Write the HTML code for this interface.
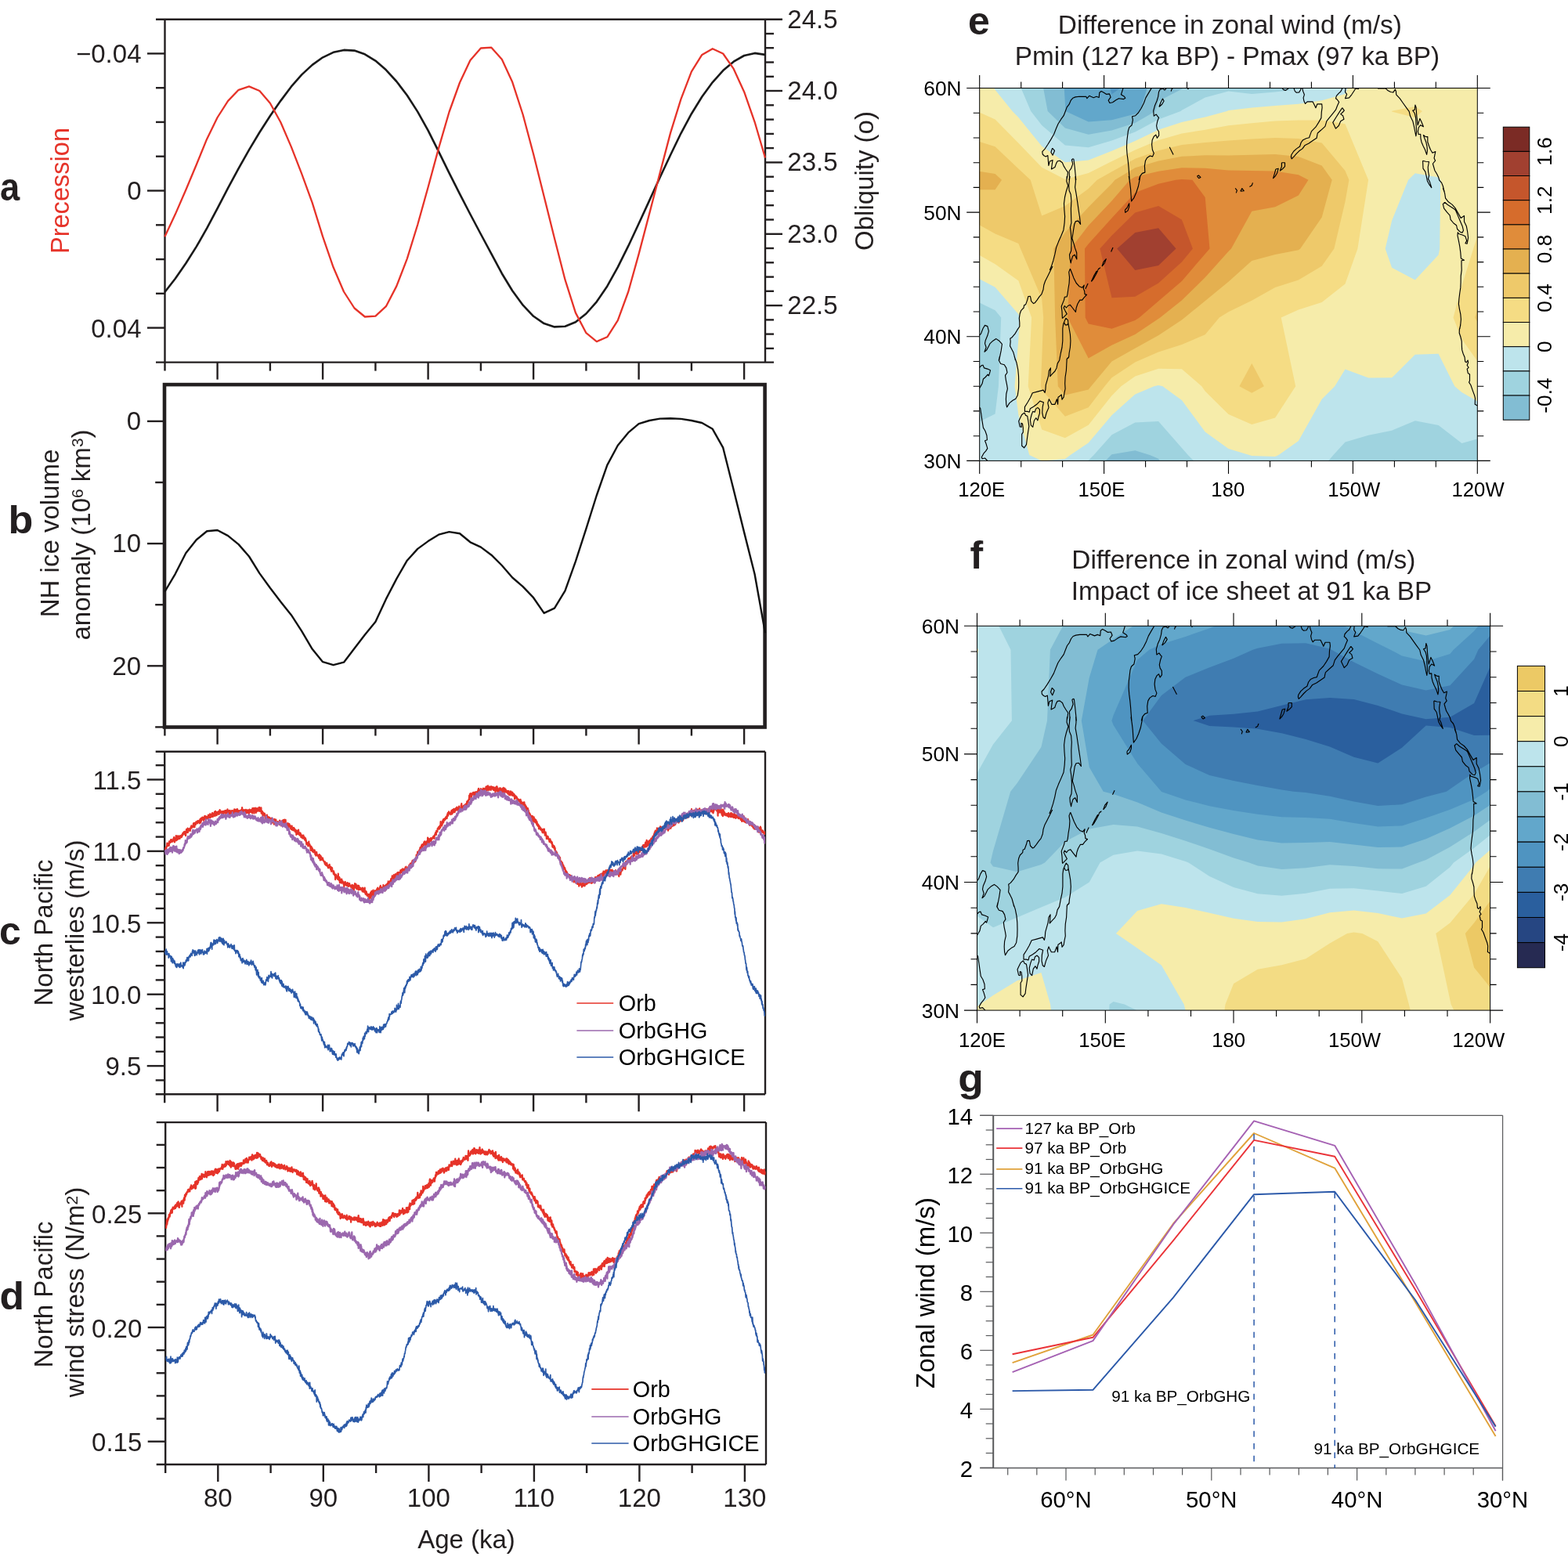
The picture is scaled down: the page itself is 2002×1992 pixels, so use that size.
<!DOCTYPE html>
<html lang="en"><head><meta charset="utf-8"><title>Figure</title><style>html,body{margin:0;padding:0;background:#fff}svg{display:block}</style></head><body>
<svg width="2002" height="1992" viewBox="0 0 2002 1992" font-family="'Liberation Sans', Arial, Helvetica, sans-serif">
<defs>
<clipPath id="clipc"><rect x="210.2" y="959.8" width="766.8" height="437.5"/></clipPath>
<clipPath id="clipd"><rect x="211.2" y="1433.1" width="766.8" height="436.9"/></clipPath>
<clipPath id="clipe"><rect x="1250.7" y="112.5" width="635.5999999999999" height="475.9"/></clipPath><clipPath id="clipf"><rect x="1247.5" y="799.3" width="655.0999999999999" height="490.79999999999995"/></clipPath>
</defs>
<rect width="2002" height="1992" fill="#fff"/>
<line x1="210.5" y1="24.7" x2="210.5" y2="473.6" stroke="#231f20" stroke-width="2.4"/>
<line x1="977" y1="24.7" x2="977" y2="462.6" stroke="#231f20" stroke-width="2.4"/>
<line x1="199" y1="24.7" x2="999" y2="24.7" stroke="#231f20" stroke-width="2.4"/>
<line x1="199" y1="462.6" x2="988" y2="462.6" stroke="#231f20" stroke-width="2.4"/>
<line x1="188" y1="68.4" x2="210.5" y2="68.4" stroke="#231f20" stroke-width="2.4"/>
<line x1="199" y1="112.2" x2="210.5" y2="112.2" stroke="#231f20" stroke-width="2.4"/>
<line x1="199" y1="155.9" x2="210.5" y2="155.9" stroke="#231f20" stroke-width="2.4"/>
<line x1="199" y1="199.7" x2="210.5" y2="199.7" stroke="#231f20" stroke-width="2.4"/>
<line x1="188" y1="243.5" x2="210.5" y2="243.5" stroke="#231f20" stroke-width="2.4"/>
<line x1="199" y1="287.3" x2="210.5" y2="287.3" stroke="#231f20" stroke-width="2.4"/>
<line x1="199" y1="331.1" x2="210.5" y2="331.1" stroke="#231f20" stroke-width="2.4"/>
<line x1="199" y1="374.8" x2="210.5" y2="374.8" stroke="#231f20" stroke-width="2.4"/>
<line x1="188" y1="418.6" x2="210.5" y2="418.6" stroke="#231f20" stroke-width="2.4"/>
<text x="180.5" y="80.3" font-size="33" text-anchor="end" fill="#231f20">−0.04</text>
<text x="180.5" y="255.4" font-size="33" text-anchor="end" fill="#231f20">0</text>
<text x="180.5" y="430.5" font-size="33" text-anchor="end" fill="#231f20">0.04</text>
<line x1="977" y1="43" x2="988" y2="43" stroke="#231f20" stroke-width="2.4"/>
<line x1="977" y1="61.2" x2="988" y2="61.2" stroke="#231f20" stroke-width="2.4"/>
<line x1="977" y1="79.5" x2="988" y2="79.5" stroke="#231f20" stroke-width="2.4"/>
<line x1="977" y1="97.8" x2="988" y2="97.8" stroke="#231f20" stroke-width="2.4"/>
<line x1="977" y1="116" x2="999" y2="116" stroke="#231f20" stroke-width="2.4"/>
<line x1="977" y1="134.3" x2="988" y2="134.3" stroke="#231f20" stroke-width="2.4"/>
<line x1="977" y1="152.6" x2="988" y2="152.6" stroke="#231f20" stroke-width="2.4"/>
<line x1="977" y1="170.9" x2="988" y2="170.9" stroke="#231f20" stroke-width="2.4"/>
<line x1="977" y1="189.1" x2="988" y2="189.1" stroke="#231f20" stroke-width="2.4"/>
<line x1="977" y1="207.4" x2="999" y2="207.4" stroke="#231f20" stroke-width="2.4"/>
<line x1="977" y1="225.7" x2="988" y2="225.7" stroke="#231f20" stroke-width="2.4"/>
<line x1="977" y1="243.9" x2="988" y2="243.9" stroke="#231f20" stroke-width="2.4"/>
<line x1="977" y1="262.2" x2="988" y2="262.2" stroke="#231f20" stroke-width="2.4"/>
<line x1="977" y1="280.5" x2="988" y2="280.5" stroke="#231f20" stroke-width="2.4"/>
<line x1="977" y1="298.8" x2="999" y2="298.8" stroke="#231f20" stroke-width="2.4"/>
<line x1="977" y1="317" x2="988" y2="317" stroke="#231f20" stroke-width="2.4"/>
<line x1="977" y1="335.3" x2="988" y2="335.3" stroke="#231f20" stroke-width="2.4"/>
<line x1="977" y1="353.6" x2="988" y2="353.6" stroke="#231f20" stroke-width="2.4"/>
<line x1="977" y1="371.8" x2="988" y2="371.8" stroke="#231f20" stroke-width="2.4"/>
<line x1="977" y1="390.1" x2="999" y2="390.1" stroke="#231f20" stroke-width="2.4"/>
<line x1="977" y1="408.4" x2="988" y2="408.4" stroke="#231f20" stroke-width="2.4"/>
<line x1="977" y1="426.6" x2="988" y2="426.6" stroke="#231f20" stroke-width="2.4"/>
<line x1="977" y1="444.9" x2="988" y2="444.9" stroke="#231f20" stroke-width="2.4"/>
<text x="1005.3" y="35.6" font-size="33" fill="#231f20">24.5</text>
<text x="1005.3" y="127" font-size="33" fill="#231f20">24.0</text>
<text x="1005.3" y="218.3" font-size="33" fill="#231f20">23.5</text>
<text x="1005.3" y="309.6" font-size="33" fill="#231f20">23.0</text>
<text x="1005.3" y="401" font-size="33" fill="#231f20">22.5</text>
<line x1="277.6" y1="462.6" x2="277.6" y2="484.6" stroke="#231f20" stroke-width="2.4"/>
<line x1="344.9" y1="462.6" x2="344.9" y2="473.6" stroke="#231f20" stroke-width="2.4"/>
<line x1="412.1" y1="462.6" x2="412.1" y2="484.6" stroke="#231f20" stroke-width="2.4"/>
<line x1="479.4" y1="462.6" x2="479.4" y2="473.6" stroke="#231f20" stroke-width="2.4"/>
<line x1="546.6" y1="462.6" x2="546.6" y2="484.6" stroke="#231f20" stroke-width="2.4"/>
<line x1="613.9" y1="462.6" x2="613.9" y2="473.6" stroke="#231f20" stroke-width="2.4"/>
<line x1="681.1" y1="462.6" x2="681.1" y2="484.6" stroke="#231f20" stroke-width="2.4"/>
<line x1="748.4" y1="462.6" x2="748.4" y2="473.6" stroke="#231f20" stroke-width="2.4"/>
<line x1="815.6" y1="462.6" x2="815.6" y2="484.6" stroke="#231f20" stroke-width="2.4"/>
<line x1="882.9" y1="462.6" x2="882.9" y2="473.6" stroke="#231f20" stroke-width="2.4"/>
<line x1="950.1" y1="462.6" x2="950.1" y2="484.6" stroke="#231f20" stroke-width="2.4"/>
<path d="M210.4,373 223.8,355.8 237.3,336.3 250.8,314.9 264.2,291.4 277.6,266.1 291.1,240.2 304.6,215.1 318,191.4 331.4,169 344.9,148 358.4,128.6 371.8,110.7 385.2,95.4 398.7,82.9 412.1,73.3 425.6,66.8 439,63.9 452.5,64.6 465.9,69.3 479.4,77.6 492.9,89.3 506.3,104 519.8,121.8 533.2,142.6 546.6,166.7 560.1,193.7 573.5,220.9 587,247.6 600.4,273.5 613.9,299 627.4,324.2 640.8,349.2 654.2,371.2 667.7,389.7 681.1,403.8 694.6,413.1 708,417.4 721.5,416.7 734.9,411.2 748.4,400.5 761.8,385.3 775.3,365.4 788.8,341.2 802.2,314.2 815.6,285.5 829.1,256.1 842.5,226.8 856,198 869.4,170.3 882.9,145.2 896.3,123.5 909.8,105.1 923.2,90.1 936.7,78.7 950.1,71 963.6,67.9 977,69.9" fill="none" stroke="#1a1a1a" stroke-width="2.6" stroke-linejoin="round"/>
<path d="M210.4,302.2 223.8,273.6 237.3,242.5 250.8,210.2 264.2,177.4 277.6,150 291.1,128.9 304.6,114.8 318,110.4 331.4,116 344.9,131.7 358.4,156.3 371.8,187.4 385.2,221.9 398.7,258.9 412.1,302.2 425.6,341.3 439,372.5 452.5,393.5 465.9,404.5 479.4,403.6 492.9,391.2 506.3,365.4 519.8,330.3 533.2,287 546.6,239 560.1,189.1 573.5,143 587,105.5 600.4,76.9 613.9,61.5 627.4,60.7 640.8,75.7 654.2,104.8 667.7,146.5 681.1,196.8 694.6,250.7 708,304.5 721.5,357.2 734.9,399.4 748.4,425.2 761.8,436.2 775.3,430.3 788.8,409.2 802.2,372.5 815.6,324.4 829.1,272.9 842.5,221.4 856,169.9 869.4,126.6 882.9,91.4 896.3,69.9 909.8,62.2 923.2,68.5 936.7,87.9 950.1,117.2 963.6,155.8 977,201.5" fill="none" stroke="#e63329" stroke-width="2.3" stroke-linejoin="round"/>
<text x="87.6" y="243.5" font-size="32.6" text-anchor="middle" transform="rotate(-90 87.6 243.5)" fill="#e63329">Precession</text>
<text x="1115" y="231" font-size="33" text-anchor="middle" transform="rotate(-90 1115 231)" fill="#231f20">Obliquity (o)</text>
<text x="0" y="256" font-size="50" font-weight="bold" textLength="25.2" lengthAdjust="spacingAndGlyphs" fill="#231f20">a</text>
<rect x="210.0" y="491.1" width="766.6" height="437.4" fill="none" stroke="#231f20" stroke-width="4.6"/>
<line x1="188" y1="537.9" x2="210" y2="537.9" stroke="#231f20" stroke-width="2.4"/>
<line x1="198.2" y1="616" x2="210" y2="616" stroke="#231f20" stroke-width="2.4"/>
<line x1="188" y1="694.1" x2="210" y2="694.1" stroke="#231f20" stroke-width="2.4"/>
<line x1="198.2" y1="772.2" x2="210" y2="772.2" stroke="#231f20" stroke-width="2.4"/>
<line x1="188" y1="850.3" x2="210" y2="850.3" stroke="#231f20" stroke-width="2.4"/>
<line x1="198.2" y1="928.4" x2="210" y2="928.4" stroke="#231f20" stroke-width="2.4"/>
<text x="180" y="549.1" font-size="33" text-anchor="end" fill="#231f20">0</text>
<text x="180" y="705.3" font-size="33" text-anchor="end" fill="#231f20">10</text>
<text x="180" y="861.5" font-size="33" text-anchor="end" fill="#231f20">20</text>
<line x1="210.4" y1="928.5" x2="210.4" y2="939.5" stroke="#231f20" stroke-width="2.4"/>
<line x1="277.6" y1="928.5" x2="277.6" y2="950.5" stroke="#231f20" stroke-width="2.4"/>
<line x1="344.9" y1="928.5" x2="344.9" y2="939.5" stroke="#231f20" stroke-width="2.4"/>
<line x1="412.1" y1="928.5" x2="412.1" y2="950.5" stroke="#231f20" stroke-width="2.4"/>
<line x1="479.4" y1="928.5" x2="479.4" y2="939.5" stroke="#231f20" stroke-width="2.4"/>
<line x1="546.6" y1="928.5" x2="546.6" y2="950.5" stroke="#231f20" stroke-width="2.4"/>
<line x1="613.9" y1="928.5" x2="613.9" y2="939.5" stroke="#231f20" stroke-width="2.4"/>
<line x1="681.1" y1="928.5" x2="681.1" y2="950.5" stroke="#231f20" stroke-width="2.4"/>
<line x1="748.4" y1="928.5" x2="748.4" y2="939.5" stroke="#231f20" stroke-width="2.4"/>
<line x1="815.6" y1="928.5" x2="815.6" y2="950.5" stroke="#231f20" stroke-width="2.4"/>
<line x1="882.9" y1="928.5" x2="882.9" y2="939.5" stroke="#231f20" stroke-width="2.4"/>
<line x1="950.1" y1="928.5" x2="950.1" y2="950.5" stroke="#231f20" stroke-width="2.4"/>
<path d="M210.4,755.5 223.8,732.8 237.3,706.3 250.8,689.2 264.2,678.2 277.6,677 291.1,684.1 304.6,695.1 318,710.5 331.4,732.1 344.9,750.8 358.4,768.4 371.8,785.2 385.2,805.8 398.7,828.8 412.1,845.2 425.6,849.2 439,845.7 452.5,828.1 465.9,810.5 479.4,794.1 492.9,764.9 506.3,739.1 519.8,715.7 533.2,700.9 546.6,691.1 560.1,682.7 573.5,679.1 587,681.3 600.4,692.3 613.9,698.6 627.4,708.7 640.8,722 654.2,737.5 667.7,749.2 681.1,763.2 694.6,782.9 708,776.6 721.5,754.3 734.9,716.9 748.4,675.2 761.8,632.5 775.3,593.9 788.8,568.8 802.2,552.4 815.6,541.2 829.1,537 842.5,534.6 856,534.2 869.4,534.9 882.9,537 896.3,540 909.8,547.8 923.2,571.7 936.7,625.5 950.1,679.6 963.6,733.2 977,808.2" fill="none" stroke="#111" stroke-width="2.4" stroke-linejoin="round"/>
<text x="75" y="681" font-size="33" text-anchor="middle" transform="rotate(-90 75 681)" fill="#231f20">NH ice volume</text>
<text x="114.7" y="683" font-size="33" text-anchor="middle" transform="rotate(-90 114.7 683)" fill="#231f20">anomaly (10<tspan font-size="21" dy="-8.5">6</tspan><tspan dy="8.5"> km</tspan><tspan font-size="21" dy="-8.5">3</tspan><tspan dy="8.5">)</tspan></text>
<text x="10.4" y="681.2" font-size="50" font-weight="bold" textLength="31.8" lengthAdjust="spacingAndGlyphs" fill="#231f20">b</text>
<line x1="210.2" y1="959.8" x2="210.2" y2="1408.3" stroke="#231f20" stroke-width="2.4"/>
<line x1="977" y1="959.8" x2="977" y2="1397.3" stroke="#231f20" stroke-width="2.4"/>
<line x1="198.7" y1="959.8" x2="977" y2="959.8" stroke="#231f20" stroke-width="2.4"/>
<line x1="198.7" y1="1397.3" x2="977" y2="1397.3" stroke="#231f20" stroke-width="2.4"/>
<line x1="198.7" y1="977.2" x2="210.2" y2="977.2" stroke="#231f20" stroke-width="2.4"/>
<line x1="187.7" y1="995.5" x2="210.2" y2="995.5" stroke="#231f20" stroke-width="2.4"/>
<line x1="198.7" y1="1013.8" x2="210.2" y2="1013.8" stroke="#231f20" stroke-width="2.4"/>
<line x1="198.7" y1="1032.1" x2="210.2" y2="1032.1" stroke="#231f20" stroke-width="2.4"/>
<line x1="198.7" y1="1050.3" x2="210.2" y2="1050.3" stroke="#231f20" stroke-width="2.4"/>
<line x1="198.7" y1="1068.6" x2="210.2" y2="1068.6" stroke="#231f20" stroke-width="2.4"/>
<line x1="187.7" y1="1086.9" x2="210.2" y2="1086.9" stroke="#231f20" stroke-width="2.4"/>
<line x1="198.7" y1="1105.2" x2="210.2" y2="1105.2" stroke="#231f20" stroke-width="2.4"/>
<line x1="198.7" y1="1123.5" x2="210.2" y2="1123.5" stroke="#231f20" stroke-width="2.4"/>
<line x1="198.7" y1="1141.7" x2="210.2" y2="1141.7" stroke="#231f20" stroke-width="2.4"/>
<line x1="198.7" y1="1160" x2="210.2" y2="1160" stroke="#231f20" stroke-width="2.4"/>
<line x1="187.7" y1="1178.3" x2="210.2" y2="1178.3" stroke="#231f20" stroke-width="2.4"/>
<line x1="198.7" y1="1196.6" x2="210.2" y2="1196.6" stroke="#231f20" stroke-width="2.4"/>
<line x1="198.7" y1="1214.9" x2="210.2" y2="1214.9" stroke="#231f20" stroke-width="2.4"/>
<line x1="198.7" y1="1233.1" x2="210.2" y2="1233.1" stroke="#231f20" stroke-width="2.4"/>
<line x1="198.7" y1="1251.4" x2="210.2" y2="1251.4" stroke="#231f20" stroke-width="2.4"/>
<line x1="187.7" y1="1269.7" x2="210.2" y2="1269.7" stroke="#231f20" stroke-width="2.4"/>
<line x1="198.7" y1="1288" x2="210.2" y2="1288" stroke="#231f20" stroke-width="2.4"/>
<line x1="198.7" y1="1306.3" x2="210.2" y2="1306.3" stroke="#231f20" stroke-width="2.4"/>
<line x1="198.7" y1="1324.5" x2="210.2" y2="1324.5" stroke="#231f20" stroke-width="2.4"/>
<line x1="198.7" y1="1342.8" x2="210.2" y2="1342.8" stroke="#231f20" stroke-width="2.4"/>
<line x1="187.7" y1="1361.1" x2="210.2" y2="1361.1" stroke="#231f20" stroke-width="2.4"/>
<line x1="198.7" y1="1379.4" x2="210.2" y2="1379.4" stroke="#231f20" stroke-width="2.4"/>
<text x="180.3" y="1007.7" font-size="33" text-anchor="end" fill="#231f20">11.5</text>
<text x="180.3" y="1099.1" font-size="33" text-anchor="end" fill="#231f20">11.0</text>
<text x="180.3" y="1190.5" font-size="33" text-anchor="end" fill="#231f20">10.5</text>
<text x="180.3" y="1281.9" font-size="33" text-anchor="end" fill="#231f20">10.0</text>
<text x="180.3" y="1373.3" font-size="33" text-anchor="end" fill="#231f20">9.5</text>
<line x1="277.6" y1="1397.3" x2="277.6" y2="1419.3" stroke="#231f20" stroke-width="2.4"/>
<line x1="344.9" y1="1397.3" x2="344.9" y2="1408.3" stroke="#231f20" stroke-width="2.4"/>
<line x1="412.1" y1="1397.3" x2="412.1" y2="1419.3" stroke="#231f20" stroke-width="2.4"/>
<line x1="479.4" y1="1397.3" x2="479.4" y2="1408.3" stroke="#231f20" stroke-width="2.4"/>
<line x1="546.6" y1="1397.3" x2="546.6" y2="1419.3" stroke="#231f20" stroke-width="2.4"/>
<line x1="613.9" y1="1397.3" x2="613.9" y2="1408.3" stroke="#231f20" stroke-width="2.4"/>
<line x1="681.1" y1="1397.3" x2="681.1" y2="1419.3" stroke="#231f20" stroke-width="2.4"/>
<line x1="748.4" y1="1397.3" x2="748.4" y2="1408.3" stroke="#231f20" stroke-width="2.4"/>
<line x1="815.6" y1="1397.3" x2="815.6" y2="1419.3" stroke="#231f20" stroke-width="2.4"/>
<line x1="882.9" y1="1397.3" x2="882.9" y2="1408.3" stroke="#231f20" stroke-width="2.4"/>
<line x1="950.1" y1="1397.3" x2="950.1" y2="1419.3" stroke="#231f20" stroke-width="2.4"/>
<g clip-path="url(#clipc)">
<path d="M210.1,1082.4l0.3,0.9 0.3,1.6 0.3,-1.2 0.3,0 0.3,-1.3 0.3,0.5 0.3,0.9 0.3,-2.6 0.3,0.1 0.3,-0.1 0.3,-4.6 0.3,2.7 0.3,0.5 0.3,0.1 0.3,-2 0.3,1.9 0.3,-3.1 0.3,0.3 0.3,2.8 0.3,-5.4 0.3,1.8 0.3,-0.1 0.3,0.1 0.3,-1.7 0.3,1.4 0.3,-3.1 0.3,-0.7 0.3,2.9 0.3,-3 0.3,3 0.3,-1 0.3,-1.5 0.3,0.9 0.3,0.4 0.3,0.8 0.3,-2.1 0.3,0.2 0.3,-2.2 0.3,1.9 0.3,-3.2 0.3,2.9 0.3,-0.8 0.3,4 0.3,-1.5 0.3,-2.5 0.3,1.7 0.3,-1.3 0.3,-2.4 0.3,-2.1 0.3,6 0.3,-1.6 0.3,-3.9 0.3,4.2 0.3,0.5 0.3,-3.1 0.3,2.6 0.3,-4.5 0.3,2.1 0.3,0.2 0.3,1.2 0.3,-0.8 0.3,-0.7 0.3,0.2 0.3,-2.2 0.3,3.4 0.3,-3.2 0.3,1.9 0.3,-1.9 0.3,-0.5 0.3,1.5 0.3,-0.5 0.3,1.1 0.3,-0.5 0.3,-2.9 0.3,1.8 0.3,-1 0.3,-2.1 0.3,-0.7 0.3,2 0.3,-1.4 0.3,-1.7 0.3,1.7 0.3,0 0.3,-0.2 0.3,-2.3 0.3,0.7 0.3,3.1 0.3,-3.7 0.3,0.6 0.3,4.5 0.3,-3.6 0.3,-1.7 0.3,-2.7 0.3,3.8 0.3,-3.7 0.3,2.1 0.3,-1.7 0.3,-1.9 0.3,5.5 0.3,-3.4 0.3,1.7 0.3,-0.6 0.3,-2.6 0.3,1.4 0.3,-1 0.3,1.8 0.3,-1.5 0.3,-1.2 0.3,3.1 0.3,-2.4 0.3,-0.3 0.3,-2.4 0.3,1.9 0.3,-3.4 0.3,3 0.3,-2.8 0.3,1.7 0.3,-1.2 0.3,0.7 0.3,0.3 0.3,-1.3 0.3,-0.7 0.3,-2.5 0.3,-0.4 0.3,5 0.3,-1.7 0.3,-3.6 0.3,5.4 0.3,-4.8 0.3,1.8 0.3,-0.2 0.3,-0.8 0.3,0.7 0.3,-3.6 0.3,1.9 0.3,-0.7 0.3,0.2 0.3,-0.8 0.3,-1 0.3,-0.6 0.3,3 0.3,-3.2 0.3,1.9 0.3,-0.1 0.3,-1 0.3,0.6 0.3,0.2 0.3,-2 0.3,1.1 0.3,2.7 0.3,-5.4 0.3,0.9 0.3,-1.1 0.3,4.4 0.3,-5.5 0.3,2 0.3,1.4 0.3,-3.6 0.3,1.1 0.3,-0.9 0.3,-1.3 0.3,1.9 0.3,0.9 0.3,-1.4 0.3,0.9 0.3,1.2 0.3,0.8 0.3,-4.5 0.3,3 0.3,-2.3 0.3,-2.2 0.3,1.7 0.3,2.3 0.3,-1.1 0.3,-2.3 0.3,4.4 0.3,-2.5 0.3,-0.7 0.3,-0.7 0.3,1.6 0.3,-1.4 0.3,2.2 0.3,-0.9 0.3,0.5 0.3,-1.9 0.3,-2.4 0.3,3.3 0.3,-3.1 0.3,1.5 0.3,-0.1 0.3,-1.1 0.3,2.9 0.3,-4.7 0.3,4.9 0.3,-4 0.3,2.8 0.3,0.5 0.3,-3.6 0.3,-0.1 0.3,3.1 0.3,-0.9 0.3,-0.6 0.3,-3.2 0.3,0 0.3,3.6 0.3,1.1 0.3,-3.3 0.3,-0.6 0.3,1.7 0.3,0.5 0.3,-0.1 0.3,-1.8 0.3,-2.8 0.3,5.7 0.3,-3.6 0.3,2.8 0.3,-5.6 0.3,3.9 0.3,-1.5 0.3,-1.1 0.3,3.7 0.3,0.4 0.3,-3.2 0.3,1.9 0.3,-3.1 0.3,0.5 0.3,0.8 0.3,-0.4 0.3,1.5 0.3,-3 0.3,3.7 0.3,-0.1 0.3,-2.4 0.3,-1.5 0.3,-1.9 0.3,3.6 0.3,-0.9 0.3,1.2 0.3,-2.2 0.3,1.9 0.3,-0.1 0.3,0.2 0.3,0.1 0.3,0.5 0.3,1 0.3,-3.3 0.3,2.7 0.3,-1 0.3,-0.9 0.3,-1 0.3,4.1 0.3,-1.9 0.3,-1.5 0.3,1.2 0.3,-0.2 0.3,-1.1 0.3,-1.4 0.3,2.7 0.3,-0.6 0.3,-0.3 0.3,2.3 0.3,-4.3 0.3,0.4 0.3,1.9 0.3,0.9 0.3,-0.3 0.3,0.2 0.3,-4.6 0.3,4.3 0.3,-0.2 0.3,0.6 0.3,-2.9 0.3,2.8 0.3,0.7 0.3,0.9 0.3,-2.1 0.3,-2.6 0.3,1.9 0.3,1.2 0.3,0 0.3,2.2 0.3,-3.6 0.3,-1.2 0.3,0.4 0.3,2.3 0.3,-2.4 0.3,-0.6 0.3,0.1 0.3,3.4 0.3,-1.8 0.3,-0.7 0.3,2.1 0.3,-0.1 0.3,-2.8 0.3,3.1 0.3,-1.1 0.3,-3.8 0.3,1.9 0.3,2.3 0.3,0.3 0.3,-1.4 0.3,-1.3 0.3,1.9 0.3,-3.4 0.3,3.9 0.3,-0.9 0.3,0.2 0.3,-1 0.3,2.7 0.3,-5.4 0.3,2.7 0.3,2.3 0.3,-2.4 0.3,3.5 0.3,-1.8 0.3,-2.3 0.3,3.1 0.3,-2.3 0.3,1.4 0.3,-2 0.3,-0.1 0.3,2 0.3,-1.1 0.3,-1.5 0.3,-0.4 0.3,2.4 0.3,1.9 0.3,-4.5 0.3,2.8 0.3,-5.7 0.3,2.5 0.3,3.6 0.3,1.2 0.3,-2.4 0.3,0.8 0.3,-0.4 0.3,1.6 0.3,-4.1 0.3,3 0.3,-2.1 0.3,0.3 0.3,0.2 0.3,-0.4 0.3,-0.9 0.3,1 0.3,-1.2 0.3,3.9 0.3,-1.4 0.3,-1.7 0.3,3.4 0.3,-0.9 0.3,-1.2 0.3,-1.6 0.3,1.5 0.3,0.4 0.3,1.5 0.3,-2.9 0.3,-0.6 0.3,4.7 0.3,-1.4 0.3,-1.6 0.3,-2.3 0.3,2.3 0.3,1 0.3,-0.4 0.3,0.2 0.3,-1.6 0.3,1.8 0.3,-2.8 0.3,0.7 0.3,-0.6 0.3,-0.4 0.3,4.6 0.3,-6.5 0.3,2.9 0.3,-2 0.3,-0.3 0.3,2 0.3,-2.7 0.3,2.4 0.3,4.3 0.3,-4.2 0.3,1.1 0.3,-2.5 0.3,2.1 0.3,-3.4 0.3,3 0.3,-0.5 0.3,3.6 0.3,-3.8 0.3,-0.3 0.3,-0.5 0.3,-1.2 0.3,3.2 0.3,0.8 0.3,-3.1 0.3,1.9 0.3,-1.9 0.3,1.5 0.3,-0.1 0.3,-3.2 0.3,1.2 0.3,3.5 0.3,-4.9 0.3,3.5 0.3,-0.1 0.3,-0.7 0.3,2.1 0.3,0.4 0.3,0.2 0.3,-5 0.3,7.3 0.3,-3.4 0.3,2.6 0.3,-1.5 0.3,-0.3 0.3,1 0.3,5.9 0.3,-2.4 0.3,-2.9 0.3,1.3 0.3,1.8 0.3,-0.4 0.3,-0.5 0.3,-0.2 0.3,-0.9 0.3,3.3 0.3,0.9 0.3,2.4 0.3,-4.1 0.3,2.1 0.3,-0.5 0.3,2.5 0.3,-2.2 0.3,-0.9 0.3,-1.5 0.3,4.3 0.3,-1 0.3,1.5 0.3,-2.7 0.3,5.4 0.3,-5.2 0.3,2.6 0.3,0.2 0.3,1.4 0.3,-2.1 0.3,-1.2 0.3,0.3 0.3,3.6 0.3,-0.9 0.3,0.5 0.3,-1.9 0.3,1.6 0.3,0.1 0.3,0.7 0.3,-3.4 0.3,1.7 0.3,4.4 0.3,-3.2 0.3,0.9 0.3,-0.4 0.3,-1.5 0.3,0.9 0.3,2.4 0.3,-1.7 0.3,4.6 0.3,-6 0.3,-0.8 0.3,2.7 0.3,-1.3 0.3,4.3 0.3,-3.1 0.3,1.4 0.3,-3.2 0.3,3.7 0.3,0.1 0.3,1.1 0.3,-1.6 0.3,0.4 0.3,-0.6 0.3,1.4 0.3,-2 0.3,1.7 0.3,-1.3 0.3,2.1 0.3,-1.4 0.3,-0.4 0.3,-0.2 0.3,3.5 0.3,-5.5 0.3,0.2 0.3,3.8 0.3,-2.7 0.3,0.9 0.3,-0.1 0.3,4.8 0.3,-5.5 0.3,0 0.3,0.6 0.3,0.8 0.3,1 0.3,-3.6 0.3,3.1 0.3,2.3 0.3,-6 0.3,3.9 0.3,0.6 0.3,-0.9 0.3,-0.4 0.3,-3.9 0.3,6 0.3,-2.1 0.3,0 0.3,2.4 0.3,-5.9 0.3,4.2 0.3,1.3 0.3,0.6 0.3,-0.3 0.3,2.9 0.3,-2.7 0.3,1.1 0.3,0.2 0.3,-3.1 0.3,1.2 0.3,5.1 0.3,-3.5 0.3,0.3 0.3,-2.4 0.3,1.7 0.3,-1.5 0.3,1.4 0.3,2.4 0.3,-2 0.3,0.4 0.3,3.8 0.3,-0.8 0.3,0.6 0.3,1.2 0.3,-2.4 0.3,0.7 0.3,-2.8 0.3,5.1 0.3,-1.5 0.3,0.8 0.3,-1.6 0.3,2.8 0.3,0.2 0.3,-0.3 0.3,-3.2 0.3,1.3 0.3,1.4 0.3,-1.5 0.3,2.4 0.3,1.5 0.3,-2.6 0.3,1.1 0.3,-0.7 0.3,3.1 0.3,-0.2 0.3,3.3 0.3,-4.1 0.3,-1.3 0.3,2.3 0.3,-1 0.3,0.9 0.3,2.3 0.3,-2.4 0.3,1.4 0.3,-4.5 0.3,6 0.3,-1.3 0.3,-0.3 0.3,-0.2 0.3,3 0.3,-3.4 0.3,3 0.3,-2.7 0.3,1.3 0.3,1 0.3,3.2 0.3,-2.5 0.3,0.3 0.3,-0.2 0.3,0.2 0.3,-0.3 0.3,3.9 0.3,-0.3 0.3,-3.1 0.3,1.2 0.3,-1.8 0.3,4.1 0.3,-0.1 0.3,-0.8 0.3,-1 0.3,3.1 0.3,0.6 0.3,-0.7 0.3,1.7 0.3,-3.1 0.3,1.9 0.3,0.4 0.3,2.4 0.3,3.1 0.3,-1.9 0.3,2.2 0.3,-1.6 0.3,-0.6 0.3,2.7 0.3,0.1 0.3,1.5 0.3,-0.4 0.3,-3 0.3,-2.5 0.3,5.1 0.3,-1.9 0.3,0.1 0.3,0.4 0.3,1.9 0.3,1.4 0.3,0.8 0.3,3.7 0.3,-5.4 0.3,2.2 0.3,-1.7 0.3,0.7 0.3,2.7 0.3,1.3 0.3,-2.7 0.3,4.3 0.3,-2.9 0.3,3.1 0.3,-1.6 0.3,2.2 0.3,-0.5 0.3,-1.3 0.3,1.6 0.3,-2.7 0.3,0.5 0.3,2 0.3,3.3 0.3,-3.3 0.3,0.8 0.3,4 0.3,-2.7 0.3,-0.2 0.3,-1.8 0.3,2.2 0.3,1.5 0.3,-0.7 0.3,1.6 0.3,-0.6 0.3,1.5 0.3,0 0.3,-1.4 0.3,1.8 0.3,1.9 0.3,-1.9 0.3,-2.7 0.3,2.8 0.3,-0.7 0.3,5.2 0.3,-2.9 0.3,-3.1 0.3,2 0.3,3.7 0.3,-4.1 0.3,1.8 0.3,1.2 0.3,-0.3 0.3,-0.2 0.3,1.5 0.3,-2.5 0.3,2 0.3,0.4 0.3,0.8 0.3,0.5 0.3,0.7 0.3,0 0.3,0 0.3,1.8 0.3,1.1 0.3,0.8 0.3,-3.2 0.3,3.1 0.3,1 0.3,-1.5 0.3,1.7 0.3,-1.4 0.3,1.2 0.3,-2.6 0.3,3.8 0.3,-1 0.3,-0.2 0.3,1.2 0.3,2.4 0.3,-0.1 0.3,-1.1 0.3,1.3 0.3,-1.9 0.3,-1.2 0.3,-1.4 0.3,3.1 0.3,0.2 0.3,0.8 0.3,0.4 0.3,2.2 0.3,-3.7 0.3,1.2 0.3,4.8 0.3,-1.1 0.3,-1.1 0.3,-2.5 0.3,2.3 0.3,1.3 0.3,0.6 0.3,0.9 0.3,-0.3 0.3,2.9 0.3,-3.4 0.3,2.3 0.3,-0.4 0.3,3 0.3,-0.8 0.3,1.1 0.3,-0.9 0.3,6.4 0.3,-4.6 0.3,-2 0.3,1.9 0.3,-0.3 0.3,2.3 0.3,0.6 0.3,-0.9 0.3,-0.6 0.3,-0.4 0.3,3.9 0.3,-0.3 0.3,-7 0.3,5.4 0.3,-1.3 0.3,1 0.3,3.6 0.3,-4.2 0.3,0.6 0.3,6.5 0.3,-4.6 0.3,0.4 0.3,2.6 0.3,-2.8 0.3,1.4 0.3,1 0.3,2.3 0.3,-5 0.3,1.6 0.3,1.5 0.3,1.8 0.3,-2.3 0.3,2.2 0.3,-1.4 0.3,0.4 0.3,3.1 0.3,-2.5 0.3,5.6 0.3,-4 0.3,1.6 0.3,-0.1 0.3,-3.9 0.3,-0.2 0.3,3.8 0.3,-2.3 0.3,0.9 0.3,0.2 0.3,-0.9 0.3,3.3 0.3,-0.6 0.3,-1.3 0.3,0.8 0.3,-2.8 0.3,3.2 0.3,-2.5 0.3,4.2 0.3,-3.4 0.3,0.1 0.3,2.9 0.3,-1.1 0.3,-2.3 0.3,2.8 0.3,-0.6 0.3,-0.1 0.3,1.1 0.3,0.1 0.3,1.1 0.3,-0.4 0.3,-0.4 0.3,-0.9 0.3,2.4 0.3,-3.4 0.3,4.6 0.3,0.4 0.3,0.1 0.3,-4.4 0.3,3.6 0.3,-1.3 0.3,0.1 0.3,4 0.3,-5.4 0.3,0.9 0.3,-2.6 0.3,-1.8 0.3,4.5 0.3,0.2 0.3,0.7 0.3,-0.5 0.3,-3.8 0.3,3.9 0.3,1.5 0.3,0.7 0.3,-4.1 0.3,0.2 0.3,0.6 0.3,0.2 0.3,-1.6 0.3,2 0.3,3.9 0.3,-4.4 0.3,-1 0.3,2.9 0.3,-0.3 0.3,2.2 0.3,-2.5 0.3,1.2 0.3,-0.7 0.3,0 0.3,2.1 0.3,-0.2 0.3,-0.4 0.3,1.1 0.3,-2.1 0.3,1.4 0.3,0.8 0.3,1.8 0.3,-4.9 0.3,2.9 0.3,1.8 0.3,-1.4 0.3,0.9 0.3,1.2 0.3,-0.7 0.3,-3.6 0.3,1.2 0.3,-2.3 0.3,6.4 0.3,-0.6 0.3,2.3 0.3,-2 0.3,-1.5 0.3,4.4 0.3,-4 0.3,3.3 0.3,-0.2 0.3,1.8 0.3,0.5 0.3,-2 0.3,-0.3 0.3,1.1 0.3,-0.5 0.3,2.7 0.3,-0.6 0.3,2 0.3,1.7 0.3,-6.2 0.3,0.1 0.3,1.9 0.3,-0.3 0.3,-1.3 0.3,-2.6 0.3,7.2 0.3,-4.1 0.3,-2.6 0.3,-2.3 0.3,6.4 0.3,-2.1 0.3,-0.8 0.3,-1.6 0.3,1.6 0.3,-0.5 0.3,-4.1 0.3,9.1 0.3,-4.1 0.3,-1.7 0.3,-1.5 0.3,0.3 0.3,5.3 0.3,-3.7 0.3,-3.2 0.3,3.1 0.3,-0.8 0.3,-0.4 0.3,-1.6 0.3,-0.1 0.3,0.3 0.3,-0.7 0.3,-2 0.3,0.1 0.3,1.6 0.3,-3.2 0.3,2.3 0.3,-0.2 0.3,1.4 0.3,-0.7 0.3,-0.9 0.3,-0.4 0.3,1.1 0.3,0.9 0.3,-3.8 0.3,-0.9 0.3,1 0.3,-2.5 0.3,2.5 0.3,2.6 0.3,0.4 0.3,0.6 0.3,-2.7 0.3,0.4 0.3,-1.4 0.3,0.3 0.3,1.3 0.3,0.7 0.3,-1 0.3,-4.3 0.3,4.1 0.3,-1.2 0.3,-1.3 0.3,0.8 0.3,1.2 0.3,-1.4 0.3,-1.4 0.3,6.4 0.3,-6.8 0.3,1.8 0.3,0.8 0.3,-3.7 0.3,2.4 0.3,-2.5 0.3,0.9 0.3,-0.9 0.3,4.3 0.3,-5.8 0.3,2.5 0.3,-1.3 0.3,-3.7 0.3,6 0.3,-4.2 0.3,0.4 0.3,0.5 0.3,-1.9 0.3,-0.4 0.3,1.1 0.3,-2 0.3,1.1 0.3,1.7 0.3,-4.4 0.3,-1.2 0.3,1.8 0.3,0.6 0.3,-0.1 0.3,-3.5 0.3,-2.6 0.3,5 0.3,-0.5 0.3,0.8 0.3,-4.8 0.3,2.6 0.3,0.6 0.3,-5 0.3,4.8 0.3,0.8 0.3,-2 0.3,-0.5 0.3,-0.1 0.3,-1.8 0.3,-2.2 0.3,0.9 0.3,1.3 0.3,-1.4 0.3,2.8 0.3,-2.9 0.3,0.8 0.3,-2.8 0.3,3.6 0.3,-2.2 0.3,3.5 0.3,-5.8 0.3,3.2 0.3,-1.9 0.3,-0.1 0.3,3.3 0.3,-1.4 0.3,-3.1 0.3,3.8 0.3,-3.6 0.3,2.5 0.3,-5.1 0.3,2 0.3,0.4 0.3,-0.5 0.3,-2.4 0.3,-0.5 0.3,2.9 0.3,1.1 0.3,-1.5 0.3,-1.2 0.3,-2.4 0.3,1.7 0.3,-0.6 0.3,-0.4 0.3,1.5 0.3,-0.4 0.3,0.8 0.3,-1.3 0.3,-1.2 0.3,1.1 0.3,-0.5 0.3,-2.6 0.3,2.1 0.3,-2.3 0.3,-0.5 0.3,1.9 0.3,-0.1 0.3,1.9 0.3,-1.5 0.3,1.2 0.3,1.4 0.3,-2.4 0.3,0.5 0.3,-2.4 0.3,2.2 0.3,-1.7 0.3,-0.3 0.3,-2.8 0.3,0 0.3,-0.4 0.3,1.2 0.3,1.6 0.3,-4.5 0.3,1.4 0.3,0.1 0.3,3.9 0.3,-4.7 0.3,-1.1 0.3,1.8 0.3,-3.4 0.3,2.8 0.3,-4.5 0.3,5.9 0.3,-3.6 0.3,-0.9 0.3,-1.7 0.3,1.3 0.3,0.3 0.3,-2.1 0.3,2.9 0.3,-2.7 0.3,0.6 0.3,-0.1 0.3,1.5 0.3,-3.7 0.3,0 0.3,0.1 0.3,-0.1 0.3,-4.9 0.3,4.1 0.3,-2.8 0.3,-1.5 0.3,0.3 0.3,-4 0.3,1.6 0.3,1 0.3,1.2 0.3,-3.4 0.3,0.1 0.3,-1.9 0.3,1.6 0.3,-2.9 0.3,1.2 0.3,-2.2 0.3,-1.7 0.3,-0.5 0.3,0 0.3,2.3 0.3,2.9 0.3,-6.1 0.3,-1.8 0.3,1.7 0.3,-0.5 0.3,-2.1 0.3,4 0.3,-2.2 0.3,-0.2 0.3,-1.7 0.3,0 0.3,1.1 0.3,-3.9 0.3,0.6 0.3,1.6 0.3,-3.1 0.3,5 0.3,-3.9 0.3,0.6 0.3,1.2 0.3,1.7 0.3,-2.6 0.3,-1.5 0.3,-0.6 0.3,1.8 0.3,-1.5 0.3,5 0.3,-2.2 0.3,-7.7 0.3,3.8 0.3,2 0.3,3.1 0.3,-7.7 0.3,2.6 0.3,2.6 0.3,-3.3 0.3,1 0.3,-1.2 0.3,1.5 0.3,-3.2 0.3,1.8 0.3,-2.7 0.3,4 0.3,-0.8 0.3,-1.1 0.3,-0.3 0.3,-0.7 0.3,-0.9 0.3,0.5 0.3,-0.2 0.3,-1 0.3,-1.2 0.3,0 0.3,-0.6 0.3,1.2 0.3,-0.9 0.3,3 0.3,-4.3 0.3,0 0.3,-1.6 0.3,0.3 0.3,-1.7 0.3,-0.7 0.3,0.8 0.3,2.1 0.3,-4.9 0.3,-0.2 0.3,0.1 0.3,-0.2 0.3,1.5 0.3,-4 0.3,0.5 0.3,-1.5 0.3,-0.1 0.3,0.1 0.3,-1.3 0.3,2.3 0.3,0.5 0.3,-3.6 0.3,-0.4 0.3,2.7 0.3,-3.2 0.3,2.6 0.3,-7.6 0.3,4 0.3,-1.9 0.3,0.4 0.3,2.1 0.3,0.6 0.3,-3.1 0.3,1.7 0.3,-4.6 0.3,1.9 0.3,-1.4 0.3,-2.6 0.3,4 0.3,-3.3 0.3,1.3 0.3,-2.6 0.3,1.2 0.3,0.3 0.3,-1.3 0.3,-0.9 0.3,1.5 0.3,-1.3 0.3,-1.9 0.3,0.2 0.3,-0.3 0.3,-0.9 0.3,1.5 0.3,1.1 0.3,-4.5 0.3,0.1 0.3,-1.6 0.3,-1 0.3,3.8 0.3,-3.3 0.3,1.3 0.3,-3.3 0.3,0.9 0.3,1.8 0.3,-0.2 0.3,-0.9 0.3,0.1 0.3,-0.3 0.3,1.5 0.3,0.8 0.3,-2 0.3,-1.4 0.3,-1.5 0.3,0.8 0.3,0.5 0.3,2.9 0.3,-5.4 0.3,1 0.3,-0.5 0.3,3.2 0.3,-2.3 0.3,-1.7 0.3,-0.9 0.3,3.9 0.3,-3.7 0.3,4.1 0.3,0 0.3,-3.8 0.3,1 0.3,0.8 0.3,-2.9 0.3,0 0.3,1.1 0.3,0.9 0.3,0.3 0.3,-3.8 0.3,3.5 0.3,-0.7 0.3,-0.5 0.3,-0.9 0.3,2.1 0.3,1 0.3,-3.8 0.3,0.5 0.3,-2.3 0.3,1.8 0.3,1.7 0.3,-1 0.3,0.7 0.3,-0.6 0.3,0.5 0.3,0.8 0.3,-0.1 0.3,-5 0.3,2.5 0.3,-4.7 0.3,4.8 0.3,-1.2 0.3,-0.1 0.3,3.3 0.3,-2 0.3,1.1 0.3,-1.1 0.3,1.5 0.3,-3.6 0.3,0.3 0.3,-0.4 0.3,4.1 0.3,-4.9 0.3,0.6 0.3,1.9 0.3,-0.7 0.3,-3 0.3,3.1 0.3,-2.4 0.3,1 0.3,-2.3 0.3,0.1 0.3,-2.8 0.3,3.4 0.3,-4.1 0.3,0.9 0.3,1.1 0.3,-2.6 0.3,0.5 0.3,-0.7 0.3,-1.4 0.3,-0.6 0.3,-4.4 0.3,1.2 0.3,4.2 0.3,-7.3 0.3,1.8 0.3,2.2 0.3,-4.7 0.3,1.4 0.3,-0.3 0.3,4.2 0.3,-4.7 0.3,2.3 0.3,-2.5 0.3,1.1 0.3,-1.8 0.3,-0.5 0.3,1.7 0.3,-2.1 0.3,2.3 0.3,0.4 0.3,0.3 0.3,1.7 0.3,-0.5 0.3,-4.4 0.3,0.5 0.3,3.8 0.3,-3.7 0.3,-0.7 0.3,2.4 0.3,-2.9 0.3,2.4 0.3,-2.1 0.3,2.8 0.3,-2.7 0.3,1.8 0.3,-0.2 0.3,0.5 0.3,-4.4 0.3,0.1 0.3,-2.1 0.3,-0.3 0.3,2.3 0.3,1.1 0.3,2.1 0.3,-2.9 0.3,3.8 0.3,-3 0.3,1 0.3,-1.9 0.3,-2.1 0.3,5 0.3,-3.4 0.3,2.5 0.3,-3 0.3,1.4 0.3,-1.3 0.3,-0.2 0.3,0 0.3,1.7 0.3,-3.2 0.3,0.1 0.3,3.5 0.3,-3 0.3,1.7 0.3,-2.2 0.3,1.9 0.3,1.9 0.3,-2 0.3,0.2 0.3,-1.1 0.3,0.5 0.3,-3.5 0.3,0.3 0.3,3.9 0.3,-4.5 0.3,5.3 0.3,-0.9 0.3,-3.4 0.3,-1.6 0.3,-0.5 0.3,4.3 0.3,-1.1 0.3,2 0.3,-1.2 0.3,1.8 0.3,-1.3 0.3,-3.2 0.3,1 0.3,-1 0.3,1.3 0.3,-0.1 0.3,0.2 0.3,3 0.3,-3.4 0.3,-1.4 0.3,0.7 0.3,0.2 0.3,-0.1 0.3,0.7 0.3,-0.7 0.3,2.8 0.3,0.2 0.3,-2.9 0.3,3.2 0.3,0.9 0.3,-1.6 0.3,-1.8 0.3,2.5 0.3,-1 0.3,0.7 0.3,-2.3 0.3,6.2 0.3,-4 0.3,0.9 0.3,-1.5 0.3,1.2 0.3,-4.1 0.3,1.8 0.3,-1.8 0.3,5.9 0.3,-3.9 0.3,-0.1 0.3,4.8 0.3,-2.7 0.3,0.4 0.3,2 0.3,-0.8 0.3,-0.2 0.3,0.7 0.3,-4.2 0.3,5.9 0.3,0.1 0.3,1.1 0.3,-7 0.3,1.9 0.3,0.5 0.3,3.6 0.3,-1.7 0.3,1.8 0.3,-2.1 0.3,-2.4 0.3,-1.2 0.3,1.2 0.3,3.4 0.3,-4.1 0.3,-1.4 0.3,3.9 0.3,2.1 0.3,1.7 0.3,-2 0.3,-0.7 0.3,-4.4 0.3,2.8 0.3,0 0.3,0.6 0.3,-1.7 0.3,3.2 0.3,0.3 0.3,-1.8 0.3,0 0.3,1.1 0.3,0.5 0.3,0.9 0.3,-2.6 0.3,3.8 0.3,-2.5 0.3,-0.1 0.3,1.4 0.3,-2.2 0.3,2.5 0.3,2.5 0.3,-2.5 0.3,-0.2 0.3,-0.9 0.3,3.9 0.3,-0.7 0.3,-4.4 0.3,4.2 0.3,-2.6 0.3,-0.8 0.3,2.2 0.3,-0.9 0.3,3.1 0.3,-4.1 0.3,0.6 0.3,0.9 0.3,1.6 0.3,1.6 0.3,-2.5 0.3,1.1 0.3,-1 0.3,2.4 0.3,-1.3 0.3,5.5 0.3,-0.4 0.3,-4.2 0.3,1.9 0.3,0.3 0.3,-1.5 0.3,0.4 0.3,2.1 0.3,-1.4 0.3,0.3 0.3,0.8 0.3,2.7 0.3,-1.8 0.3,2 0.3,0.2 0.3,0.7 0.3,-1.5 0.3,-0.3 0.3,0.3 0.3,1.9 0.3,0.2 0.3,-0.5 0.3,1 0.3,4 0.3,-2.6 0.3,-4.2 0.3,5.8 0.3,-1.9 0.3,-1.6 0.3,4.6 0.3,-2.3 0.3,2 0.3,-2.6 0.3,2.9 0.3,-2 0.3,2.2 0.3,0 0.3,-3.2 0.3,2.5 0.3,0.4 0.3,-0.5 0.3,-2.8 0.3,3.8 0.3,-0.2 0.3,3.2 0.3,-3.5 0.3,4 0.3,-1.1 0.3,4.9 0.3,-5.7 0.3,3.8 0.3,-1.8 0.3,-0.4 0.3,4.2 0.3,-0.5 0.3,1.2 0.3,-4.1 0.3,1.2 0.3,3.5 0.3,-1.9 0.3,3.9 0.3,1.3 0.3,-2.4 0.3,1 0.3,0.8 0.3,-0.4 0.3,1.1 0.3,0.4 0.3,1.4 0.3,-0.6 0.3,0.4 0.3,0.6 0.3,-0.5 0.3,1.3 0.3,2 0.3,3 0.3,-6.2 0.3,0.8 0.3,2.4 0.3,0.5 0.3,0.3 0.3,3.1 0.3,-5.8 0.3,3.6 0.3,-1.5 0.3,1.9 0.3,2.1 0.3,-3.2 0.3,4.3 0.3,-3 0.3,0.1 0.3,-0.5 0.3,2 0.3,0.5 0.3,3.3 0.3,-3.5 0.3,3.2 0.3,1.4 0.3,-1.1 0.3,1.9 0.3,-2.2 0.3,2.2 0.3,-0.9 0.3,4.4 0.3,-4 0.3,1 0.3,1.8 0.3,-1.4 0.3,0.9 0.3,1.5 0.3,1.2 0.3,-2 0.3,1.3 0.3,-0.1 0.3,1.8 0.3,0.4 0.3,-0.9 0.3,0.2 0.3,3 0.3,-4 0.3,4.4 0.3,-1.4 0.3,-3.1 0.3,2.8 0.3,-2.7 0.3,2.7 0.3,-3.1 0.3,5.4 0.3,-1.7 0.3,4.3 0.3,-3.8 0.3,1.7 0.3,-1.8 0.3,2.2 0.3,1 0.3,1.4 0.3,3.8 0.3,-1.1 0.3,-0.9 0.3,-1.3 0.3,0.2 0.3,0.8 0.3,-0.6 0.3,3.1 0.3,-1 0.3,1.5 0.3,-0.6 0.3,1.3 0.3,2.4 0.3,-2 0.3,1.2 0.3,-2.7 0.3,1.7 0.3,0.1 0.3,2.4 0.3,-0.1 0.3,-1 0.3,2.2 0.3,0.5 0.3,-1.8 0.3,3.2 0.3,2.9 0.3,-3.1 0.3,3.5 0.3,-0.4 0.3,-0.7 0.3,0.9 0.3,-1.6 0.3,3.4 0.3,-2.8 0.3,1.2 0.3,3.3 0.3,-2.4 0.3,5.9 0.3,-2.2 0.3,1.6 0.3,0.8 0.3,-1.7 0.3,0.8 0.3,1.2 0.3,-0.4 0.3,3.7 0.3,-0.4 0.3,-0.6 0.3,2.7 0.3,-1.3 0.3,1.7 0.3,-0.4 0.3,-0.3 0.3,-0.4 0.3,1.3 0.3,2.1 0.3,1.5 0.3,-3.6 0.3,4 0.3,2.2 0.3,-0.6 0.3,-0.8 0.3,1.1 0.3,4.6 0.3,-5 0.3,2.8 0.3,2.4 0.3,-4 0.3,5.2 0.3,-3.2 0.3,4.6 0.3,3.2 0.3,-6.3 0.3,2.8 0.3,1 0.3,-1.4 0.3,2.2 0.3,-1.7 0.3,1.2 0.3,0.6 0.3,1.7 0.3,1.6 0.3,1.6 0.3,-1.1 0.3,-1.2 0.3,1.1 0.3,0.3 0.3,0.2 0.3,2.2 0.3,-0.6 0.3,0.4 0.3,0.3 0.3,0.3 0.3,0 0.3,2.7 0.3,-0.8 0.3,0.1 0.3,-1.4 0.3,1.3 0.3,0.4 0.3,2.3 0.3,-3.3 0.3,4.5 0.3,-1.1 0.3,-1.2 0.3,0.2 0.3,2.6 0.3,0 0.3,-3.2 0.3,2.2 0.3,-0.3 0.3,1.7 0.3,-1 0.3,2.2 0.3,-1.4 0.3,0.8 0.3,2.7 0.3,-2.5 0.3,0.3 0.3,0.9 0.3,-2.1 0.3,-0.4 0.3,2.8 0.3,-0.9 0.3,-1.2 0.3,4.1 0.3,-0.3 0.3,-0.4 0.3,-0.9 0.3,0.8 0.3,-0.6 0.3,2.7 0.3,-3.7 0.3,3 0.3,-0.7 0.3,-1.7 0.3,3.1 0.3,-1.2 0.3,4 0.3,-1.4 0.3,-2.4 0.3,-0.3 0.3,-0.7 0.3,0.1 0.3,1.7 0.3,-2.5 0.3,4.1 0.3,-0.2 0.3,-1.2 0.3,1.3 0.3,2.5 0.3,-3.1 0.3,2.3 0.3,-3.7 0.3,-0.3 0.3,3.2 0.3,-5.1 0.3,5 0.3,-1.8 0.3,-0.6 0.3,0.7 0.3,0.2 0.3,1.9 0.3,-0.8 0.3,-1.2 0.3,-1 0.3,-1.6 0.3,1.6 0.3,-4.8 0.3,5.7 0.3,-1.6 0.3,-2.8 0.3,3.8 0.3,-2.7 0.3,0.6 0.3,-2.3 0.3,1.9 0.3,1.2 0.3,-0.6 0.3,0.5 0.3,-2 0.3,1.9 0.3,-3.7 0.3,1.6 0.3,-3.8 0.3,4 0.3,-0.1 0.3,0.6 0.3,0.7 0.3,1.2 0.3,-4.3 0.3,1.5 0.3,-3.5 0.3,6.4 0.3,-1.3 0.3,-1.3 0.3,1.3 0.3,-0.3 0.3,-2.9 0.3,1.8 0.3,0.8 0.3,-0.7 0.3,-1.8 0.3,-0.4 0.3,4.6 0.3,-4.1 0.3,0.2 0.3,-3.6 0.3,3.4 0.3,-0.9 0.3,-2.2 0.3,3.5 0.3,-2.3 0.3,1 0.3,-0.6 0.3,-2.2 0.3,1.5 0.3,1.3 0.3,-4.3 0.3,-0.2 0.3,0.1 0.3,2.4 0.3,-2 0.3,1.2 0.3,1.1 0.3,-3.9 0.3,4.1 0.3,-2.2 0.3,-0.3 0.3,2.5 0.3,-1.9 0.3,-3.2 0.3,2.3 0.3,-1.3 0.3,1.7 0.3,-1.7 0.3,0.2 0.3,2.5 0.3,-4.7 0.3,3.1 0.3,-1.1 0.3,0.5 0.3,-4.8 0.3,1.9 0.3,0.6 0.3,3.2 0.3,-5.4 0.3,0.1 0.3,1 0.3,0.7 0.3,-2.1 0.3,1.4 0.3,-2.7 0.3,5.6 0.3,-3.3 0.3,0.7 0.3,4.2 0.3,-5.8 0.3,-1.6 0.3,0.3 0.3,4.2 0.3,-3.4 0.3,-0.9 0.3,1.2 0.3,-0.5 0.3,1.8 0.3,-0.7 0.3,-0.6 0.3,0 0.3,-1.8 0.3,-0.3 0.3,2.6 0.3,0.4 0.3,-0.4 0.3,0.1 0.3,0.7 0.3,-2.6 0.3,1.6 0.3,-0.4 0.3,-1.9 0.3,4 0.3,-1.1 0.3,1.2 0.3,0.5 0.3,-2.6 0.3,4.2 0.3,-2.1 0.3,1.4 0.3,0.7 0.3,-3.2 0.3,-0.2 0.3,1.2 0.3,1.8 0.3,-0.1 0.3,-5 0.3,5.8 0.3,-2.9 0.3,1.8 0.3,-2.7 0.3,0.7 0.3,2.1 0.3,-3.6 0.3,4.1 0.3,-2.1 0.3,1.5 0.3,-0.6 0.3,-0.9 0.3,3.4 0.3,1.3 0.3,-3 0.3,-3.9 0.3,3 0.3,-1.1 0.3,1.3 0.3,-1.7 0.3,3 0.3,-2.8 0.3,-0.6 0.3,-1.8 0.3,-1.5 0.3,0.9 0.3,0.7 0.3,-0.1 0.3,-0.8 0.3,-1.3 0.3,0 0.3,-1.6 0.3,-1.3 0.3,-0.4 0.3,2 0.3,0.3 0.3,-2.2 0.3,-0.3 0.3,0.4 0.3,-1.7 0.3,5.4 0.3,-5.7 0.3,-1.8 0.3,-2.6 0.3,2.9 0.3,0.9 0.3,-2.4 0.3,2.2 0.3,-3.7 0.3,0.4 0.3,-0.6 0.3,-1.1 0.3,-1.6 0.3,0.8 0.3,-1.9 0.3,4.1 0.3,-2.3 0.3,0.1 0.3,-1 0.3,2.3 0.3,-3.4 0.3,3.8 0.3,-1.6 0.3,-3.1 0.3,0.6 0.3,1 0.3,0.6 0.3,-3.8 0.3,0.2 0.3,5.2 0.3,-2.8 0.3,-0.5 0.3,1.2 0.3,-2.9 0.3,-2 0.3,-2.5 0.3,4.3 0.3,-3.6 0.3,2.9 0.3,-4.8 0.3,2.4 0.3,0.2 0.3,-2.3 0.3,1.1 0.3,-0.8 0.3,1.1 0.3,-2.9 0.3,1.1 0.3,3 0.3,-0.6 0.3,0.6 0.3,-2.3 0.3,-1.4 0.3,1.3 0.3,0.2 0.3,-0.8 0.3,2.3 0.3,-3.9 0.3,0.5 0.3,-2.6 0.3,1.6 0.3,2.5 0.3,-2 0.3,0.7 0.3,-1.2 0.3,0.6 0.3,-3.3 0.3,2.4 0.3,0.1 0.3,0.3 0.3,0.2 0.3,-3.2 0.3,-1.9 0.3,0.9 0.3,3.2 0.3,-4.3 0.3,-1.4 0.3,0.1 0.3,-0.5 0.3,3.1 0.3,-2.9 0.3,-0.1 0.3,2.7 0.3,-0.9 0.3,-0.2 0.3,-3.1 0.3,-1.8 0.3,3.5 0.3,2.4 0.3,-3.6 0.3,0.2 0.3,-5.3 0.3,7.8 0.3,-3.5 0.3,-2.9 0.3,2.5 0.3,-1.3 0.3,1.6 0.3,2.5 0.3,-5.1 0.3,1 0.3,-1.1 0.3,-0.8 0.3,1.5 0.3,1.7 0.3,-2.2 0.3,-1.9 0.3,1.3 0.3,-1.2 0.3,0.6 0.3,-2.7 0.3,0.6 0.3,2.3 0.3,-3.1 0.3,1.2 0.3,-2.1 0.3,-0.1 0.3,-1.5 0.3,5.5 0.3,-3.1 0.3,-0.3 0.3,-0.5 0.3,-4.3 0.3,-0.2 0.3,0.5 0.3,-3.2 0.3,1.3 0.3,2.4 0.3,-5.4 0.3,1.7 0.3,1 0.3,-0.5 0.3,-0.6 0.3,-1.3 0.3,2.4 0.3,-5.9 0.3,4.4 0.3,-3.4 0.3,1.1 0.3,1 0.3,2.7 0.3,-4.6 0.3,-1.1 0.3,3.6 0.3,-2.5 0.3,0 0.3,0.5 0.3,1.2 0.3,-1.2 0.3,-3.7 0.3,3 0.3,0.7 0.3,-2.5 0.3,-0.1 0.3,2.6 0.3,-1 0.3,-1.9 0.3,2.5 0.3,-0.3 0.3,-2.3 0.3,1.9 0.3,-1.7 0.3,0.6 0.3,1.8 0.3,-3 0.3,-0.3 0.3,2.7 0.3,-2.2 0.3,0.8 0.3,-0.2 0.3,0.2 0.3,0.7 0.3,-1.3 0.3,-0.6 0.3,0.3 0.3,2.6 0.3,-0.4 0.3,-1.8 0.3,2.1 0.3,-1 0.3,-2.9 0.3,4.4 0.3,1.9 0.3,-4.2 0.3,-3.2 0.3,5.6 0.3,-1.4 0.3,-1.2 0.3,-3.5 0.3,3 0.3,-0.2 0.3,-0.2 0.3,-0.1 0.3,2.5 0.3,-2.8 0.3,1.3 0.3,-4.2 0.3,1.7 0.3,1.6 0.3,-2 0.3,1.4 0.3,-0.7 0.3,0 0.3,-1.2 0.3,1.4 0.3,-3.7 0.3,1.1 0.3,2.5 0.3,-3.7 0.3,2.9 0.3,-2.5 0.3,-0.8 0.3,0.5 0.3,2.3 0.3,-3.9 0.3,-1.9 0.3,2.6 0.3,0.4 0.3,0 0.3,-4.2 0.3,3.1 0.3,-0.5 0.3,-1.1 0.3,-0.5 0.3,1.5 0.3,-0.9 0.3,0 0.3,3.1 0.3,-3.6 0.3,-2.6 0.3,0.4 0.3,0.2 0.3,-1.5 0.3,4.3 0.3,0.9 0.3,-4 0.3,2.6 0.3,-2.6 0.3,0 0.3,-2.2 0.3,2.9 0.3,2.3 0.3,-0.2 0.3,-1.8 0.3,-1.4 0.3,2.4 0.3,0.8 0.3,-5 0.3,1.8 0.3,-1.3 0.3,-1.2 0.3,-0.8 0.3,0.1 0.3,1.1 0.3,0.1 0.3,0.2 0.3,2.2 0.3,-3.6 0.3,-0.9 0.3,0.1 0.3,2.6 0.3,-1.7 0.3,-2.2 0.3,4.3 0.3,0.9 0.3,-1.7 0.3,0.7 0.3,-4.3 0.3,-0.6 0.3,2.5 0.3,-0.1 0.3,-1.3 0.3,-0.5 0.3,-0.8 0.3,3.3 0.3,-4.2 0.3,1.2 0.3,2.1 0.3,-3.6 0.3,1.5 0.3,-0.8 0.3,0.9 0.3,-5.4 0.3,3.3 0.3,-1 0.3,2.8 0.3,-1.9 0.3,-0.8 0.3,2.6 0.3,-0.6 0.3,0.6 0.3,-0.2 0.3,-0.9 0.3,-2.4 0.3,1.6 0.3,-0.1 0.3,-0.2 0.3,0.1 0.3,-0.3 0.3,-0.9 0.3,0.5 0.3,-1.5 0.3,0.1 0.3,2.7 0.3,-1.8 0.3,0.9 0.3,-0.6 0.3,-1.6 0.3,2.2 0.3,3.3 0.3,-3 0.3,-1.1 0.3,2.6 0.3,-2.6 0.3,-0.2 0.3,-2 0.3,-0.3 0.3,4 0.3,-0.7 0.3,-0.6 0.3,1.4 0.3,-1.6 0.3,0.9 0.3,-1.2 0.3,-0.2 0.3,0.5 0.3,3.2 0.3,-0.3 0.3,-2.9 0.3,1.4 0.3,0.9 0.3,-1.8 0.3,2.7 0.3,-2.4 0.3,0.7 0.3,0.2 0.3,-2.4 0.3,0.2 0.3,1.3 0.3,3.5 0.3,-1.4 0.3,-0.4 0.3,-2.3 0.3,-0.2 0.3,0.9 0.3,0.3 0.3,-3.1 0.3,1.4 0.3,-0.1 0.3,3.2 0.3,-3.2 0.3,-0.6 0.3,2.6 0.3,-2.2 0.3,2.1 0.3,-3.4 0.3,4.7 0.3,-3.4 0.3,0.8 0.3,-1 0.3,0.4 0.3,-0.3 0.3,-0.3 0.3,2.5 0.3,-6 0.3,2 0.3,1.5 0.3,0 0.3,2.7 0.3,-1.6 0.3,-0.9 0.3,-1.4 0.3,4.8 0.3,-1.8 0.3,2.8 0.3,-6.7 0.3,5.1 0.3,-3.2 0.3,-1.5 0.3,1.7 0.3,0 0.3,-0.7 0.3,-1.9 0.3,1.8 0.3,-1.8 0.3,2.5 0.3,-2.2 0.3,2.7 0.3,-1.1 0.3,2.4 0.3,-2.4 0.3,-0.8 0.3,0.2 0.3,2.9 0.3,6.3 0.3,-9.1 0.3,1.8 0.3,3.4 0.3,-1.3 0.3,1.2 0.3,-1.5 0.3,0.1 0.3,-0.8 0.3,-1.6 0.3,2.3 0.3,-1.6 0.3,3.1 0.3,-5.4 0.3,1.4 0.3,3.2 0.3,0.5 0.3,3.3 0.3,-4.7 0.3,3.1 0.3,-4.1 0.3,7.3 0.3,-8.6 0.3,7.3 0.3,-3.1 0.3,-2.4 0.3,2.1 0.3,2.9 0.3,-1.9 0.3,-0.9 0.3,2 0.3,0 0.3,1.5 0.3,0 0.3,-1.6 0.3,-0.3 0.3,1.6 0.3,-0.3 0.3,1 0.3,-2.3 0.3,2.2 0.3,-1.4 0.3,2.1 0.3,-1 0.3,-0.8 0.3,-2.1 0.3,4.9 0.3,-3.2 0.3,0.6 0.3,0.4 0.3,1 0.3,-1.7 0.3,-0.1 0.3,-1.5 0.3,4.6 0.3,-2.5 0.3,-0.1 0.3,-2.6 0.3,2.4 0.3,2.2 0.3,0.6 0.3,-3.6 0.3,2.2 0.3,1.1 0.3,-3.6 0.3,1.9 0.3,2.2 0.3,0.7 0.3,-4.5 0.3,0.5 0.3,3.8 0.3,-2.8 0.3,1.1 0.3,-2.4 0.3,4.3 0.3,-1.3 0.3,2 0.3,-3.7 0.3,1.1 0.3,-1.1 0.3,-0.1 0.3,0 0.3,2.6 0.3,-1.7 0.3,1.8 0.3,-1.2 0.3,1.9 0.3,0.7 0.3,0 0.3,0 0.3,-1.7 0.3,1.5 0.3,-1.6 0.3,-0.7 0.3,-0.5 0.3,1.9 0.3,0.9 0.3,2 0.3,-3.4 0.3,3.7 0.3,-5.2 0.3,2.7 0.3,4.1 0.3,-4.2 0.3,-1.4 0.3,-0.2 0.3,5.3 0.3,-1.4 0.3,-2.5 0.3,0.7 0.3,-3.1 0.3,4.1 0.3,3 0.3,-5.5 0.3,5.5 0.3,-0.8 0.3,1.5 0.3,-3.5 0.3,1.8 0.3,2.3 0.3,-1 0.3,0.4 0.3,-1.7 0.3,0.7 0.3,-0.5 0.3,1.5 0.3,-0.3 0.3,-0.4 0.3,-3.1 0.3,1.4 0.3,2.3 0.3,2 0.3,-3 0.3,0.9 0.3,0.7 0.3,2.1 0.3,1.4 0.3,-2 0.3,-0.3 0.3,-1.3 0.3,2 0.3,-0.9 0.3,1.2 0.3,-1.5 0.3,3.7 0.3,-2.1 0.3,-1.7 0.3,2.9 0.3,-1.4 0.3,3 0.3,1.4 0.3,-1.3 0.3,-1.3 0.3,-1.3 0.3,1.1 0.3,4.6 0.3,-1.8 0.3,-3 0.3,0.5 0.3,2.4 0.3,-0.2 0.3,0.1 0.3,1.1 0.3,-2.4 0.3,0.8 0.3,3.1 0.3,-0.9 0.3,-0.6 0.3,0.3 0.3,1.2 0.3,0 0.3,-1.7 0.3,-1.1 0.3,3.5 0.3,-2.8 0.3,5.7 0.3,-5.1 0.3,0.5 0.3,2.9 0.3,0.9 0.3,-2.3 0.3,-4.2 0.3,4.5 0.3,-3.2 0.3,3.1 0.3,2.3 0.3,-0.1 0.3,-1.1 0.3,0.4 0.3,0.3 0.3,-1.3 0.3,0.2 0.3,2.7 0.3,-1 0.3,1.3 0.3,-1 0.3,0 0.3,1 0.3,-0.3 0.3,1.7 0.3,-1.7 0.3,-1.9" fill="none" stroke="#e63329" stroke-width="2.2" stroke-linejoin="round"/>
<path d="M210.1,1087.1l0.3,0.7 0.3,-1.5 0.3,-0.1 0.3,4.4 0.3,-4.4 0.3,2.1 0.3,-1.7 0.3,3 0.3,-4.4 0.3,2.4 0.3,1.3 0.3,2.1 0.3,-6.3 0.3,0.5 0.3,1.2 0.3,2.7 0.3,-4.6 0.3,3 0.3,-2.8 0.3,-0.6 0.3,-1.1 0.3,3 0.3,1.4 0.3,-2.3 0.3,-3.3 0.3,3 0.3,2.1 0.3,-0.7 0.3,-1.5 0.3,2.2 0.3,-4.7 0.3,0.2 0.3,6.3 0.3,-3 0.3,-1.6 0.3,-0.6 0.3,-3.5 0.3,5.5 0.3,-5.2 0.3,0.2 0.3,3.7 0.3,2.4 0.3,-3.6 0.3,1.2 0.3,-1.2 0.3,1.4 0.3,-3.2 0.3,6.1 0.3,-4.9 0.3,3 0.3,-4.7 0.3,6.8 0.3,-1.9 0.3,2.9 0.3,-4.2 0.3,3.6 0.3,-1.9 0.3,0.3 0.3,2.2 0.3,-3.5 0.3,3 0.3,2.1 0.3,-0.2 0.3,-0.9 0.3,-1.4 0.3,-2.5 0.3,3.7 0.3,-3.2 0.3,3.4 0.3,-2.3 0.3,0.7 0.3,-0.2 0.3,1 0.3,-2 0.3,0.5 0.3,-1.9 0.3,1.8 0.3,-0.9 0.3,-0.3 0.3,-3 0.3,1.1 0.3,-1 0.3,0.1 0.3,-1.9 0.3,-2.6 0.3,1.9 0.3,-3.1 0.3,1.2 0.3,-5 0.3,4.2 0.3,-0.4 0.3,-3.2 0.3,1.9 0.3,-2.2 0.3,2.5 0.3,-1.8 0.3,-4 0.3,1.2 0.3,-3.3 0.3,1.6 0.3,1.1 0.3,0.1 0.3,-1.8 0.3,-0.5 0.3,0.9 0.3,-1.7 0.3,1 0.3,1.4 0.3,-2.3 0.3,0.9 0.3,-3.5 0.3,0.2 0.3,0.5 0.3,2.8 0.3,-2.1 0.3,0.6 0.3,-2.7 0.3,1.9 0.3,-5.4 0.3,3.4 0.3,-4.8 0.3,5.4 0.3,-1.3 0.3,1.2 0.3,-1.7 0.3,-1.9 0.3,-0.7 0.3,1.1 0.3,2 0.3,-1.6 0.3,-2 0.3,0.2 0.3,-0.5 0.3,0.8 0.3,0 0.3,-0.3 0.3,0.7 0.3,-2.7 0.3,5 0.3,-2.6 0.3,2.1 0.3,-2.4 0.3,-0.9 0.3,-0.1 0.3,0.3 0.3,-2 0.3,0.7 0.3,3.6 0.3,-1.7 0.3,-3.2 0.3,1.5 0.3,-3 0.3,3.4 0.3,-4.6 0.3,2.8 0.3,-1.9 0.3,-0.2 0.3,-1.8 0.3,0.5 0.3,-1.6 0.3,-0.8 0.3,1.9 0.3,2.6 0.3,-5 0.3,2 0.3,-2 0.3,-1.2 0.3,3.6 0.3,-1.3 0.3,0.6 0.3,-1.7 0.3,0 0.3,-1.9 0.3,1.2 0.3,3.4 0.3,-7.3 0.3,4.6 0.3,1.5 0.3,-0.9 0.3,0.3 0.3,-2.3 0.3,2.2 0.3,0.1 0.3,-2.1 0.3,3.3 0.3,-3.6 0.3,-3.5 0.3,4.3 0.3,-0.7 0.3,-1.2 0.3,0.9 0.3,-0.2 0.3,-2.4 0.3,5.4 0.3,-1.7 0.3,4.6 0.3,-4.9 0.3,1 0.3,-3.7 0.3,4.4 0.3,-3.7 0.3,3 0.3,0.5 0.3,0.1 0.3,-2.6 0.3,-0.3 0.3,2.3 0.3,0.8 0.3,1 0.3,-2.4 0.3,0 0.3,3.3 0.3,-3.8 0.3,2.5 0.3,-1.8 0.3,-2.1 0.3,0.8 0.3,2.9 0.3,-0.9 0.3,0.7 0.3,-1.6 0.3,-0.8 0.3,0.4 0.3,-1.1 0.3,-2.8 0.3,1.4 0.3,2.6 0.3,-4.4 0.3,1.6 0.3,-1.7 0.3,1.5 0.3,-2.7 0.3,-1 0.3,2.4 0.3,-2.3 0.3,0.2 0.3,-0.7 0.3,1.8 0.3,-1.6 0.3,-0.6 0.3,-1.8 0.3,-0.9 0.3,1.3 0.3,3.1 0.3,-0.5 0.3,-0.5 0.3,-2 0.3,-1.1 0.3,3.9 0.3,-1.6 0.3,0.8 0.3,-2.8 0.3,0.4 0.3,2.1 0.3,-0.1 0.3,-2.4 0.3,2.5 0.3,-2.7 0.3,3.9 0.3,-0.9 0.3,2.5 0.3,-1.2 0.3,-3.9 0.3,1.4 0.3,-1.3 0.3,1 0.3,0.9 0.3,-1.6 0.3,0 0.3,-2.5 0.3,3.4 0.3,-0.9 0.3,1.6 0.3,1 0.3,-1.7 0.3,1.3 0.3,-2.3 0.3,3 0.3,-1.5 0.3,-1.2 0.3,0.8 0.3,-1.8 0.3,0.6 0.3,0.2 0.3,0.7 0.3,-0.7 0.3,-1.2 0.3,0.6 0.3,-3.1 0.3,3.8 0.3,1.5 0.3,0.2 0.3,0.7 0.3,-2.2 0.3,0.2 0.3,-1.1 0.3,-0.5 0.3,0.8 0.3,2.2 0.3,-4.8 0.3,2 0.3,1.3 0.3,-2.4 0.3,2.6 0.3,-2.8 0.3,1.5 0.3,-2.4 0.3,2.9 0.3,-1.5 0.3,2.3 0.3,-1.7 0.3,-1.2 0.3,0.9 0.3,0.7 0.3,-0.6 0.3,-0.8 0.3,-0.7 0.3,0.7 0.3,2 0.3,-2.9 0.3,1.7 0.3,-2.9 0.3,3.6 0.3,-0.9 0.3,-1.5 0.3,0.4 0.3,-2.4 0.3,3 0.3,-0.3 0.3,-2 0.3,1.2 0.3,1.7 0.3,-0.4 0.3,0.2 0.3,-1.2 0.3,2.2 0.3,-1.3 0.3,1.8 0.3,2.4 0.3,-6.5 0.3,2.5 0.3,0.8 0.3,-1.6 0.3,3.4 0.3,-2.2 0.3,3.8 0.3,-1.3 0.3,0 0.3,-0.4 0.3,1.4 0.3,-0.4 0.3,2 0.3,-2 0.3,1.5 0.3,-0.7 0.3,0.2 0.3,-3.2 0.3,2.8 0.3,0.4 0.3,-2.5 0.3,-0.5 0.3,2 0.3,0.9 0.3,-3.1 0.3,3.7 0.3,0.9 0.3,-1.8 0.3,0.5 0.3,-0.1 0.3,-1.8 0.3,2.3 0.3,0 0.3,-3.2 0.3,3.1 0.3,0.8 0.3,-2.9 0.3,3.4 0.3,-1.7 0.3,-2 0.3,0.6 0.3,0.3 0.3,2.6 0.3,-1.8 0.3,0 0.3,-1.2 0.3,2.7 0.3,-1.9 0.3,1.1 0.3,2.1 0.3,0.5 0.3,-1.9 0.3,1.3 0.3,1.1 0.3,-1.1 0.3,1.9 0.3,0 0.3,-2.6 0.3,-1.5 0.3,2 0.3,2.3 0.3,0.1 0.3,0.2 0.3,-0.3 0.3,-2.6 0.3,1.4 0.3,1.2 0.3,-1.7 0.3,1.1 0.3,-3 0.3,-0.9 0.3,5.7 0.3,-1.8 0.3,-0.3 0.3,1.6 0.3,1.3 0.3,1.1 0.3,-8.9 0.3,5.1 0.3,0.9 0.3,-4.8 0.3,0.3 0.3,2.7 0.3,3.5 0.3,-1.8 0.3,2 0.3,-3.1 0.3,1.6 0.3,0.7 0.3,-1 0.3,-0.8 0.3,0.3 0.3,-6.4 0.3,6.8 0.3,-3.3 0.3,1.7 0.3,3 0.3,-0.2 0.3,-4.3 0.3,4.6 0.3,0.2 0.3,-0.2 0.3,0.7 0.3,-0.4 0.3,-4.3 0.3,2.3 0.3,-0.2 0.3,-1.7 0.3,1.8 0.3,-1.4 0.3,1.3 0.3,-0.8 0.3,2.9 0.3,2 0.3,-4.8 0.3,0.8 0.3,-0.1 0.3,0.6 0.3,-0.7 0.3,-3.4 0.3,4.5 0.3,-0.5 0.3,-1.4 0.3,1.5 0.3,-0.2 0.3,1.1 0.3,-0.6 0.3,0.3 0.3,0.7 0.3,0 0.3,0.1 0.3,2.1 0.3,-0.7 0.3,-1.8 0.3,4.5 0.3,-2.8 0.3,2.6 0.3,-4.3 0.3,2.7 0.3,2 0.3,-0.7 0.3,-1.9 0.3,-1 0.3,0.3 0.3,0.9 0.3,-1.3 0.3,0.4 0.3,-0.7 0.3,-0.2 0.3,2.1 0.3,-3.2 0.3,3.3 0.3,0.6 0.3,-2.5 0.3,0 0.3,1.5 0.3,-0.1 0.3,1.9 0.3,-5.5 0.3,3.2 0.3,2.7 0.3,-2.1 0.3,2.8 0.3,0.7 0.3,-4.1 0.3,3.6 0.3,-1.4 0.3,-0.5 0.3,-0.4 0.3,0.4 0.3,-1.2 0.3,1.3 0.3,1.8 0.3,1 0.3,-2.7 0.3,1.7 0.3,0 0.3,-4 0.3,5.8 0.3,-2.9 0.3,0.4 0.3,3.5 0.3,2.1 0.3,-4.2 0.3,0.7 0.3,0.8 0.3,1.5 0.3,0.6 0.3,-0.2 0.3,-0.9 0.3,6.5 0.3,-3.2 0.3,-0.2 0.3,3.9 0.3,-1.5 0.3,3.4 0.3,0.4 0.3,0.8 0.3,-1.8 0.3,2.5 0.3,-3.1 0.3,0.6 0.3,2.7 0.3,-0.3 0.3,3 0.3,-2.6 0.3,-2.8 0.3,3.5 0.3,-0.6 0.3,1 0.3,-2 0.3,1.1 0.3,2.1 0.3,1.5 0.3,-0.7 0.3,0.9 0.3,-3.7 0.3,2.5 0.3,0.8 0.3,1.3 0.3,-1.1 0.3,-0.7 0.3,0 0.3,0.1 0.3,-1.9 0.3,3 0.3,1.5 0.3,0 0.3,-4 0.3,3.6 0.3,-1.9 0.3,4.7 0.3,-0.7 0.3,0.8 0.3,-1.7 0.3,-2.1 0.3,1.7 0.3,1 0.3,-1.8 0.3,0.8 0.3,4.9 0.3,-5.1 0.3,3.4 0.3,-3.8 0.3,3.9 0.3,1.3 0.3,-0.5 0.3,1.2 0.3,1.6 0.3,-4.8 0.3,2.9 0.3,0.8 0.3,-0.3 0.3,1.9 0.3,-2 0.3,2.2 0.3,0 0.3,-1.7 0.3,1.4 0.3,-2.3 0.3,2.3 0.3,0.2 0.3,-0.3 0.3,-0.1 0.3,3.4 0.3,-1.8 0.3,4.3 0.3,-1.3 0.3,-0.7 0.3,-2.2 0.3,3.4 0.3,-0.8 0.3,0 0.3,-1.6 0.3,3.5 0.3,0.1 0.3,-1 0.3,0.3 0.3,1.3 0.3,-1 0.3,2 0.3,3.5 0.3,-2.3 0.3,5.7 0.3,-5.1 0.3,5.4 0.3,0.6 0.3,0.4 0.3,-0.2 0.3,-3.2 0.3,5.1 0.3,0.2 0.3,-0.7 0.3,-3.7 0.3,6.1 0.3,-3 0.3,1.4 0.3,3.2 0.3,0.5 0.3,-1.3 0.3,-0.9 0.3,4.2 0.3,-0.2 0.3,-1.5 0.3,-0.9 0.3,2.4 0.3,-2.2 0.3,6 0.3,-1.7 0.3,-1 0.3,1.7 0.3,-3 0.3,3.4 0.3,-0.8 0.3,-1.2 0.3,2 0.3,2 0.3,-2.6 0.3,2.7 0.3,-1.7 0.3,3.1 0.3,-3.1 0.3,5.1 0.3,0.5 0.3,0.4 0.3,1.9 0.3,-1.9 0.3,0.6 0.3,1.3 0.3,-1.2 0.3,-2.5 0.3,1.5 0.3,0.6 0.3,2.4 0.3,-1.2 0.3,1 0.3,2.3 0.3,-0.4 0.3,3.6 0.3,-2.7 0.3,-1.2 0.3,3.8 0.3,-2.4 0.3,0.9 0.3,2.5 0.3,-0.9 0.3,1.1 0.3,-1.3 0.3,0.8 0.3,2.1 0.3,-1.5 0.3,0.7 0.3,1 0.3,3.3 0.3,0 0.3,-2.1 0.3,0 0.3,-1.1 0.3,3.7 0.3,-1.2 0.3,1.1 0.3,-3.4 0.3,4.3 0.3,-1.4 0.3,1.3 0.3,0.5 0.3,-2.2 0.3,-0.3 0.3,1.9 0.3,-3.1 0.3,4.5 0.3,-1.3 0.3,-2 0.3,4.3 0.3,-0.2 0.3,1 0.3,-0.7 0.3,-0.9 0.3,-0.8 0.3,-1.8 0.3,3.4 0.3,0 0.3,-1.5 0.3,2.1 0.3,-1.8 0.3,2.8 0.3,-1.4 0.3,0.1 0.3,-1.7 0.3,2.6 0.3,-1.2 0.3,-1.2 0.3,1.6 0.3,-1 0.3,2.1 0.3,-4.8 0.3,1 0.3,5.5 0.3,-4.4 0.3,1.9 0.3,-1.5 0.3,0.6 0.3,4.5 0.3,-8.1 0.3,4.5 0.3,-0.7 0.3,0.5 0.3,-1 0.3,-0.1 0.3,3.9 0.3,-1.5 0.3,-2.5 0.3,2.6 0.3,-2.1 0.3,7 0.3,-3.9 0.3,-3.8 0.3,4.6 0.3,-0.5 0.3,-0.3 0.3,-0.1 0.3,-1 0.3,1 0.3,-3 0.3,5.1 0.3,0.8 0.3,-2.4 0.3,0.2 0.3,-2.8 0.3,1.7 0.3,-1.7 0.3,0.4 0.3,3.5 0.3,1.4 0.3,-2.4 0.3,4.1 0.3,-3 0.3,-4.9 0.3,2.9 0.3,3.2 0.3,-1.7 0.3,1.7 0.3,-4.3 0.3,5.2 0.3,-4.7 0.3,2.4 0.3,3 0.3,-3.1 0.3,-0.7 0.3,1.6 0.3,-2.6 0.3,0.2 0.3,3.1 0.3,-4.4 0.3,0.8 0.3,4.8 0.3,-4.9 0.3,3 0.3,1 0.3,-1.8 0.3,-1.7 0.3,3.5 0.3,-2.7 0.3,5.8 0.3,0.4 0.3,-5.3 0.3,2.8 0.3,-2 0.3,2.3 0.3,-1.3 0.3,-0.9 0.3,2.7 0.3,-3.5 0.3,3.7 0.3,-0.4 0.3,-0.7 0.3,3 0.3,-1.2 0.3,-0.4 0.3,0.5 0.3,0.2 0.3,2.5 0.3,-1.8 0.3,-4.2 0.3,-0.4 0.3,3.7 0.3,-0.5 0.3,2.1 0.3,-1.8 0.3,1.6 0.3,4.6 0.3,-4.4 0.3,4.2 0.3,-1.3 0.3,2.5 0.3,-0.7 0.3,-1.1 0.3,2.3 0.3,-1.3 0.3,-2.5 0.3,2.7 0.3,0.1 0.3,-0.5 0.3,0.8 0.3,-0.9 0.3,1.7 0.3,-1 0.3,-2.2 0.3,2.2 0.3,2.8 0.3,-1.1 0.3,1.3 0.3,-2.2 0.3,-1 0.3,-1.2 0.3,2.4 0.3,1.6 0.3,0 0.3,-0.3 0.3,-2 0.3,0.9 0.3,-1.4 0.3,2.7 0.3,-0.3 0.3,-1.8 0.3,1.5 0.3,-4.5 0.3,5.3 0.3,-2.5 0.3,0.5 0.3,1.5 0.3,0.1 0.3,-2.1 0.3,3.7 0.3,0.2 0.3,-1 0.3,-0.3 0.3,-1.7 0.3,1.7 0.3,-3.5 0.3,-0.4 0.3,1.9 0.3,0.1 0.3,-2.4 0.3,4.3 0.3,-6.2 0.3,-1.6 0.3,2.1 0.3,2.6 0.3,-2.1 0.3,-1.3 0.3,-0.7 0.3,0.6 0.3,-0.9 0.3,-0.9 0.3,-0.8 0.3,-3.3 0.3,4 0.3,-2.8 0.3,1 0.3,-0.4 0.3,0.2 0.3,-3.4 0.3,2.6 0.3,0.2 0.3,-1.5 0.3,0.3 0.3,0.2 0.3,-2 0.3,0.7 0.3,-1.2 0.3,4 0.3,-2.9 0.3,-0.7 0.3,1.5 0.3,0.8 0.3,-2 0.3,-1.2 0.3,2.1 0.3,0.3 0.3,-4.1 0.3,4.3 0.3,-4.9 0.3,4 0.3,-2.2 0.3,0.3 0.3,1.4 0.3,0.9 0.3,0.8 0.3,-1.4 0.3,-1.3 0.3,-3.8 0.3,1.5 0.3,0.9 0.3,-0.8 0.3,2 0.3,-2.3 0.3,3.2 0.3,-3.6 0.3,-2 0.3,1.5 0.3,-0.3 0.3,1.6 0.3,1.1 0.3,-0.8 0.3,-0.1 0.3,-2.8 0.3,-1.2 0.3,0.5 0.3,0.8 0.3,-0.9 0.3,0.9 0.3,1.5 0.3,-2 0.3,2 0.3,-4.3 0.3,2 0.3,-1.1 0.3,1.3 0.3,-2.3 0.3,-0.8 0.3,0.4 0.3,-1.4 0.3,-1 0.3,3.3 0.3,-2.8 0.3,2.9 0.3,1.7 0.3,-5.6 0.3,1.7 0.3,-1.8 0.3,-3 0.3,2.8 0.3,2.6 0.3,-4.8 0.3,2.3 0.3,-0.6 0.3,-2.2 0.3,2.6 0.3,-1.1 0.3,0.8 0.3,-0.9 0.3,-3.1 0.3,2 0.3,0.6 0.3,-2.1 0.3,1.4 0.3,0 0.3,-5.1 0.3,4.7 0.3,-4.9 0.3,1.1 0.3,1.7 0.3,-1.2 0.3,0.1 0.3,2.8 0.3,-4.2 0.3,4 0.3,0.5 0.3,-1.1 0.3,-4.5 0.3,-1.5 0.3,2.5 0.3,3.6 0.3,-4.1 0.3,-1 0.3,0.8 0.3,1.5 0.3,1 0.3,-2.4 0.3,-0.5 0.3,0.9 0.3,-1.1 0.3,-0.9 0.3,-2.6 0.3,2.8 0.3,-1.8 0.3,0.3 0.3,-0.7 0.3,-1.4 0.3,2.1 0.3,0.9 0.3,-1 0.3,-2.4 0.3,1.2 0.3,0.9 0.3,-1.7 0.3,0.7 0.3,-4.4 0.3,2 0.3,2.8 0.3,-1 0.3,-2.4 0.3,0.5 0.3,3.4 0.3,-2.2 0.3,-3.4 0.3,0.9 0.3,-1.5 0.3,-1 0.3,-1.2 0.3,3.1 0.3,2.3 0.3,-2.3 0.3,-4.2 0.3,2.9 0.3,-3.6 0.3,2.5 0.3,0.9 0.3,0.6 0.3,-2.6 0.3,-0.2 0.3,-1 0.3,-0.7 0.3,3.1 0.3,-4.7 0.3,-1.6 0.3,5 0.3,0.1 0.3,-7.4 0.3,4 0.3,-0.6 0.3,-2.7 0.3,-1.7 0.3,1.4 0.3,-1.3 0.3,1.3 0.3,-2.8 0.3,2.7 0.3,-3.5 0.3,3.7 0.3,-1.9 0.3,0.3 0.3,-3.2 0.3,-0.1 0.3,0 0.3,1.6 0.3,-3.5 0.3,-1 0.3,0.2 0.3,0.5 0.3,-1.3 0.3,-0.2 0.3,-2.6 0.3,1 0.3,-1.1 0.3,3.2 0.3,-2.2 0.3,0.7 0.3,-3.9 0.3,2.3 0.3,-0.1 0.3,-2.8 0.3,0.6 0.3,0 0.3,1.1 0.3,0 0.3,-3.5 0.3,2.6 0.3,-0.8 0.3,0.1 0.3,-1.9 0.3,1 0.3,2.2 0.3,-0.6 0.3,-3.6 0.3,3.5 0.3,-4 0.3,-1.2 0.3,3.4 0.3,-1.4 0.3,3.5 0.3,-4.5 0.3,0.5 0.3,0.9 0.3,-0.8 0.3,-2 0.3,0.4 0.3,0 0.3,-0.4 0.3,-0.1 0.3,-2.5 0.3,3.6 0.3,-2.7 0.3,0.5 0.3,-1 0.3,0.5 0.3,2 0.3,0.3 0.3,-1.5 0.3,-0.3 0.3,-1.4 0.3,0.3 0.3,0.6 0.3,-1 0.3,-1.9 0.3,1.6 0.3,-1.8 0.3,5.2 0.3,-3.1 0.3,-1.8 0.3,1.5 0.3,-2 0.3,0.3 0.3,3.4 0.3,-0.6 0.3,-3.9 0.3,0.2 0.3,0.6 0.3,4.6 0.3,-3.9 0.3,0.1 0.3,-1.4 0.3,2.7 0.3,-1.1 0.3,-5 0.3,0.8 0.3,-2.1 0.3,0.9 0.3,0.3 0.3,-1.2 0.3,0.6 0.3,2.1 0.3,-0.2 0.3,-2.2 0.3,0.5 0.3,-3.7 0.3,4.5 0.3,1.1 0.3,-4.6 0.3,1 0.3,-1.1 0.3,-4.8 0.3,4.4 0.3,-1 0.3,-3.6 0.3,1.3 0.3,2 0.3,-2 0.3,-4.1 0.3,1 0.3,-0.7 0.3,0.7 0.3,-2 0.3,0.8 0.3,-0.6 0.3,-2.4 0.3,2.8 0.3,-0.6 0.3,-1.9 0.3,1.5 0.3,2.4 0.3,-6.8 0.3,3 0.3,0.3 0.3,-1.4 0.3,-1.5 0.3,4.6 0.3,-4.6 0.3,0.1 0.3,-1.5 0.3,3.3 0.3,-6.2 0.3,1.7 0.3,0.7 0.3,1 0.3,0.1 0.3,1 0.3,-2.1 0.3,-1.1 0.3,1.5 0.3,-1.7 0.3,0.7 0.3,0.1 0.3,1 0.3,0.7 0.3,-3.8 0.3,0.4 0.3,0.8 0.3,-0.2 0.3,-0.4 0.3,0.8 0.3,-1.8 0.3,-3 0.3,4.9 0.3,-4.4 0.3,4.3 0.3,-2.4 0.3,-0.3 0.3,-3.5 0.3,2.9 0.3,-1.2 0.3,-1.2 0.3,2 0.3,-0.1 0.3,0.2 0.3,-4.9 0.3,0.2 0.3,3.3 0.3,-1.8 0.3,-0.3 0.3,-2.5 0.3,1.2 0.3,0.1 0.3,-4.2 0.3,0.6 0.3,0.8 0.3,1.3 0.3,-3.5 0.3,1.5 0.3,-3 0.3,-0.9 0.3,2.5 0.3,-3.3 0.3,2 0.3,-1.7 0.3,1.3 0.3,-3.3 0.3,-0.7 0.3,0 0.3,1.8 0.3,2.4 0.3,-1.7 0.3,-1 0.3,-0.4 0.3,1.8 0.3,-2 0.3,1.7 0.3,0.6 0.3,-0.9 0.3,-0.6 0.3,-0.5 0.3,-1 0.3,0.2 0.3,-2.3 0.3,-0.3 0.3,3.8 0.3,-2.7 0.3,-2.5 0.3,4.7 0.3,0.2 0.3,-2.1 0.3,-3.1 0.3,5.2 0.3,-1.3 0.3,0.2 0.3,-2.5 0.3,1.2 0.3,-1.2 0.3,0.1 0.3,-2 0.3,-0.1 0.3,0.1 0.3,0.8 0.3,1.2 0.3,-1 0.3,-4.5 0.3,4.2 0.3,-4.6 0.3,2.7 0.3,-1.3 0.3,-0.3 0.3,-1.3 0.3,-1.7 0.3,4.2 0.3,-7.5 0.3,2.6 0.3,3 0.3,-2.5 0.3,-0.3 0.3,-2 0.3,-0.4 0.3,2.5 0.3,-1.2 0.3,0.3 0.3,0.2 0.3,-4.9 0.3,1.1 0.3,0.6 0.3,1.3 0.3,0.5 0.3,-3.4 0.3,1.7 0.3,0.2 0.3,-0.8 0.3,2.5 0.3,-4.7 0.3,1.7 0.3,-3.9 0.3,3.9 0.3,0.1 0.3,0.5 0.3,-2.6 0.3,-0.2 0.3,-1.5 0.3,0.8 0.3,4.5 0.3,-7.2 0.3,0 0.3,3.2 0.3,-2 0.3,3.5 0.3,-5.2 0.3,4.8 0.3,-4 0.3,-2 0.3,-1.1 0.3,2.3 0.3,0.3 0.3,1.4 0.3,-3.3 0.3,7.1 0.3,-4.2 0.3,-1.3 0.3,-0.7 0.3,5.3 0.3,-5.4 0.3,2.4 0.3,1.3 0.3,-4.2 0.3,2.6 0.3,-1.9 0.3,3.4 0.3,0.5 0.3,-1.8 0.3,-1.1 0.3,-1.9 0.3,6.4 0.3,-1.2 0.3,-1.2 0.3,1.9 0.3,-1.9 0.3,-2 0.3,3.8 0.3,-3.2 0.3,0.6 0.3,2.3 0.3,-3.6 0.3,2.7 0.3,-0.7 0.3,-0.9 0.3,0.2 0.3,2 0.3,-0.2 0.3,0.8 0.3,-2.6 0.3,2.9 0.3,-2.1 0.3,1.3 0.3,3.1 0.3,-3.1 0.3,0.1 0.3,-0.5 0.3,1.7 0.3,1.2 0.3,-2.1 0.3,1.7 0.3,-3.5 0.3,2.7 0.3,-1 0.3,0.6 0.3,-1.6 0.3,0.4 0.3,1.6 0.3,-2.9 0.3,3.5 0.3,-1.9 0.3,1.5 0.3,-3.2 0.3,-0.3 0.3,3 0.3,-0.2 0.3,-1.5 0.3,1.4 0.3,-1.5 0.3,1.2 0.3,-0.9 0.3,-2 0.3,3.7 0.3,-3.2 0.3,5.6 0.3,-4.2 0.3,-2 0.3,1.6 0.3,0.4 0.3,-0.3 0.3,0.8 0.3,-1.6 0.3,-2.5 0.3,1.7 0.3,2.8 0.3,1.3 0.3,-5.2 0.3,3.9 0.3,1.2 0.3,-4.2 0.3,5.3 0.3,-3.5 0.3,1 0.3,-0.6 0.3,3.6 0.3,-1.5 0.3,-1.1 0.3,-0.6 0.3,-2.1 0.3,3.1 0.3,-0.2 0.3,1.1 0.3,-2.5 0.3,5.8 0.3,-0.6 0.3,1 0.3,-3.4 0.3,0.9 0.3,-1.4 0.3,3.6 0.3,-2.2 0.3,3.5 0.3,-1.1 0.3,0.3 0.3,-0.1 0.3,-3.2 0.3,4.4 0.3,-3.7 0.3,3.4 0.3,0.6 0.3,-3.2 0.3,1.4 0.3,1.2 0.3,0.7 0.3,0.3 0.3,-0.2 0.3,-1.5 0.3,2 0.3,4.1 0.3,-5.4 0.3,3.7 0.3,-4.6 0.3,1.1 0.3,3.5 0.3,-0.7 0.3,1.6 0.3,-1.8 0.3,-1.9 0.3,1.2 0.3,-0.4 0.3,2.3 0.3,-0.6 0.3,1.4 0.3,-3.3 0.3,0.9 0.3,-0.3 0.3,0.3 0.3,0.2 0.3,2.7 0.3,-1.8 0.3,1.6 0.3,-1.4 0.3,-3.3 0.3,0.9 0.3,2.5 0.3,2.6 0.3,-2.1 0.3,-2.3 0.3,2.6 0.3,-0.6 0.3,2.1 0.3,0.6 0.3,-0.3 0.3,-1.4 0.3,-0.5 0.3,1.1 0.3,1 0.3,0.9 0.3,-1 0.3,0 0.3,2.3 0.3,0.8 0.3,-0.7 0.3,-2 0.3,1.3 0.3,4 0.3,-5.1 0.3,2 0.3,2.7 0.3,-2.4 0.3,1.5 0.3,2.7 0.3,-0.6 0.3,-4.2 0.3,4.4 0.3,-1.3 0.3,-1.4 0.3,4.3 0.3,-2.3 0.3,1 0.3,-1 0.3,3.4 0.3,0.5 0.3,0.5 0.3,3.3 0.3,-2.9 0.3,-0.6 0.3,1.4 0.3,0 0.3,1.2 0.3,-5.5 0.3,6.2 0.3,2.6 0.3,-1.5 0.3,-2 0.3,5.3 0.3,-1.9 0.3,3.1 0.3,-1.3 0.3,-1.6 0.3,-1.5 0.3,3.8 0.3,1.7 0.3,-1.3 0.3,-1.4 0.3,4.4 0.3,-1.9 0.3,4.1 0.3,-2.4 0.3,2.5 0.3,-0.3 0.3,2.4 0.3,0.7 0.3,-3.8 0.3,3.7 0.3,1 0.3,0.3 0.3,1.6 0.3,3 0.3,-2.5 0.3,3.3 0.3,-0.8 0.3,-0.3 0.3,-0.9 0.3,1.9 0.3,-0.3 0.3,3.1 0.3,1.8 0.3,-0.9 0.3,0.8 0.3,-2.1 0.3,2.7 0.3,-2.5 0.3,0.8 0.3,2.3 0.3,-1.2 0.3,2.7 0.3,-0.2 0.3,-0.8 0.3,-0.3 0.3,1.7 0.3,0.6 0.3,0.3 0.3,2.1 0.3,-2.5 0.3,-0.9 0.3,0.4 0.3,0.8 0.3,0.4 0.3,1.8 0.3,3.4 0.3,-4.2 0.3,0.7 0.3,1 0.3,-0.2 0.3,0.9 0.3,2.6 0.3,1.6 0.3,-3.3 0.3,1.7 0.3,2 0.3,-0.4 0.3,-0.2 0.3,0.9 0.3,-0.2 0.3,-0.4 0.3,2.3 0.3,-1.4 0.3,0.5 0.3,1.8 0.3,-2.3 0.3,3.7 0.3,-1.8 0.3,0.1 0.3,2.8 0.3,1 0.3,1.3 0.3,0.9 0.3,-3.7 0.3,1.4 0.3,-0.9 0.3,1.1 0.3,2.8 0.3,-1.2 0.3,0.4 0.3,0.5 0.3,-1.1 0.3,3.2 0.3,-3.8 0.3,3 0.3,-1.9 0.3,-0.3 0.3,5.4 0.3,-3.8 0.3,1.7 0.3,-1.9 0.3,0.4 0.3,3.3 0.3,-1.6 0.3,-0.6 0.3,0.9 0.3,0.5 0.3,0.5 0.3,-0.3 0.3,0.4 0.3,-0.6 0.3,0.1 0.3,1.8 0.3,-5.3 0.3,5.5 0.3,-0.8 0.3,0.3 0.3,-0.5 0.3,-0.8 0.3,2.1 0.3,-2.6 0.3,0.6 0.3,-0.1 0.3,5 0.3,-2.4 0.3,0.5 0.3,-1.6 0.3,3.3 0.3,1.9 0.3,-2.9 0.3,2.9 0.3,0.9 0.3,1.2 0.3,1 0.3,3 0.3,-2.3 0.3,1.1 0.3,0 0.3,3.5 0.3,-1 0.3,1.9 0.3,1.6 0.3,-0.4 0.3,1.1 0.3,1.9 0.3,0.5 0.3,0.4 0.3,0.6 0.3,0.8 0.3,2.7 0.3,-2.2 0.3,1.7 0.3,0.1 0.3,2.1 0.3,-2.5 0.3,0.8 0.3,-0.4 0.3,2 0.3,-0.1 0.3,-0.1 0.3,0.1 0.3,4.2 0.3,-2.9 0.3,-3.3 0.3,0.9 0.3,0.1 0.3,1.8 0.3,-1.6 0.3,2.8 0.3,-2 0.3,2.9 0.3,-0.8 0.3,1.6 0.3,-0.4 0.3,-1.7 0.3,4.8 0.3,-4.4 0.3,1 0.3,-1.3 0.3,4.2 0.3,-0.2 0.3,-1.5 0.3,-3.6 0.3,5.6 0.3,2 0.3,-4.2 0.3,2.3 0.3,0.4 0.3,-2 0.3,-2.1 0.3,2.1 0.3,-0.7 0.3,1.5 0.3,-3.8 0.3,4 0.3,-1.1 0.3,-2.4 0.3,0.8 0.3,2.9 0.3,1.3 0.3,0.2 0.3,3.1 0.3,-4.4 0.3,-2.6 0.3,2.4 0.3,-1.1 0.3,-2.6 0.3,5.9 0.3,-3.7 0.3,0 0.3,4.3 0.3,-4.3 0.3,-0.2 0.3,3.2 0.3,1.9 0.3,-6 0.3,1.2 0.3,0.9 0.3,2.2 0.3,-0.9 0.3,1.7 0.3,-4.3 0.3,2.1 0.3,2.6 0.3,-5.4 0.3,4.8 0.3,-3.5 0.3,1.8 0.3,-2.5 0.3,3.2 0.3,0.3 0.3,-1.9 0.3,3.2 0.3,-4.3 0.3,3.5 0.3,-3.7 0.3,3.6 0.3,-0.1 0.3,-2.4 0.3,4 0.3,-2.2 0.3,-2.3 0.3,2.1 0.3,2 0.3,-2 0.3,1.2 0.3,0.4 0.3,-1.4 0.3,-0.1 0.3,-0.7 0.3,0.6 0.3,1.5 0.3,-3.4 0.3,0.4 0.3,2 0.3,-3.1 0.3,3.3 0.3,-1.6 0.3,1.3 0.3,-1.7 0.3,0.8 0.3,2.1 0.3,-4 0.3,3.6 0.3,-0.3 0.3,-1.3 0.3,-3.4 0.3,1.4 0.3,2.5 0.3,1.1 0.3,-4.3 0.3,3.3 0.3,-0.1 0.3,-2.6 0.3,2.7 0.3,-1.8 0.3,-1 0.3,5.2 0.3,-4.5 0.3,-1 0.3,0.3 0.3,5.3 0.3,-1.7 0.3,-0.8 0.3,-2.4 0.3,1.8 0.3,-0.3 0.3,0.9 0.3,-3.7 0.3,3.1 0.3,0.4 0.3,-3.6 0.3,0.1 0.3,1.5 0.3,-2.1 0.3,1.8 0.3,0 0.3,2.8 0.3,-3.9 0.3,1.1 0.3,2.6 0.3,-5.3 0.3,5.1 0.3,-2.6 0.3,1.7 0.3,-0.9 0.3,0.9 0.3,-7 0.3,4.5 0.3,-2.4 0.3,3.2 0.3,-1.2 0.3,1.1 0.3,2.5 0.3,-2 0.3,-0.7 0.3,0 0.3,-1.7 0.3,2.5 0.3,-1.8 0.3,-1.3 0.3,2.1 0.3,-2.9 0.3,-0.2 0.3,-1 0.3,-1 0.3,0.1 0.3,3.7 0.3,-3 0.3,0.2 0.3,1.1 0.3,-1.8 0.3,-1.2 0.3,0 0.3,0.2 0.3,2.3 0.3,-2.6 0.3,-0.2 0.3,2 0.3,-1.1 0.3,-0.2 0.3,0.7 0.3,2.4 0.3,-3.3 0.3,-0.1 0.3,3.9 0.3,-4.6 0.3,-1.5 0.3,4.6 0.3,-2.5 0.3,0.8 0.3,0.3 0.3,-2.2 0.3,2.4 0.3,-2.8 0.3,3.7 0.3,0.5 0.3,-3.6 0.3,3.2 0.3,-1.1 0.3,2.4 0.3,-3.8 0.3,-3.1 0.3,0 0.3,4.8 0.3,-2.2 0.3,1.5 0.3,-2.5 0.3,0.9 0.3,-2.8 0.3,4.3 0.3,0.6 0.3,-2.6 0.3,2.2 0.3,-2.4 0.3,1.9 0.3,-1.8 0.3,-1.1 0.3,2 0.3,-4.7 0.3,5.8 0.3,-5.9 0.3,-0.9 0.3,3.2 0.3,-2.8 0.3,2.1 0.3,-3.8 0.3,4.4 0.3,-1.1 0.3,-4.2 0.3,4.8 0.3,-4.6 0.3,0.2 0.3,-1.5 0.3,0.8 0.3,0 0.3,-1.2 0.3,0.4 0.3,-0.8 0.3,0.6 0.3,-3 0.3,0.8 0.3,-1.3 0.3,1.7 0.3,-0.8 0.3,-0.2 0.3,-0.8 0.3,4.4 0.3,-4.9 0.3,2.3 0.3,-1.9 0.3,3.3 0.3,-0.3 0.3,-1.6 0.3,0.2 0.3,-2.5 0.3,-0.9 0.3,3 0.3,-1.4 0.3,-3.3 0.3,2.5 0.3,-2.2 0.3,-0.1 0.3,2.6 0.3,-0.2 0.3,-1.1 0.3,-0.4 0.3,-1.4 0.3,1.5 0.3,0.1 0.3,-0.4 0.3,4.2 0.3,-4.5 0.3,0.6 0.3,-2 0.3,1.1 0.3,-0.1 0.3,0.8 0.3,-6.5 0.3,6.9 0.3,-0.6 0.3,-0.7 0.3,-2.4 0.3,-1.1 0.3,0.7 0.3,2.9 0.3,-0.1 0.3,-1.3 0.3,1.4 0.3,-2.8 0.3,-0.1 0.3,3.6 0.3,-0.3 0.3,-1.1 0.3,0.5 0.3,-1.8 0.3,-3.6 0.3,2.8 0.3,1.9 0.3,-2.4 0.3,1.1 0.3,-0.3 0.3,-2.7 0.3,2 0.3,-1.1 0.3,-3.1 0.3,4.2 0.3,-3.6 0.3,2.5 0.3,0.5 0.3,-2.7 0.3,-0.6 0.3,2.2 0.3,-0.8 0.3,1.6 0.3,-1.7 0.3,0.4 0.3,-0.8 0.3,1.4 0.3,-3.4 0.3,-1.5 0.3,4 0.3,-1.6 0.3,-1.1 0.3,3.6 0.3,-5.3 0.3,1.7 0.3,2 0.3,-2 0.3,-0.3 0.3,1.1 0.3,-1.6 0.3,-2.2 0.3,0.5 0.3,2.9 0.3,-0.3 0.3,-2.7 0.3,1.3 0.3,0.6 0.3,-0.2 0.3,1 0.3,-1.3 0.3,-2.2 0.3,-0.1 0.3,1 0.3,-3.6 0.3,-1 0.3,3.7 0.3,0 0.3,-1.4 0.3,-1.3 0.3,-3.4 0.3,-0.5 0.3,0.3 0.3,3.6 0.3,-3.6 0.3,0.4 0.3,-2.2 0.3,3.4 0.3,-6.2 0.3,5 0.3,-3.2 0.3,-4.6 0.3,4.3 0.3,0.9 0.3,-0.3 0.3,-0.7 0.3,-1.7 0.3,-0.2 0.3,0.3 0.3,-1.7 0.3,3.1 0.3,-5.3 0.3,1.5 0.3,-1 0.3,-2.2 0.3,4.6 0.3,-1.8 0.3,-2.1 0.3,-0.3 0.3,0.4 0.3,2.7 0.3,-2.4 0.3,-1.8 0.3,1.1 0.3,-1.9 0.3,1.8 0.3,-0.6 0.3,0 0.3,-1.5 0.3,-0.9 0.3,-2.7 0.3,2 0.3,1.6 0.3,-4.3 0.3,3.2 0.3,-2.9 0.3,0 0.3,0 0.3,2.2 0.3,-1.8 0.3,-0.1 0.3,-2 0.3,4 0.3,-4.6 0.3,3.6 0.3,-0.2 0.3,-1.1 0.3,-3.6 0.3,2.1 0.3,-1.8 0.3,3.3 0.3,-2.2 0.3,-0.4 0.3,-0.5 0.3,-0.4 0.3,1.3 0.3,1.2 0.3,-2.3 0.3,0.6 0.3,-1.3 0.3,-0.9 0.3,-2.9 0.3,0.8 0.3,-0.9 0.3,2 0.3,-6 0.3,1.3 0.3,2.3 0.3,0.8 0.3,-1.9 0.3,0.4 0.3,1.4 0.3,0.5 0.3,0.5 0.3,-2.2 0.3,0.4 0.3,-2.6 0.3,-0.9 0.3,2.2 0.3,1.4 0.3,-2.1 0.3,-4.6 0.3,4.7 0.3,0.9 0.3,-2 0.3,-2 0.3,-0.8 0.3,-1 0.3,4.5 0.3,-3.3 0.3,-0.3 0.3,0 0.3,0.2 0.3,0.6 0.3,-1.5 0.3,1.5 0.3,-1.5 0.3,-0.9 0.3,-2 0.3,3.4 0.3,1.8 0.3,-1.1 0.3,1 0.3,-2.9 0.3,-0.8 0.3,-0.4 0.3,-0.8 0.3,3.1 0.3,0.2 0.3,-3.5 0.3,1.7 0.3,-3 0.3,2.5 0.3,0.3 0.3,-2.9 0.3,3 0.3,-2.9 0.3,1.1 0.3,1.9 0.3,-5.6 0.3,3 0.3,-2.1 0.3,2.4 0.3,-3.1 0.3,-0.3 0.3,0.7 0.3,2 0.3,-4 0.3,-0.4 0.3,0.1 0.3,2.7 0.3,-4.6 0.3,1.4 0.3,0.6 0.3,-0.5 0.3,1 0.3,-1.2 0.3,-2.7 0.3,7.1 0.3,-2.2 0.3,-2.2 0.3,-0.3 0.3,-0.4 0.3,-2 0.3,1 0.3,2.4 0.3,0 0.3,2.2 0.3,-2.6 0.3,-1 0.3,2.7 0.3,-0.7 0.3,-3.1 0.3,0.8 0.3,2.3 0.3,-3 0.3,1.3 0.3,-1.5 0.3,3.2 0.3,1.7 0.3,-7.3 0.3,1.7 0.3,2.5 0.3,-1 0.3,-0.7 0.3,-2.3 0.3,-1 0.3,2.5 0.3,2.3 0.3,-0.3 0.3,2 0.3,-7.1 0.3,3.5 0.3,0.1 0.3,2.7 0.3,-4.3 0.3,3.6 0.3,-4.8 0.3,4.3 0.3,-3.7 0.3,-0.7 0.3,2.1 0.3,-1.5 0.3,1.4 0.3,-0.7 0.3,-1.3 0.3,2.9 0.3,-2.2 0.3,-1.1 0.3,-0.3 0.3,-2.3 0.3,0.9 0.3,2.6 0.3,-0.3 0.3,-0.2 0.3,2.1 0.3,-2.5 0.3,0 0.3,1.1 0.3,-0.2 0.3,1.4 0.3,-3 0.3,1 0.3,0.1 0.3,-0.9 0.3,-0.1 0.3,1.8 0.3,0.8 0.3,-2.5 0.3,0.4 0.3,0.4 0.3,2 0.3,-1.3 0.3,1.8 0.3,0.5 0.3,-1.1 0.3,-3.1 0.3,0.3 0.3,0 0.3,-0.2 0.3,2.1 0.3,-3.2 0.3,2.1 0.3,-1.5 0.3,-0.8 0.3,3.6 0.3,-4.2 0.3,4.3 0.3,-4.6 0.3,3.5 0.3,-0.3 0.3,0 0.3,-0.6 0.3,-1.6 0.3,0.4 0.3,2.9 0.3,-0.6 0.3,2.1 0.3,-2.2 0.3,-1.1 0.3,-0.7 0.3,-0.3 0.3,2.5 0.3,-3.3 0.3,0 0.3,-0.8 0.3,2.4 0.3,4.4 0.3,-6.3 0.3,-2.6 0.3,1 0.3,2.2 0.3,-2.4 0.3,-0.6 0.3,2 0.3,-1.5 0.3,-1.2 0.3,2.4 0.3,-2.5 0.3,1.3 0.3,2.8 0.3,-7 0.3,6.6 0.3,-6.1 0.3,3.5 0.3,-4.2 0.3,3.4 0.3,-0.7 0.3,0.5 0.3,-0.7 0.3,4.6 0.3,-1.1 0.3,-4.6 0.3,-0.3 0.3,2.6 0.3,-1.7 0.3,5.6 0.3,-1.1 0.3,-1.1 0.3,-3.8 0.3,1.5 0.3,2.8 0.3,-3.4 0.3,2.8 0.3,-0.7 0.3,1.8 0.3,-1.5 0.3,0.2 0.3,-2.1 0.3,2.1 0.3,-1.4 0.3,2.5 0.3,-3.3 0.3,3.3 0.3,0.3 0.3,-0.9 0.3,-4.1 0.3,0.3 0.3,2.5 0.3,-0.1 0.3,-1.1 0.3,0.5 0.3,-1.4 0.3,0.2 0.3,-0.7 0.3,0.7 0.3,0.6 0.3,-0.3 0.3,-1.2 0.3,3.2 0.3,-1.7 0.3,-2.4 0.3,6.1 0.3,-8.7 0.3,5.2 0.3,-1.1 0.3,-1.4 0.3,-0.9 0.3,1.8 0.3,2.1 0.3,-0.3 0.3,-0.8 0.3,-0.5 0.3,-0.3 0.3,1.4 0.3,-1.3 0.3,0.6 0.3,1.8 0.3,-3.3 0.3,1.4 0.3,-0.3 0.3,-1 0.3,4.3 0.3,-3.7 0.3,1.2 0.3,-0.5 0.3,2 0.3,0.6 0.3,2.1 0.3,0.7 0.3,0.6 0.3,-1.9 0.3,0.9 0.3,-1.6 0.3,-1.5 0.3,3.8 0.3,-3 0.3,2.9 0.3,1.8 0.3,-2 0.3,2.6 0.3,-1.9 0.3,-0.1 0.3,1.3 0.3,2.3 0.3,-5.1 0.3,2.9 0.3,-2.1 0.3,2 0.3,0.6 0.3,-3.2 0.3,0.9 0.3,3.5 0.3,-0.2 0.3,-1.3 0.3,1.7 0.3,1.9 0.3,0.3 0.3,-4.8 0.3,2.5 0.3,3.9 0.3,-3 0.3,0.4 0.3,1 0.3,0.6 0.3,0.3 0.3,0.4 0.3,-1.3 0.3,2 0.3,1.1 0.3,-0.9 0.3,-0.1 0.3,-0.7 0.3,1.8 0.3,-2.7 0.3,1.6 0.3,0.9 0.3,-3.3 0.3,4.7 0.3,-3.1 0.3,1.3 0.3,0.3 0.3,0.9 0.3,0.8 0.3,1.6 0.3,-2.8 0.3,1.6 0.3,1.7 0.3,-1.6 0.3,0.1 0.3,1.8 0.3,1 0.3,-0.4 0.3,-2.5 0.3,2.7 0.3,-0.2 0.3,3.2 0.3,-2.7 0.3,-0.3 0.3,2.8 0.3,-3.4 0.3,3.4 0.3,0.1 0.3,-2.4 0.3,0.8 0.3,1.1 0.3,2.9 0.3,-3.1 0.3,-0.9 0.3,1.9 0.3,-1.1 0.3,-0.8 0.3,1.4 0.3,0.5 0.3,1.7 0.3,-0.8 0.3,0.1 0.3,-2 0.3,2.6 0.3,-2.2 0.3,0.2 0.3,0.5 0.3,0.2 0.3,1.6 0.3,1 0.3,-0.6 0.3,-0.4 0.3,1.7 0.3,-1.4 0.3,2.8 0.3,0.7 0.3,-2.4 0.3,0 0.3,2.4 0.3,2.3 0.3,-3.6 0.3,3.4 0.3,-1.1 0.3,-2.1 0.3,1.7 0.3,1.1 0.3,-1.2 0.3,5.1 0.3,-6.9 0.3,3.8 0.3,0.3 0.3,-0.4 0.3,0 0.3,1.5 0.3,1 0.3,-0.3 0.3,1 0.3,-0.3 0.3,-0.5 0.3,0.4 0.3,3.8 0.3,-2.4 0.3,0.6 0.3,1.7 0.3,1 0.3,-0.5 0.3,1.5 0.3,1.8 0.3,0.6 0.3,-1.5 0.3,-2.4 0.3,0.3 0.3,0.5 0.3,3.1 0.3,2.1 0.3,-0.8 0.3,0.9 0.3,4.3 0.3,-7.1 0.3,4.9" fill="none" stroke="#9b68ae" stroke-width="2.2" stroke-linejoin="round"/>
<path d="M210.1,1214.9l0.3,0.8 0.3,-0.4 0.3,3 0.3,-1.2 0.3,-3.8 0.3,1 0.3,-2.3 0.3,7.1 0.3,-2.2 0.3,0.3 0.3,-2.3 0.3,2.3 0.3,1.8 0.3,-1.4 0.3,0.3 0.3,0.1 0.3,5.1 0.3,-4.1 0.3,-1.3 0.3,2.1 0.3,0.9 0.3,1 0.3,-0.1 0.3,-1.3 0.3,2.1 0.3,1.8 0.3,-3 0.3,6.4 0.3,0.1 0.3,-6.3 0.3,2.9 0.3,3.1 0.3,1.1 0.3,1.2 0.3,-6.1 0.3,1.2 0.3,1.7 0.3,2.2 0.3,-2.9 0.3,3.3 0.3,0.6 0.3,0.8 0.3,-3.5 0.3,3.1 0.3,0.2 0.3,-0.2 0.3,3.6 0.3,-2.6 0.3,3.6 0.3,-3.6 0.3,4.2 0.3,0.1 0.3,-4.3 0.3,2.2 0.3,-0.2 0.3,-2.2 0.3,2.8 0.3,-0.1 0.3,-2.5 0.3,1.5 0.3,1.6 0.3,-2.1 0.3,-0.7 0.3,4 0.3,-4.9 0.3,2.7 0.3,1.8 0.3,-1 0.3,-4.9 0.3,3 0.3,0.3 0.3,0.3 0.3,1.3 0.3,0 0.3,-0.9 0.3,0.6 0.3,1.3 0.3,0.3 0.3,-6.3 0.3,7.7 0.3,-5.1 0.3,2.3 0.3,-4.5 0.3,1.6 0.3,-1.9 0.3,3.6 0.3,-1 0.3,-1.8 0.3,-1.2 0.3,0.4 0.3,-3 0.3,0.1 0.3,-0.6 0.3,2.1 0.3,-2.3 0.3,-2.8 0.3,2.8 0.3,0.1 0.3,1.2 0.3,-4 0.3,1.5 0.3,2.6 0.3,-4.7 0.3,-0.7 0.3,1.2 0.3,-2.3 0.3,0.5 0.3,-1.3 0.3,-0.4 0.3,2.9 0.3,-2.5 0.3,-2.1 0.3,0.8 0.3,-0.3 0.3,0.6 0.3,0.3 0.3,1.5 0.3,-5.5 0.3,1.2 0.3,-3.2 0.3,3.4 0.3,0.6 0.3,-2 0.3,-0.1 0.3,-0.2 0.3,-0.8 0.3,3.9 0.3,2.7 0.3,-5.5 0.3,5.3 0.3,-3.5 0.3,-2.4 0.3,3.3 0.3,0.7 0.3,-0.6 0.3,-1.3 0.3,3.3 0.3,-3.5 0.3,1.5 0.3,-0.2 0.3,-2.7 0.3,-1.3 0.3,0.1 0.3,2.3 0.3,1.1 0.3,-4.2 0.3,2 0.3,4.3 0.3,-6.1 0.3,4.2 0.3,-0.2 0.3,0.8 0.3,-4.5 0.3,3.1 0.3,-3.1 0.3,4.8 0.3,-4.1 0.3,2 0.3,-2.2 0.3,1.9 0.3,-3.1 0.3,3.2 0.3,0.8 0.3,-1 0.3,3.3 0.3,-2.8 0.3,0.9 0.3,-0.7 0.3,2.5 0.3,-4.5 0.3,0.9 0.3,0.2 0.3,1.5 0.3,-0.4 0.3,0.8 0.3,-1.1 0.3,-1.4 0.3,0.5 0.3,1.2 0.3,-5 0.3,6.8 0.3,-4 0.3,-0.2 0.3,0.7 0.3,-1.3 0.3,-2.9 0.3,1.7 0.3,2.4 0.3,-0.9 0.3,-0.4 0.3,-3.6 0.3,-0.2 0.3,1.6 0.3,0 0.3,-3.4 0.3,-2.2 0.3,-2 0.3,5.8 0.3,-5.6 0.3,3.6 0.3,0.6 0.3,4.2 0.3,-6 0.3,-1.1 0.3,1 0.3,-0.6 0.3,1.5 0.3,-1.4 0.3,-2.6 0.3,-2.7 0.3,4 0.3,-1.9 0.3,3.6 0.3,-5.3 0.3,2.6 0.3,-1.9 0.3,-0.4 0.3,4.3 0.3,-2.9 0.3,-1.2 0.3,1.5 0.3,-3.1 0.3,0.9 0.3,-0.3 0.3,4.4 0.3,-3.1 0.3,0.5 0.3,0.6 0.3,-2.3 0.3,-0.1 0.3,-3.1 0.3,3.9 0.3,-0.4 0.3,-1.2 0.3,2.8 0.3,-5.4 0.3,4.4 0.3,-3.6 0.3,0.4 0.3,1.9 0.3,2.8 0.3,-4.1 0.3,0.5 0.3,-0.5 0.3,6 0.3,-2.6 0.3,0.5 0.3,3.2 0.3,-3.2 0.3,-4.1 0.3,3.1 0.3,-0.6 0.3,6 0.3,-6.1 0.3,3.4 0.3,-1.3 0.3,0 0.3,1.4 0.3,-0.2 0.3,-0.8 0.3,-1.1 0.3,1 0.3,-0.4 0.3,0.6 0.3,2.2 0.3,-0.1 0.3,1.4 0.3,-1.2 0.3,4.3 0.3,-4.7 0.3,-0.4 0.3,4 0.3,-2.8 0.3,1.7 0.3,1.6 0.3,-1.8 0.3,0.1 0.3,2.5 0.3,-1.1 0.3,-1.6 0.3,-0.8 0.3,1.2 0.3,-2.1 0.3,1.8 0.3,-0.4 0.3,3.1 0.3,1.1 0.3,-2.6 0.3,0.6 0.3,-1.4 0.3,-0.5 0.3,2.4 0.3,1.9 0.3,0.4 0.3,0.4 0.3,-1.2 0.3,-4.4 0.3,6.6 0.3,0.8 0.3,-0.4 0.3,0 0.3,0.3 0.3,3.4 0.3,-4.2 0.3,2.3 0.3,-1.1 0.3,0.5 0.3,-1.2 0.3,0.3 0.3,-0.6 0.3,3.7 0.3,-1.4 0.3,-1.4 0.3,1.4 0.3,0 0.3,5.8 0.3,-2.7 0.3,1.1 0.3,-1.8 0.3,0.8 0.3,4.4 0.3,-2.2 0.3,1.1 0.3,3.5 0.3,0.8 0.3,-2.3 0.3,0.3 0.3,0 0.3,0.2 0.3,4.9 0.3,-5.8 0.3,2.6 0.3,-3.1 0.3,1.4 0.3,3.5 0.3,0.1 0.3,-0.7 0.3,-0.9 0.3,-0.7 0.3,0.7 0.3,0.3 0.3,2.6 0.3,1.1 0.3,-2.1 0.3,-1.7 0.3,-0.3 0.3,2.4 0.3,-1 0.3,-2.9 0.3,6.2 0.3,-2.7 0.3,-0.4 0.3,-0.9 0.3,0.5 0.3,3.2 0.3,-3.6 0.3,2.1 0.3,0.9 0.3,2.3 0.3,-2.3 0.3,-0.9 0.3,-0.9 0.3,2.4 0.3,-0.3 0.3,-2.8 0.3,2.3 0.3,-1.4 0.3,-2.9 0.3,1 0.3,3.6 0.3,1.4 0.3,-1.6 0.3,-1.4 0.3,-0.8 0.3,2.6 0.3,-0.4 0.3,-3.1 0.3,4.6 0.3,-2.2 0.3,2.8 0.3,0.2 0.3,1.1 0.3,1.2 0.3,0.3 0.3,-2.5 0.3,1.1 0.3,4.8 0.3,-0.3 0.3,-3.5 0.3,0.1 0.3,6.4 0.3,3.3 0.3,-1.7 0.3,-1.3 0.3,1.6 0.3,-5.1 0.3,4.1 0.3,4.4 0.3,0.1 0.3,-5.4 0.3,6.6 0.3,-0.4 0.3,1.3 0.3,-1.8 0.3,1.2 0.3,-1.3 0.3,3.3 0.3,1.6 0.3,-2.8 0.3,2.9 0.3,-1.1 0.3,3.1 0.3,0.5 0.3,-5.9 0.3,5.9 0.3,0.8 0.3,-2.6 0.3,1.1 0.3,0.1 0.3,-1.7 0.3,2.2 0.3,3.2 0.3,-2.2 0.3,1.9 0.3,-0.9 0.3,0.5 0.3,-2.3 0.3,1 0.3,2.1 0.3,-1.1 0.3,-2.7 0.3,-2.6 0.3,-0.7 0.3,1.6 0.3,-0.1 0.3,-4.6 0.3,3.6 0.3,-0.3 0.3,-0.3 0.3,-2.3 0.3,5.2 0.3,-3.4 0.3,-4.7 0.3,1.1 0.3,2.5 0.3,-0.9 0.3,-0.9 0.3,-0.4 0.3,-0.6 0.3,-0.6 0.3,-1.1 0.3,2.6 0.3,-6.5 0.3,3.5 0.3,3.7 0.3,-3.7 0.3,-0.7 0.3,5.6 0.3,-1.8 0.3,-2.2 0.3,-0.9 0.3,0.7 0.3,0 0.3,0 0.3,-0.9 0.3,2.5 0.3,-1.6 0.3,-1.6 0.3,1 0.3,2.6 0.3,-2.3 0.3,-2.5 0.3,7.7 0.3,-1.9 0.3,-1.4 0.3,-0.2 0.3,2.2 0.3,1.9 0.3,-3.7 0.3,2.4 0.3,-1.4 0.3,1.7 0.3,-2.8 0.3,-0.8 0.3,3.9 0.3,-0.3 0.3,1.8 0.3,-2.3 0.3,4.2 0.3,-1.8 0.3,3.1 0.3,-2.7 0.3,4.1 0.3,-2.5 0.3,1 0.3,2.1 0.3,-4.6 0.3,1.3 0.3,6 0.3,-5.9 0.3,2.5 0.3,2.3 0.3,2.1 0.3,-3.3 0.3,1.8 0.3,-2.1 0.3,1.6 0.3,3 0.3,-1.2 0.3,-0.4 0.3,1.1 0.3,-0.3 0.3,0.7 0.3,-0.9 0.3,-1 0.3,3.3 0.3,-3.1 0.3,3.9 0.3,2.1 0.3,-1 0.3,1.8 0.3,-6.1 0.3,2.4 0.3,-2 0.3,0.5 0.3,-1.4 0.3,1.2 0.3,4 0.3,-0.1 0.3,0.9 0.3,-0.1 0.3,-0.5 0.3,-2.7 0.3,1.4 0.3,1.5 0.3,1.4 0.3,-2.5 0.3,-0.1 0.3,0.3 0.3,4 0.3,-1.6 0.3,-1.8 0.3,-0.2 0.3,2.3 0.3,-3.5 0.3,2.9 0.3,-0.5 0.3,0.2 0.3,1.9 0.3,0.4 0.3,5.1 0.3,-5.3 0.3,1.1 0.3,-2.1 0.3,-1 0.3,5.6 0.3,2.3 0.3,-5.2 0.3,2.2 0.3,3.2 0.3,-1.1 0.3,-4.5 0.3,6.2 0.3,-1.6 0.3,2.6 0.3,-2.5 0.3,4.1 0.3,1.2 0.3,-2.8 0.3,3.1 0.3,-1.2 0.3,1.1 0.3,0 0.3,1.5 0.3,0.3 0.3,4 0.3,-1.7 0.3,-0.5 0.3,5 0.3,-1.4 0.3,1.2 0.3,-1.3 0.3,2.1 0.3,-0.9 0.3,-1.3 0.3,2.2 0.3,0.7 0.3,0.1 0.3,2 0.3,-4.5 0.3,4.3 0.3,-1.5 0.3,1.4 0.3,1.8 0.3,-0.6 0.3,-1 0.3,3 0.3,-1.2 0.3,2.4 0.3,0.8 0.3,-2.9 0.3,-1.2 0.3,2.4 0.3,1.8 0.3,-0.8 0.3,-2.2 0.3,-0.6 0.3,1.6 0.3,-0.1 0.3,3.3 0.3,-0.7 0.3,1.4 0.3,-1.3 0.3,3.8 0.3,-2.7 0.3,1.3 0.3,-1.1 0.3,2 0.3,1.1 0.3,-0.4 0.3,1 0.3,-3.3 0.3,1.6 0.3,2.7 0.3,-2.6 0.3,-0.5 0.3,0 0.3,-0.1 0.3,1.4 0.3,2.4 0.3,-1.3 0.3,-0.3 0.3,-1.2 0.3,0 0.3,6.8 0.3,-5.1 0.3,1.7 0.3,-0.9 0.3,1.9 0.3,-0.8 0.3,1.6 0.3,2.8 0.3,-3.6 0.3,3.3 0.3,-0.4 0.3,2.2 0.3,-1.9 0.3,2.9 0.3,-2 0.3,-0.9 0.3,1.8 0.3,1.3 0.3,0.5 0.3,2.3 0.3,3.5 0.3,-3.3 0.3,4.1 0.3,0.5 0.3,-0.6 0.3,0.3 0.3,3.1 0.3,0.4 0.3,-0.9 0.3,0.6 0.3,0.9 0.3,-1.5 0.3,3.7 0.3,1.3 0.3,3.1 0.3,-4.7 0.3,1.2 0.3,2.6 0.3,-0.6 0.3,1.2 0.3,1.9 0.3,0.2 0.3,1.5 0.3,1.4 0.3,-3.4 0.3,4.7 0.3,-4.3 0.3,7.3 0.3,-1 0.3,-2.8 0.3,3.2 0.3,-1.7 0.3,1.3 0.3,0.6 0.3,-0.8 0.3,-0.3 0.3,1.5 0.3,-1.2 0.3,-0.1 0.3,-1.1 0.3,-1 0.3,6.3 0.3,-1.3 0.3,-3.7 0.3,3 0.3,-0.2 0.3,-4.1 0.3,2.8 0.3,1.8 0.3,3.7 0.3,-1.3 0.3,0.5 0.3,-1.3 0.3,1.6 0.3,-3.9 0.3,3.3 0.3,0.7 0.3,-3.1 0.3,3.1 0.3,2.3 0.3,1.6 0.3,-1.2 0.3,-3.5 0.3,2 0.3,-0.4 0.3,3.7 0.3,-3.6 0.3,0.3 0.3,-0.9 0.3,3.7 0.3,0.9 0.3,-1.7 0.3,0.4 0.3,1.2 0.3,3.1 0.3,-4.3 0.3,2.8 0.3,1.1 0.3,1 0.3,2 0.3,-0.5 0.3,-0.7 0.3,2.5 0.3,0 0.3,-1.3 0.3,0.3 0.3,-2.4 0.3,2.3 0.3,-1.4 0.3,-0.9 0.3,1.5 0.3,-2.4 0.3,1.1 0.3,0.4 0.3,0.9 0.3,-1.5 0.3,0.6 0.3,1.7 0.3,-1.8 0.3,-3.9 0.3,-1.2 0.3,1.2 0.3,-0.3 0.3,-2.5 0.3,0 0.3,-0.7 0.3,1.2 0.3,3.2 0.3,0.5 0.3,-5.3 0.3,0.4 0.3,-1.9 0.3,-1.2 0.3,2 0.3,-0.8 0.3,-2.1 0.3,1.5 0.3,-2 0.3,1.8 0.3,-3.8 0.3,1.6 0.3,-2.6 0.3,-0.4 0.3,0.3 0.3,-3.9 0.3,0.7 0.3,0.9 0.3,-1.1 0.3,0.3 0.3,-1.8 0.3,-0.8 0.3,1.8 0.3,0.8 0.3,-1.9 0.3,3.8 0.3,-0.8 0.3,0.2 0.3,0 0.3,-2.8 0.3,5.4 0.3,-5.4 0.3,1.5 0.3,0.7 0.3,-0.9 0.3,0 0.3,-1.4 0.3,1 0.3,1 0.3,2.5 0.3,-3.1 0.3,2.5 0.3,-0.1 0.3,-0.2 0.3,-0.9 0.3,1.2 0.3,-2.8 0.3,3.8 0.3,0.5 0.3,-1.3 0.3,2.1 0.3,0.3 0.3,-1.5 0.3,3.4 0.3,-2.2 0.3,6.1 0.3,-5.3 0.3,0.8 0.3,1 0.3,2 0.3,2.3 0.3,-1.9 0.3,-1.4 0.3,4.3 0.3,-1.9 0.3,-3 0.3,-0.3 0.3,-3.4 0.3,2.2 0.3,2.2 0.3,-5.5 0.3,-1.1 0.3,1.7 0.3,-5.7 0.3,5.9 0.3,-6.5 0.3,0.6 0.3,0.2 0.3,1.5 0.3,-2.4 0.3,-4.8 0.3,0 0.3,2.9 0.3,-4.8 0.3,2.7 0.3,-1.7 0.3,2.3 0.3,-0.2 0.3,-7.2 0.3,4.2 0.3,-0.5 0.3,-3.3 0.3,-0.3 0.3,-2.1 0.3,0.7 0.3,0.7 0.3,1.1 0.3,-0.6 0.3,-3.7 0.3,-1.5 0.3,3.1 0.3,-7 0.3,1.8 0.3,3 0.3,2.8 0.3,-5.2 0.3,1.5 0.3,-2.1 0.3,1.7 0.3,-0.3 0.3,-1.2 0.3,2.1 0.3,-0.9 0.3,0.8 0.3,-1.2 0.3,-2 0.3,2.6 0.3,1.1 0.3,-3.1 0.3,3.7 0.3,-1.3 0.3,-1.5 0.3,0.6 0.3,-1 0.3,-1.1 0.3,3.7 0.3,-0.3 0.3,-2.4 0.3,0.8 0.3,0.5 0.3,1.8 0.3,1.8 0.3,-3.4 0.3,2.2 0.3,-0.4 0.3,1.6 0.3,1.8 0.3,-3.8 0.3,-2.3 0.3,3.6 0.3,-2.9 0.3,5.5 0.3,-4.2 0.3,0.5 0.3,1.1 0.3,-0.4 0.3,-0.8 0.3,0.6 0.3,1.4 0.3,-2.3 0.3,3.9 0.3,-3 0.3,-4.8 0.3,6.1 0.3,-4.8 0.3,3.6 0.3,3.1 0.3,-2.2 0.3,-4.5 0.3,-0.3 0.3,1.2 0.3,2.2 0.3,-3.7 0.3,3.2 0.3,-1.9 0.3,-1.2 0.3,-0.1 0.3,2.9 0.3,-6 0.3,0.4 0.3,3.5 0.3,0 0.3,-4.4 0.3,0.6 0.3,-0.4 0.3,2.2 0.3,-2.2 0.3,3.2 0.3,-1.6 0.3,-1.7 0.3,-0.8 0.3,-0.1 0.3,-0.2 0.3,-2 0.3,-0.2 0.3,-0.1 0.3,-2.3 0.3,1.3 0.3,-2.6 0.3,-1.9 0.3,1 0.3,2 0.3,-1.1 0.3,-6.4 0.3,3.3 0.3,-2 0.3,-0.1 0.3,-0.6 0.3,0.1 0.3,-0.6 0.3,0 0.3,0.6 0.3,-3.2 0.3,0 0.3,0 0.3,-0.6 0.3,3 0.3,-3.4 0.3,1.5 0.3,0 0.3,0.6 0.3,-1.7 0.3,1.6 0.3,-2.3 0.3,0 0.3,1 0.3,-4.4 0.3,2.9 0.3,1.6 0.3,-2.7 0.3,-0.7 0.3,3.7 0.3,-3.3 0.3,1.4 0.3,-6.8 0.3,4.2 0.3,-1.3 0.3,1.5 0.3,0.8 0.3,-1.9 0.3,-0.6 0.3,-4.8 0.3,6.4 0.3,0.8 0.3,-2.4 0.3,-2.1 0.3,0.9 0.3,1 0.3,-1.4 0.3,1.8 0.3,-6 0.3,-2 0.3,2.5 0.3,0.2 0.3,-4.2 0.3,-0.3 0.3,-2.6 0.3,-2.4 0.3,-0.2 0.3,-3.5 0.3,3.3 0.3,-0.8 0.3,-0.5 0.3,-4.1 0.3,-0.8 0.3,-3.1 0.3,-0.2 0.3,3.4 0.3,2.7 0.3,-7.5 0.3,0.2 0.3,1.8 0.3,-3.6 0.3,1.6 0.3,-2.3 0.3,-0.8 0.3,1 0.3,-2.8 0.3,-2.7 0.3,3.4 0.3,-2 0.3,-1.8 0.3,-1 0.3,2.3 0.3,-2.7 0.3,1.1 0.3,1.1 0.3,-2.6 0.3,1.7 0.3,-4.8 0.3,3.1 0.3,-0.5 0.3,1.8 0.3,-4 0.3,0.9 0.3,-2.3 0.3,-1.5 0.3,0.3 0.3,-0.1 0.3,2.1 0.3,-2.8 0.3,1.4 0.3,1.1 0.3,0.7 0.3,-0.7 0.3,1.1 0.3,-4.8 0.3,1.2 0.3,1.3 0.3,1.1 0.3,-1.3 0.3,-2.6 0.3,1.1 0.3,-3 0.3,3.9 0.3,-4.6 0.3,3.7 0.3,1.7 0.3,-0.3 0.3,-5.1 0.3,3 0.3,-1.3 0.3,-0.1 0.3,2.8 0.3,-2.6 0.3,-3.3 0.3,0.2 0.3,3.1 0.3,-0.9 0.3,-2.7 0.3,-1 0.3,1.8 0.3,-0.1 0.3,1.9 0.3,-3.2 0.3,2.1 0.3,0.3 0.3,-5.8 0.3,1.4 0.3,3.1 0.3,-4.2 0.3,0.4 0.3,1.1 0.3,-3.8 0.3,0.1 0.3,-2.8 0.3,2.9 0.3,-2.9 0.3,-0.2 0.3,-4.6 0.3,5.2 0.3,-1.5 0.3,-3.4 0.3,2.8 0.3,-7.2 0.3,3.7 0.3,-3.4 0.3,7 0.3,-10.1 0.3,2.4 0.3,0.1 0.3,2.5 0.3,-0.2 0.3,-1.2 0.3,-1.7 0.3,3.6 0.3,-5.8 0.3,1.7 0.3,2.5 0.3,-5.5 0.3,0.7 0.3,3.3 0.3,-1.6 0.3,-3.7 0.3,2.2 0.3,3.2 0.3,-4.2 0.3,1.4 0.3,-1.6 0.3,-2 0.3,4 0.3,-1.5 0.3,0.2 0.3,-2.5 0.3,0.3 0.3,0.4 0.3,0 0.3,-2.1 0.3,-0.2 0.3,3.5 0.3,-4.2 0.3,1 0.3,0.1 0.3,-0.4 0.3,-1.8 0.3,0.5 0.3,2.8 0.3,-2.4 0.3,-0.5 0.3,3.8 0.3,-5.7 0.3,4.3 0.3,-1.6 0.3,-3.6 0.3,1.2 0.3,-0.4 0.3,3.2 0.3,-0.9 0.3,-2.3 0.3,-2.1 0.3,-1.1 0.3,2.4 0.3,-2.8 0.3,1.7 0.3,-0.4 0.3,0.8 0.3,0.6 0.3,-1.9 0.3,0.5 0.3,-1.9 0.3,1.4 0.3,-0.7 0.3,0.9 0.3,-1 0.3,-4.3 0.3,-1.9 0.3,3.3 0.3,0.3 0.3,-3.7 0.3,3.1 0.3,-3.3 0.3,-0.8 0.3,0.2 0.3,-3.5 0.3,-1 0.3,1.7 0.3,-1.9 0.3,1.6 0.3,-0.8 0.3,-5.2 0.3,2.6 0.3,2 0.3,-5.4 0.3,3.5 0.3,-2 0.3,-0.9 0.3,5.6 0.3,-0.4 0.3,-2.6 0.3,-0.1 0.3,3 0.3,-0.5 0.3,-2.2 0.3,1.3 0.3,-1.4 0.3,-0.9 0.3,1.5 0.3,-2.2 0.3,1.7 0.3,-1.9 0.3,-0.5 0.3,-0.8 0.3,1.7 0.3,1 0.3,-1 0.3,-2.6 0.3,2.6 0.3,-3.1 0.3,-0.7 0.3,1.5 0.3,1.6 0.3,-0.1 0.3,-0.5 0.3,1.6 0.3,-1.3 0.3,-2.4 0.3,2 0.3,-1.6 0.3,1 0.3,-0.1 0.3,-1 0.3,-2.6 0.3,2.3 0.3,-0.5 0.3,0.2 0.3,-0.4 0.3,-1.1 0.3,-1.1 0.3,4.6 0.3,0.2 0.3,-0.8 0.3,-0.5 0.3,3.6 0.3,-1.8 0.3,-0.9 0.3,1.3 0.3,-1.7 0.3,1.2 0.3,-0.8 0.3,0.6 0.3,-1 0.3,-0.6 0.3,1.6 0.3,1.1 0.3,-3.5 0.3,0.1 0.3,-1.3 0.3,3.6 0.3,-2 0.3,1.8 0.3,-3 0.3,2.6 0.3,-2.6 0.3,-0.2 0.3,1.2 0.3,-1.4 0.3,-0.7 0.3,2.4 0.3,-1.5 0.3,2.4 0.3,2.1 0.3,-5.8 0.3,0.2 0.3,-2.4 0.3,0.6 0.3,3.1 0.3,-0.6 0.3,0.1 0.3,0.3 0.3,-2 0.3,-1.3 0.3,4.4 0.3,-1.3 0.3,1.2 0.3,-2.4 0.3,1.5 0.3,-2.4 0.3,0.9 0.3,0.2 0.3,0.9 0.3,1.7 0.3,-1.3 0.3,-6.1 0.3,5 0.3,-0.2 0.3,1.1 0.3,-1.3 0.3,-1.2 0.3,-0.1 0.3,0.8 0.3,-0.6 0.3,3.5 0.3,-1.6 0.3,-1.1 0.3,1.2 0.3,1.9 0.3,-4.3 0.3,-0.1 0.3,-0.4 0.3,-1.7 0.3,1.2 0.3,-0.8 0.3,2.4 0.3,0.2 0.3,0.9 0.3,-3.1 0.3,3.2 0.3,-3.1 0.3,1.4 0.3,2.8 0.3,0.5 0.3,-0.1 0.3,1.9 0.3,-2 0.3,-2.3 0.3,0.6 0.3,-0.9 0.3,1.8 0.3,-1.7 0.3,0.4 0.3,-0.2 0.3,-1.1 0.3,7.8 0.3,-2.7 0.3,-4.9 0.3,4.9 0.3,-1.4 0.3,-2.7 0.3,3.6 0.3,1.1 0.3,0.6 0.3,1.2 0.3,-3.1 0.3,1.9 0.3,1.5 0.3,0 0.3,0.1 0.3,-0.4 0.3,2.3 0.3,-4 0.3,-0.1 0.3,5.9 0.3,-2.1 0.3,1.1 0.3,-1.1 0.3,-0.8 0.3,0.1 0.3,1.1 0.3,-0.8 0.3,1 0.3,0.4 0.3,1.5 0.3,0.2 0.3,1.5 0.3,-4.2 0.3,1.3 0.3,1.7 0.3,-1.1 0.3,-5.1 0.3,5 0.3,-0.7 0.3,-0.8 0.3,-0.1 0.3,-0.7 0.3,3.4 0.3,-0.5 0.3,-0.9 0.3,1.8 0.3,-0.3 0.3,-3.5 0.3,-0.3 0.3,-0.2 0.3,3.2 0.3,-1.2 0.3,2.1 0.3,-1.3 0.3,-0.8 0.3,-1.9 0.3,1.7 0.3,4.5 0.3,-5.2 0.3,-0.4 0.3,1.1 0.3,2.2 0.3,-2.2 0.3,-2.1 0.3,0.6 0.3,1 0.3,0.4 0.3,1.4 0.3,2.7 0.3,-2.2 0.3,-1.4 0.3,-1.4 0.3,-1.4 0.3,2.6 0.3,1.4 0.3,-0.7 0.3,-1.3 0.3,1.4 0.3,-1.6 0.3,0.2 0.3,0.3 0.3,0.6 0.3,-0.1 0.3,2 0.3,-1.7 0.3,0 0.3,2.1 0.3,-0.6 0.3,0.7 0.3,-3.3 0.3,3.9 0.3,-1.9 0.3,-1.4 0.3,1.9 0.3,-1.8 0.3,0.9 0.3,1.5 0.3,2.4 0.3,-3.5 0.3,3.3 0.3,-0.3 0.3,3.3 0.3,-2.3 0.3,1.2 0.3,1.4 0.3,-4.3 0.3,1.5 0.3,-2 0.3,1.1 0.3,2.2 0.3,-0.3 0.3,1.3 0.3,-1.2 0.3,-0.5 0.3,1.4 0.3,-1.3 0.3,-0.3 0.3,-1.4 0.3,2.4 0.3,0.4 0.3,-3.2 0.3,1 0.3,-4 0.3,1.5 0.3,1.9 0.3,-2.8 0.3,2.5 0.3,-2.3 0.3,0.6 0.3,-2.5 0.3,-2.2 0.3,2.1 0.3,0.7 0.3,-2.8 0.3,0.7 0.3,-2.4 0.3,-0.1 0.3,1.9 0.3,-3.2 0.3,-2.2 0.3,1.8 0.3,-1.1 0.3,-1.7 0.3,1.2 0.3,-7.1 0.3,5.6 0.3,1.4 0.3,-3.4 0.3,-4.5 0.3,5.2 0.3,1.4 0.3,-4.2 0.3,-3.4 0.3,0 0.3,0.6 0.3,0 0.3,1.6 0.3,-1.5 0.3,-5.1 0.3,2.9 0.3,0.2 0.3,3.4 0.3,-4.2 0.3,-1.1 0.3,1.8 0.3,1 0.3,-3.2 0.3,5.2 0.3,-2 0.3,2.2 0.3,0.2 0.3,-0.5 0.3,1.7 0.3,1 0.3,-3.1 0.3,0.8 0.3,2.5 0.3,-1.4 0.3,-1.2 0.3,1.5 0.3,-1.5 0.3,0.9 0.3,-4.8 0.3,6.3 0.3,3.4 0.3,-2.1 0.3,0 0.3,-0.4 0.3,-1.6 0.3,2.4 0.3,-0.8 0.3,-0.4 0.3,0.7 0.3,-1.3 0.3,1.2 0.3,0.9 0.3,0.8 0.3,-1.1 0.3,1.2 0.3,-0.9 0.3,-4.1 0.3,0.4 0.3,2.8 0.3,-1.2 0.3,3.3 0.3,-3.2 0.3,1.8 0.3,-0.4 0.3,-0.6 0.3,0.5 0.3,0.8 0.3,0.6 0.3,-1.1 0.3,1.4 0.3,1.2 0.3,-0.7 0.3,-0.8 0.3,0.4 0.3,0.3 0.3,-0.1 0.3,1.4 0.3,5.1 0.3,-2.7 0.3,-1.5 0.3,1.2 0.3,0.1 0.3,1.5 0.3,1.1 0.3,-3.7 0.3,6.2 0.3,-4.6 0.3,2.1 0.3,-0.7 0.3,-0.5 0.3,0.8 0.3,7.6 0.3,-0.3 0.3,-3.8 0.3,0.4 0.3,5.1 0.3,-3.7 0.3,3.4 0.3,3.9 0.3,-1.7 0.3,2.3 0.3,-1.7 0.3,-2.4 0.3,2.3 0.3,-1 0.3,4.9 0.3,-1.8 0.3,3.5 0.3,-0.1 0.3,0.4 0.3,3.1 0.3,-1 0.3,0.1 0.3,3.6 0.3,-1.2 0.3,-2.1 0.3,5.3 0.3,-4 0.3,3.2 0.3,0.6 0.3,-1.6 0.3,-0.8 0.3,1.4 0.3,0.5 0.3,-1.7 0.3,3.5 0.3,-2.5 0.3,-0.3 0.3,4 0.3,-3.6 0.3,-1.4 0.3,2.8 0.3,-0.1 0.3,0.1 0.3,3.6 0.3,-4.3 0.3,3.3 0.3,-0.7 0.3,1.4 0.3,-2.5 0.3,0.1 0.3,0.3 0.3,1.2 0.3,1.6 0.3,2 0.3,-5.6 0.3,5.6 0.3,-1 0.3,-0.2 0.3,-1.2 0.3,3 0.3,-3.1 0.3,6 0.3,-3 0.3,2.4 0.3,0.2 0.3,2.2 0.3,-2.8 0.3,4.4 0.3,-0.2 0.3,2.6 0.3,-1.9 0.3,-0.4 0.3,-2.7 0.3,3.3 0.3,4.3 0.3,-3 0.3,0.5 0.3,1 0.3,1.9 0.3,-4.1 0.3,6.9 0.3,-1.6 0.3,1.1 0.3,-0.8 0.3,3.9 0.3,-4.2 0.3,2.9 0.3,-0.7 0.3,-2.1 0.3,2.7 0.3,1.8 0.3,-1.3 0.3,0.8 0.3,1.4 0.3,-0.8 0.3,0.2 0.3,2.8 0.3,-1.3 0.3,3.7 0.3,0.6 0.3,1.7 0.3,-0.2 0.3,-1.9 0.3,1.1 0.3,-2.7 0.3,3.6 0.3,-0.9 0.3,3.6 0.3,-3.2 0.3,2.1 0.3,-1.5 0.3,3.2 0.3,0.2 0.3,-2.6 0.3,5.1 0.3,-1.8 0.3,-2.9 0.3,1.7 0.3,-1.4 0.3,0.2 0.3,3.7 0.3,-2.9 0.3,5.2 0.3,-2.7 0.3,2.9 0.3,3.9 0.3,-3.1 0.3,1.1 0.3,2.7 0.3,-2.4 0.3,1.8 0.3,-2.4 0.3,1 0.3,1.5 0.3,-0.3 0.3,-1.3 0.3,2.1 0.3,0.4 0.3,0.1 0.3,-1.5 0.3,-1.8 0.3,2.6 0.3,0 0.3,-3.4 0.3,-2.5 0.3,3.6 0.3,1.4 0.3,0 0.3,-4 0.3,4 0.3,-4.3 0.3,3 0.3,-2.9 0.3,2.1 0.3,-1.3 0.3,-1.5 0.3,1.1 0.3,-2.7 0.3,0.2 0.3,-0.3 0.3,-1.1 0.3,2.7 0.3,-0.6 0.3,-2.1 0.3,-2.1 0.3,2.1 0.3,-0.6 0.3,0.7 0.3,-1.5 0.3,-0.7 0.3,2.4 0.3,-3.7 0.3,0.3 0.3,-3.3 0.3,1.9 0.3,-0.4 0.3,0.1 0.3,1 0.3,-2.6 0.3,1.7 0.3,-1.4 0.3,-0.7 0.3,-2.9 0.3,3.9 0.3,0 0.3,-3.3 0.3,0.3 0.3,-2.8 0.3,2.3 0.3,-1.6 0.3,1.9 0.3,-1.2 0.3,1.1 0.3,-3 0.3,-1.8 0.3,2.2 0.3,-1.3 0.3,3.2 0.3,-3.5 0.3,0.8 0.3,-3.2 0.3,-3.1 0.3,-3.8 0.3,0.6 0.3,-0.3 0.3,-2.6 0.3,-1 0.3,-1.3 0.3,-4.5 0.3,1.8 0.3,-3.4 0.3,0 0.3,1.3 0.3,-6.8 0.3,1.8 0.3,-0.1 0.3,0.7 0.3,-2.2 0.3,-2.1 0.3,1.6 0.3,-1.1 0.3,-4.8 0.3,2.5 0.3,-4.3 0.3,-2.4 0.3,1.7 0.3,-0.8 0.3,-2.4 0.3,6.5 0.3,-6.8 0.3,1.9 0.3,0 0.3,1.7 0.3,-5.2 0.3,2.5 0.3,-5.8 0.3,1.2 0.3,-1.7 0.3,-2.3 0.3,1.3 0.3,1.8 0.3,-0.4 0.3,-3.4 0.3,-4.1 0.3,-0.1 0.3,1.4 0.3,-0.6 0.3,-0.5 0.3,-2.4 0.3,-2.1 0.3,1.7 0.3,-1.8 0.3,1.5 0.3,-4.9 0.3,1.4 0.3,-0.6 0.3,0.1 0.3,-1.1 0.3,-7 0.3,-1.7 0.3,1 0.3,-3.4 0.3,-4.3 0.3,5.3 0.3,-3.7 0.3,-0.5 0.3,-3.1 0.3,0.7 0.3,-2.9 0.3,-1.8 0.3,1.7 0.3,-6.6 0.3,1.9 0.3,-5.3 0.3,4.1 0.3,-4.9 0.3,-3.4 0.3,-2.6 0.3,1.2 0.3,2.8 0.3,-4.6 0.3,-5.2 0.3,-2.2 0.3,7.5 0.3,-7.1 0.3,-3.3 0.3,1.6 0.3,-0.3 0.3,0.8 0.3,-4.1 0.3,-1.9 0.3,1.9 0.3,-3.6 0.3,1.3 0.3,-0.7 0.3,1.2 0.3,-3.5 0.3,-0.8 0.3,1 0.3,-0.5 0.3,-4.3 0.3,0.6 0.3,1.6 0.3,-1.5 0.3,4.1 0.3,-3.5 0.3,0.3 0.3,-2.7 0.3,-0.6 0.3,-0.4 0.3,0.9 0.3,-3.3 0.3,2.6 0.3,-4.5 0.3,2.6 0.3,-1.4 0.3,-2.1 0.3,2.6 0.3,-1.7 0.3,-2.8 0.3,-1.9 0.3,1.7 0.3,-3.4 0.3,1.9 0.3,-3.3 0.3,1 0.3,-2.3 0.3,0.4 0.3,2.8 0.3,-0.5 0.3,-4.2 0.3,-0.2 0.3,-3 0.3,3.6 0.3,1.3 0.3,-3.7 0.3,-0.2 0.3,2.5 0.3,-1.8 0.3,1.5 0.3,2.8 0.3,-1.9 0.3,0.2 0.3,1.9 0.3,-3 0.3,0.6 0.3,-1.5 0.3,-1.6 0.3,4 0.3,-5.2 0.3,2.4 0.3,-1.8 0.3,0.4 0.3,-0.7 0.3,2 0.3,1.4 0.3,1.7 0.3,-6 0.3,3.3 0.3,-1.1 0.3,-0.7 0.3,0.8 0.3,0.7 0.3,-0.7 0.3,0 0.3,3.6 0.3,-4 0.3,0.2 0.3,-3.2 0.3,3.9 0.3,-3.4 0.3,0.6 0.3,-1.5 0.3,1.2 0.3,-1.6 0.3,-1 0.3,-0.5 0.3,1.6 0.3,0.8 0.3,1.2 0.3,1.4 0.3,0.1 0.3,-4.4 0.3,-0.8 0.3,2.5 0.3,-3.4 0.3,3.6 0.3,-0.5 0.3,-3.9 0.3,2.5 0.3,1 0.3,-1.9 0.3,-1.2 0.3,-0.4 0.3,0.8 0.3,-1.6 0.3,1.8 0.3,-1.4 0.3,-1.1 0.3,-1.4 0.3,2.8 0.3,-2.9 0.3,1.4 0.3,-3.7 0.3,2.5 0.3,0 0.3,0.3 0.3,0.9 0.3,-1.1 0.3,-0.2 0.3,-2 0.3,-1.9 0.3,-0.2 0.3,0.8 0.3,1.7 0.3,1.3 0.3,-1.5 0.3,-0.5 0.3,0.6 0.3,-1.7 0.3,0.5 0.3,-0.6 0.3,0.3 0.3,-1.3 0.3,-1.6 0.3,1.3 0.3,-1.2 0.3,4.4 0.3,-0.9 0.3,-3.8 0.3,-0.8 0.3,1.5 0.3,-2.8 0.3,4.4 0.3,-2.2 0.3,-0.8 0.3,2.3 0.3,0.4 0.3,-2 0.3,1.9 0.3,-5.1 0.3,1.7 0.3,-0.2 0.3,-1.3 0.3,4.3 0.3,2.7 0.3,-6.5 0.3,1.1 0.3,2.5 0.3,-2.4 0.3,0.5 0.3,-1.3 0.3,2.3 0.3,-2.3 0.3,3.5 0.3,-0.4 0.3,-0.1 0.3,-1.7 0.3,1.2 0.3,1.3 0.3,-2.4 0.3,-0.2 0.3,-2.3 0.3,3.2 0.3,1 0.3,2 0.3,-3.6 0.3,0.1 0.3,5.2 0.3,-0.2 0.3,-3.7 0.3,1.3 0.3,-2.2 0.3,3.2 0.3,2.5 0.3,-0.8 0.3,-3.3 0.3,2.2 0.3,-1.9 0.3,1.7 0.3,-1.5 0.3,1.8 0.3,1 0.3,-1.8 0.3,-0.6 0.3,-0.5 0.3,0.5 0.3,-2.8 0.3,-0.4 0.3,-0.3 0.3,2 0.3,-2.9 0.3,0.6 0.3,-2.6 0.3,-2.4 0.3,1.1 0.3,0.8 0.3,-1.9 0.3,-1.3 0.3,-0.3 0.3,1 0.3,-1 0.3,-1.1 0.3,-2.2 0.3,-0.2 0.3,7 0.3,-7.3 0.3,1 0.3,-1.1 0.3,-3.2 0.3,3.7 0.3,-3.1 0.3,-2.2 0.3,2.1 0.3,-2.7 0.3,1 0.3,-3.2 0.3,1.7 0.3,1.3 0.3,-2.3 0.3,-1.8 0.3,0.7 0.3,2.4 0.3,-4.4 0.3,-0.2 0.3,3.1 0.3,-1.9 0.3,-0.6 0.3,-1.6 0.3,1.2 0.3,0.3 0.3,-0.8 0.3,-4.1 0.3,3.7 0.3,-4.3 0.3,5.2 0.3,-4 0.3,1.7 0.3,-1.1 0.3,-1.8 0.3,3.1 0.3,-1.9 0.3,2.8 0.3,-2.7 0.3,-0.6 0.3,3.7 0.3,-2.5 0.3,-2.4 0.3,-1.4 0.3,4.7 0.3,-1.2 0.3,-0.4 0.3,-3 0.3,-0.6 0.3,-0.7 0.3,3.9 0.3,-2.5 0.3,1.1 0.3,-5.2 0.3,5.2 0.3,-3.3 0.3,-3.7 0.3,2.2 0.3,2.7 0.3,1.5 0.3,-7.9 0.3,2 0.3,2.8 0.3,-3.2 0.3,1.7 0.3,-1.7 0.3,2.1 0.3,-2.8 0.3,1.8 0.3,-1.2 0.3,1.4 0.3,-0.8 0.3,2.1 0.3,-1.7 0.3,2.1 0.3,-6.4 0.3,1.5 0.3,1.8 0.3,-1.2 0.3,-4.8 0.3,5.6 0.3,-1.9 0.3,5.2 0.3,-4.6 0.3,1.4 0.3,-3.3 0.3,3 0.3,-6.3 0.3,3.3 0.3,1 0.3,-2.4 0.3,4.5 0.3,-2 0.3,2.7 0.3,-5.6 0.3,1.1 0.3,2.7 0.3,-1.9 0.3,2.6 0.3,-0.3 0.3,-2.9 0.3,1.6 0.3,1 0.3,-0.9 0.3,-1.2 0.3,-0.7 0.3,0.2 0.3,2.1 0.3,1.8 0.3,-6.3 0.3,0.5 0.3,1.5 0.3,2.9 0.3,-4.4 0.3,6 0.3,-0.1 0.3,-8.3 0.3,5.5 0.3,0 0.3,-1.7 0.3,-2.7 0.3,3.4 0.3,-1 0.3,3 0.3,-1.1 0.3,-2.7 0.3,5.2 0.3,-0.2 0.3,-0.9 0.3,-2.7 0.3,1.6 0.3,-1.7 0.3,-1.5 0.3,-2.1 0.3,3.9 0.3,-4.4 0.3,4.6 0.3,-4.5 0.3,2.4 0.3,-1.1 0.3,-1.4 0.3,-0.4 0.3,0.5 0.3,4.1 0.3,-2.1 0.3,-1.3 0.3,2.1 0.3,-3.9 0.3,-0.9 0.3,1.1 0.3,3.5 0.3,-2.9 0.3,0.9 0.3,-0.6 0.3,-1.4 0.3,3.6 0.3,-1.3 0.3,-2.9 0.3,-0.7 0.3,1.6 0.3,-1.9 0.3,1.4 0.3,1.5 0.3,-1 0.3,0.4 0.3,-1 0.3,-0.8 0.3,-0.1 0.3,4.3 0.3,-3.5 0.3,1.3 0.3,0 0.3,0.8 0.3,-1.3 0.3,-2.4 0.3,6.6 0.3,-5.9 0.3,3.1 0.3,-2.9 0.3,3 0.3,-3.3 0.3,5.1 0.3,-2.5 0.3,-3.6 0.3,6 0.3,-6.6 0.3,2.3 0.3,2.3 0.3,-2.9 0.3,3 0.3,-2.5 0.3,-1 0.3,3.5 0.3,-2.3 0.3,-1.3 0.3,3 0.3,-2.2 0.3,-1.9 0.3,1 0.3,6 0.3,-0.2 0.3,-7 0.3,4.5 0.3,0.8 0.3,-2.4 0.3,1.3 0.3,-3.3 0.3,1.5 0.3,2.4 0.3,-2.2 0.3,-0.6 0.3,0.1 0.3,-2.5 0.3,0.7 0.3,0.9 0.3,0.9 0.3,-1 0.3,4.8 0.3,-6.9 0.3,1.1 0.3,0.4 0.3,2.4 0.3,-3.8 0.3,3.2 0.3,-2.3 0.3,0.2 0.3,2.1 0.3,0.8 0.3,0.1 0.3,-3.8 0.3,4 0.3,-0.4 0.3,-1 0.3,0.3 0.3,-0.8 0.3,0.5 0.3,2 0.3,1.5 0.3,-3.5 0.3,1.5 0.3,1.3 0.3,-3.7 0.3,6.1 0.3,-2.2 0.3,2.3 0.3,-2.8 0.3,-0.8 0.3,1.5 0.3,1.4 0.3,-1.9 0.3,3.4 0.3,-1 0.3,-2.2 0.3,3.2 0.3,-1 0.3,1 0.3,-0.6 0.3,-0.4 0.3,-0.4 0.3,2.4 0.3,0.1 0.3,1.5 0.3,-2 0.3,2.6 0.3,1.5 0.3,-3 0.3,3.1 0.3,4.4 0.3,-4.6 0.3,1 0.3,1.1 0.3,0.3 0.3,3.3 0.3,-1.2 0.3,0.6 0.3,-0.6 0.3,2.9 0.3,-0.6 0.3,0.6 0.3,0.8 0.3,4.4 0.3,-1.7 0.3,1.9 0.3,2.9 0.3,-1.2 0.3,3 0.3,-2 0.3,4.3 0.3,-4 0.3,5.6 0.3,0.3 0.3,0.5 0.3,4.9 0.3,0.5 0.3,1.6 0.3,2.2 0.3,-1.1 0.3,0.9 0.3,-0.1 0.3,4.7 0.3,-0.5 0.3,-2.2 0.3,0.6 0.3,0.8 0.3,0.8 0.3,4.6 0.3,-1.5 0.3,2.5 0.3,-2.3 0.3,1.3 0.3,4.3 0.3,-5.1 0.3,2.5 0.3,-1 0.3,3.6 0.3,6.9 0.3,-4.7 0.3,4.9 0.3,2.9 0.3,-2.7 0.3,1.3 0.3,3.8 0.3,2.6 0.3,-2.1 0.3,3.6 0.3,6.4 0.3,-2.3 0.3,4.1 0.3,3.3 0.3,-0.2 0.3,2.3 0.3,1.5 0.3,1.6 0.3,2.1 0.3,0.2 0.3,3.9 0.3,2.3 0.3,4.2 0.3,-0.1 0.3,1.2 0.3,6.4 0.3,-1.3 0.3,0.9 0.3,1.4 0.3,3 0.3,0.3 0.3,2.7 0.3,1.1 0.3,1.3 0.3,3.4 0.3,0.2 0.3,7.6 0.3,-3.4 0.3,7.4 0.3,-0.9 0.3,2.7 0.3,2.7 0.3,-4.1 0.3,7.3 0.3,-0.9 0.3,-0.5 0.3,1.1 0.3,3.3 0.3,-2.3 0.3,8.1 0.3,-2.1 0.3,2.9 0.3,-0.2 0.3,0.4 0.3,0.9 0.3,0.5 0.3,5 0.3,-1.1 0.3,1.8 0.3,1.1 0.3,0.9 0.3,0.5 0.3,2.8 0.3,-2.3 0.3,-0.1 0.3,2.8 0.3,0.9 0.3,1.8 0.3,3 0.3,0.8 0.3,0.5 0.3,-0.9 0.3,3.9 0.3,1.2 0.3,2.8 0.3,0 0.3,1 0.3,3.2 0.3,-0.1 0.3,1.6 0.3,3.7 0.3,1.2 0.3,3.7 0.3,0.4 0.3,-0.4 0.3,6.4 0.3,2.3 0.3,-3.7 0.3,2.7 0.3,4.4 0.3,-0.2 0.3,-1.7 0.3,5.7 0.3,-0.6 0.3,1.2 0.3,2.1 0.3,-2.4 0.3,0.7 0.3,3.3 0.3,1.7 0.3,-0.7 0.3,2.6 0.3,0 0.3,1.5 0.3,-2.6 0.3,2 0.3,3.2 0.3,-2.3 0.3,0.5 0.3,2.3 0.3,-0.2 0.3,-0.8 0.3,-0.9 0.3,5.6 0.3,-1.8 0.3,3.1 0.3,-3.8 0.3,2.3 0.3,0 0.3,0.6 0.3,-3.1 0.3,5.7 0.3,-2.1 0.3,1.2 0.3,-1.9 0.3,4.6 0.3,-5 0.3,6.4 0.3,-3.6 0.3,0.5 0.3,-0.6 0.3,3.8 0.3,-3.5 0.3,0 0.3,0.3 0.3,3.3 0.3,0.3 0.3,-1.6 0.3,2.7 0.3,2.5 0.3,-1 0.3,0 0.3,-1.7 0.3,5.7 0.3,-0.7 0.3,-2.8 0.3,1.7 0.3,-2.7 0.3,6.6 0.3,-2.2 0.3,2.7 0.3,4.2 0.3,-3.9 0.3,5.2 0.3,-1 0.3,0 0.3,5.1 0.3,-0.4 0.3,-0.4 0.3,3.3 0.3,-0.6 0.3,0.9 0.3,2.6 0.3,3.9 0.3,-3.8 0.3,1.9" fill="none" stroke="#2c5aa8" stroke-width="1.7" stroke-linejoin="round"/>
</g>
<line x1="736.4" y1="1281" x2="783.2" y2="1281" stroke="#e63329" stroke-width="1.6"/>
<text x="789.8" y="1290.8" font-size="28.8" fill="#000">Orb</text>
<line x1="736.4" y1="1316" x2="783.2" y2="1316" stroke="#9b68ae" stroke-width="1.6"/>
<text x="789.8" y="1325.8" font-size="28.8" fill="#000">OrbGHG</text>
<line x1="736.4" y1="1350" x2="783.2" y2="1350" stroke="#2c5aa8" stroke-width="1.6"/>
<text x="789.8" y="1359.8" font-size="28.8" fill="#000">OrbGHGICE</text>
<text x="67" y="1191" font-size="33" text-anchor="middle" transform="rotate(-90 67 1191)" fill="#231f20">North Pacific</text>
<text x="107.4" y="1188" font-size="33" text-anchor="middle" transform="rotate(-90 107.4 1188)" fill="#231f20">westerlies (m/s)</text>
<text x="-0.9" y="1205.5" font-size="50" font-weight="bold" fill="#231f20">c</text>
<line x1="211.2" y1="1433.1" x2="211.2" y2="1881" stroke="#231f20" stroke-width="2.4"/>
<line x1="978" y1="1433.1" x2="978" y2="1870" stroke="#231f20" stroke-width="2.4"/>
<line x1="199.7" y1="1433.1" x2="978" y2="1433.1" stroke="#231f20" stroke-width="2.4"/>
<line x1="199.7" y1="1870" x2="978" y2="1870" stroke="#231f20" stroke-width="2.4"/>
<line x1="199.7" y1="1461.9" x2="211.2" y2="1461.9" stroke="#231f20" stroke-width="2.4"/>
<line x1="199.7" y1="1491" x2="211.2" y2="1491" stroke="#231f20" stroke-width="2.4"/>
<line x1="199.7" y1="1520.2" x2="211.2" y2="1520.2" stroke="#231f20" stroke-width="2.4"/>
<line x1="188.7" y1="1549.3" x2="211.2" y2="1549.3" stroke="#231f20" stroke-width="2.4"/>
<line x1="199.7" y1="1578.4" x2="211.2" y2="1578.4" stroke="#231f20" stroke-width="2.4"/>
<line x1="199.7" y1="1607.6" x2="211.2" y2="1607.6" stroke="#231f20" stroke-width="2.4"/>
<line x1="199.7" y1="1636.7" x2="211.2" y2="1636.7" stroke="#231f20" stroke-width="2.4"/>
<line x1="199.7" y1="1665.9" x2="211.2" y2="1665.9" stroke="#231f20" stroke-width="2.4"/>
<line x1="188.7" y1="1695" x2="211.2" y2="1695" stroke="#231f20" stroke-width="2.4"/>
<line x1="199.7" y1="1724.1" x2="211.2" y2="1724.1" stroke="#231f20" stroke-width="2.4"/>
<line x1="199.7" y1="1753.3" x2="211.2" y2="1753.3" stroke="#231f20" stroke-width="2.4"/>
<line x1="199.7" y1="1782.4" x2="211.2" y2="1782.4" stroke="#231f20" stroke-width="2.4"/>
<line x1="199.7" y1="1811.6" x2="211.2" y2="1811.6" stroke="#231f20" stroke-width="2.4"/>
<line x1="188.7" y1="1840.7" x2="211.2" y2="1840.7" stroke="#231f20" stroke-width="2.4"/>
<text x="181.3" y="1561.8" font-size="33" text-anchor="end" fill="#231f20">0.25</text>
<text x="181.3" y="1707.5" font-size="33" text-anchor="end" fill="#231f20">0.20</text>
<text x="181.3" y="1853.2" font-size="33" text-anchor="end" fill="#231f20">0.15</text>
<line x1="278.3" y1="1870" x2="278.3" y2="1892" stroke="#231f20" stroke-width="2.4"/>
<text x="278.3" y="1924.3" font-size="33" text-anchor="middle" fill="#231f20">80</text>
<line x1="345.6" y1="1870" x2="345.6" y2="1881" stroke="#231f20" stroke-width="2.4"/>
<line x1="412.8" y1="1870" x2="412.8" y2="1892" stroke="#231f20" stroke-width="2.4"/>
<text x="412.8" y="1924.3" font-size="33" text-anchor="middle" fill="#231f20">90</text>
<line x1="480.1" y1="1870" x2="480.1" y2="1881" stroke="#231f20" stroke-width="2.4"/>
<line x1="547.4" y1="1870" x2="547.4" y2="1892" stroke="#231f20" stroke-width="2.4"/>
<text x="547.4" y="1924.3" font-size="33" text-anchor="middle" fill="#231f20">100</text>
<line x1="614.6" y1="1870" x2="614.6" y2="1881" stroke="#231f20" stroke-width="2.4"/>
<line x1="681.9" y1="1870" x2="681.9" y2="1892" stroke="#231f20" stroke-width="2.4"/>
<text x="681.9" y="1924.3" font-size="33" text-anchor="middle" fill="#231f20">110</text>
<line x1="749.1" y1="1870" x2="749.1" y2="1881" stroke="#231f20" stroke-width="2.4"/>
<line x1="816.4" y1="1870" x2="816.4" y2="1892" stroke="#231f20" stroke-width="2.4"/>
<text x="816.4" y="1924.3" font-size="33" text-anchor="middle" fill="#231f20">120</text>
<line x1="883.6" y1="1870" x2="883.6" y2="1881" stroke="#231f20" stroke-width="2.4"/>
<line x1="950.9" y1="1870" x2="950.9" y2="1892" stroke="#231f20" stroke-width="2.4"/>
<text x="950.9" y="1924.3" font-size="33" text-anchor="middle" fill="#231f20">130</text>
<g clip-path="url(#clipd)">
<path d="M211.7,1563.5l0.3,4.3 0.3,-2.5 0.3,-2.6 0.3,-5 0.3,5.9 0.3,-2.1 0.3,-2.1 0.3,-0.2 0.3,-3.3 0.3,1.6 0.3,-2.6 0.3,1 0.3,-1.8 0.3,-3.2 0.3,0.2 0.3,2.6 0.3,-0.6 0.3,-2.8 0.3,-1.8 0.3,-0.3 0.3,0.7 0.3,-3.5 0.3,3.6 0.3,-3.3 0.3,-1.4 0.3,1.5 0.3,2.8 0.3,-4.8 0.3,-0.3 0.3,-1.9 0.3,2.2 0.3,-0.6 0.3,-0.6 0.3,-0.9 0.3,1.3 0.3,0.6 0.3,-2.7 0.3,-0.2 0.3,-1 0.3,0.1 0.3,3 0.3,-4.4 0.3,1.7 0.3,1.1 0.3,-3.1 0.3,1.7 0.3,0 0.3,-3.6 0.3,3.9 0.3,-3.8 0.3,2 0.3,-3.4 0.3,-0.4 0.3,2.3 0.3,3.4 0.3,1.2 0.3,0.5 0.3,-2.7 0.3,-0.4 0.3,-0.7 0.3,-0.2 0.3,-1.7 0.3,-0.4 0.3,1.4 0.3,-0.1 0.3,-2.4 0.3,-1 0.3,0.4 0.3,6.7 0.3,-7.1 0.3,3.5 0.3,-1.1 0.3,-0.2 0.3,-3.6 0.3,4.4 0.3,-3.8 0.3,-2.2 0.3,-1.2 0.3,0 0.3,3.2 0.3,-6.7 0.3,0.7 0.3,1.1 0.3,0 0.3,-3.2 0.3,-0.7 0.3,0.1 0.3,1.3 0.3,-2.4 0.3,-0.8 0.3,0 0.3,-0.6 0.3,1 0.3,-3 0.3,1 0.3,-1.5 0.3,2.4 0.3,0 0.3,-2.3 0.3,2.2 0.3,-2.8 0.3,2.8 0.3,-3.3 0.3,-0.3 0.3,-2 0.3,0.4 0.3,0.9 0.3,-3.7 0.3,3.7 0.3,1.3 0.3,-0.8 0.3,-0.8 0.3,0.6 0.3,-2.6 0.3,0.2 0.3,2 0.3,-2.2 0.3,1.8 0.3,-3.4 0.3,2.2 0.3,0.7 0.3,-2.7 0.3,3.4 0.3,-0.1 0.3,-7.5 0.3,8.8 0.3,-7.8 0.3,7.2 0.3,-6.5 0.3,-2.7 0.3,1.2 0.3,2.8 0.3,-2.9 0.3,0.4 0.3,2.4 0.3,-4.7 0.3,1.7 0.3,0.9 0.3,-5.7 0.3,0.5 0.3,2.4 0.3,-0.6 0.3,0.1 0.3,-4.5 0.3,1.7 0.3,1.6 0.3,0 0.3,0.8 0.3,-3.1 0.3,-0.8 0.3,-0.9 0.3,0 0.3,-2.5 0.3,6.5 0.3,-4 0.3,-0.7 0.3,-0.1 0.3,2 0.3,-1.1 0.3,-1.9 0.3,3 0.3,-1.2 0.3,-1 0.3,0.6 0.3,2.1 0.3,-1.7 0.3,-1.7 0.3,2.4 0.3,-5.9 0.3,5 0.3,-3.2 0.3,0.6 0.3,0.9 0.3,3.8 0.3,-3.7 0.3,0.2 0.3,1.4 0.3,-5.1 0.3,3.2 0.3,1.6 0.3,-3.2 0.3,2.8 0.3,-2.5 0.3,-2.2 0.3,4.6 0.3,-1.4 0.3,1.1 0.3,-1.3 0.3,-2.3 0.3,3.3 0.3,-1.1 0.3,-0.2 0.3,-1.6 0.3,-1.6 0.3,4.3 0.3,-0.9 0.3,-0.9 0.3,-1.4 0.3,3.4 0.3,-4.3 0.3,0.2 0.3,5.5 0.3,-3.3 0.3,0.7 0.3,-1 0.3,2.4 0.3,-3.1 0.3,-0.2 0.3,-2.9 0.3,1.6 0.3,-2.7 0.3,1.8 0.3,0.9 0.3,1 0.3,1.5 0.3,-3.8 0.3,-0.8 0.3,2.4 0.3,-2.2 0.3,4.9 0.3,-0.6 0.3,-4.1 0.3,1.8 0.3,1.4 0.3,-4.4 0.3,0.5 0.3,0.4 0.3,2.4 0.3,-1.9 0.3,-1.5 0.3,0.5 0.3,-1 0.3,0.2 0.3,0.5 0.3,-0.9 0.3,0.8 0.3,-1.6 0.3,-0.9 0.3,-0.7 0.3,-2.3 0.3,1.7 0.3,4.1 0.3,-3.4 0.3,0.7 0.3,0.4 0.3,-2.3 0.3,-0.1 0.3,1.3 0.3,-2.8 0.3,3.2 0.3,-0.4 0.3,-0.6 0.3,-0.2 0.3,0.8 0.3,-1.5 0.3,-4.8 0.3,5.1 0.3,-2.4 0.3,0.6 0.3,-0.2 0.3,-0.2 0.3,-2.4 0.3,-0.7 0.3,2.9 0.3,-0.2 0.3,1.2 0.3,-3.2 0.3,1.7 0.3,1.6 0.3,-2.5 0.3,-0.5 0.3,4.6 0.3,-6.5 0.3,1.3 0.3,-0.4 0.3,1.4 0.3,6.4 0.3,-7.3 0.3,1.3 0.3,-0.3 0.3,-0.2 0.3,3.3 0.3,-2.3 0.3,2.9 0.3,1 0.3,-3.5 0.3,3.5 0.3,-4.6 0.3,2.7 0.3,1.7 0.3,-3.4 0.3,2.5 0.3,1.4 0.3,0.6 0.3,-0.4 0.3,3 0.3,-3.7 0.3,2 0.3,2.1 0.3,-5 0.3,0.1 0.3,-1.1 0.3,3.3 0.3,1.6 0.3,-5.8 0.3,1.5 0.3,0.4 0.3,4.8 0.3,-4.7 0.3,1.2 0.3,-3.3 0.3,3.8 0.3,-3.9 0.3,1.6 0.3,-2.1 0.3,1.4 0.3,-0.5 0.3,0.7 0.3,-0.5 0.3,2.7 0.3,-4.4 0.3,3.3 0.3,-2 0.3,-0.9 0.3,0.5 0.3,-0.2 0.3,0.7 0.3,-0.1 0.3,-0.6 0.3,-1 0.3,-3.2 0.3,4.2 0.3,0.2 0.3,-1.7 0.3,-0.4 0.3,-2.2 0.3,1.9 0.3,1.1 0.3,-4.4 0.3,1.3 0.3,0 0.3,3.1 0.3,-3.1 0.3,-2.3 0.3,3.4 0.3,2 0.3,-2.9 0.3,-0.3 0.3,1.1 0.3,2.3 0.3,-3.6 0.3,-0.5 0.3,1.2 0.3,-2.2 0.3,-1.8 0.3,2.9 0.3,-1.5 0.3,1.3 0.3,-0.5 0.3,0.4 0.3,-2.8 0.3,2.2 0.3,-2.5 0.3,2 0.3,-1.8 0.3,4.3 0.3,-4.7 0.3,-2.6 0.3,4.3 0.3,-1.8 0.3,-0.9 0.3,2 0.3,2.3 0.3,-3.2 0.3,-1.4 0.3,3.7 0.3,-0.3 0.3,-2.5 0.3,-1.3 0.3,2.2 0.3,-2.5 0.3,0 0.3,-0.2 0.3,2.4 0.3,1.5 0.3,-2.6 0.3,2.8 0.3,-7.1 0.3,3 0.3,-2.6 0.3,4.7 0.3,1.2 0.3,-5.7 0.3,1.9 0.3,1.7 0.3,-2.7 0.3,1.4 0.3,0 0.3,1.9 0.3,-1.8 0.3,-0.7 0.3,1.3 0.3,1.6 0.3,0.9 0.3,-0.4 0.3,2.6 0.3,-2.7 0.3,1.1 0.3,1.2 0.3,-1.4 0.3,3.7 0.3,-1 0.3,0.4 0.3,-3.1 0.3,1.8 0.3,1.4 0.3,1.1 0.3,-2.7 0.3,0.8 0.3,-1.1 0.3,-0.2 0.3,4.6 0.3,-1.6 0.3,1.1 0.3,1.2 0.3,-1.7 0.3,0.8 0.3,-1.9 0.3,1.2 0.3,2.5 0.3,1.6 0.3,-0.1 0.3,-2.3 0.3,-0.1 0.3,2.9 0.3,-0.6 0.3,0.4 0.3,-0.5 0.3,2 0.3,-1.8 0.3,1.9 0.3,-1.5 0.3,-0.9 0.3,-2 0.3,2.6 0.3,0.9 0.3,-1.1 0.3,-1.7 0.3,-2 0.3,3 0.3,3.6 0.3,-5.2 0.3,1 0.3,1.1 0.3,1.5 0.3,-3.2 0.3,1.7 0.3,0.9 0.3,-2.6 0.3,3 0.3,-2.1 0.3,1.9 0.3,1.2 0.3,-0.3 0.3,-2.4 0.3,3.6 0.3,0 0.3,-0.9 0.3,1.2 0.3,-2.3 0.3,-0.4 0.3,1.3 0.3,1.2 0.3,1.1 0.3,-2.5 0.3,1.7 0.3,-0.3 0.3,-0.7 0.3,-2.4 0.3,0 0.3,4.4 0.3,-4.4 0.3,-0.3 0.3,0.9 0.3,1.8 0.3,2.9 0.3,-1.5 0.3,-1.8 0.3,0.4 0.3,1.3 0.3,-0.7 0.3,-3.1 0.3,4.9 0.3,-0.8 0.3,-3.4 0.3,1.5 0.3,1.2 0.3,0 0.3,-1.1 0.3,0.4 0.3,3 0.3,-3.6 0.3,2.2 0.3,-0.9 0.3,-2.3 0.3,3.4 0.3,-0.3 0.3,1.4 0.3,1 0.3,-1 0.3,-1.2 0.3,0.2 0.3,0.7 0.3,-2.9 0.3,-0.1 0.3,3.6 0.3,-2.7 0.3,1.8 0.3,3.6 0.3,-1.2 0.3,0.7 0.3,-2.3 0.3,2.1 0.3,-3.4 0.3,0 0.3,1.6 0.3,-0.9 0.3,3.5 0.3,-2.3 0.3,-1.7 0.3,3.4 0.3,-0.3 0.3,1.1 0.3,-3.8 0.3,0.8 0.3,-2.4 0.3,4.6 0.3,-0.4 0.3,-1.1 0.3,3.5 0.3,-3.8 0.3,0.6 0.3,-0.5 0.3,0.2 0.3,1.2 0.3,0.3 0.3,-0.4 0.3,-1.1 0.3,0 0.3,1.2 0.3,1.1 0.3,-1.2 0.3,0.9 0.3,0.1 0.3,-0.9 0.3,-0.8 0.3,2.1 0.3,3.5 0.3,-1.7 0.3,-1.5 0.3,-1.1 0.3,0.7 0.3,3.5 0.3,-3.7 0.3,4.8 0.3,-2.9 0.3,0.9 0.3,-1 0.3,2.4 0.3,-0.1 0.3,-2.6 0.3,4.6 0.3,-2.6 0.3,-2.7 0.3,4 0.3,-0.1 0.3,-0.1 0.3,0.9 0.3,0.9 0.3,-3.6 0.3,1.9 0.3,-0.2 0.3,0.5 0.3,-2.9 0.3,4.4 0.3,0.1 0.3,3.8 0.3,-4.4 0.3,1.3 0.3,1.7 0.3,-0.7 0.3,1.6 0.3,1 0.3,-3.4 0.3,2.2 0.3,1.1 0.3,-2.1 0.3,5.5 0.3,-2.5 0.3,0 0.3,-2 0.3,2.2 0.3,-2.3 0.3,5.2 0.3,-2.1 0.3,1.4 0.3,1 0.3,-0.1 0.3,-0.8 0.3,2.1 0.3,-3.1 0.3,-1 0.3,0.9 0.3,4 0.3,1.3 0.3,-3.7 0.3,0.5 0.3,1.3 0.3,-2.4 0.3,1.7 0.3,-1.4 0.3,3 0.3,-5.3 0.3,3.2 0.3,-0.5 0.3,3.2 0.3,1.3 0.3,-0.5 0.3,3.9 0.3,-3.7 0.3,-1.5 0.3,0.5 0.3,2.2 0.3,-0.2 0.3,3.6 0.3,-3.2 0.3,-1.9 0.3,-0.2 0.3,3.5 0.3,-6.2 0.3,6.1 0.3,0.9 0.3,-2 0.3,1.3 0.3,2.2 0.3,0.8 0.3,0 0.3,-0.4 0.3,-1.5 0.3,-1.2 0.3,-1 0.3,7.3 0.3,-1.1 0.3,-4 0.3,4.9 0.3,-1.9 0.3,0.3 0.3,-0.4 0.3,6.1 0.3,-5.8 0.3,1.2 0.3,3.5 0.3,0.7 0.3,-0.1 0.3,-2.3 0.3,2.2 0.3,-1.1 0.3,0.9 0.3,4 0.3,-2.6 0.3,1.1 0.3,-2.8 0.3,0.9 0.3,2.2 0.3,1.5 0.3,-2.6 0.3,3.4 0.3,2 0.3,-7.5 0.3,3.4 0.3,1.9 0.3,-1.1 0.3,3.9 0.3,-2.4 0.3,0.6 0.3,-3.4 0.3,5 0.3,-2.2 0.3,1.5 0.3,-1.1 0.3,-0.5 0.3,1.3 0.3,-2 0.3,2.6 0.3,2.4 0.3,-0.2 0.3,-3 0.3,3.2 0.3,-2 0.3,-0.3 0.3,1.8 0.3,0.4 0.3,-2.3 0.3,3 0.3,-1.2 0.3,4.3 0.3,-5.9 0.3,2.9 0.3,0.4 0.3,-0.8 0.3,-0.4 0.3,4.7 0.3,-1.4 0.3,-2.3 0.3,2 0.3,0.4 0.3,1.5 0.3,-1.7 0.3,4.9 0.3,-1.9 0.3,2.5 0.3,-1.4 0.3,-1 0.3,0.4 0.3,1.5 0.3,0.1 0.3,0.8 0.3,1.4 0.3,1.5 0.3,-3.4 0.3,-0.6 0.3,1.5 0.3,4.6 0.3,-2.1 0.3,-0.2 0.3,2.2 0.3,0.7 0.3,-2.8 0.3,0.5 0.3,1.8 0.3,0.5 0.3,-0.8 0.3,5.8 0.3,-1.4 0.3,-1.9 0.3,1.3 0.3,-3.3 0.3,4.1 0.3,-2 0.3,-1.5 0.3,-1 0.3,4.2 0.3,-1 0.3,-1 0.3,2.8 0.3,-2 0.3,1 0.3,-1.3 0.3,1.7 0.3,-2.6 0.3,1.2 0.3,1.2 0.3,-1.3 0.3,0.7 0.3,1.8 0.3,-2.1 0.3,2.8 0.3,-1.2 0.3,-0.5 0.3,-3 0.3,5.8 0.3,0.1 0.3,-2.1 0.3,0.1 0.3,0 0.3,-0.7 0.3,0 0.3,1.4 0.3,-3.1 0.3,2.9 0.3,0.5 0.3,-3.5 0.3,2.3 0.3,-1.4 0.3,0.1 0.3,3.1 0.3,-3.3 0.3,6.7 0.3,-5 0.3,-1 0.3,0.8 0.3,0.2 0.3,0.5 0.3,-0.3 0.3,0.4 0.3,1.2 0.3,0.3 0.3,-1.7 0.3,0.3 0.3,-1.7 0.3,0.2 0.3,0.3 0.3,2.9 0.3,-3.6 0.3,1.9 0.3,-0.5 0.3,1.4 0.3,-2.5 0.3,0.3 0.3,2.7 0.3,-1.4 0.3,-1.4 0.3,3.3 0.3,-2 0.3,-0.6 0.3,2.8 0.3,1.4 0.3,-4.3 0.3,-1 0.3,-2.4 0.3,7.7 0.3,-4 0.3,1 0.3,-1.2 0.3,1.7 0.3,-1.5 0.3,4.6 0.3,-1 0.3,-2.1 0.3,-1.2 0.3,3.3 0.3,-2.3 0.3,4.1 0.3,-1.7 0.3,-0.7 0.3,-1.8 0.3,2.6 0.3,-2.7 0.3,4.6 0.3,-5.3 0.3,2.5 0.3,5.5 0.3,-4.8 0.3,2.9 0.3,1.3 0.3,-1.4 0.3,-0.9 0.3,2.3 0.3,0.4 0.3,-3 0.3,3.9 0.3,-0.1 0.3,-4.3 0.3,2.9 0.3,0.5 0.3,-0.7 0.3,-1.1 0.3,-1 0.3,2.8 0.3,-3.7 0.3,1.9 0.3,-2.4 0.3,2.4 0.3,1.8 0.3,-2.7 0.3,4.1 0.3,0.3 0.3,-0.9 0.3,0.4 0.3,1.4 0.3,-0.9 0.3,-4.7 0.3,2.8 0.3,-1.6 0.3,1.5 0.3,-2.9 0.3,3.1 0.3,-0.2 0.3,1.2 0.3,-2.8 0.3,1.1 0.3,-3.2 0.3,3.4 0.3,0.1 0.3,-2.3 0.3,2.7 0.3,-2.5 0.3,3.3 0.3,-2.4 0.3,0.5 0.3,3.4 0.3,-2.2 0.3,1.8 0.3,-1.3 0.3,-1.8 0.3,2.9 0.3,-2.5 0.3,-0.6 0.3,-0.5 0.3,-1.3 0.3,3.2 0.3,-1 0.3,1.8 0.3,-1.4 0.3,1.5 0.3,-2.3 0.3,1.1 0.3,1.3 0.3,0.7 0.3,-2.4 0.3,-1.8 0.3,4.6 0.3,-0.4 0.3,-3.4 0.3,3.8 0.3,-1.3 0.3,-2.9 0.3,1.6 0.3,-2.7 0.3,1.5 0.3,0.1 0.3,0.6 0.3,2 0.3,-4.9 0.3,-2.8 0.3,6.5 0.3,-2.1 0.3,1.7 0.3,-0.2 0.3,1.4 0.3,-6.4 0.3,5.8 0.3,-2.5 0.3,-1.4 0.3,3.5 0.3,-0.4 0.3,-4.5 0.3,0.9 0.3,3.6 0.3,-5 0.3,3.1 0.3,-0.3 0.3,-1.1 0.3,-1.3 0.3,2.1 0.3,-2.4 0.3,-1.8 0.3,2.5 0.3,-3.9 0.3,1.2 0.3,1.3 0.3,-3.3 0.3,4.9 0.3,-2.2 0.3,-1 0.3,-2.2 0.3,1.7 0.3,-1.2 0.3,1.1 0.3,-1.5 0.3,1.5 0.3,-3.6 0.3,-0.5 0.3,0.8 0.3,-3 0.3,3.2 0.3,0.5 0.3,-3.8 0.3,2.5 0.3,-0.5 0.3,-0.1 0.3,3.4 0.3,-3 0.3,0.2 0.3,-1.4 0.3,-0.1 0.3,0.6 0.3,0.1 0.3,-0.4 0.3,2.6 0.3,-2.3 0.3,0.4 0.3,3 0.3,-3.1 0.3,1.5 0.3,-0.2 0.3,-1.8 0.3,2.7 0.3,-2.4 0.3,0 0.3,-0.7 0.3,0.4 0.3,0.5 0.3,-5.3 0.3,6.3 0.3,-6 0.3,0.8 0.3,3.4 0.3,-2 0.3,1.6 0.3,-3.5 0.3,1.8 0.3,0.7 0.3,-2.9 0.3,0.1 0.3,1.7 0.3,0.8 0.3,-5.4 0.3,3.9 0.3,1.1 0.3,2.5 0.3,-4.7 0.3,1.9 0.3,-2.4 0.3,-0.1 0.3,0.4 0.3,3.9 0.3,-2 0.3,0.8 0.3,-2.1 0.3,2.1 0.3,-2.3 0.3,1 0.3,-4.7 0.3,0.7 0.3,2.6 0.3,3.1 0.3,-1 0.3,-5.4 0.3,1.3 0.3,-0.7 0.3,4.9 0.3,-6.1 0.3,1.1 0.3,1 0.3,-1.1 0.3,-4.1 0.3,5.8 0.3,-7.7 0.3,4 0.3,-1.5 0.3,-1.8 0.3,1.7 0.3,-0.1 0.3,-1.8 0.3,0.5 0.3,-0.1 0.3,0.1 0.3,-4.5 0.3,2.4 0.3,1.3 0.3,1.3 0.3,-0.2 0.3,-5.6 0.3,1.4 0.3,1.4 0.3,0.6 0.3,1.6 0.3,-4.3 0.3,-2.1 0.3,1.9 0.3,0.3 0.3,-2.4 0.3,-0.7 0.3,2.7 0.3,-4 0.3,0.8 0.3,1.4 0.3,-0.6 0.3,-0.3 0.3,-2.1 0.3,-4.9 0.3,4.3 0.3,1.8 0.3,0.2 0.3,0.6 0.3,-2.1 0.3,1 0.3,-2.6 0.3,0.4 0.3,2.8 0.3,-5.2 0.3,-0.2 0.3,2.8 0.3,-1 0.3,-5.2 0.3,5.3 0.3,-4.3 0.3,-0.7 0.3,2.7 0.3,-1.3 0.3,-0.2 0.3,1.3 0.3,-1.3 0.3,-7.2 0.3,5.1 0.3,0.9 0.3,-1.7 0.3,-1.2 0.3,0.9 0.3,-0.3 0.3,-1.7 0.3,-0.4 0.3,-2.3 0.3,1.8 0.3,-1.2 0.3,2.9 0.3,-2.7 0.3,0.1 0.3,-1.5 0.3,1.4 0.3,1.5 0.3,-3.5 0.3,4.1 0.3,-2.1 0.3,-1 0.3,1.8 0.3,-0.9 0.3,-3.9 0.3,4.9 0.3,-1 0.3,-1.7 0.3,-5.6 0.3,-1.8 0.3,3.3 0.3,4.7 0.3,0 0.3,-1.8 0.3,-0.7 0.3,-4.3 0.3,3.7 0.3,-2.2 0.3,0.5 0.3,-1.7 0.3,2.5 0.3,-1.9 0.3,0.7 0.3,-0.4 0.3,-1.5 0.3,-1.9 0.3,0.1 0.3,-0.3 0.3,1.3 0.3,2.9 0.3,-3.4 0.3,-1.9 0.3,0.8 0.3,-3.9 0.3,2.1 0.3,-0.5 0.3,-5 0.3,4 0.3,-2.1 0.3,0.7 0.3,-0.7 0.3,0.6 0.3,-2.2 0.3,2.2 0.3,-0.2 0.3,-3.8 0.3,1.7 0.3,-1.1 0.3,2.5 0.3,-3.7 0.3,1.7 0.3,-0.5 0.3,-2.6 0.3,4.4 0.3,-1.3 0.3,-2.8 0.3,3.5 0.3,0 0.3,-4.6 0.3,2.3 0.3,0 0.3,-0.1 0.3,0.6 0.3,-0.8 0.3,-2.9 0.3,3.1 0.3,-2.5 0.3,1.5 0.3,1.7 0.3,2.2 0.3,-1.1 0.3,-4 0.3,0.2 0.3,3 0.3,-1.3 0.3,0.2 0.3,-3.4 0.3,2.3 0.3,-0.1 0.3,1.4 0.3,0.4 0.3,-4.4 0.3,3.2 0.3,-3.5 0.3,0.1 0.3,2 0.3,-2.3 0.3,0.7 0.3,1.8 0.3,1 0.3,-3.6 0.3,-3 0.3,1.7 0.3,-1.3 0.3,0.6 0.3,1.1 0.3,-1.3 0.3,0.3 0.3,-0.8 0.3,-0.6 0.3,-3.6 0.3,2.8 0.3,0.1 0.3,2.9 0.3,-1.2 0.3,-1.3 0.3,-2.1 0.3,1.8 0.3,-3.7 0.3,3.3 0.3,-2.3 0.3,-0.2 0.3,3 0.3,-2 0.3,-0.6 0.3,-1.8 0.3,4.6 0.3,-7 0.3,5.5 0.3,-0.5 0.3,0.1 0.3,-1.9 0.3,-0.5 0.3,5.3 0.3,-2.4 0.3,1 0.3,-4.4 0.3,4.4 0.3,0.8 0.3,-0.9 0.3,-4.9 0.3,0.8 0.3,-2.6 0.3,5.1 0.3,1.5 0.3,-1.5 0.3,-1.4 0.3,-0.3 0.3,3.3 0.3,-3.9 0.3,4.9 0.3,-2.8 0.3,1.5 0.3,-2.8 0.3,-0.7 0.3,1.6 0.3,-2.2 0.3,0.6 0.3,-0.1 0.3,-1.8 0.3,2.1 0.3,-2.8 0.3,-1.9 0.3,2.3 0.3,0.2 0.3,-0.6 0.3,0.6 0.3,0.3 0.3,-0.2 0.3,-1.3 0.3,-0.3 0.3,-2.9 0.3,3.8 0.3,0.3 0.3,-3.2 0.3,-0.7 0.3,3.2 0.3,-2.9 0.3,1.2 0.3,0.5 0.3,0.6 0.3,3 0.3,-6.4 0.3,-5.9 0.3,6.1 0.3,-1.7 0.3,1.8 0.3,-0.7 0.3,0.8 0.3,-2.3 0.3,1.4 0.3,-2.8 0.3,2.1 0.3,-3.8 0.3,-0.1 0.3,1 0.3,1.2 0.3,-3.2 0.3,1.4 0.3,1.2 0.3,-0.1 0.3,-3.9 0.3,5.7 0.3,-4.1 0.3,1.5 0.3,1.6 0.3,-4 0.3,-2.4 0.3,5.3 0.3,-5 0.3,3.4 0.3,-2 0.3,5.3 0.3,-2.5 0.3,2.6 0.3,-2.4 0.3,-1.9 0.3,2.8 0.3,-3.6 0.3,0.9 0.3,2.9 0.3,-0.3 0.3,-2.9 0.3,1.6 0.3,-0.1 0.3,-2 0.3,4.5 0.3,-4.4 0.3,2.1 0.3,0 0.3,0.3 0.3,-5.7 0.3,6.3 0.3,-1.6 0.3,3.8 0.3,-5 0.3,4.3 0.3,-0.6 0.3,-2.5 0.3,1.8 0.3,0.9 0.3,-3.7 0.3,-1.3 0.3,2.7 0.3,1.6 0.3,-0.5 0.3,-0.3 0.3,-1.3 0.3,0.1 0.3,2.6 0.3,-0.5 0.3,2 0.3,-2 0.3,-0.8 0.3,-0.5 0.3,0.6 0.3,3.1 0.3,-3.9 0.3,0.3 0.3,1.1 0.3,0.1 0.3,1.6 0.3,-2.7 0.3,3.7 0.3,-3.8 0.3,0.4 0.3,0.2 0.3,2.1 0.3,-1 0.3,-1.5 0.3,-2.2 0.3,-0.7 0.3,2.9 0.3,0.3 0.3,-0.9 0.3,0.6 0.3,-1.2 0.3,1.8 0.3,1.8 0.3,-1.4 0.3,-0.5 0.3,0.3 0.3,1.2 0.3,-2.7 0.3,0.6 0.3,0 0.3,-1.5 0.3,5.7 0.3,-0.9 0.3,-2.4 0.3,4.9 0.3,-4.5 0.3,2.6 0.3,-1.9 0.3,4.1 0.3,-1.6 0.3,0.6 0.3,-0.3 0.3,3.5 0.3,-8.3 0.3,3.8 0.3,1.5 0.3,0.8 0.3,-0.7 0.3,0.3 0.3,2.1 0.3,0.2 0.3,-2.7 0.3,3.7 0.3,-1.9 0.3,0.5 0.3,3.3 0.3,-0.6 0.3,-6.3 0.3,5 0.3,0.3 0.3,-0.9 0.3,-1.6 0.3,4 0.3,-3.6 0.3,0.9 0.3,-0.9 0.3,1.4 0.3,-2.3 0.3,4.7 0.3,-3.1 0.3,0.9 0.3,-0.6 0.3,3.7 0.3,1.3 0.3,-2.5 0.3,-0.1 0.3,0.3 0.3,-2.2 0.3,0.2 0.3,1.1 0.3,1 0.3,-1.5 0.3,0.8 0.3,0.3 0.3,1 0.3,-0.4 0.3,-1.5 0.3,1.3 0.3,-2.3 0.3,4.9 0.3,-0.5 0.3,-0.2 0.3,-4.1 0.3,2.7 0.3,0.9 0.3,-0.6 0.3,2.4 0.3,-3.8 0.3,3.9 0.3,1.3 0.3,-2.7 0.3,0 0.3,-0.9 0.3,3.2 0.3,-1.3 0.3,0.8 0.3,-1.2 0.3,2.8 0.3,-0.4 0.3,-0.4 0.3,-0.5 0.3,1.7 0.3,-1.3 0.3,0 0.3,0.9 0.3,0.4 0.3,-0.9 0.3,5.7 0.3,0.3 0.3,-5.6 0.3,2.4 0.3,0.3 0.3,4.8 0.3,-3.3 0.3,2.3 0.3,-2.2 0.3,1.4 0.3,2.6 0.3,2.3 0.3,-3.2 0.3,2.6 0.3,0.5 0.3,0.1 0.3,0.2 0.3,-2.8 0.3,3.6 0.3,-1.5 0.3,-3.6 0.3,4.7 0.3,-0.5 0.3,-1.2 0.3,2.7 0.3,-2.5 0.3,1.1 0.3,0.1 0.3,3.5 0.3,-3 0.3,4.9 0.3,-2.3 0.3,2.1 0.3,-2.2 0.3,0.2 0.3,0.4 0.3,1.4 0.3,-0.3 0.3,0.9 0.3,-3 0.3,4.7 0.3,1.3 0.3,-0.7 0.3,0.5 0.3,-0.3 0.3,-0.9 0.3,-0.3 0.3,2.2 0.3,0.9 0.3,-0.2 0.3,1.5 0.3,-1.4 0.3,1.6 0.3,-1.2 0.3,0.2 0.3,4.9 0.3,-1.7 0.3,-0.3 0.3,-0.8 0.3,3.1 0.3,3.2 0.3,-4 0.3,1.1 0.3,2 0.3,-1.6 0.3,-1.3 0.3,5.3 0.3,-0.9 0.3,3 0.3,0.5 0.3,-1.2 0.3,-2 0.3,5.4 0.3,-0.8 0.3,0 0.3,0.5 0.3,0.5 0.3,1.6 0.3,-2.5 0.3,2.9 0.3,-1.6 0.3,0.8 0.3,2.1 0.3,-0.3 0.3,1.6 0.3,0.1 0.3,-0.4 0.3,2.9 0.3,-0.2 0.3,-1 0.3,-0.4 0.3,4.2 0.3,-5 0.3,4.2 0.3,-1.7 0.3,3.4 0.3,-1.5 0.3,3.9 0.3,-2.4 0.3,-0.5 0.3,-0.5 0.3,2.8 0.3,-0.3 0.3,-2.2 0.3,1 0.3,0 0.3,6.7 0.3,-0.3 0.3,-2.2 0.3,2.8 0.3,-1.8 0.3,-0.1 0.3,1 0.3,1.5 0.3,-1.8 0.3,2.5 0.3,-0.3 0.3,-2.9 0.3,1.1 0.3,4.5 0.3,-1 0.3,-0.2 0.3,1.2 0.3,-0.1 0.3,0.8 0.3,1.6 0.3,-1.9 0.3,2.1 0.3,1.6 0.3,-0.8 0.3,-3.7 0.3,6.8 0.3,-3.9 0.3,1.4 0.3,2.2 0.3,2.8 0.3,-1.7 0.3,-0.9 0.3,-0.5 0.3,-0.3 0.3,-0.7 0.3,3.8 0.3,-1.2 0.3,0.9 0.3,-2.3 0.3,3.2 0.3,-2.6 0.3,4 0.3,2.8 0.3,-4.3 0.3,0.2 0.3,4.9 0.3,-3.1 0.3,3.3 0.3,-4.3 0.3,3.3 0.3,1.5 0.3,-0.6 0.3,-1.9 0.3,-2.9 0.3,4.8 0.3,-0.9 0.3,2.1 0.3,3.6 0.3,-5.7 0.3,2.9 0.3,2.2 0.3,3.1 0.3,-2.5 0.3,2.6 0.3,-3.3 0.3,2.2 0.3,0.6 0.3,1.8 0.3,-0.5 0.3,0.3 0.3,2.9 0.3,-1.2 0.3,0.7 0.3,1.5 0.3,0.3 0.3,2.4 0.3,0.1 0.3,-2 0.3,2.4 0.3,-2.5 0.3,2.2 0.3,2.8 0.3,3.2 0.3,-1.1 0.3,2 0.3,-1.8 0.3,4.5 0.3,-0.8 0.3,-1.2 0.3,0.8 0.3,1.2 0.3,-2 0.3,0.4 0.3,2 0.3,2.1 0.3,0 0.3,3.9 0.3,-0.3 0.3,-1.5 0.3,3.3 0.3,-2.1 0.3,1.1 0.3,2.3 0.3,4 0.3,-4.2 0.3,4.5 0.3,-3.1 0.3,3.1 0.3,0.9 0.3,-0.1 0.3,0.5 0.3,-1.3 0.3,-2.2 0.3,3.6 0.3,0.8 0.3,3.6 0.3,-2.1 0.3,0.8 0.3,1 0.3,-1.7 0.3,2.4 0.3,1.9 0.3,-1.2 0.3,-1.3 0.3,2.3 0.3,2.2 0.3,-1.6 0.3,0.3 0.3,2.7 0.3,-3.7 0.3,3.8 0.3,0.4 0.3,-1.1 0.3,1.7 0.3,2.1 0.3,0.5 0.3,-0.5 0.3,2.1 0.3,-0.7 0.3,-2.7 0.3,4.5 0.3,-1.4 0.3,0.9 0.3,0.7 0.3,2.7 0.3,-2.7 0.3,1.9 0.3,-0.8 0.3,-0.4 0.3,-1.7 0.3,4.9 0.3,-2.1 0.3,0.9 0.3,1.1 0.3,-0.4 0.3,-1.2 0.3,6.1 0.3,-1.3 0.3,1 0.3,-0.4 0.3,-0.3 0.3,0.8 0.3,0.5 0.3,0.8 0.3,2.9 0.3,-4.2 0.3,-0.2 0.3,2 0.3,2.6 0.3,-0.1 0.3,-3.2 0.3,5.1 0.3,1.5 0.3,-2.6 0.3,1.5 0.3,-0.6 0.3,-1.3 0.3,3.5 0.3,-2 0.3,-2.5 0.3,3.9 0.3,-5.2 0.3,7 0.3,-7.5 0.3,2.5 0.3,-2.1 0.3,4.4 0.3,1.2 0.3,-4.9 0.3,3.4 0.3,-3 0.3,-0.9 0.3,3.3 0.3,1.8 0.3,-2.3 0.3,-0.1 0.3,1.8 0.3,-0.9 0.3,1 0.3,0 0.3,-1 0.3,0.1 0.3,0 0.3,-1.5 0.3,-0.1 0.3,-0.9 0.3,2.5 0.3,-2.3 0.3,2.9 0.3,0.6 0.3,-2.7 0.3,-0.1 0.3,2.8 0.3,-2.4 0.3,2.9 0.3,-5.8 0.3,-0.8 0.3,3.1 0.3,0.1 0.3,-1.1 0.3,-1.9 0.3,2.5 0.3,-1.4 0.3,1.7 0.3,-1.2 0.3,-2 0.3,0.5 0.3,1.7 0.3,-2.1 0.3,-1.3 0.3,0.5 0.3,3.6 0.3,0.7 0.3,-3.2 0.3,0.4 0.3,-0.7 0.3,-0.5 0.3,-4.3 0.3,7.3 0.3,-4.3 0.3,1.1 0.3,-0.4 0.3,-3 0.3,-0.8 0.3,3.4 0.3,-0.1 0.3,0.5 0.3,1.7 0.3,-5.1 0.3,0.3 0.3,1.8 0.3,1.3 0.3,0.1 0.3,-3.9 0.3,0.5 0.3,-0.7 0.3,-1 0.3,2.1 0.3,-3.3 0.3,2.9 0.3,-2.8 0.3,4.2 0.3,-4.8 0.3,2.3 0.3,0.3 0.3,-3 0.3,1.3 0.3,-0.2 0.3,-2.1 0.3,1 0.3,4 0.3,-3.4 0.3,0.1 0.3,-4.2 0.3,-0.2 0.3,4 0.3,-1.6 0.3,-2.5 0.3,0.9 0.3,-0.1 0.3,-2.5 0.3,4.4 0.3,-5.5 0.3,6.9 0.3,-7.4 0.3,1.2 0.3,2.7 0.3,-1.3 0.3,0.9 0.3,-3.1 0.3,-2.4 0.3,5.3 0.3,-3.5 0.3,1.5 0.3,1.7 0.3,-0.1 0.3,-6.8 0.3,4.1 0.3,-3.7 0.3,1.4 0.3,-0.4 0.3,4.5 0.3,-2.3 0.3,-1.7 0.3,2.8 0.3,-3.4 0.3,4.3 0.3,-3.4 0.3,1.9 0.3,1.2 0.3,-3.6 0.3,3.2 0.3,-0.3 0.3,-0.5 0.3,-2.5 0.3,2.6 0.3,-1.7 0.3,1.8 0.3,-4 0.3,3.2 0.3,-1.1 0.3,-1.1 0.3,4.8 0.3,-4.6 0.3,0.7 0.3,1.8 0.3,-2.7 0.3,3.7 0.3,-3.5 0.3,0.2 0.3,1 0.3,0.1 0.3,3.3 0.3,-2 0.3,-2.7 0.3,1.6 0.3,-3.5 0.3,1.8 0.3,-1.7 0.3,-1.4 0.3,3.2 0.3,-2.1 0.3,-0.9 0.3,-4.1 0.3,1.8 0.3,0.4 0.3,-5 0.3,5.1 0.3,-2.1 0.3,0.2 0.3,-2.5 0.3,-2.2 0.3,2.7 0.3,-0.5 0.3,0 0.3,3.6 0.3,-4.5 0.3,3.9 0.3,-4.9 0.3,2.3 0.3,-3.3 0.3,0 0.3,3 0.3,-2.6 0.3,-3.9 0.3,3.6 0.3,-0.3 0.3,-1.6 0.3,-3.1 0.3,0.4 0.3,1.3 0.3,-1.5 0.3,-0.7 0.3,-2.8 0.3,4.7 0.3,-2.5 0.3,-3.7 0.3,-2 0.3,3.7 0.3,-2.4 0.3,-4.1 0.3,4.1 0.3,-0.7 0.3,-2.7 0.3,-0.8 0.3,2.5 0.3,-4 0.3,-1.1 0.3,-1.8 0.3,3.3 0.3,2.1 0.3,-2.9 0.3,-3.4 0.3,2.2 0.3,-0.1 0.3,-3.5 0.3,1.3 0.3,-1.8 0.3,3.1 0.3,-6.2 0.3,-2.5 0.3,2.3 0.3,1.3 0.3,-3.3 0.3,0.6 0.3,-2.7 0.3,0.7 0.3,-3.7 0.3,-2.5 0.3,-1.1 0.3,-0.1 0.3,0.6 0.3,-0.2 0.3,-4 0.3,2.7 0.3,-4.4 0.3,1.8 0.3,-4.2 0.3,0.5 0.3,0.6 0.3,-2.2 0.3,5.1 0.3,-5.5 0.3,-0.1 0.3,-3.7 0.3,0.5 0.3,2.7 0.3,-1.2 0.3,-1.6 0.3,-0.5 0.3,-2.7 0.3,1.2 0.3,-2.2 0.3,-1.8 0.3,1.3 0.3,2.6 0.3,-3.9 0.3,0.5 0.3,-2.6 0.3,1 0.3,2.4 0.3,-2.2 0.3,-1.6 0.3,2.9 0.3,-2.2 0.3,0.9 0.3,1.4 0.3,-0.3 0.3,-6 0.3,2.2 0.3,-3 0.3,1.2 0.3,0.8 0.3,-1.9 0.3,2.5 0.3,-3.3 0.3,-3.4 0.3,3 0.3,-3.2 0.3,0.8 0.3,-1.6 0.3,0.9 0.3,-3.4 0.3,1.9 0.3,0.6 0.3,-2 0.3,-2.3 0.3,3 0.3,-1.3 0.3,-2.6 0.3,-0.9 0.3,1.2 0.3,1.3 0.3,-3.6 0.3,0.8 0.3,2.9 0.3,-3.2 0.3,-0.5 0.3,-0.7 0.3,2.6 0.3,-4.5 0.3,1.6 0.3,-0.4 0.3,0.5 0.3,-1.8 0.3,-4.1 0.3,1.9 0.3,1 0.3,2 0.3,-5.1 0.3,4 0.3,-3.6 0.3,1 0.3,-1.2 0.3,-2.7 0.3,1.8 0.3,-1.7 0.3,2.9 0.3,-0.6 0.3,-1.9 0.3,-0.7 0.3,-1 0.3,1.5 0.3,-2.4 0.3,-3 0.3,2.3 0.3,4.6 0.3,-7.5 0.3,2.7 0.3,-1.3 0.3,2 0.3,-0.4 0.3,-3.3 0.3,1.8 0.3,-3.8 0.3,2.2 0.3,-3.6 0.3,4.7 0.3,-2.8 0.3,1.9 0.3,-1.9 0.3,2.2 0.3,-1.6 0.3,-1.9 0.3,2 0.3,-1.1 0.3,-1.3 0.3,0.5 0.3,1.3 0.3,-2.8 0.3,1.9 0.3,-0.2 0.3,-1.5 0.3,1.2 0.3,-2.9 0.3,1.6 0.3,-1.4 0.3,2.2 0.3,-0.2 0.3,2.3 0.3,-5 0.3,1.6 0.3,-2.1 0.3,1.4 0.3,2.2 0.3,-1.6 0.3,-2.7 0.3,-0.2 0.3,-2.4 0.3,-1.1 0.3,2.6 0.3,-1.4 0.3,2.2 0.3,-2.2 0.3,2.4 0.3,-3.1 0.3,-0.1 0.3,4.3 0.3,-4.4 0.3,1.2 0.3,0.4 0.3,0.1 0.3,-4.7 0.3,4.4 0.3,-2.8 0.3,-1.2 0.3,4.2 0.3,-4 0.3,2.9 0.3,0.4 0.3,-2.7 0.3,0 0.3,-2.9 0.3,1.3 0.3,4.6 0.3,-2.3 0.3,0.2 0.3,-0.1 0.3,-0.4 0.3,0.2 0.3,0.3 0.3,-4 0.3,-0.5 0.3,2 0.3,1.4 0.3,-3.6 0.3,3.3 0.3,-3.1 0.3,4.6 0.3,-2 0.3,2.8 0.3,-2.5 0.3,-4.9 0.3,2.3 0.3,0.7 0.3,0 0.3,-2.1 0.3,-2.2 0.3,0.8 0.3,0.6 0.3,0.5 0.3,-1.4 0.3,-0.3 0.3,0 0.3,1.3 0.3,-2.6 0.3,1.4 0.3,1.6 0.3,-2.9 0.3,0.4 0.3,-2 0.3,1.8 0.3,-0.1 0.3,1.3 0.3,-1.6 0.3,-2.5 0.3,2.6 0.3,-2.3 0.3,0.5 0.3,-0.7 0.3,4.5 0.3,-1.2 0.3,-5.3 0.3,3 0.3,1.3 0.3,-0.5 0.3,-2.2 0.3,0.1 0.3,-0.1 0.3,-0.1 0.3,-0.8 0.3,-1.4 0.3,3.5 0.3,-3 0.3,4.6 0.3,-3.3 0.3,-0.3 0.3,1 0.3,-1.8 0.3,-0.6 0.3,-2.1 0.3,-0.2 0.3,-0.5 0.3,3.8 0.3,-3.1 0.3,1 0.3,0 0.3,-1.8 0.3,1.3 0.3,-1 0.3,-1.2 0.3,0.6 0.3,-1.5 0.3,1.1 0.3,-0.4 0.3,-0.1 0.3,2.9 0.3,-3.3 0.3,1.9 0.3,-0.4 0.3,-3.3 0.3,-0.8 0.3,0.1 0.3,1.9 0.3,-1.3 0.3,0.2 0.3,0.1 0.3,-0.5 0.3,1.1 0.3,-6.3 0.3,2.9 0.3,-2.1 0.3,4.5 0.3,-2.5 0.3,0.3 0.3,-2.5 0.3,2.1 0.3,0.8 0.3,-1.9 0.3,0.7 0.3,-0.1 0.3,-2.4 0.3,2.3 0.3,-0.5 0.3,-0.9 0.3,3.8 0.3,-0.8 0.3,-1.2 0.3,-0.6 0.3,2.2 0.3,-3.6 0.3,2.3 0.3,1.5 0.3,-5.5 0.3,2.8 0.3,-2.8 0.3,8.2 0.3,-5.4 0.3,1.3 0.3,1.6 0.3,-3.8 0.3,2.3 0.3,-2.2 0.3,4.7 0.3,-3.4 0.3,0.9 0.3,-0.6 0.3,3.8 0.3,-3.1 0.3,-1 0.3,-0.7 0.3,2.2 0.3,-2.9 0.3,2 0.3,-0.6 0.3,0.5 0.3,-1.8 0.3,0.6 0.3,-0.7 0.3,1.6 0.3,2.6 0.3,-1.6 0.3,-0.1 0.3,1.4 0.3,-6.9 0.3,5.5 0.3,-4.3 0.3,4.2 0.3,-2.3 0.3,1.2 0.3,-6.4 0.3,3.1 0.3,1.4 0.3,1.2 0.3,-3.1 0.3,-3.4 0.3,2.2 0.3,0.1 0.3,2.4 0.3,-4 0.3,3.4 0.3,-2.2 0.3,0 0.3,0.8 0.3,0.9 0.3,-1.3 0.3,-1.3 0.3,-0.2 0.3,0.4 0.3,0.3 0.3,-1.4 0.3,1.7 0.3,-0.5 0.3,0.6 0.3,0 0.3,-2.4 0.3,2 0.3,1.1 0.3,-0.5 0.3,1 0.3,1.2 0.3,3.1 0.3,-0.8 0.3,-2.8 0.3,2 0.3,0.6 0.3,-0.3 0.3,0.2 0.3,1.4 0.3,1.9 0.3,1.6 0.3,2.4 0.3,-1 0.3,-2.8 0.3,1.5 0.3,2 0.3,0.4 0.3,0.9 0.3,-4.9 0.3,4 0.3,-1.6 0.3,2.4 0.3,-3.2 0.3,2.3 0.3,-2.3 0.3,3.6 0.3,-2.3 0.3,3.8 0.3,-6.3 0.3,0.3 0.3,4.5 0.3,-1.5 0.3,-0.5 0.3,-0.9 0.3,1.6 0.3,0.4 0.3,-1.1 0.3,1.2 0.3,2.2 0.3,-3.2 0.3,1.9 0.3,-2.9 0.3,-0.3 0.3,-0.1 0.3,-0.9 0.3,0.7 0.3,0.1 0.3,2.2 0.3,-3.6 0.3,5.3 0.3,-5.1 0.3,4.8 0.3,-0.2 0.3,0.1 0.3,-1.1 0.3,2.1 0.3,-5 0.3,6.7 0.3,-1.9 0.3,0.1 0.3,-1 0.3,-1.8 0.3,1.2 0.3,-2 0.3,2.5 0.3,1.7 0.3,-3.9 0.3,4.6 0.3,-1.9 0.3,-0.4 0.3,2.1 0.3,-1.4 0.3,0.1 0.3,0.8 0.3,-1.9 0.3,1.1 0.3,-2.3 0.3,3 0.3,3.1 0.3,-2.5 0.3,0.1 0.3,-0.3 0.3,-2.6 0.3,1.5 0.3,1.1 0.3,-0.3 0.3,-1.5 0.3,1.1 0.3,0.6 0.3,1 0.3,-2.9 0.3,4.2 0.3,-0.1 0.3,-1.5 0.3,-2.7 0.3,3.7 0.3,-2.3 0.3,4.1 0.3,-3.2 0.3,3.7 0.3,1.8 0.3,-1.8 0.3,-1.1 0.3,-1.7 0.3,1.1 0.3,0 0.3,-1.8 0.3,-2.7 0.3,3.9 0.3,1.9 0.3,-0.7 0.3,-0.5 0.3,-1 0.3,1.6 0.3,2 0.3,-7.1 0.3,7.7 0.3,-3.3 0.3,0.2 0.3,0.3 0.3,-2.2 0.3,4.4 0.3,-4.9 0.3,4.7 0.3,-4.5 0.3,5.8 0.3,-3.1 0.3,2.8 0.3,0.5 0.3,1.2 0.3,-2.2 0.3,1.2 0.3,0.9 0.3,-2.4 0.3,0.6 0.3,4.3 0.3,-7.8 0.3,6.6 0.3,-2.3 0.3,-0.7 0.3,-1.8 0.3,3.1 0.3,1.5 0.3,-1.5 0.3,3.3 0.3,-4.2 0.3,1.1 0.3,1 0.3,-0.9 0.3,1.4 0.3,-1.3 0.3,-0.6 0.3,1.4 0.3,2.2 0.3,0.8 0.3,-2.9 0.3,4 0.3,-1.7 0.3,0.2 0.3,-1.6 0.3,2 0.3,-1.3 0.3,-0.7 0.3,2.7 0.3,-0.3 0.3,-1 0.3,1.8 0.3,-0.2 0.3,-0.9 0.3,-0.3 0.3,-2.2 0.3,1.5 0.3,1.9 0.3,-1.3 0.3,0.6 0.3,0.8 0.3,1.3 0.3,-3.1 0.3,3 0.3,1.6 0.3,-4.9 0.3,0.9 0.3,1.9 0.3,2.7 0.3,0.2 0.3,-1.3 0.3,0.2 0.3,-0.6 0.3,0.5 0.3,2 0.3,-3.8 0.3,1.6 0.3,1.3 0.3,1.8 0.3,-4.2 0.3,1.5 0.3,1.1 0.3,0.5 0.3,1.8 0.3,-1.8 0.3,-2.3 0.3,-0.5 0.3,-0.1 0.3,-0.5 0.3,2.2 0.3,3.7 0.3,-3.2" fill="none" stroke="#e63329" stroke-width="2.3" stroke-linejoin="round"/>
<path d="M211.7,1597.6l0.3,-3 0.3,-0.2 0.3,-2 0.3,0.2 0.3,-0.6 0.3,-0.4 0.3,4.3 0.3,-4.2 0.3,-2.4 0.3,1.9 0.3,2.8 0.3,-3.9 0.3,2 0.3,-1.8 0.3,-2.2 0.3,2 0.3,-1.4 0.3,1.8 0.3,0.7 0.3,-1.8 0.3,4.9 0.3,-6.9 0.3,4.1 0.3,-1.8 0.3,1.8 0.3,-2.1 0.3,-5.2 0.3,3.1 0.3,2.3 0.3,-2.2 0.3,-2.6 0.3,1.3 0.3,1.4 0.3,1.3 0.3,-3.5 0.3,1 0.3,-2.3 0.3,-0.5 0.3,1 0.3,3.6 0.3,-1.1 0.3,-2.2 0.3,0.4 0.3,0.8 0.3,-1.2 0.3,-0.6 0.3,-0.2 0.3,1.7 0.3,-1.9 0.3,2.4 0.3,-5.1 0.3,2.2 0.3,0.4 0.3,1.8 0.3,-2.8 0.3,1 0.3,1.7 0.3,-0.3 0.3,-0.9 0.3,0.8 0.3,-1 0.3,3 0.3,-0.8 0.3,1 0.3,2.4 0.3,-1.9 0.3,-1.4 0.3,-1 0.3,4.1 0.3,-3.8 0.3,-0.9 0.3,2.5 0.3,-2.1 0.3,-1.5 0.3,0.5 0.3,1.9 0.3,-4.2 0.3,-0.1 0.3,-3.1 0.3,-0.2 0.3,1.4 0.3,-2.6 0.3,-0.7 0.3,0.7 0.3,-3.3 0.3,2.2 0.3,-4.8 0.3,-1.1 0.3,-0.9 0.3,-2 0.3,3.2 0.3,-1.9 0.3,1.3 0.3,-5.1 0.3,1.8 0.3,0.1 0.3,-3.7 0.3,-1 0.3,-5.2 0.3,6.9 0.3,-4.8 0.3,0.6 0.3,-3.2 0.3,0.7 0.3,-3.2 0.3,2.6 0.3,-2.3 0.3,-1.4 0.3,0.8 0.3,-5 0.3,3 0.3,-1.8 0.3,2.7 0.3,-2 0.3,-2.4 0.3,-0.7 0.3,5.6 0.3,-7.7 0.3,4.8 0.3,-1.8 0.3,-1 0.3,-5.2 0.3,4.4 0.3,-3 0.3,-1.4 0.3,2.4 0.3,-2.7 0.3,1.9 0.3,-3.1 0.3,2.6 0.3,-0.6 0.3,-2.5 0.3,-0.5 0.3,0.2 0.3,0.2 0.3,-0.4 0.3,4 0.3,-2.9 0.3,-2 0.3,-0.5 0.3,-1.1 0.3,1.6 0.3,-0.8 0.3,-1.6 0.3,-0.9 0.3,0.5 0.3,-1.5 0.3,1.4 0.3,-2.1 0.3,2.1 0.3,-2.5 0.3,1 0.3,-2.6 0.3,-2.5 0.3,0.4 0.3,1.3 0.3,0.7 0.3,-0.5 0.3,-0.4 0.3,-0.1 0.3,-0.7 0.3,-0.2 0.3,-1.8 0.3,0.8 0.3,-1.6 0.3,-0.4 0.3,0 0.3,3.2 0.3,-6.7 0.3,1.7 0.3,-0.1 0.3,1.2 0.3,-0.7 0.3,2.1 0.3,-6.1 0.3,5.8 0.3,-5.6 0.3,0.7 0.3,2.1 0.3,-1.1 0.3,0 0.3,0.4 0.3,0.2 0.3,0.6 0.3,-0.6 0.3,-3.5 0.3,0.6 0.3,3.6 0.3,0.9 0.3,-1.7 0.3,0.1 0.3,-1.7 0.3,3.1 0.3,-4.9 0.3,0.6 0.3,-1 0.3,3.8 0.3,-4.1 0.3,2 0.3,-3.6 0.3,-0.7 0.3,4.2 0.3,-0.6 0.3,0.5 0.3,-1.5 0.3,-0.8 0.3,-0.1 0.3,-1.5 0.3,1.2 0.3,3.4 0.3,-2.5 0.3,-2 0.3,1.8 0.3,-1.2 0.3,-0.5 0.3,1.6 0.3,-1.5 0.3,-1.1 0.3,4.8 0.3,0.6 0.3,-3.2 0.3,2.2 0.3,-3.7 0.3,0.2 0.3,2.1 0.3,-2.9 0.3,0.4 0.3,-6.9 0.3,4.3 0.3,-2.2 0.3,0.2 0.3,-3.3 0.3,0.5 0.3,1.8 0.3,-0.8 0.3,-0.1 0.3,-0.3 0.3,-0.1 0.3,-2 0.3,-1.5 0.3,-0.8 0.3,0 0.3,-1.2 0.3,-0.4 0.3,1 0.3,-4.5 0.3,1.7 0.3,0.5 0.3,1.8 0.3,0.3 0.3,-1.6 0.3,-1 0.3,-1.1 0.3,2.5 0.3,-0.9 0.3,-2.6 0.3,1.1 0.3,0.8 0.3,0.9 0.3,-2.2 0.3,3 0.3,-0.7 0.3,-2.9 0.3,0.2 0.3,-1.2 0.3,0.3 0.3,2 0.3,1.6 0.3,0.4 0.3,-2.2 0.3,-0.8 0.3,-0.6 0.3,2.4 0.3,-1.4 0.3,2.2 0.3,-1.4 0.3,0.9 0.3,-1.4 0.3,4.6 0.3,-1.7 0.3,-1.4 0.3,-1.7 0.3,2.7 0.3,0.5 0.3,-3.8 0.3,2.4 0.3,3.5 0.3,-3.4 0.3,-0.9 0.3,1.5 0.3,2.4 0.3,-4.3 0.3,-0.3 0.3,0.1 0.3,0.5 0.3,2 0.3,-1.9 0.3,-5 0.3,4.8 0.3,-0.5 0.3,0.4 0.3,-0.9 0.3,-1.1 0.3,0.8 0.3,-2.3 0.3,-1.8 0.3,2.1 0.3,-1.4 0.3,5.2 0.3,-3.5 0.3,2.5 0.3,-5.6 0.3,-0.2 0.3,2.6 0.3,-4.1 0.3,1.5 0.3,-2.4 0.3,3.5 0.3,-4.2 0.3,3.1 0.3,-2.8 0.3,4 0.3,1 0.3,-1.5 0.3,-2.1 0.3,2.4 0.3,0.5 0.3,-0.5 0.3,0.6 0.3,0.9 0.3,-3.2 0.3,-1 0.3,-0.8 0.3,1.3 0.3,-0.7 0.3,-0.5 0.3,2 0.3,3 0.3,-4.7 0.3,0.8 0.3,0.6 0.3,-1 0.3,3.5 0.3,-2.2 0.3,1.3 0.3,-4.1 0.3,3.9 0.3,-1.4 0.3,-2.5 0.3,4.3 0.3,0.4 0.3,-1.3 0.3,0.4 0.3,-2.4 0.3,3.6 0.3,-2.1 0.3,1.4 0.3,0.3 0.3,0.1 0.3,-1.9 0.3,2 0.3,-0.3 0.3,1.9 0.3,-3.2 0.3,3.1 0.3,-0.7 0.3,-1.2 0.3,2.9 0.3,-1.7 0.3,-2.2 0.3,2 0.3,-1.6 0.3,-0.5 0.3,1.3 0.3,-0.2 0.3,4.3 0.3,-1.6 0.3,-5.5 0.3,4.2 0.3,-0.7 0.3,1.3 0.3,0.6 0.3,-0.2 0.3,0.7 0.3,-2 0.3,4.5 0.3,-2.6 0.3,2.9 0.3,-2 0.3,1.5 0.3,-2.2 0.3,3.7 0.3,-1.1 0.3,-0.7 0.3,1.5 0.3,0.4 0.3,-3.5 0.3,1.8 0.3,-0.4 0.3,3.9 0.3,-1 0.3,-1.6 0.3,0.5 0.3,1.7 0.3,-3.8 0.3,4.1 0.3,3.3 0.3,-5.2 0.3,0.7 0.3,0.5 0.3,3.2 0.3,-2 0.3,4.8 0.3,-3.6 0.3,-0.1 0.3,-0.6 0.3,3.3 0.3,0.8 0.3,-1.2 0.3,2.3 0.3,0.2 0.3,-1.7 0.3,-0.5 0.3,-1 0.3,1.6 0.3,-1.2 0.3,3.7 0.3,-1.1 0.3,-1.4 0.3,-0.5 0.3,1.5 0.3,1.6 0.3,-1.6 0.3,1.5 0.3,-2.4 0.3,1.1 0.3,1 0.3,-0.8 0.3,0.6 0.3,1.3 0.3,-1.8 0.3,2.3 0.3,-2.6 0.3,2.1 0.3,-1.9 0.3,-0.1 0.3,2 0.3,1.4 0.3,-2.5 0.3,0.5 0.3,2 0.3,-3.8 0.3,2.8 0.3,-3.6 0.3,-1.4 0.3,3.9 0.3,-1.1 0.3,0 0.3,-3.6 0.3,4.8 0.3,-1.2 0.3,-1.4 0.3,2.3 0.3,-2 0.3,0.8 0.3,0 0.3,3.5 0.3,-1.9 0.3,2.6 0.3,-3.9 0.3,-1.1 0.3,5.1 0.3,-5.4 0.3,4.7 0.3,-4.2 0.3,3.3 0.3,-2.9 0.3,3.9 0.3,0.5 0.3,-1.7 0.3,-1.5 0.3,-1.5 0.3,2.1 0.3,2.1 0.3,-4.6 0.3,-1.2 0.3,5.2 0.3,-3.5 0.3,1.2 0.3,-1.4 0.3,0.2 0.3,-0.9 0.3,0.6 0.3,-2.8 0.3,2.1 0.3,-0.9 0.3,3.8 0.3,-2.6 0.3,0.4 0.3,-3.4 0.3,3.1 0.3,2.8 0.3,-2.9 0.3,1.5 0.3,-1.8 0.3,-0.3 0.3,3.2 0.3,-2.1 0.3,-0.9 0.3,2.2 0.3,-0.1 0.3,2.8 0.3,0 0.3,-3.1 0.3,3.6 0.3,-3.2 0.3,2.9 0.3,1.7 0.3,-1.6 0.3,0.5 0.3,2.6 0.3,-1.7 0.3,-1.5 0.3,5.4 0.3,-0.8 0.3,-0.8 0.3,0.1 0.3,1.5 0.3,-1.2 0.3,1.8 0.3,-0.1 0.3,-1.1 0.3,3.8 0.3,-1 0.3,-1.6 0.3,0.9 0.3,-2.9 0.3,1.8 0.3,0.7 0.3,3.8 0.3,-0.1 0.3,1.4 0.3,-0.9 0.3,2.6 0.3,-3.7 0.3,-0.6 0.3,0 0.3,2.6 0.3,-0.9 0.3,-0.3 0.3,0.9 0.3,1.2 0.3,-2.1 0.3,2.9 0.3,0 0.3,3.3 0.3,-2.5 0.3,-2.5 0.3,2.4 0.3,0 0.3,-2.2 0.3,-3.3 0.3,6.8 0.3,-2.1 0.3,-0.4 0.3,1.3 0.3,2.9 0.3,1 0.3,-3.9 0.3,3.7 0.3,-2.6 0.3,0.2 0.3,0 0.3,0.3 0.3,0.4 0.3,-1.1 0.3,1.5 0.3,-1.8 0.3,2.8 0.3,-2.5 0.3,2.3 0.3,-1.1 0.3,-3 0.3,5.7 0.3,-1.7 0.3,-0.5 0.3,-0.3 0.3,4.1 0.3,-3.3 0.3,2.1 0.3,-1 0.3,-2.7 0.3,3.8 0.3,-3.9 0.3,3.8 0.3,-0.2 0.3,-0.2 0.3,-1.4 0.3,3.9 0.3,1.2 0.3,-4.9 0.3,1.2 0.3,3.6 0.3,-3.7 0.3,2.4 0.3,-3.4 0.3,0.8 0.3,1.7 0.3,0.7 0.3,-2.8 0.3,0.8 0.3,3.4 0.3,2 0.3,-0.8 0.3,0.9 0.3,1.1 0.3,-2.2 0.3,3.7 0.3,1.3 0.3,0.4 0.3,-2.4 0.3,1.3 0.3,4.6 0.3,-3.4 0.3,1.8 0.3,5.7 0.3,-3.4 0.3,0.9 0.3,3.2 0.3,1.1 0.3,-1.5 0.3,-1.4 0.3,1.9 0.3,1.4 0.3,-1.2 0.3,0.7 0.3,4.3 0.3,-1.1 0.3,1.5 0.3,0.6 0.3,-3.5 0.3,2.9 0.3,2.1 0.3,-0.5 0.3,-2.8 0.3,-0.2 0.3,1.7 0.3,2.6 0.3,-1.4 0.3,1.1 0.3,-2.8 0.3,4 0.3,-2.3 0.3,3.5 0.3,-2 0.3,-5.2 0.3,5.1 0.3,-1 0.3,-0.2 0.3,1.3 0.3,2.6 0.3,-0.3 0.3,0.8 0.3,-2.7 0.3,-3.8 0.3,2.2 0.3,-0.2 0.3,0.3 0.3,5.9 0.3,-3.4 0.3,-3.2 0.3,3.9 0.3,-2.7 0.3,-2 0.3,4.8 0.3,-2.6 0.3,1 0.3,3.9 0.3,-5.7 0.3,3.5 0.3,-2.4 0.3,-1.2 0.3,1.9 0.3,1 0.3,0.2 0.3,-2.6 0.3,4.5 0.3,-2.9 0.3,2.2 0.3,0.6 0.3,-1.2 0.3,2.8 0.3,-1.6 0.3,0.3 0.3,-0.3 0.3,-0.4 0.3,2.6 0.3,-2.3 0.3,3.5 0.3,0.4 0.3,4.2 0.3,-4.3 0.3,4.5 0.3,-1.2 0.3,0.2 0.3,-1.1 0.3,-0.4 0.3,1 0.3,0.6 0.3,1.4 0.3,-1.6 0.3,4.1 0.3,0.3 0.3,-7.3 0.3,5.2 0.3,0.1 0.3,-1.3 0.3,-3.2 0.3,2.1 0.3,3.1 0.3,1.8 0.3,0.1 0.3,0.4 0.3,-1.4 0.3,2.2 0.3,-0.5 0.3,1.3 0.3,-2 0.3,-0.9 0.3,-1.8 0.3,5.7 0.3,-3.5 0.3,-0.7 0.3,-2.3 0.3,4.8 0.3,-3.6 0.3,2.6 0.3,0.6 0.3,2.4 0.3,-3.9 0.3,-2.3 0.3,5 0.3,-1.2 0.3,-1.8 0.3,1 0.3,3.4 0.3,-3.6 0.3,-1.2 0.3,0.9 0.3,0.9 0.3,-0.3 0.3,-0.2 0.3,0.3 0.3,-2.7 0.3,3.2 0.3,0.5 0.3,-0.8 0.3,-1.2 0.3,-0.2 0.3,0.6 0.3,-0.7 0.3,-3 0.3,2.9 0.3,2.5 0.3,-2.8 0.3,-0.2 0.3,1.9 0.3,-1.1 0.3,-1.3 0.3,1.9 0.3,2.9 0.3,0.2 0.3,-2.8 0.3,-0.4 0.3,2.3 0.3,-1.8 0.3,0.1 0.3,-1.2 0.3,-2.1 0.3,-0.3 0.3,2.5 0.3,-1.4 0.3,3.7 0.3,0.5 0.3,1.5 0.3,-2.3 0.3,3.5 0.3,-0.7 0.3,-1.6 0.3,0.6 0.3,-1.8 0.3,-4.4 0.3,8 0.3,-0.6 0.3,2.5 0.3,-2 0.3,-1 0.3,-0.6 0.3,0.1 0.3,1.8 0.3,-3.4 0.3,1.7 0.3,4.5 0.3,-5.2 0.3,1.4 0.3,2.3 0.3,0.9 0.3,1 0.3,2 0.3,-0.5 0.3,0.8 0.3,-1.8 0.3,1.5 0.3,-0.7 0.3,1.6 0.3,2.1 0.3,0.1 0.3,-3.8 0.3,1.6 0.3,6.2 0.3,-6.9 0.3,4 0.3,-2.1 0.3,1.9 0.3,-0.2 0.3,1.9 0.3,-1.6 0.3,3.9 0.3,2.4 0.3,-8 0.3,3.3 0.3,-0.8 0.3,3.6 0.3,2.8 0.3,0.2 0.3,0 0.3,-1.6 0.3,-1.3 0.3,3.5 0.3,-2.6 0.3,-0.1 0.3,2 0.3,-2 0.3,2.7 0.3,-0.9 0.3,1.8 0.3,2 0.3,-2.3 0.3,2 0.3,1.1 0.3,-2.8 0.3,1.6 0.3,-0.3 0.3,3.9 0.3,-4.1 0.3,1 0.3,-2.9 0.3,0.9 0.3,2.7 0.3,-1.5 0.3,2.6 0.3,-1.1 0.3,4.6 0.3,-5.6 0.3,2.1 0.3,-3.2 0.3,0.1 0.3,-1.8 0.3,7.4 0.3,-8.5 0.3,4.5 0.3,-1.1 0.3,2 0.3,-2.6 0.3,4 0.3,-1.8 0.3,-1.4 0.3,-0.2 0.3,0.6 0.3,-1.8 0.3,1.5 0.3,-1.8 0.3,-2 0.3,0.7 0.3,-0.6 0.3,1.7 0.3,-2.9 0.3,0.5 0.3,-2.6 0.3,3.4 0.3,-1.4 0.3,-1.6 0.3,3.8 0.3,-3.5 0.3,-2.1 0.3,3.9 0.3,-2.2 0.3,-5.4 0.3,5.8 0.3,-0.8 0.3,-0.1 0.3,-0.3 0.3,-0.9 0.3,1.6 0.3,-3.6 0.3,2.6 0.3,1.9 0.3,-0.2 0.3,-3 0.3,4.4 0.3,-3 0.3,-1.6 0.3,0.8 0.3,-2.1 0.3,2.9 0.3,-3.5 0.3,-0.1 0.3,-1.2 0.3,0.3 0.3,1.1 0.3,3.8 0.3,-3.3 0.3,1.8 0.3,-1.9 0.3,1.1 0.3,-4.3 0.3,-0.1 0.3,5 0.3,-2.8 0.3,-3.9 0.3,4.1 0.3,-1.4 0.3,-0.2 0.3,1.7 0.3,-3.9 0.3,4.4 0.3,-2.4 0.3,-1.3 0.3,-1.8 0.3,5.4 0.3,-4.1 0.3,-1.9 0.3,2.2 0.3,1.3 0.3,-0.1 0.3,1 0.3,-1.9 0.3,-1.5 0.3,4 0.3,-0.8 0.3,-6 0.3,3.7 0.3,-2.9 0.3,3.5 0.3,-4.5 0.3,2.2 0.3,1.6 0.3,-2.6 0.3,1 0.3,-3.7 0.3,-1.4 0.3,-0.3 0.3,3 0.3,-2.7 0.3,3.8 0.3,-3.5 0.3,2.5 0.3,-2.4 0.3,-2.8 0.3,1.5 0.3,0.5 0.3,-0.3 0.3,-1.3 0.3,1.9 0.3,-0.4 0.3,-0.5 0.3,-3.4 0.3,-3 0.3,4.6 0.3,-2.9 0.3,-0.1 0.3,-0.3 0.3,0.9 0.3,-4 0.3,2.7 0.3,2.2 0.3,-5.4 0.3,1.9 0.3,2.9 0.3,-1.1 0.3,-0.7 0.3,-1.3 0.3,-3 0.3,2.4 0.3,-2.1 0.3,1.3 0.3,-1.9 0.3,-0.9 0.3,1.7 0.3,1.7 0.3,-2.9 0.3,1 0.3,1.1 0.3,-0.7 0.3,-3.5 0.3,1 0.3,1 0.3,-1.2 0.3,3 0.3,-2.4 0.3,-2.6 0.3,2.6 0.3,0.5 0.3,-0.9 0.3,-0.5 0.3,-3.4 0.3,1.9 0.3,1 0.3,-2 0.3,-0.1 0.3,1.4 0.3,-2.1 0.3,-0.8 0.3,0.9 0.3,0 0.3,1.4 0.3,-2 0.3,-1.9 0.3,2.7 0.3,-2.9 0.3,2.4 0.3,-2.6 0.3,1.7 0.3,-0.6 0.3,-1.2 0.3,-2.3 0.3,1.1 0.3,2.9 0.3,-2.3 0.3,1.3 0.3,-2.4 0.3,-0.6 0.3,-2 0.3,1.8 0.3,-2.7 0.3,-0.2 0.3,3.3 0.3,-4.1 0.3,5.8 0.3,-5 0.3,-1.3 0.3,3.1 0.3,-4.8 0.3,1.2 0.3,-0.7 0.3,1.3 0.3,1.1 0.3,-2.9 0.3,-3.2 0.3,-0.3 0.3,0.7 0.3,1.9 0.3,-1.8 0.3,0.1 0.3,-1.6 0.3,2.8 0.3,-4.9 0.3,5.5 0.3,-1.8 0.3,-1.3 0.3,-1.8 0.3,-0.9 0.3,0.6 0.3,-1.6 0.3,-0.4 0.3,-1.1 0.3,2.5 0.3,-1.8 0.3,0.4 0.3,-2.4 0.3,-1.3 0.3,0.1 0.3,1.5 0.3,-3 0.3,2.6 0.3,-2.9 0.3,0.8 0.3,0.8 0.3,-3 0.3,-2.4 0.3,5.3 0.3,-2.7 0.3,-1.1 0.3,3.7 0.3,0.8 0.3,-4.2 0.3,0.1 0.3,4.1 0.3,-6.6 0.3,2.8 0.3,-0.9 0.3,-3.2 0.3,-1.1 0.3,0.1 0.3,1.2 0.3,0.2 0.3,4 0.3,-6.7 0.3,2 0.3,-2.1 0.3,2.6 0.3,-1 0.3,-3.1 0.3,1.6 0.3,1 0.3,1.2 0.3,-0.2 0.3,-0.1 0.3,-1 0.3,1 0.3,-0.7 0.3,1.6 0.3,-0.8 0.3,-2.9 0.3,1.4 0.3,-1.8 0.3,0.9 0.3,1.1 0.3,-0.8 0.3,-0.7 0.3,-1 0.3,4 0.3,-3 0.3,-1.7 0.3,0.5 0.3,2.4 0.3,1.8 0.3,-1.4 0.3,-3.2 0.3,1.7 0.3,-4.5 0.3,4.2 0.3,-2 0.3,0.8 0.3,-2.9 0.3,2.5 0.3,-3.4 0.3,-1.3 0.3,5.3 0.3,-5.4 0.3,3.5 0.3,-2.6 0.3,0.5 0.3,-0.2 0.3,1.3 0.3,-1.5 0.3,-2.4 0.3,0 0.3,3 0.3,-0.5 0.3,-3.7 0.3,2 0.3,-2.5 0.3,1.5 0.3,-4.3 0.3,3.2 0.3,-2.6 0.3,-1.6 0.3,3.1 0.3,-0.4 0.3,-4 0.3,-1.8 0.3,3.5 0.3,0.6 0.3,-2.4 0.3,0.5 0.3,-1.4 0.3,-0.5 0.3,1.2 0.3,1.5 0.3,-1.8 0.3,-1.8 0.3,-1 0.3,1.5 0.3,-4.3 0.3,4 0.3,-0.9 0.3,-0.2 0.3,-0.5 0.3,0 0.3,-2.3 0.3,3.6 0.3,-1.6 0.3,0.8 0.3,-0.8 0.3,-1.8 0.3,3.4 0.3,-1.9 0.3,0 0.3,1.3 0.3,1.8 0.3,-3.2 0.3,1.3 0.3,2.6 0.3,-3.9 0.3,2.9 0.3,-2.1 0.3,1.7 0.3,-1.3 0.3,1.8 0.3,-3.2 0.3,0.3 0.3,-0.5 0.3,0.4 0.3,2.8 0.3,-0.7 0.3,0.5 0.3,-1.4 0.3,0.4 0.3,0.6 0.3,0.1 0.3,-1.6 0.3,0.3 0.3,-1.6 0.3,3 0.3,0.5 0.3,1.4 0.3,-9 0.3,6.8 0.3,-0.6 0.3,3.6 0.3,-5.6 0.3,-0.8 0.3,1.5 0.3,-3.2 0.3,0 0.3,3.2 0.3,-4.5 0.3,0.5 0.3,3.9 0.3,-1.2 0.3,-3.5 0.3,4.4 0.3,-2.4 0.3,-1.2 0.3,0.5 0.3,-0.9 0.3,2 0.3,-1.2 0.3,-3 0.3,0.2 0.3,1.7 0.3,-2.8 0.3,-1 0.3,-2.8 0.3,5.4 0.3,-1.9 0.3,-0.7 0.3,-1.3 0.3,0.6 0.3,0.7 0.3,-2.1 0.3,2 0.3,2.7 0.3,-4.4 0.3,0.9 0.3,2.8 0.3,-2.5 0.3,2.3 0.3,-1.1 0.3,-0.6 0.3,-2.1 0.3,-0.7 0.3,3.1 0.3,-2.3 0.3,-0.5 0.3,-4.1 0.3,3.6 0.3,4.4 0.3,-3.6 0.3,1.8 0.3,-3 0.3,-3.5 0.3,2.3 0.3,2.7 0.3,-3.2 0.3,-1.6 0.3,-0.4 0.3,-2.3 0.3,0.9 0.3,0.4 0.3,1.2 0.3,-0.4 0.3,-3.2 0.3,-2.2 0.3,2.5 0.3,-0.8 0.3,2.3 0.3,-4 0.3,2.7 0.3,-1.9 0.3,2.8 0.3,-2.6 0.3,-4.1 0.3,-1 0.3,4.5 0.3,-2.6 0.3,3.5 0.3,-1.7 0.3,3 0.3,-3.4 0.3,-1.5 0.3,-2.2 0.3,4.1 0.3,-1.4 0.3,-0.5 0.3,5 0.3,-3.3 0.3,-3.1 0.3,3 0.3,-4 0.3,1.6 0.3,2.7 0.3,-3.9 0.3,2.1 0.3,0.4 0.3,-0.1 0.3,-1.8 0.3,-0.9 0.3,2.6 0.3,1.1 0.3,-3 0.3,3.4 0.3,0.5 0.3,-1.7 0.3,1.2 0.3,-0.1 0.3,-0.1 0.3,-1.6 0.3,0.2 0.3,-0.3 0.3,1.4 0.3,-2.9 0.3,3.3 0.3,-4.5 0.3,5.1 0.3,-2.2 0.3,3.9 0.3,-4.5 0.3,0.8 0.3,-3.9 0.3,2.4 0.3,0.8 0.3,0.6 0.3,0.1 0.3,-0.9 0.3,-0.4 0.3,1.8 0.3,-4.3 0.3,2.1 0.3,2.7 0.3,-1.1 0.3,2.5 0.3,-2.9 0.3,0.9 0.3,1.7 0.3,2.3 0.3,-5.2 0.3,-0.6 0.3,1.2 0.3,0.1 0.3,3 0.3,1.2 0.3,-1.8 0.3,0.6 0.3,1.1 0.3,0.1 0.3,0.1 0.3,0 0.3,2.1 0.3,-3.8 0.3,1.8 0.3,1.5 0.3,4.2 0.3,-6.4 0.3,2.9 0.3,-2.8 0.3,1 0.3,-1 0.3,4.9 0.3,-2.6 0.3,-1.3 0.3,2.9 0.3,-2.8 0.3,1.9 0.3,-3.1 0.3,1.7 0.3,1.2 0.3,0.2 0.3,-2.2 0.3,0.2 0.3,-1.5 0.3,-0.1 0.3,3.6 0.3,2.5 0.3,-0.8 0.3,0.4 0.3,-1 0.3,0.3 0.3,-0.1 0.3,3.2 0.3,-3.5 0.3,3.1 0.3,-4.9 0.3,0.5 0.3,1.8 0.3,-2.5 0.3,5.6 0.3,-2.3 0.3,0.5 0.3,-1.3 0.3,1.9 0.3,-2.2 0.3,3.9 0.3,-0.3 0.3,-3.5 0.3,-0.1 0.3,-1.2 0.3,0.5 0.3,5.3 0.3,-0.5 0.3,1.6 0.3,-1.7 0.3,0.6 0.3,-0.3 0.3,-2 0.3,1.3 0.3,1.4 0.3,-1.5 0.3,-2.3 0.3,0.1 0.3,7.2 0.3,-6.4 0.3,0.6 0.3,1.3 0.3,0 0.3,2.2 0.3,-2.6 0.3,2 0.3,-1.3 0.3,0.2 0.3,0 0.3,-1.5 0.3,0.7 0.3,-0.8 0.3,1.6 0.3,1.4 0.3,0 0.3,-2.2 0.3,1.1 0.3,1.2 0.3,3.4 0.3,-1.9 0.3,0.8 0.3,1.6 0.3,-1.1 0.3,-1.7 0.3,4.6 0.3,-2.9 0.3,2.8 0.3,-1.5 0.3,1 0.3,1.7 0.3,-3.1 0.3,-1.7 0.3,3.8 0.3,-0.5 0.3,0.4 0.3,0.7 0.3,-3.1 0.3,3.4 0.3,-0.1 0.3,1.4 0.3,-0.5 0.3,-0.2 0.3,2.3 0.3,0.8 0.3,-2.2 0.3,-0.9 0.3,0.4 0.3,4 0.3,-5 0.3,3.2 0.3,0.6 0.3,0.1 0.3,-3.9 0.3,4.1 0.3,-4 0.3,3.4 0.3,-0.5 0.3,-1.4 0.3,7 0.3,-3.4 0.3,-1.9 0.3,1.3 0.3,1.9 0.3,1.9 0.3,-1.1 0.3,-1.7 0.3,4.8 0.3,-1.8 0.3,2.7 0.3,-0.1 0.3,-1.6 0.3,2.4 0.3,-1.9 0.3,2.2 0.3,-4.9 0.3,-0.3 0.3,1.4 0.3,3.2 0.3,-0.4 0.3,-1 0.3,0.4 0.3,0.4 0.3,1.6 0.3,1.8 0.3,0.1 0.3,-1.2 0.3,0.6 0.3,1.3 0.3,-3.1 0.3,2.5 0.3,1.4 0.3,0 0.3,-0.7 0.3,0 0.3,-0.1 0.3,4.5 0.3,-1.8 0.3,-1.7 0.3,-1.2 0.3,4.5 0.3,3.5 0.3,-2.9 0.3,-0.9 0.3,3.4 0.3,-1.2 0.3,1.3 0.3,1.5 0.3,-0.5 0.3,2.5 0.3,1.1 0.3,-1.1 0.3,-0.4 0.3,2.4 0.3,-4.1 0.3,4.7 0.3,0.5 0.3,3 0.3,-2.3 0.3,4.2 0.3,-1.5 0.3,1.6 0.3,2.2 0.3,-1.6 0.3,-0.5 0.3,2.2 0.3,0.5 0.3,3.7 0.3,-3 0.3,2.3 0.3,1.3 0.3,0.4 0.3,-2 0.3,-1.1 0.3,4.5 0.3,1.8 0.3,-1.3 0.3,2 0.3,-1.7 0.3,1.9 0.3,1.4 0.3,-1.6 0.3,2.4 0.3,-1.5 0.3,-1.4 0.3,2.9 0.3,-0.4 0.3,1.5 0.3,0.4 0.3,-1.1 0.3,1.5 0.3,-1.3 0.3,2.2 0.3,-3.1 0.3,-0.2 0.3,4.8 0.3,-4.9 0.3,3.4 0.3,0.5 0.3,2.3 0.3,-1.5 0.3,0.2 0.3,-2.7 0.3,5.1 0.3,-3.2 0.3,2 0.3,-1 0.3,4.1 0.3,-3.4 0.3,-0.1 0.3,5.5 0.3,-3.4 0.3,1.7 0.3,1 0.3,-3.1 0.3,5.2 0.3,-3 0.3,2.4 0.3,1.5 0.3,-0.1 0.3,-0.7 0.3,3.6 0.3,-2.7 0.3,-0.4 0.3,5.4 0.3,0.6 0.3,-5.3 0.3,3.5 0.3,1 0.3,-4.7 0.3,4.5 0.3,3.5 0.3,-3.3 0.3,4.8 0.3,1.6 0.3,-3.7 0.3,-0.6 0.3,1.5 0.3,-2.2 0.3,5.3 0.3,-1.1 0.3,-3.8 0.3,1.9 0.3,1.4 0.3,3 0.3,-0.2 0.3,-2.4 0.3,2.3 0.3,-1.1 0.3,1.9 0.3,-1 0.3,4.5 0.3,-2.8 0.3,-1.3 0.3,-1.1 0.3,-0.7 0.3,4.5 0.3,0.6 0.3,1.4 0.3,-4.8 0.3,3.6 0.3,-3.2 0.3,3.7 0.3,0.5 0.3,-0.1 0.3,-0.7 0.3,-0.1 0.3,0.8 0.3,-2.2 0.3,5.5 0.3,-2.3 0.3,3.1 0.3,0.4 0.3,2.5 0.3,-0.2 0.3,0.7 0.3,1.5 0.3,2 0.3,-1.6 0.3,0 0.3,2.3 0.3,0.8 0.3,2.5 0.3,0.4 0.3,0.1 0.3,2.9 0.3,-0.5 0.3,1.3 0.3,-1.1 0.3,4.3 0.3,-0.7 0.3,-1.9 0.3,0.8 0.3,5.5 0.3,-2 0.3,4 0.3,1.9 0.3,-3.3 0.3,1 0.3,1.9 0.3,-2 0.3,-1 0.3,7.5 0.3,-3.9 0.3,2.1 0.3,3.7 0.3,-1.7 0.3,2.4 0.3,-0.6 0.3,-1.9 0.3,1.2 0.3,1.7 0.3,-1.2 0.3,4 0.3,-0.8 0.3,-3 0.3,4.3 0.3,-1.5 0.3,0.6 0.3,2 0.3,-4.4 0.3,1.9 0.3,2.8 0.3,-2.8 0.3,5.5 0.3,-8.1 0.3,8.4 0.3,-0.6 0.3,-2.2 0.3,1.8 0.3,-1.4 0.3,4.8 0.3,-3.1 0.3,1 0.3,-0.4 0.3,-2.8 0.3,-1.1 0.3,4 0.3,2.9 0.3,-1.3 0.3,-1.1 0.3,1 0.3,-1.2 0.3,3.1 0.3,-1.1 0.3,-0.2 0.3,3.8 0.3,-4.7 0.3,-0.3 0.3,1.4 0.3,-0.3 0.3,-0.1 0.3,2.1 0.3,-0.1 0.3,-4.2 0.3,2 0.3,0.1 0.3,-2.3 0.3,4.6 0.3,-0.5 0.3,1 0.3,-1.9 0.3,0 0.3,1.6 0.3,-0.2 0.3,-1 0.3,1.5 0.3,-2.6 0.3,2.9 0.3,-0.5 0.3,-1.9 0.3,-1.2 0.3,2.9 0.3,1.5 0.3,-1.9 0.3,2.1 0.3,-1.3 0.3,1 0.3,-5 0.3,1.7 0.3,1.2 0.3,0.4 0.3,-0.4 0.3,-0.6 0.3,-3.2 0.3,5.8 0.3,-0.6 0.3,-2.7 0.3,0.6 0.3,-1.3 0.3,3.2 0.3,-2.2 0.3,2.4 0.3,-2.7 0.3,-0.8 0.3,-1.4 0.3,3.8 0.3,-1.7 0.3,2.2 0.3,0.6 0.3,-1.4 0.3,2.2 0.3,-3.2 0.3,-0.8 0.3,2.1 0.3,-0.9 0.3,3.4 0.3,-6.2 0.3,1.3 0.3,4.2 0.3,-3.7 0.3,0.9 0.3,-0.7 0.3,1.4 0.3,4.4 0.3,-1.5 0.3,-1.7 0.3,4 0.3,-5 0.3,2.3 0.3,3.6 0.3,-5.5 0.3,1.1 0.3,0.1 0.3,1.2 0.3,2.2 0.3,1.2 0.3,-0.7 0.3,0.6 0.3,-1.9 0.3,-1.3 0.3,-0.5 0.3,2 0.3,-1.5 0.3,-0.4 0.3,3.6 0.3,-2.6 0.3,0.9 0.3,4.5 0.3,-3.1 0.3,0.2 0.3,-1.3 0.3,-1.5 0.3,2.3 0.3,-2.3 0.3,0.7 0.3,-1.2 0.3,1.5 0.3,-0.2 0.3,-4.4 0.3,2.1 0.3,1.3 0.3,3.4 0.3,-5.4 0.3,2.1 0.3,1.4 0.3,0 0.3,-2.8 0.3,2.4 0.3,-1.9 0.3,-0.4 0.3,-1.3 0.3,-3.3 0.3,2.2 0.3,-2.3 0.3,3.8 0.3,-1.4 0.3,1.8 0.3,-6.5 0.3,-0.8 0.3,1.7 0.3,0.1 0.3,0.5 0.3,-3.9 0.3,-2 0.3,0.6 0.3,7 0.3,-8.6 0.3,0 0.3,2.1 0.3,-1.1 0.3,-2.5 0.3,-5.1 0.3,6.6 0.3,-2.5 0.3,2.9 0.3,-2.8 0.3,0.3 0.3,-4.8 0.3,3.3 0.3,-0.6 0.3,-1.2 0.3,1.3 0.3,-0.3 0.3,-2.3 0.3,1.5 0.3,1.6 0.3,-2.1 0.3,-1.7 0.3,0.7 0.3,-1.1 0.3,0.8 0.3,0.8 0.3,-2.3 0.3,1.5 0.3,1.6 0.3,-3.9 0.3,-1.6 0.3,0.4 0.3,1.5 0.3,-0.8 0.3,-2.1 0.3,-3.8 0.3,4.6 0.3,-0.7 0.3,-0.2 0.3,-2.8 0.3,-3.1 0.3,2.9 0.3,-1.3 0.3,1.9 0.3,1 0.3,-1.5 0.3,-2.3 0.3,1.3 0.3,-3 0.3,2.1 0.3,-1.5 0.3,-1.6 0.3,1.4 0.3,-1.2 0.3,1.7 0.3,-3.1 0.3,-0.7 0.3,2.5 0.3,-2.8 0.3,-0.7 0.3,2.5 0.3,-8.3 0.3,1.4 0.3,0.9 0.3,2.7 0.3,-0.2 0.3,-2.8 0.3,-2.3 0.3,-1.8 0.3,2.9 0.3,-0.4 0.3,-2.3 0.3,2.3 0.3,0.5 0.3,-5.2 0.3,1.9 0.3,-3.2 0.3,2.6 0.3,-2.9 0.3,2.1 0.3,2.8 0.3,-5 0.3,3.3 0.3,-0.9 0.3,-0.5 0.3,-3.5 0.3,-2.2 0.3,2.2 0.3,0.8 0.3,-1.9 0.3,-1.3 0.3,-1 0.3,7.7 0.3,-9.8 0.3,4.7 0.3,-2.8 0.3,2.6 0.3,-0.7 0.3,-4.5 0.3,1.3 0.3,-0.5 0.3,0.9 0.3,-2.1 0.3,1 0.3,-1.9 0.3,-2.7 0.3,2.5 0.3,-2 0.3,-0.8 0.3,-2.7 0.3,1.1 0.3,-3.2 0.3,2.5 0.3,-2.7 0.3,-5.9 0.3,4.7 0.3,-1 0.3,-1.8 0.3,0.9 0.3,-4.9 0.3,2.7 0.3,-2.8 0.3,0.8 0.3,-2.2 0.3,-1.3 0.3,1.2 0.3,-2.9 0.3,2.8 0.3,0.9 0.3,0.6 0.3,-1.9 0.3,-1.9 0.3,0 0.3,0 0.3,2.2 0.3,-4.2 0.3,0.5 0.3,-3.7 0.3,5.7 0.3,-4.7 0.3,-0.9 0.3,-1.1 0.3,3.7 0.3,-1.4 0.3,-0.5 0.3,-2.2 0.3,1.2 0.3,2.3 0.3,-5.3 0.3,2.7 0.3,1.9 0.3,-4.7 0.3,2.5 0.3,-0.5 0.3,-3 0.3,0.6 0.3,0.8 0.3,-0.4 0.3,-3.1 0.3,-2.2 0.3,2.4 0.3,-0.7 0.3,0 0.3,0.3 0.3,-1.2 0.3,-1.4 0.3,-3.2 0.3,2 0.3,-0.8 0.3,-3.2 0.3,-0.9 0.3,-2.2 0.3,0.7 0.3,0 0.3,-1.5 0.3,0.5 0.3,-1.4 0.3,-2.4 0.3,3.1 0.3,-5.5 0.3,4.5 0.3,-2.7 0.3,-0.2 0.3,-2.7 0.3,0.9 0.3,1.6 0.3,-4.9 0.3,0.9 0.3,-0.5 0.3,-6.8 0.3,4.1 0.3,1.2 0.3,-2.3 0.3,0.4 0.3,-1.9 0.3,4.5 0.3,-3.1 0.3,-1.2 0.3,-1.5 0.3,2.2 0.3,-2 0.3,0.7 0.3,-1.2 0.3,-4.3 0.3,2.7 0.3,-6 0.3,-1 0.3,3.9 0.3,2.7 0.3,-2.7 0.3,-0.4 0.3,-3.2 0.3,0.7 0.3,0.9 0.3,-5.5 0.3,1.9 0.3,-0.4 0.3,2.3 0.3,0.1 0.3,-3.9 0.3,3 0.3,-3.1 0.3,-0.4 0.3,2 0.3,-4.2 0.3,-0.2 0.3,-1.7 0.3,0.7 0.3,-3.4 0.3,8.4 0.3,-3.7 0.3,1.9 0.3,-6.4 0.3,-0.7 0.3,5.4 0.3,-3.3 0.3,-0.4 0.3,-0.6 0.3,-1.9 0.3,1 0.3,5 0.3,-5.9 0.3,4.5 0.3,-2.7 0.3,0.4 0.3,0.5 0.3,-4.4 0.3,2.7 0.3,-1.6 0.3,4.3 0.3,-4.6 0.3,0.8 0.3,-2 0.3,0.1 0.3,-0.1 0.3,-1.1 0.3,1.6 0.3,-1.7 0.3,-0.3 0.3,0.2 0.3,-3 0.3,0.8 0.3,1.1 0.3,0.1 0.3,1.7 0.3,-7.1 0.3,2.2 0.3,-0.6 0.3,1.5 0.3,-0.8 0.3,-2.4 0.3,1.5 0.3,0.1 0.3,-1.6 0.3,1 0.3,0.6 0.3,2.9 0.3,-1.8 0.3,-1.4 0.3,-0.8 0.3,1.1 0.3,2.3 0.3,0.2 0.3,-4 0.3,0.9 0.3,0.8 0.3,0.3 0.3,-2.4 0.3,2.5 0.3,0 0.3,0 0.3,2 0.3,-1.9 0.3,-2.4 0.3,-1.9 0.3,1.9 0.3,-1.3 0.3,3 0.3,-2.5 0.3,-2.3 0.3,1.4 0.3,3.5 0.3,-4 0.3,1 0.3,1.6 0.3,-1.4 0.3,-3.2 0.3,-0.1 0.3,0.9 0.3,2.1 0.3,-0.5 0.3,-2.2 0.3,1 0.3,-0.1 0.3,-3.4 0.3,0.4 0.3,2.2 0.3,1.9 0.3,-2.2 0.3,0.4 0.3,2.1 0.3,-4.3 0.3,0.9 0.3,-0.8 0.3,4.2 0.3,-4.5 0.3,-0.5 0.3,3.2 0.3,3.7 0.3,-3.6 0.3,0.4 0.3,-0.5 0.3,-1.3 0.3,-1.4 0.3,3.4 0.3,-2.4 0.3,-3.4 0.3,0.9 0.3,0.7 0.3,-2.1 0.3,1 0.3,-0.9 0.3,-0.7 0.3,-1.9 0.3,5.3 0.3,-4.9 0.3,-0.4 0.3,2.9 0.3,-1.6 0.3,0.1 0.3,3.5 0.3,-4.6 0.3,-1.2 0.3,1 0.3,0.3 0.3,1.7 0.3,0.5 0.3,0.7 0.3,-3.2 0.3,1.6 0.3,-3.1 0.3,0.6 0.3,1.2 0.3,-2.6 0.3,4.8 0.3,-4.2 0.3,-1.2 0.3,0.3 0.3,2.1 0.3,2.8 0.3,-6 0.3,2.1 0.3,-2.1 0.3,3.3 0.3,-2.3 0.3,-3.5 0.3,1.5 0.3,1.7 0.3,0 0.3,3.4 0.3,-1.8 0.3,-2.9 0.3,3.3 0.3,-1.8 0.3,4.2 0.3,-4.3 0.3,-1.1 0.3,1.9 0.3,3.1 0.3,-3.8 0.3,3.3 0.3,-2.9 0.3,0.4 0.3,1.7 0.3,-0.3 0.3,-0.9 0.3,2.2 0.3,-4.8 0.3,-3.5 0.3,5.4 0.3,-1.3 0.3,-0.9 0.3,2.5 0.3,-6.2 0.3,3.4 0.3,2.4 0.3,-1.7 0.3,2 0.3,-2 0.3,-2.9 0.3,-0.1 0.3,2.7 0.3,-2.9 0.3,5 0.3,-5 0.3,-1.5 0.3,3 0.3,1.3 0.3,-0.8 0.3,-0.4 0.3,-0.5 0.3,-2.8 0.3,3.1 0.3,1.1 0.3,-3.2 0.3,2.7 0.3,-4.3 0.3,3.2 0.3,-2.3 0.3,3.2 0.3,-4.2 0.3,0.5 0.3,1.8 0.3,0 0.3,-0.3 0.3,1.8 0.3,-1.3 0.3,-0.5 0.3,3.7 0.3,-1.3 0.3,-1.7 0.3,0.3 0.3,-4.3 0.3,1.1 0.3,6.1 0.3,-7 0.3,4.4 0.3,-1.1 0.3,-1.7 0.3,5.8 0.3,-5.2 0.3,3 0.3,-3.6 0.3,1.7 0.3,-0.1 0.3,-0.7 0.3,1.7 0.3,-1.4 0.3,-2.6 0.3,2.4 0.3,-3.5 0.3,5.9 0.3,-0.8 0.3,-0.4 0.3,-2.5 0.3,1.2 0.3,-5.3 0.3,2.4 0.3,1.4 0.3,-4.7 0.3,4.3 0.3,-0.8 0.3,1 0.3,-2.2 0.3,2.9 0.3,-2.6 0.3,2.1 0.3,-0.8 0.3,-4.5 0.3,-1.8 0.3,2.9 0.3,1.1 0.3,-0.2 0.3,-1.7 0.3,4.9 0.3,-4.5 0.3,3 0.3,-6.6 0.3,3.8 0.3,-0.9 0.3,2.3 0.3,2.4 0.3,-5.8 0.3,0.1 0.3,0.9 0.3,0 0.3,0.5 0.3,0.2 0.3,-1.2 0.3,1 0.3,-0.7 0.3,2.9 0.3,-3.4 0.3,2.7 0.3,-0.2 0.3,-0.6 0.3,2.1 0.3,-5.3 0.3,4.7 0.3,-1.8 0.3,-2.4 0.3,3.8 0.3,1.7 0.3,-4.1 0.3,4.1 0.3,-2.2 0.3,0.5 0.3,4.2 0.3,-0.5 0.3,-0.8 0.3,0.2 0.3,-2.1 0.3,5.7 0.3,-0.9 0.3,-0.3 0.3,1.8 0.3,-2.3 0.3,0.3 0.3,1.4 0.3,0.5 0.3,1.9 0.3,-3 0.3,4.6 0.3,-2.4 0.3,2.2 0.3,-0.9 0.3,-3.5 0.3,3.9 0.3,0.4 0.3,-0.1 0.3,5.4 0.3,-5.1 0.3,2.1 0.3,0.7 0.3,-1.5 0.3,-1.5 0.3,1.2 0.3,5.2 0.3,-3.5 0.3,2.5 0.3,0.5 0.3,-2.1 0.3,4.1 0.3,-0.7 0.3,-3.3 0.3,0.9 0.3,1.2 0.3,3.2 0.3,-3.5 0.3,-2.1 0.3,7.1 0.3,-5.1 0.3,1 0.3,0.4 0.3,-2.3 0.3,6.3 0.3,-0.3 0.3,0.3 0.3,-1.2 0.3,5.7 0.3,-8.1 0.3,2.8 0.3,-0.6 0.3,-3.7 0.3,2.9 0.3,1.5 0.3,0.2 0.3,-0.3 0.3,0.9 0.3,0.6 0.3,-0.4 0.3,2.8 0.3,-2 0.3,3.2 0.3,0.8 0.3,-2.1 0.3,-1.9 0.3,2.3 0.3,2.1 0.3,-6.2 0.3,4 0.3,5.3 0.3,-4.4 0.3,-0.8 0.3,-0.1 0.3,0.3 0.3,0.3 0.3,-1.4 0.3,2.7 0.3,0.1 0.3,-2.5 0.3,5.4 0.3,0 0.3,-2.4 0.3,0.5 0.3,1.4 0.3,-0.7 0.3,1.5 0.3,2.1 0.3,1.2 0.3,-0.7 0.3,-1.9 0.3,0 0.3,-1.7 0.3,3.4 0.3,3 0.3,-2 0.3,-1.9 0.3,2.3 0.3,-1 0.3,1 0.3,-1 0.3,4.4 0.3,-6.6 0.3,2.4 0.3,3.6 0.3,-4.9 0.3,3.4 0.3,-0.9 0.3,3 0.3,-0.4 0.3,0.5 0.3,0.5 0.3,0.2 0.3,3.7 0.3,-3.6 0.3,-1.1 0.3,2.4 0.3,-2.7 0.3,0.6 0.3,4 0.3,-1.2 0.3,0.5 0.3,2.4 0.3,-3 0.3,-1.4 0.3,5.9 0.3,-2.4 0.3,5.4 0.3,-7.4 0.3,3.2 0.3,-0.6 0.3,1.6 0.3,-0.4 0.3,0 0.3,3.7 0.3,-0.7 0.3,-0.9 0.3,1 0.3,0.1 0.3,-3.8 0.3,2.3 0.3,2.7 0.3,0.1 0.3,3.2 0.3,-4.2 0.3,1.3 0.3,0.5 0.3,1 0.3,2.1 0.3,-3.6" fill="none" stroke="#9b68ae" stroke-width="2.3" stroke-linejoin="round"/>
<path d="M211.7,1734.6l0.3,-0.8 0.3,3.5 0.3,-4.9 0.3,3.6 0.3,1.3 0.3,1.1 0.3,-1.6 0.3,1.1 0.3,-1.1 0.3,-1 0.3,1.6 0.3,1.5 0.3,-0.4 0.3,-3.5 0.3,2.7 0.3,2.5 0.3,-1.2 0.3,2 0.3,-2.2 0.3,-0.7 0.3,-5.9 0.3,8.3 0.3,-5.3 0.3,1.8 0.3,-1.4 0.3,0.5 0.3,2.6 0.3,-4.1 0.3,3.5 0.3,-2.8 0.3,2.2 0.3,0.9 0.3,-1.2 0.3,-0.1 0.3,0.1 0.3,-0.3 0.3,1.2 0.3,-0.3 0.3,-1.6 0.3,4.5 0.3,-5 0.3,4.3 0.3,-3.7 0.3,2.7 0.3,-0.2 0.3,-2.7 0.3,2 0.3,2.1 0.3,-7 0.3,0.5 0.3,0.9 0.3,4.5 0.3,-2.6 0.3,-2.7 0.3,0.3 0.3,0.6 0.3,-2.1 0.3,0.7 0.3,0.5 0.3,0.6 0.3,0.6 0.3,-2.7 0.3,0.5 0.3,-2.6 0.3,2 0.3,-0.4 0.3,-0.5 0.3,0.6 0.3,-3.2 0.3,3.4 0.3,-2 0.3,1.4 0.3,-4.2 0.3,0.9 0.3,0.3 0.3,-1.9 0.3,2.6 0.3,-2.4 0.3,-2.6 0.3,3.4 0.3,-3.4 0.3,1.4 0.3,0.3 0.3,-4.1 0.3,3.9 0.3,-1.7 0.3,-4.5 0.3,4.1 0.3,-4.2 0.3,-0.3 0.3,3.9 0.3,-6.3 0.3,-2.4 0.3,4 0.3,-1.7 0.3,-2.2 0.3,2.7 0.3,-5.4 0.3,0.2 0.3,2.4 0.3,-3.5 0.3,-1.5 0.3,0.5 0.3,-3 0.3,-1.4 0.3,1.1 0.3,-1.8 0.3,-0.8 0.3,-2.1 0.3,1 0.3,-0.8 0.3,0.3 0.3,-2.6 0.3,-0.3 0.3,-1.6 0.3,2.2 0.3,0.4 0.3,-0.3 0.3,-0.8 0.3,0.4 0.3,0.5 0.3,-2.8 0.3,0.5 0.3,-2.5 0.3,1.4 0.3,0 0.3,-2.8 0.3,4.2 0.3,-2.8 0.3,0.3 0.3,-1.2 0.3,2.9 0.3,-3.2 0.3,1 0.3,-1.6 0.3,-1.1 0.3,0.3 0.3,-0.8 0.3,0.2 0.3,2.1 0.3,-3.1 0.3,0.6 0.3,1.8 0.3,0.3 0.3,-2.4 0.3,-0.9 0.3,-2 0.3,3 0.3,-2.2 0.3,0 0.3,2 0.3,-1.9 0.3,1.5 0.3,-0.1 0.3,-2.3 0.3,0.7 0.3,1.9 0.3,-2.2 0.3,-0.5 0.3,-2.9 0.3,1.5 0.3,2.1 0.3,-3.1 0.3,1.2 0.3,0.7 0.3,2 0.3,-7.6 0.3,4.4 0.3,0.1 0.3,-1.7 0.3,2.9 0.3,-6.2 0.3,-0.8 0.3,1.8 0.3,1 0.3,-3.6 0.3,1.3 0.3,-1.7 0.3,3.9 0.3,-4.9 0.3,2.8 0.3,-6.4 0.3,3.2 0.3,-0.5 0.3,-2.6 0.3,0.9 0.3,0.8 0.3,-1.3 0.3,-1 0.3,0.1 0.3,0.6 0.3,0 0.3,-2.4 0.3,2.3 0.3,-2.1 0.3,4.2 0.3,-5.2 0.3,0 0.3,-2.7 0.3,3.8 0.3,-3.3 0.3,0.4 0.3,0.9 0.3,-3 0.3,0.5 0.3,-1.8 0.3,-0.7 0.3,-0.9 0.3,-1.3 0.3,1.7 0.3,-1.7 0.3,4.6 0.3,-4.1 0.3,6.6 0.3,-5.6 0.3,-1.3 0.3,3.4 0.3,-2.1 0.3,-1 0.3,-0.6 0.3,2.9 0.3,-4.1 0.3,-1.1 0.3,1.6 0.3,0.7 0.3,-5 0.3,1 0.3,0.9 0.3,0.8 0.3,0.8 0.3,-3.6 0.3,2.5 0.3,-2.7 0.3,4.9 0.3,-2.1 0.3,1.7 0.3,1.4 0.3,-2.1 0.3,-0.3 0.3,-1.6 0.3,0.1 0.3,2.4 0.3,0.8 0.3,1.5 0.3,-4.9 0.3,0 0.3,5.5 0.3,-3.1 0.3,-1.8 0.3,3.2 0.3,-2.5 0.3,-0.4 0.3,-1.5 0.3,3.8 0.3,0 0.3,1.2 0.3,-2.6 0.3,-1 0.3,1 0.3,0.2 0.3,-0.9 0.3,-1.5 0.3,0.9 0.3,1.4 0.3,-0.4 0.3,3.7 0.3,-2.5 0.3,-0.7 0.3,-0.4 0.3,2.5 0.3,-1.1 0.3,2 0.3,-1.4 0.3,1.7 0.3,-1.9 0.3,1.8 0.3,0.9 0.3,-2.9 0.3,3.5 0.3,-2.6 0.3,4.6 0.3,-1 0.3,-0.4 0.3,-0.3 0.3,2 0.3,-3.8 0.3,2.9 0.3,-1.6 0.3,0.4 0.3,0.3 0.3,0.9 0.3,-2.9 0.3,-0.5 0.3,-0.5 0.3,4 0.3,-1.7 0.3,2.5 0.3,0.9 0.3,0.1 0.3,-5.6 0.3,4.4 0.3,-0.1 0.3,-1.5 0.3,-0.5 0.3,3.6 0.3,3.6 0.3,-6.4 0.3,2.3 0.3,1.3 0.3,-5.5 0.3,7.8 0.3,-4.4 0.3,3.6 0.3,3.5 0.3,-4.2 0.3,-2.1 0.3,2.5 0.3,0.1 0.3,2.5 0.3,-2.7 0.3,4 0.3,-2.7 0.3,7.5 0.3,-8 0.3,4.2 0.3,-3.9 0.3,5 0.3,-1.5 0.3,-3.3 0.3,1.6 0.3,1.1 0.3,-0.7 0.3,3 0.3,-2.4 0.3,2 0.3,1.4 0.3,-0.6 0.3,-0.7 0.3,-0.4 0.3,1.6 0.3,-1.8 0.3,1.1 0.3,-3.8 0.3,2.4 0.3,2.6 0.3,-1.1 0.3,0.4 0.3,0 0.3,2.6 0.3,-3.7 0.3,-1.7 0.3,5.4 0.3,-2 0.3,-1.8 0.3,-1.1 0.3,-1.4 0.3,1.7 0.3,1.6 0.3,3 0.3,-3.4 0.3,0.5 0.3,-0.6 0.3,-1.1 0.3,3.2 0.3,0.2 0.3,-0.7 0.3,2 0.3,-4 0.3,2.4 0.3,-0.9 0.3,1.6 0.3,-2.6 0.3,0.9 0.3,-0.3 0.3,1.1 0.3,-0.8 0.3,0 0.3,-0.7 0.3,0.7 0.3,2.9 0.3,-1.8 0.3,3.9 0.3,2 0.3,-0.3 0.3,-0.6 0.3,1.3 0.3,1.4 0.3,-0.8 0.3,0.4 0.3,1.2 0.3,-1 0.3,1.3 0.3,4.7 0.3,-4.9 0.3,0.7 0.3,-0.3 0.3,5.2 0.3,2.7 0.3,-0.4 0.3,-2.1 0.3,2.2 0.3,0.1 0.3,1.5 0.3,-2.3 0.3,4.1 0.3,-2.6 0.3,2.4 0.3,1.6 0.3,1.3 0.3,2.4 0.3,-0.2 0.3,-2.7 0.3,4.7 0.3,-6.7 0.3,2.4 0.3,1.8 0.3,1 0.3,-0.6 0.3,0.4 0.3,3.1 0.3,-5.7 0.3,2.8 0.3,-1.3 0.3,1.2 0.3,-0.8 0.3,1.8 0.3,1.4 0.3,0.8 0.3,-6.6 0.3,3.1 0.3,3.2 0.3,-2 0.3,-0.6 0.3,0.5 0.3,2.1 0.3,-1.8 0.3,0.4 0.3,-0.9 0.3,0.4 0.3,0.5 0.3,2.6 0.3,-2.4 0.3,-1.1 0.3,1.7 0.3,-5 0.3,2.5 0.3,1 0.3,-2 0.3,1.6 0.3,-0.3 0.3,-0.3 0.3,0.3 0.3,1.6 0.3,1.6 0.3,-2.3 0.3,2 0.3,0.1 0.3,-1.8 0.3,1.1 0.3,2.4 0.3,-4.5 0.3,3.3 0.3,0.2 0.3,-0.7 0.3,-3.1 0.3,5.4 0.3,3.5 0.3,-4.4 0.3,2.3 0.3,-0.9 0.3,0.5 0.3,-0.8 0.3,1.5 0.3,-2.1 0.3,1.6 0.3,0.8 0.3,0 0.3,-1.6 0.3,3.2 0.3,-4.2 0.3,0.3 0.3,2.9 0.3,-3.3 0.3,7.4 0.3,-5.8 0.3,2.2 0.3,3.6 0.3,-3.9 0.3,5.5 0.3,-0.1 0.3,-0.6 0.3,-1.9 0.3,3.1 0.3,-2.3 0.3,2.1 0.3,-2.8 0.3,4 0.3,0 0.3,-0.1 0.3,0.7 0.3,-3 0.3,4.2 0.3,-1.5 0.3,0.8 0.3,1.3 0.3,-1.6 0.3,3.1 0.3,-1.2 0.3,2.4 0.3,-1 0.3,-1.2 0.3,3.4 0.3,-1.4 0.3,1.3 0.3,-1.4 0.3,-1.6 0.3,4.5 0.3,-5.1 0.3,2.8 0.3,-1 0.3,4.4 0.3,-3.9 0.3,5.4 0.3,3.5 0.3,-5.3 0.3,3.8 0.3,1.6 0.3,-5.6 0.3,2.7 0.3,-1.1 0.3,1.4 0.3,-0.5 0.3,4.1 0.3,-2.6 0.3,4.1 0.3,0.5 0.3,-1.9 0.3,-2.9 0.3,0.3 0.3,0.1 0.3,3 0.3,-0.7 0.3,0.6 0.3,0.6 0.3,3.7 0.3,-3.3 0.3,0.1 0.3,1.6 0.3,0.6 0.3,2 0.3,0.8 0.3,-3.2 0.3,2.9 0.3,-1 0.3,2.1 0.3,-1.1 0.3,-0.4 0.3,1.7 0.3,1.8 0.3,-1.8 0.3,3.1 0.3,-0.4 0.3,0.1 0.3,1.7 0.3,1.1 0.3,-0.8 0.3,-4.6 0.3,4.8 0.3,4.3 0.3,-3.5 0.3,3.6 0.3,-3.1 0.3,6.9 0.3,-4.9 0.3,3.6 0.3,-1.6 0.3,1.8 0.3,2.7 0.3,-1.8 0.3,-1.3 0.3,5.3 0.3,-2.6 0.3,3.5 0.3,-3.4 0.3,1 0.3,2.2 0.3,0.8 0.3,-0.1 0.3,-2 0.3,2.8 0.3,-3.3 0.3,4.3 0.3,-0.9 0.3,1.9 0.3,-2 0.3,1.1 0.3,1.9 0.3,-3.3 0.3,1.7 0.3,3 0.3,-0.5 0.3,-1.3 0.3,-0.4 0.3,-0.3 0.3,1.8 0.3,2.1 0.3,-0.3 0.3,-2.2 0.3,0.9 0.3,3 0.3,-4.9 0.3,7.6 0.3,-7.7 0.3,5.7 0.3,-1 0.3,0.4 0.3,0.5 0.3,2.2 0.3,-0.4 0.3,-0.1 0.3,3.7 0.3,-1.7 0.3,-0.4 0.3,-1.8 0.3,2.3 0.3,0.8 0.3,1.8 0.3,-0.5 0.3,0.5 0.3,-0.3 0.3,2.9 0.3,-3.9 0.3,3.4 0.3,2.1 0.3,-6.7 0.3,8 0.3,-1 0.3,0.4 0.3,-1.5 0.3,0.5 0.3,0.4 0.3,8.5 0.3,-7.6 0.3,6.3 0.3,-3.8 0.3,-1 0.3,3.8 0.3,-1.1 0.3,-0.3 0.3,1.8 0.3,2.4 0.3,-1.4 0.3,0.3 0.3,2.1 0.3,1.5 0.3,-2.1 0.3,5.5 0.3,-3.3 0.3,2.5 0.3,2.7 0.3,0.1 0.3,-0.6 0.3,0.9 0.3,1.6 0.3,3 0.3,-1.3 0.3,2.5 0.3,-1.7 0.3,4.7 0.3,-2.6 0.3,2.4 0.3,-4 0.3,2.6 0.3,1.6 0.3,-4 0.3,2.8 0.3,-0.2 0.3,3.8 0.3,-1.9 0.3,2.4 0.3,-0.1 0.3,0.6 0.3,-2.3 0.3,4.7 0.3,-4.3 0.3,5.9 0.3,-1.3 0.3,-1 0.3,1.8 0.3,-2.7 0.3,2.7 0.3,1.1 0.3,4.3 0.3,-6.5 0.3,3 0.3,-1.1 0.3,2.9 0.3,1.9 0.3,-4 0.3,2.4 0.3,2 0.3,-2.3 0.3,0.4 0.3,0 0.3,0.5 0.3,0.6 0.3,-1.9 0.3,1.1 0.3,-1.2 0.3,2.5 0.3,0.6 0.3,1.3 0.3,-1.9 0.3,0 0.3,-1.9 0.3,4.2 0.3,-0.9 0.3,-1 0.3,1.6 0.3,1.7 0.3,-0.9 0.3,0.3 0.3,0.6 0.3,-2.6 0.3,1.5 0.3,1.4 0.3,-3 0.3,2.5 0.3,3.5 0.3,-4.2 0.3,1.5 0.3,0.9 0.3,2.4 0.3,-4 0.3,3.7 0.3,1.4 0.3,-2.5 0.3,-2.2 0.3,4.6 0.3,-1.6 0.3,-0.4 0.3,1.8 0.3,-1.9 0.3,-1.4 0.3,-2.9 0.3,5.6 0.3,-3.3 0.3,-0.7 0.3,0.9 0.3,0.5 0.3,-3.5 0.3,1.5 0.3,-1.4 0.3,-0.9 0.3,0.6 0.3,0 0.3,0.7 0.3,-2.8 0.3,1 0.3,2.8 0.3,-4.4 0.3,2 0.3,-2.3 0.3,1.2 0.3,1 0.3,0.5 0.3,-0.1 0.3,-4.2 0.3,3.7 0.3,-5.1 0.3,4.1 0.3,-5.4 0.3,0.6 0.3,2.5 0.3,-1.9 0.3,1.2 0.3,-1.4 0.3,-0.7 0.3,1.1 0.3,-2.9 0.3,0.3 0.3,0.9 0.3,-0.6 0.3,0.4 0.3,0.5 0.3,0.5 0.3,-3.3 0.3,-1.7 0.3,3.1 0.3,1.3 0.3,-1.1 0.3,-2.7 0.3,-0.8 0.3,-0.1 0.3,3.3 0.3,-1.8 0.3,2.7 0.3,1.4 0.3,-1.9 0.3,-0.6 0.3,-0.3 0.3,0.7 0.3,2.5 0.3,-4.4 0.3,-1.4 0.3,3.8 0.3,1.4 0.3,-4.5 0.3,-0.6 0.3,-0.5 0.3,3.1 0.3,-2.4 0.3,5.3 0.3,-4.4 0.3,4.6 0.3,-1.8 0.3,-4.2 0.3,4.1 0.3,2.4 0.3,-1.8 0.3,-2.3 0.3,0.8 0.3,0.8 0.3,0.2 0.3,-0.7 0.3,-1.8 0.3,-0.6 0.3,-1.6 0.3,3.8 0.3,-0.7 0.3,-1.8 0.3,3.4 0.3,-4.2 0.3,3.4 0.3,-3.8 0.3,-1.1 0.3,0.9 0.3,-3.1 0.3,3.4 0.3,0.2 0.3,-4.3 0.3,0.4 0.3,-2.9 0.3,2 0.3,0.7 0.3,-3.5 0.3,1 0.3,-0.6 0.3,-2 0.3,3 0.3,0.6 0.3,-7 0.3,2.5 0.3,-5.5 0.3,3.2 0.3,0.1 0.3,-1.8 0.3,-0.1 0.3,-0.1 0.3,1.9 0.3,-3.1 0.3,-1.7 0.3,1.6 0.3,2.7 0.3,-4.6 0.3,3 0.3,-2.4 0.3,-3.4 0.3,2.1 0.3,-1.2 0.3,2.1 0.3,-4.1 0.3,2.6 0.3,-1.2 0.3,-4.4 0.3,3.5 0.3,-1.1 0.3,3 0.3,-0.9 0.3,0.4 0.3,-1.5 0.3,-2.4 0.3,3.7 0.3,-1.1 0.3,-1.9 0.3,-0.1 0.3,1.5 0.3,-0.3 0.3,-1.9 0.3,-1 0.3,2.1 0.3,-2.3 0.3,-1.4 0.3,0.8 0.3,-0.9 0.3,1.1 0.3,-1.3 0.3,0.3 0.3,0.7 0.3,-1.8 0.3,-0.4 0.3,1.1 0.3,-2.5 0.3,1.2 0.3,-0.1 0.3,0.7 0.3,-0.2 0.3,-1.1 0.3,2.7 0.3,-4.5 0.3,1.2 0.3,2.8 0.3,-3.4 0.3,0.6 0.3,-1.9 0.3,1.9 0.3,1.9 0.3,-3.6 0.3,-1.7 0.3,0.9 0.3,-2.7 0.3,1.2 0.3,5.7 0.3,-7.1 0.3,-0.5 0.3,1.9 0.3,-2 0.3,1.1 0.3,3.4 0.3,-2 0.3,-4.1 0.3,3.2 0.3,-0.2 0.3,0.2 0.3,-3.1 0.3,0.9 0.3,-1.9 0.3,0.8 0.3,-1 0.3,0.8 0.3,-1.8 0.3,-2.3 0.3,-4.6 0.3,3.9 0.3,-0.4 0.3,-0.1 0.3,-2.1 0.3,-0.8 0.3,-1 0.3,-0.8 0.3,-2.8 0.3,1.4 0.3,0.1 0.3,-3.1 0.3,2.1 0.3,-2.2 0.3,2.2 0.3,-1 0.3,-4 0.3,-0.9 0.3,4.5 0.3,0.6 0.3,-1.3 0.3,-5.3 0.3,4.6 0.3,-2.4 0.3,2.2 0.3,-2 0.3,-1.6 0.3,0.7 0.3,0.9 0.3,-1 0.3,-3.7 0.3,2.2 0.3,0.9 0.3,-0.4 0.3,-0.9 0.3,-0.6 0.3,-2.7 0.3,-0.1 0.3,1.9 0.3,-0.3 0.3,0.2 0.3,-2.4 0.3,-0.2 0.3,-0.4 0.3,0.9 0.3,0.3 0.3,1 0.3,-0.6 0.3,-0.6 0.3,-0.1 0.3,1.2 0.3,-0.5 0.3,-2.7 0.3,-3 0.3,1.5 0.3,-0.1 0.3,-0.4 0.3,-1.9 0.3,2.6 0.3,-5.4 0.3,2 0.3,-1.2 0.3,2 0.3,-2.4 0.3,-2.8 0.3,-2.5 0.3,0.3 0.3,2.4 0.3,-3 0.3,0.5 0.3,-1.7 0.3,-2 0.3,1.2 0.3,-4.5 0.3,0.6 0.3,-0.5 0.3,-2.8 0.3,-1.2 0.3,-2.6 0.3,-1.9 0.3,0.8 0.3,-0.7 0.3,-2.8 0.3,-0.5 0.3,-0.2 0.3,0.1 0.3,0.8 0.3,-2.7 0.3,-1.5 0.3,2.9 0.3,-7.4 0.3,3.3 0.3,-1.3 0.3,0.7 0.3,2.2 0.3,-5.8 0.3,0 0.3,1.6 0.3,1.6 0.3,-3.7 0.3,0.4 0.3,-0.6 0.3,-2.6 0.3,1.9 0.3,-1.7 0.3,0.3 0.3,-0.1 0.3,-3.8 0.3,2 0.3,-0.4 0.3,-0.7 0.3,-1.1 0.3,1.2 0.3,2.1 0.3,-4.5 0.3,2.2 0.3,-3 0.3,0.7 0.3,0.9 0.3,-3 0.3,-0.1 0.3,-1.7 0.3,4.6 0.3,-6.5 0.3,3.1 0.3,-1.2 0.3,0.5 0.3,-2.3 0.3,1.3 0.3,0.6 0.3,-2.3 0.3,-0.8 0.3,1.8 0.3,-0.9 0.3,-0.9 0.3,0.7 0.3,-2.1 0.3,-1.5 0.3,-0.7 0.3,1.6 0.3,-3.8 0.3,1 0.3,-2.9 0.3,0.9 0.3,2.4 0.3,-2.3 0.3,-1.8 0.3,-2.1 0.3,-0.9 0.3,-0.5 0.3,0.7 0.3,-2.8 0.3,1.8 0.3,-4 0.3,4.7 0.3,-4.2 0.3,0.3 0.3,-1.6 0.3,-3 0.3,-1.4 0.3,-0.7 0.3,-0.3 0.3,4 0.3,-4.5 0.3,0.3 0.3,-3.4 0.3,0.4 0.3,-0.5 0.3,-3.1 0.3,-1.7 0.3,3.3 0.3,-0.8 0.3,-1.6 0.3,4.7 0.3,0.7 0.3,-5.6 0.3,5.1 0.3,-1.8 0.3,-2.7 0.3,-1.6 0.3,2.4 0.3,-2.1 0.3,2.5 0.3,1.4 0.3,-1.1 0.3,4.2 0.3,-3.7 0.3,0 0.3,-0.6 0.3,-0.6 0.3,-0.3 0.3,0.4 0.3,-2.6 0.3,5 0.3,-5 0.3,4.2 0.3,-2.4 0.3,1.1 0.3,-4.2 0.3,0.1 0.3,4.8 0.3,-1.8 0.3,-2.8 0.3,-0.6 0.3,0.5 0.3,0.5 0.3,2.9 0.3,1.1 0.3,-2.1 0.3,0.4 0.3,-0.9 0.3,-3 0.3,1.4 0.3,1.1 0.3,0.5 0.3,-2.8 0.3,2 0.3,1.8 0.3,0.4 0.3,-2.4 0.3,-4.5 0.3,1.2 0.3,2 0.3,-3 0.3,0.1 0.3,2.1 0.3,-4.6 0.3,4.8 0.3,-2.8 0.3,-0.7 0.3,-0.5 0.3,-1.4 0.3,4.1 0.3,-1.7 0.3,-2.1 0.3,1.9 0.3,-1.6 0.3,-1 0.3,-1.3 0.3,2.8 0.3,-3.4 0.3,0 0.3,-1.8 0.3,1.4 0.3,-3.3 0.3,0.8 0.3,1.7 0.3,0.5 0.3,3 0.3,-4.8 0.3,-0.9 0.3,-0.5 0.3,2.7 0.3,-2.2 0.3,-1.8 0.3,2 0.3,-0.6 0.3,-0.5 0.3,-1.2 0.3,2.5 0.3,-2.7 0.3,0.6 0.3,-1.7 0.3,3.2 0.3,-4.3 0.3,2.1 0.3,-4.2 0.3,5.1 0.3,-5.3 0.3,1.2 0.3,1 0.3,1 0.3,-2.2 0.3,2.8 0.3,-1.3 0.3,0.7 0.3,-4 0.3,1.1 0.3,-0.5 0.3,1.7 0.3,-0.7 0.3,0.9 0.3,0.2 0.3,1.3 0.3,-3.3 0.3,-0.6 0.3,2.8 0.3,0.4 0.3,-0.4 0.3,-1.7 0.3,-3.6 0.3,6.8 0.3,-1.8 0.3,3 0.3,-4.4 0.3,0.4 0.3,-3.8 0.3,2.7 0.3,1.5 0.3,1.1 0.3,3.3 0.3,0.7 0.3,-4.9 0.3,3.2 0.3,1.1 0.3,-1.2 0.3,0.8 0.3,3 0.3,-4 0.3,0.4 0.3,-0.9 0.3,0.6 0.3,-0.2 0.3,-0.4 0.3,0.6 0.3,-0.7 0.3,0.1 0.3,-0.8 0.3,2.4 0.3,-0.4 0.3,-3.2 0.3,5.1 0.3,0.8 0.3,-0.5 0.3,-0.4 0.3,-0.2 0.3,-0.1 0.3,-1.6 0.3,0.6 0.3,-1.3 0.3,0.9 0.3,-1.8 0.3,3.4 0.3,0.4 0.3,2.9 0.3,-2.2 0.3,0.2 0.3,-2.3 0.3,1.2 0.3,-1.9 0.3,2.5 0.3,5.2 0.3,-6.3 0.3,-3.6 0.3,6.8 0.3,-0.6 0.3,-3.8 0.3,1.9 0.3,-2.4 0.3,2.2 0.3,-3.3 0.3,2.1 0.3,2.2 0.3,-1.5 0.3,1.3 0.3,-0.7 0.3,-1.4 0.3,0.5 0.3,-0.4 0.3,1.1 0.3,-0.2 0.3,1.6 0.3,-1.6 0.3,-0.2 0.3,-0.8 0.3,0.9 0.3,0.7 0.3,1.9 0.3,-0.9 0.3,1.9 0.3,-4.2 0.3,0.2 0.3,-0.4 0.3,2.1 0.3,-1.8 0.3,3.2 0.3,-1.4 0.3,-4.4 0.3,8.2 0.3,-3.4 0.3,-0.4 0.3,2.5 0.3,-2.6 0.3,2.2 0.3,-0.6 0.3,-0.2 0.3,0.1 0.3,4.1 0.3,-0.6 0.3,0.6 0.3,-0.5 0.3,-0.2 0.3,2.4 0.3,-0.3 0.3,3.2 0.3,-3.6 0.3,2.1 0.3,-1.8 0.3,1.8 0.3,-0.9 0.3,6.3 0.3,-2.3 0.3,-1.3 0.3,2.1 0.3,1.5 0.3,-0.8 0.3,-4.6 0.3,5.9 0.3,-1.2 0.3,0 0.3,2.5 0.3,-0.6 0.3,-2.7 0.3,1.4 0.3,1.5 0.3,2.1 0.3,-0.2 0.3,-4.5 0.3,4 0.3,-1.6 0.3,-0.5 0.3,1.1 0.3,0.8 0.3,0.9 0.3,1 0.3,3.1 0.3,-1.4 0.3,0.3 0.3,-0.7 0.3,2.5 0.3,3.4 0.3,-3.7 0.3,-2.1 0.3,-0.4 0.3,0.9 0.3,2.2 0.3,-2.9 0.3,-1.3 0.3,3.5 0.3,3.4 0.3,-3.9 0.3,1.3 0.3,-0.1 0.3,-0.7 0.3,1.4 0.3,2.1 0.3,-3.4 0.3,2.6 0.3,-0.1 0.3,-0.1 0.3,-1.4 0.3,-4.6 0.3,6 0.3,-0.8 0.3,-0.7 0.3,-1 0.3,0 0.3,2 0.3,1.1 0.3,-2.4 0.3,-0.3 0.3,1 0.3,-1 0.3,1.6 0.3,2.2 0.3,-1.3 0.3,-0.3 0.3,1.7 0.3,-4.1 0.3,1.7 0.3,3.3 0.3,0.9 0.3,-2.8 0.3,5.3 0.3,0 0.3,-2.9 0.3,2.2 0.3,-0.4 0.3,-3.7 0.3,3.9 0.3,-0.8 0.3,0.9 0.3,0.4 0.3,-2.8 0.3,4.7 0.3,3.9 0.3,-3.2 0.3,3.1 0.3,-4.1 0.3,5.3 0.3,-2.5 0.3,3 0.3,1.1 0.3,-3.5 0.3,2.5 0.3,2.7 0.3,0 0.3,-3.7 0.3,4.3 0.3,-2.4 0.3,3.1 0.3,-3 0.3,-0.3 0.3,4.9 0.3,-2 0.3,3.9 0.3,-0.8 0.3,-0.4 0.3,2.3 0.3,-2 0.3,2.2 0.3,-1 0.3,-4.9 0.3,4.9 0.3,-3.3 0.3,1.4 0.3,2.7 0.3,-3.6 0.3,3.3 0.3,0.1 0.3,1.5 0.3,-2.1 0.3,-3.8 0.3,1.9 0.3,-1.8 0.3,2.4 0.3,-0.7 0.3,3.1 0.3,-2.9 0.3,-1.7 0.3,0.1 0.3,0.6 0.3,-2.2 0.3,1.6 0.3,-0.2 0.3,-0.5 0.3,-1.1 0.3,0.9 0.3,0.7 0.3,1 0.3,-2.2 0.3,1.1 0.3,-4.3 0.3,4.5 0.3,-5.7 0.3,1.6 0.3,2.2 0.3,-0.6 0.3,1.2 0.3,-0.3 0.3,-0.2 0.3,-1.2 0.3,-1.1 0.3,2.7 0.3,-1.4 0.3,1.1 0.3,0.2 0.3,-0.3 0.3,1 0.3,-0.2 0.3,-1 0.3,-1.4 0.3,3 0.3,-0.7 0.3,0.7 0.3,1.4 0.3,-1.5 0.3,1.7 0.3,1.3 0.3,2.2 0.3,2.9 0.3,-3.4 0.3,0.9 0.3,-0.5 0.3,3.5 0.3,-1.1 0.3,1.9 0.3,1.2 0.3,1.7 0.3,-3.2 0.3,-1 0.3,2.7 0.3,-2.8 0.3,9.1 0.3,-5.5 0.3,0 0.3,3.3 0.3,-3.1 0.3,2.8 0.3,-4.5 0.3,-0.4 0.3,4.2 0.3,-3 0.3,0.8 0.3,4.2 0.3,-2.9 0.3,1.6 0.3,-0.5 0.3,2.8 0.3,-1.9 0.3,-0.1 0.3,-0.4 0.3,1.6 0.3,1.2 0.3,-3.6 0.3,4.5 0.3,-1.5 0.3,1.3 0.3,1.1 0.3,-2.2 0.3,-2 0.3,1.2 0.3,5.3 0.3,1.2 0.3,4.4 0.3,-4.8 0.3,2.7 0.3,-0.6 0.3,-0.7 0.3,3.8 0.3,0.1 0.3,1.2 0.3,0.4 0.3,2.2 0.3,-0.6 0.3,2.9 0.3,-1.5 0.3,0.3 0.3,4.7 0.3,1.4 0.3,-0.9 0.3,-2.3 0.3,1.6 0.3,-2.6 0.3,2.8 0.3,7.9 0.3,-6.3 0.3,4.9 0.3,1.8 0.3,-1.7 0.3,3.9 0.3,-1.8 0.3,4 0.3,-0.2 0.3,1 0.3,1 0.3,3 0.3,-3.5 0.3,2.4 0.3,-1 0.3,2.7 0.3,1 0.3,-0.5 0.3,1.7 0.3,-0.8 0.3,3.8 0.3,-1.2 0.3,-1.4 0.3,1.1 0.3,-0.9 0.3,3.3 0.3,-4.6 0.3,0.1 0.3,0.2 0.3,5.3 0.3,3.6 0.3,-2.2 0.3,-3 0.3,1.2 0.3,1.2 0.3,-1.3 0.3,0.4 0.3,2.4 0.3,-3.2 0.3,-3.9 0.3,9.3 0.3,-0.6 0.3,-2.3 0.3,4.7 0.3,-4.9 0.3,2.2 0.3,-0.2 0.3,1 0.3,-2.2 0.3,3.4 0.3,1.1 0.3,-2 0.3,1.4 0.3,0.6 0.3,0.6 0.3,-0.3 0.3,1 0.3,-0.9 0.3,-0.6 0.3,-3.6 0.3,8.3 0.3,-2.4 0.3,1.3 0.3,0.7 0.3,-1.8 0.3,2.4 0.3,-1.3 0.3,1 0.3,-3 0.3,5 0.3,-0.1 0.3,-2.7 0.3,4.5 0.3,0.3 0.3,-1.7 0.3,-1.6 0.3,3.1 0.3,-1.7 0.3,3 0.3,1.3 0.3,-2.5 0.3,3.8 0.3,-3.8 0.3,4.9 0.3,-0.7 0.3,-1.5 0.3,2.6 0.3,0.1 0.3,2.7 0.3,-2.9 0.3,-1.1 0.3,3.7 0.3,-3.2 0.3,-0.3 0.3,1.1 0.3,0.3 0.3,-0.1 0.3,-2.3 0.3,7.1 0.3,-3.4 0.3,1.5 0.3,1 0.3,0.4 0.3,-2.7 0.3,1 0.3,3.2 0.3,-2.3 0.3,1 0.3,1.7 0.3,0.2 0.3,-1.2 0.3,2.1 0.3,-3.1 0.3,-0.7 0.3,2.1 0.3,3.3 0.3,-1.3 0.3,-0.7 0.3,0.9 0.3,0.1 0.3,3.3 0.3,-2.2 0.3,3.8 0.3,-5.4 0.3,2 0.3,1.8 0.3,-0.4 0.3,-3.1 0.3,6.1 0.3,-2.2 0.3,-1.3 0.3,-1 0.3,2 0.3,0.9 0.3,-0.4 0.3,-0.5 0.3,-1.3 0.3,2.7 0.3,-1.3 0.3,-0.6 0.3,-0.7 0.3,0.5 0.3,0.4 0.3,0.5 0.3,-2.9 0.3,-0.6 0.3,-1.1 0.3,-0.2 0.3,3.6 0.3,1.4 0.3,-3.4 0.3,-1 0.3,2.3 0.3,1.5 0.3,-5.3 0.3,1.4 0.3,-2.4 0.3,1.1 0.3,-2.6 0.3,-0.9 0.3,-0.1 0.3,3 0.3,-0.9 0.3,-0.1 0.3,0 0.3,-0.6 0.3,0.1 0.3,-0.9 0.3,2.5 0.3,0.1 0.3,-1.7 0.3,1.1 0.3,-1.8 0.3,-1.4 0.3,0.1 0.3,0.5 0.3,-1.9 0.3,-1.7 0.3,3.3 0.3,0.4 0.3,-3.9 0.3,5.7 0.3,-4.5 0.3,1 0.3,-1.5 0.3,-1.3 0.3,1.9 0.3,-2.4 0.3,1.5 0.3,-1 0.3,-1.1 0.3,1.4 0.3,-1.3 0.3,-2.1 0.3,-1.2 0.3,-1.6 0.3,-0.3 0.3,-4.4 0.3,-2.6 0.3,1 0.3,-2.9 0.3,-0.4 0.3,-2.8 0.3,-1.7 0.3,-0.8 0.3,-1.3 0.3,-1.5 0.3,-1.2 0.3,-1.3 0.3,-4.3 0.3,4.1 0.3,-3.5 0.3,-1.7 0.3,-4 0.3,1.7 0.3,-0.6 0.3,-0.4 0.3,-0.9 0.3,-5 0.3,-0.9 0.3,5.8 0.3,-8.2 0.3,1.9 0.3,-0.7 0.3,-2.1 0.3,-4.5 0.3,1.5 0.3,0.3 0.3,-5.8 0.3,4.4 0.3,-2 0.3,-2.4 0.3,-1.7 0.3,-1.2 0.3,3.4 0.3,-1.8 0.3,-1.5 0.3,-0.2 0.3,-4.9 0.3,2 0.3,-1.6 0.3,-0.5 0.3,-2.5 0.3,0.5 0.3,-2.1 0.3,2.1 0.3,-2.6 0.3,1 0.3,-2.9 0.3,-1.6 0.3,0.6 0.3,-0.4 0.3,-2.8 0.3,-0.3 0.3,-2.8 0.3,-0.6 0.3,-1.7 0.3,0 0.3,-3.6 0.3,-3.1 0.3,1.5 0.3,-3.6 0.3,-1.1 0.3,-3.1 0.3,4.1 0.3,-4 0.3,-1.7 0.3,-2.7 0.3,-0.1 0.3,-2.2 0.3,-0.8 0.3,1.3 0.3,-0.3 0.3,-8.7 0.3,1.6 0.3,0 0.3,-2.4 0.3,0.4 0.3,-0.2 0.3,-1.1 0.3,-2.6 0.3,-1.9 0.3,-2.7 0.3,4.4 0.3,0.2 0.3,-0.6 0.3,-4.1 0.3,-2.5 0.3,-1.3 0.3,4.1 0.3,-2.5 0.3,3.1 0.3,-3.5 0.3,-2.9 0.3,2.2 0.3,-3.5 0.3,0 0.3,-1.6 0.3,1.5 0.3,-3 0.3,0.5 0.3,-1.2 0.3,1.3 0.3,-0.8 0.3,-2 0.3,0.6 0.3,-3.7 0.3,0.3 0.3,-1 0.3,-3.5 0.3,1.2 0.3,1.2 0.3,0.1 0.3,0 0.3,1.7 0.3,-3.5 0.3,1.3 0.3,-3.1 0.3,-0.8 0.3,0 0.3,-3.8 0.3,0 0.3,-0.8 0.3,1.6 0.3,-1.7 0.3,-0.6 0.3,-2.7 0.3,0.3 0.3,-3 0.3,6.1 0.3,-6.7 0.3,-4.4 0.3,3.1 0.3,-3.6 0.3,1.8 0.3,-3.2 0.3,-3 0.3,2.4 0.3,-3 0.3,4.4 0.3,-3.2 0.3,-6.1 0.3,3.4 0.3,-6.4 0.3,2.4 0.3,-1.1 0.3,0.4 0.3,-3.9 0.3,-0.7 0.3,-1 0.3,1.6 0.3,-1.3 0.3,-0.5 0.3,-1.1 0.3,-1.5 0.3,2.5 0.3,-5 0.3,3 0.3,-1.7 0.3,-4.6 0.3,2.2 0.3,-0.4 0.3,-0.6 0.3,-3.9 0.3,3.1 0.3,-1.6 0.3,-4.6 0.3,1.3 0.3,1.2 0.3,-3 0.3,0.8 0.3,-1.9 0.3,-1.6 0.3,1 0.3,0.3 0.3,-2.2 0.3,-2.4 0.3,-1.5 0.3,3.5 0.3,-1.4 0.3,0.9 0.3,-2.8 0.3,1.8 0.3,-3.8 0.3,2.5 0.3,-5.5 0.3,-1.5 0.3,4.1 0.3,-3 0.3,0.4 0.3,-0.9 0.3,-2.8 0.3,1.1 0.3,-2.5 0.3,1.7 0.3,-1.9 0.3,1.5 0.3,-1.1 0.3,3 0.3,-3.9 0.3,3.3 0.3,-4.8 0.3,2.2 0.3,-0.6 0.3,-2.4 0.3,1 0.3,-3.1 0.3,0.5 0.3,1.4 0.3,-1.9 0.3,-4.5 0.3,1.2 0.3,4.1 0.3,-2.4 0.3,-1.1 0.3,-1.5 0.3,-0.4 0.3,-1.8 0.3,3.2 0.3,-1.2 0.3,1.5 0.3,-0.9 0.3,-2.6 0.3,-0.2 0.3,-0.8 0.3,0.9 0.3,-1.7 0.3,-3.8 0.3,2.8 0.3,0.1 0.3,2.6 0.3,-3.4 0.3,-0.8 0.3,0 0.3,0 0.3,2 0.3,-4.9 0.3,6.4 0.3,-2.9 0.3,1.1 0.3,-2.4 0.3,0.7 0.3,-4.5 0.3,3.8 0.3,-0.4 0.3,1.6 0.3,-2.1 0.3,0.2 0.3,-0.1 0.3,-3.4 0.3,3.2 0.3,2.9 0.3,-4.7 0.3,2.4 0.3,-2.8 0.3,3.1 0.3,-0.4 0.3,-4.2 0.3,-1.1 0.3,1.1 0.3,-1 0.3,-1.9 0.3,-0.7 0.3,-2.3 0.3,1.2 0.3,0.2 0.3,2.8 0.3,-2 0.3,-4.1 0.3,0.3 0.3,-1.9 0.3,2.4 0.3,1.3 0.3,-4.2 0.3,0 0.3,0.6 0.3,-3.7 0.3,3 0.3,-2.7 0.3,-4.4 0.3,0.9 0.3,0 0.3,-0.1 0.3,-0.5 0.3,-0.7 0.3,-0.4 0.3,-0.5 0.3,-0.7 0.3,-0.1 0.3,0.6 0.3,-1.9 0.3,-0.7 0.3,-3.7 0.3,1.2 0.3,0.1 0.3,0.4 0.3,-2.2 0.3,-2.7 0.3,1.6 0.3,-1.3 0.3,-1.4 0.3,-3.9 0.3,1.7 0.3,-1.4 0.3,-0.7 0.3,2.6 0.3,-5.3 0.3,-3.4 0.3,5 0.3,-1.8 0.3,1.3 0.3,1.8 0.3,-1.9 0.3,-5.6 0.3,2.4 0.3,0.8 0.3,-0.9 0.3,-2 0.3,-1 0.3,4.7 0.3,-3.6 0.3,-0.5 0.3,2.7 0.3,-5.6 0.3,-0.6 0.3,4.5 0.3,-1.6 0.3,-0.6 0.3,1.7 0.3,-3.7 0.3,2.2 0.3,0 0.3,-1.1 0.3,0.7 0.3,-2.1 0.3,-3.7 0.3,6.9 0.3,-2.8 0.3,-1.7 0.3,-1.8 0.3,-0.2 0.3,-0.1 0.3,-0.1 0.3,3.3 0.3,-0.9 0.3,-0.2 0.3,0.2 0.3,-1.8 0.3,1 0.3,-1.6 0.3,0.3 0.3,0.6 0.3,-2.9 0.3,-0.2 0.3,1.1 0.3,-1.4 0.3,1.1 0.3,-1.7 0.3,-0.7 0.3,-2.7 0.3,1.9 0.3,-1.3 0.3,1.2 0.3,-2.8 0.3,0.7 0.3,0.6 0.3,3.1 0.3,-3.6 0.3,-0.3 0.3,-1.5 0.3,0.1 0.3,-0.6 0.3,0.8 0.3,2.3 0.3,-4.7 0.3,-0.5 0.3,-0.6 0.3,3.5 0.3,-1.9 0.3,0.4 0.3,2.8 0.3,1.3 0.3,-3.3 0.3,-2.2 0.3,3.4 0.3,-2.5 0.3,2 0.3,-1.6 0.3,-2 0.3,-1 0.3,1.8 0.3,-0.6 0.3,2.9 0.3,-3.6 0.3,0.6 0.3,-2.2 0.3,0.6 0.3,2.5 0.3,-2.1 0.3,1.8 0.3,-2.8 0.3,1.1 0.3,1.5 0.3,1.2 0.3,-3.5 0.3,-3.1 0.3,6.7 0.3,-0.8 0.3,-2.4 0.3,3.9 0.3,-3 0.3,0.1 0.3,-2.1 0.3,-0.6 0.3,-0.3 0.3,0.9 0.3,2.3 0.3,-1 0.3,-1.2 0.3,1.3 0.3,-1.4 0.3,-1.8 0.3,-0.3 0.3,-3.9 0.3,5.4 0.3,0.7 0.3,-1 0.3,1 0.3,-0.5 0.3,-0.1 0.3,-3.7 0.3,1.6 0.3,1.7 0.3,-3.7 0.3,0.3 0.3,1 0.3,-0.1 0.3,1.1 0.3,1.1 0.3,-0.9 0.3,-2.4 0.3,3.1 0.3,-2.8 0.3,1.3 0.3,-1.7 0.3,1.4 0.3,-3.8 0.3,3.8 0.3,2.1 0.3,-4.2 0.3,-2.2 0.3,-0.1 0.3,3.3 0.3,-1.6 0.3,0.7 0.3,-0.9 0.3,-0.3 0.3,4.2 0.3,-9.7 0.3,5.2 0.3,0.4 0.3,-2.1 0.3,-3.4 0.3,3.1 0.3,-1.4 0.3,0.3 0.3,1.5 0.3,-2.9 0.3,0.1 0.3,4 0.3,-3.3 0.3,0.3 0.3,2.5 0.3,-3 0.3,1.7 0.3,-2.4 0.3,-0.1 0.3,-0.5 0.3,0.8 0.3,5 0.3,-3 0.3,-3.5 0.3,1.2 0.3,1.1 0.3,1.7 0.3,-3.3 0.3,4 0.3,-3.8 0.3,-1 0.3,2.5 0.3,-0.5 0.3,-1.8 0.3,3.9 0.3,-0.7 0.3,0.8 0.3,-0.9 0.3,1 0.3,2.2 0.3,-4.4 0.3,1.7 0.3,-0.4 0.3,1.4 0.3,0.8 0.3,-1.8 0.3,3.2 0.3,-1.3 0.3,-2 0.3,2.3 0.3,-2.9 0.3,7.1 0.3,-6.9 0.3,4 0.3,-1.9 0.3,0.4 0.3,0.4 0.3,-2.6 0.3,-0.6 0.3,3 0.3,-2.3 0.3,-0.6 0.3,3.6 0.3,0.8 0.3,-4.9 0.3,3.2 0.3,-1.3 0.3,-1.8 0.3,1.8 0.3,-5.4 0.3,7.2 0.3,-0.1 0.3,-0.8 0.3,-3.6 0.3,2.2 0.3,-0.9 0.3,-2 0.3,0.3 0.3,1 0.3,0.4 0.3,-2.1 0.3,3.3 0.3,0 0.3,2.1 0.3,-1.9 0.3,1.5 0.3,0.5 0.3,-4.8 0.3,4.7 0.3,-3.3 0.3,3.4 0.3,-0.5 0.3,-1.9 0.3,4.1 0.3,-3.3 0.3,1.2 0.3,0.3 0.3,-2 0.3,6.2 0.3,0.2 0.3,0.4 0.3,1.5 0.3,-1.6 0.3,-0.3 0.3,0 0.3,-3.1 0.3,3.7 0.3,-1.3 0.3,3.3 0.3,-0.7 0.3,0 0.3,5.2 0.3,-1 0.3,-3.9 0.3,1.9 0.3,0.3 0.3,3.5 0.3,2.8 0.3,-1 0.3,3.2 0.3,-2.6 0.3,1.9 0.3,1.5 0.3,4.8 0.3,-0.3 0.3,-3.2 0.3,1 0.3,5 0.3,5.4 0.3,-2.4 0.3,-2.5 0.3,5 0.3,-1.2 0.3,2.3 0.3,0.3 0.3,0.4 0.3,-1.2 0.3,5.7 0.3,1.1 0.3,0.3 0.3,-1.3 0.3,2.2 0.3,1.5 0.3,2.3 0.3,-1.2 0.3,0.8 0.3,2.8 0.3,1.2 0.3,-1.1 0.3,5.6 0.3,-3.5 0.3,4.9 0.3,-1.2 0.3,4.1 0.3,-3.7 0.3,4.1 0.3,-0.8 0.3,-0.6 0.3,5.1 0.3,-2.5 0.3,7.8 0.3,0.8 0.3,-0.2 0.3,0.3 0.3,2.1 0.3,3.4 0.3,-1.4 0.3,0.6 0.3,6.7 0.3,1.7 0.3,-2.2 0.3,5.3 0.3,3.3 0.3,1.5 0.3,-0.2 0.3,5.6 0.3,2.8 0.3,-1.6 0.3,2.7 0.3,1.8 0.3,1.6 0.3,2.9 0.3,0.5 0.3,1.4 0.3,5.2 0.3,-2.5 0.3,4 0.3,0.9 0.3,2.2 0.3,4.7 0.3,-1.8 0.3,4 0.3,-0.1 0.3,0.2 0.3,4.3 0.3,-0.8 0.3,0.9 0.3,3.1 0.3,1.4 0.3,1.4 0.3,3.7 0.3,-0.9 0.3,5.4 0.3,-2.9 0.3,4.6 0.3,-0.3 0.3,0 0.3,1.8 0.3,2.4 0.3,0.6 0.3,1.6 0.3,1.9 0.3,-2.4 0.3,4.5 0.3,0.1 0.3,1.3 0.3,1.9 0.3,0.4 0.3,-0.3 0.3,0.1 0.3,3.6 0.3,3 0.3,-3.5 0.3,2.7 0.3,0.3 0.3,1.1 0.3,4.2 0.3,1.6 0.3,-1.2 0.3,2.5 0.3,0.9 0.3,0.2 0.3,4.9 0.3,1.4 0.3,-1.6 0.3,-1.7 0.3,2.1 0.3,2.3 0.3,0.6 0.3,3.7 0.3,0.6 0.3,0.2 0.3,0.5 0.3,5.2 0.3,-0.8 0.3,1.8 0.3,1.7 0.3,0.6 0.3,4.4 0.3,-2.2 0.3,5.7 0.3,-2.5 0.3,-0.1 0.3,1.4 0.3,3.7 0.3,-0.3 0.3,0 0.3,0 0.3,0.2 0.3,4.8 0.3,0.9 0.3,-6 0.3,8.5 0.3,-1.5 0.3,2.4 0.3,1.8 0.3,1.1 0.3,-2 0.3,0.4 0.3,1.9 0.3,0.2 0.3,0.4 0.3,1.8 0.3,1.7 0.3,-0.4 0.3,5.4 0.3,-0.5 0.3,2.3 0.3,-3.2 0.3,3.2 0.3,1.6 0.3,-0.8 0.3,7.4 0.3,-3.3 0.3,2.3 0.3,-1.2 0.3,2.6 0.3,0.2 0.3,0.2 0.3,2 0.3,1.7 0.3,-2.9 0.3,1.7 0.3,0.5 0.3,-0.6 0.3,1.4 0.3,2.6 0.3,3 0.3,1.4 0.3,2.5 0.3,-3.2 0.3,1.8 0.3,2.4 0.3,2.1 0.3,6.9 0.3,-3.1 0.3,1.4 0.3,2.1 0.3,0.4 0.3,4.5 0.3,0 0.3,6.5 0.3,-3.8 0.3,7 0.3,-0.8" fill="none" stroke="#2c5aa8" stroke-width="1.7" stroke-linejoin="round"/>
</g>
<line x1="755.3" y1="1773.9" x2="802.6" y2="1773.9" stroke="#e63329" stroke-width="1.6"/>
<text x="807.8" y="1783.7" font-size="28.8" fill="#000">Orb</text>
<line x1="755.3" y1="1809" x2="802.6" y2="1809" stroke="#9b68ae" stroke-width="1.6"/>
<text x="807.8" y="1818.8" font-size="28.8" fill="#000">OrbGHG</text>
<line x1="755.3" y1="1843" x2="802.6" y2="1843" stroke="#2c5aa8" stroke-width="1.6"/>
<text x="807.8" y="1852.8" font-size="28.8" fill="#000">OrbGHGICE</text>
<text x="67" y="1653" font-size="33" text-anchor="middle" transform="rotate(-90 67 1653)" fill="#231f20">North Pacific</text>
<text x="107.4" y="1650" font-size="33" text-anchor="middle" transform="rotate(-90 107.4 1650)" fill="#231f20">wind stress (N/m<tspan font-size="21" dy="-8.5">2</tspan><tspan dy="8.5">)</tspan></text>
<text x="-0.6" y="1672" font-size="50" font-weight="bold" textLength="31.5" lengthAdjust="spacingAndGlyphs" fill="#231f20">d</text>
<text x="595.5" y="1976.5" font-size="33" text-anchor="middle" fill="#231f20">Age (ka)</text>
<g clip-path="url(#clipe)" shape-rendering="geometricPrecision">
<rect x="1250.7" y="112.5" width="635.6" height="475.9" fill="#f6ecaa"/>
<path d="M1240.8,142L1240.8,136.4L1247.3,142L1270.6,152.4L1300.4,182.8L1330.2,213.8L1359.9,229.1L1389.7,221.1L1419.5,206.1L1449.3,191.4L1479.1,179.1L1508.9,170.5L1538.7,165.7L1568.5,160.3L1598.3,157.2L1628.1,154.6L1657.9,153.6L1687.7,153.4L1717.5,158.3L1747.1,229.8L1733.4,317.6L1717.5,362.4L1687.7,385.9L1657.9,395.6L1635.7,405.5L1654.2,493.3L1628.1,533.4L1598.3,542L1568.5,529L1538.7,499.6L1534.3,493.3L1508.9,471.2L1479.1,470.7L1449.3,480.5L1431.4,493.3L1419.5,505.2L1389.7,542.8L1359.9,559.2L1330.2,548.5L1312.7,493.3L1317.1,405.5L1300.4,358.6L1270.6,337.2L1240.8,320.3L1240.8,317.6L1240.8,229.8ZM1776.8,142L1777.1,141.7L1806.8,135.9L1816,142L1806.8,150.3L1777.1,142.5ZM1881.2,317.6L1896.2,269.8L1896.2,317.6L1896.2,405.5L1896.2,474.9L1866.4,433L1855.5,405.5L1866.4,365ZM1240.8,669L1240.8,660.7L1270.6,661.8L1272.8,669L1270.6,669Z" fill="#f5dc84" fill-rule="evenodd"/>
<path d="M1240.8,229.8L1240.8,177.9L1270.6,187.2L1300.4,215.6L1315.7,229.8L1330.2,275.6L1359.9,262.9L1389.7,240.9L1400.8,229.8L1419.5,219.3L1449.3,202.8L1479.1,192.3L1508.9,185.1L1538.7,182L1568.5,179.4L1598.3,177.5L1628.1,175.9L1657.9,176.9L1687.7,182.5L1717.5,217.9L1722.4,229.8L1717.5,257.6L1703.4,317.6L1687.7,339.7L1657.9,357.4L1628.1,367L1598.3,383.8L1568.5,398.2L1556.8,405.5L1538.7,427.3L1508.9,439.9L1479.1,449.5L1449.3,462.6L1419.5,482.3L1410.4,493.3L1389.7,520.2L1359.9,531.8L1330.2,497.7L1328.8,493.3L1330.2,459.6L1332.2,405.5L1330.2,381.5L1303,317.6L1300.4,310.9L1270.6,298.6L1240.8,281.7ZM1883.1,405.5L1896.2,364L1896.2,405.5L1896.2,427.6ZM1582.4,493.3L1598.3,464.1L1613.9,493.3L1598.3,501.8Z" fill="#eec96a" fill-rule="evenodd"/>
<path d="M1240.8,229.8L1240.8,217.2L1270.6,222L1279,229.8L1270.6,242.3L1240.8,242.4ZM1423.5,229.8L1449.3,214.3L1479.1,205.6L1508.9,199.7L1538.7,198.3L1568.5,198.4L1598.3,197.8L1628.1,197.1L1657.9,200.1L1687.7,211.6L1700.7,229.8L1687.7,277.5L1660.2,317.6L1657.9,319.3L1628.1,324.9L1598.3,333.1L1568.5,359.7L1538.7,384.2L1512.6,405.5L1508.9,408.6L1479.1,428.2L1449.3,444.8L1419.5,461.5L1393.1,493.3L1389.7,497.6L1359.9,504.4L1350.8,493.3L1347.1,405.5L1345.3,317.6L1359.9,297L1389.7,264.4L1419.5,234.4Z" fill="#e4b050" fill-rule="evenodd"/>
<path d="M1442.5,229.8L1449.3,225.7L1479.1,218.8L1508.9,214.3L1538.7,214.7L1568.5,217.5L1598.3,218L1628.1,218.4L1657.9,223.3L1670.5,229.8L1657.9,249.5L1628.1,264.3L1598.3,269.7L1572,317.6L1568.5,321.1L1538.7,354.2L1508.9,383.5L1481.3,405.5L1479.1,407L1449.3,426.9L1419.5,440.7L1389.7,457.6L1363.1,405.5L1367.1,317.6L1389.7,287.9L1419.5,256.5Z" fill="#e08c3a" fill-rule="evenodd"/>
<path d="M1501.1,229.8L1508.9,228.9L1522.4,229.8L1538.7,252.1L1544.5,317.6L1538.7,324.2L1508.9,359L1479.1,384.4L1454.7,405.5L1449.3,409.1L1419.5,419.8L1389.7,413.4L1385.7,405.5L1385,317.6L1389.7,311.5L1419.5,278.6L1449.3,246.1L1479.1,234.7Z" fill="#d66c2c" fill-rule="evenodd"/>
<path d="M1404.4,317.6L1419.5,300.7L1449.3,271.5L1479.1,262.9L1508.9,280.4L1522.9,317.6L1508.9,334.5L1479.1,361.6L1449.3,378.7L1419.5,380.2Z" fill="#c5562c" fill-rule="evenodd"/>
<path d="M1426.2,317.6L1449.3,297L1479.1,291.2L1501.5,317.6L1479.1,338.9L1449.3,345Z" fill="#a14030" fill-rule="evenodd"/>
<path d="M1240.8,54.1L1270.6,54.1L1300.4,54.1L1330.2,54.1L1359.9,54.1L1389.7,54.1L1419.5,54.1L1449.3,54.1L1479.1,54.1L1508.9,54.1L1538.7,54.1L1568.5,54.1L1598.3,54.1L1628.1,54.1L1657.9,54.1L1687.7,54.1L1717.5,54.1L1747,54.1L1717.5,120.1L1687.7,128.3L1657.9,132.7L1628.1,134.9L1598.3,137.6L1568.5,141.1L1566.4,142L1538.7,149.4L1508.9,155.9L1479.1,165.8L1449.3,179.9L1419.5,192.8L1389.7,204.6L1359.9,207.2L1330.2,186.8L1300.4,150.1L1292.6,142L1270.6,114.8L1240.8,70.8ZM1748.5,54.1L1777.1,54.1L1806.8,54.1L1833.1,54.1L1806.8,84L1777.1,80.4ZM1798.1,229.8L1806.8,221.3L1836.6,226.4L1839.3,229.8L1838.2,317.6L1836.6,325.5L1806.8,357.5L1777.1,341.8L1768.7,317.6L1777.1,281.7ZM1240.8,405.5L1240.8,351L1270.6,366.8L1300.4,401.2L1301.9,405.5L1300.4,432.5L1295.6,493.3L1300.4,530.1L1314.3,581.1L1330.2,588.6L1359.9,586L1366.6,581.1L1389.7,565.4L1419.5,530.2L1449.3,503.4L1473.5,493.3L1479.1,491.9L1484.5,493.3L1508.9,511.1L1538.7,551.4L1568.5,572.9L1595,581.1L1598.3,582.1L1628.1,583L1632.5,581.1L1657.9,562.9L1687.7,509.8L1704.2,493.3L1717.5,471.4L1747.3,482.6L1777.1,482.3L1806.8,452.7L1836.6,451.7L1857.3,493.3L1866.4,501.1L1896.2,517.8L1896.2,581.1L1896.2,669L1866.4,669L1836.6,669L1806.8,669L1777.1,669L1747.3,669L1717.5,669L1687.7,669L1657.9,669L1628.1,669L1598.3,669L1568.5,669L1538.7,669L1508.9,669L1479.1,669L1449.3,669L1419.5,669L1389.7,669L1359.9,669L1330.2,669L1300.4,669L1287.6,669L1270.6,614.1L1240.8,607.7L1240.8,581.1L1240.8,493.3Z" fill="#bde4ec" fill-rule="evenodd"/>
<path d="M1257.7,54.1L1270.6,54.1L1300.4,54.1L1330.2,54.1L1359.9,54.1L1389.7,54.1L1419.5,54.1L1449.3,54.1L1479.1,54.1L1508.9,54.1L1538.7,54.1L1568.5,54.1L1598.3,54.1L1628.1,54.1L1657.9,54.1L1687.7,54.1L1717.5,54.1L1733.5,54.1L1717.5,89.9L1687.7,105.9L1657.9,114.1L1628.1,117.4L1598.3,119.9L1568.5,116.5L1538.7,124.4L1508.9,140.8L1507.4,142L1479.1,152.5L1449.3,168.5L1419.5,179.6L1389.7,188.2L1359.9,185.4L1330.2,159.9L1316.2,142L1300.4,104.9L1270.6,76ZM1240.8,405.5L1240.8,381.6L1270.6,396.3L1278.2,405.5L1274.9,493.3L1270.6,528.6L1240.8,543.2L1240.8,493.3ZM1396.5,581.1L1419.5,555.2L1449.3,539.4L1479.1,538L1508.9,571.9L1516.8,581.1L1538.7,603.1L1568.5,616.7L1598.3,621.8L1628.1,628.2L1657.9,641.4L1687.7,598.3L1702.4,581.1L1717.5,564.5L1747.3,555.7L1777.1,549.7L1806.8,537.3L1836.6,543.1L1866.4,565.9L1896.2,557.8L1896.2,581.1L1896.2,669L1866.4,669L1836.6,669L1806.8,669L1777.1,669L1747.3,669L1717.5,669L1687.7,669L1657.9,669L1628.1,669L1598.3,669L1568.5,669L1538.7,669L1508.9,669L1479.1,669L1449.3,669L1419.5,669L1389.7,669L1359.9,669L1330.2,669L1301.8,669L1330.2,609.6L1359.9,610.3L1389.7,588Z" fill="#9fd3df" fill-rule="evenodd"/>
<path d="M1298.3,54.1L1300.4,54.1L1330.2,54.1L1359.9,54.1L1389.7,54.1L1419.5,54.1L1449.3,54.1L1479.1,54.1L1508.9,54.1L1538.7,54.1L1568.5,54.1L1598.3,54.1L1628.1,54.1L1657.9,54.1L1687.7,54.1L1717.5,54.1L1720,54.1L1717.5,59.7L1687.7,83.5L1657.9,95.4L1628.1,99.9L1598.3,102.3L1568.5,91.9L1538.7,92.4L1508.9,113.8L1479.1,129.2L1475.2,142L1449.3,157L1419.5,166.4L1389.7,171.8L1359.9,163.5L1337.7,142L1330.2,102.4L1300.4,55.7ZM1418.7,581.1L1419.5,580.2L1449.3,575.3L1468,581.1L1479.1,585.8L1508.9,632.7L1538.7,654.9L1568.5,660.5L1598.3,661.4L1617.8,669L1598.3,669L1568.5,669L1538.7,669L1508.9,669L1479.1,669L1449.3,669L1419.5,669L1389.7,669L1359.9,669L1330.2,669L1311.8,669L1330.2,630.5L1359.9,634.7L1389.7,610.6ZM1701,669L1717.5,648.2L1747.3,622.3L1777.1,610.6L1806.8,630.9L1836.6,611.7L1866.4,630.8L1896.2,597.8L1896.2,669L1866.4,669L1836.6,669L1806.8,669L1777.1,669L1747.3,669L1717.5,669Z" fill="#82bdd3" fill-rule="evenodd"/>
<path d="M1355.2,54.1L1359.9,54.1L1389.7,54.1L1419.5,54.1L1449.3,54.1L1479.1,54.1L1508.9,54.1L1538.7,54.1L1568.5,54.1L1598.3,54.1L1628.1,54.1L1657.9,54.1L1687.7,54.1L1695.9,54.1L1687.7,61.1L1657.9,76.8L1628.1,82.4L1598.3,84.7L1568.5,67.2L1538.7,60.4L1508.9,86.7L1479.1,65.8L1455.5,142L1449.3,145.6L1419.5,153.2L1389.7,155.4L1360.5,142L1359.9,131.8ZM1321.8,669L1330.2,651.5L1359.9,659.1L1389.7,633.3L1419.5,605.3L1449.3,611.3L1479.1,634.5L1498.1,669L1479.1,669L1449.3,669L1419.5,669L1389.7,669L1359.9,669L1330.2,669ZM1876.7,669L1896.2,637.8L1896.2,669Z" fill="#62a7cb" fill-rule="evenodd"/>
<path d="M1400.4,54.1L1419.5,54.1L1449.3,54.1L1463.3,54.1L1449.3,99.3L1419.5,120.2ZM1502.9,54.1L1508.9,54.1L1515,54.1L1508.9,59.7ZM1580.1,54.1L1598.3,54.1L1628.1,54.1L1657.9,54.1L1665,54.1L1657.9,58.2L1628.1,64.9L1598.3,67ZM1375,669L1389.7,655.9L1419.5,630.3L1449.3,647.2L1469.4,669L1449.3,669L1419.5,669L1389.7,669Z" fill="#4f94c1" fill-rule="evenodd"/>
<path d="M1433.9,112.9 1432.2,118.3 1431.4,120.8 1435.5,123.3 1436.8,125.3 1434.7,126.6 1428.5,125.7 1424.8,127.8 1420.6,130.7 1416.9,131.5 1415.2,128.2 1418.1,124.1 1416.5,119.9 1412.8,120.4 1409.4,118.3 1406.1,116.5 1403.8,118.3 1403.2,124.5 1399.9,123.3 1396.2,124.7 1392.9,123.3 1390.8,122.3 1387.9,125.7 1386.7,123.3 1378.0,123.3 1373.0,123.9 1369.7,125.3 1367.2,128.2 1365.1,133.2 1362.2,136.9 1360.2,142.3 1358.1,147.7 1354.8,152.2 1351.1,158.0 1348.6,163.8 1345.7,171.3 1341.9,177.9 1337.8,184.5 1333.7,190.7 1330.8,193.6 1331.2,197.0 1333.3,199.0 1335.3,199.9 1337.8,198.6 1338.9,211.4 1340.3,206.1 1344.0,204.4 1342.4,216.0 1346.9,213.5 1348.6,208.6 1350.2,205.7 1353.1,205.2 1356.4,207.7 1358.1,211.9 1360.6,216.0 1363.5,220.1 1362.7,225.9 1361.8,230.0M1343.6,189.1 1346.5,192.4 1344.0,198.2 1341.9,194.5 1343.6,189.1M1365.1,230.0 1365.5,225.9 1365.1,218.5 1367.6,215.2 1369.7,209.4 1368.4,204.0 1369.7,202.8 1370.9,203.2 1372.2,213.5 1373.4,225.9 1373.8,230.0M1470.0,112.9 1466.3,119.1 1462.9,124.9 1460.5,131.5 1457.1,138.2 1453.4,144.0 1449.7,147.7 1445.5,148.8 1446.4,153.1 1445.1,159.7 1441.8,162.6 1440.4,167.1 1439.6,173.8 1438.8,180.4 1438.5,188.7 1439.1,197.0 1440.2,205.2 1441.0,213.5 1441.6,221.8 1442.2,230.0M1489.0,112.9 1487.0,115.0 1484.5,113.1 1481.2,114.1 1479.5,117.5 1478.7,123.3 1477.0,129.0 1474.5,134.8 1472.7,141.5 1473.3,148.1 1476.2,146.0 1478.3,148.9 1479.5,150.2 1477.8,154.7 1476.6,160.5 1477.4,164.7 1479.5,168.0 1479.7,172.9 1477.4,176.3 1475.8,172.1 1473.3,174.2 1471.2,178.7 1470.6,184.5 1471.4,191.2 1473.3,195.7 1471.6,199.9 1468.3,199.0 1464.6,201.5 1462.5,205.2 1461.4,211.9 1461.9,220.1 1458.4,221.4 1455.5,225.1 1454.2,230.0M1479.9,136.5 1482.0,130.7 1484.5,126.1 1486.1,129.0 1483.6,133.2 1479.9,136.5M1495.2,116.6 1496.1,113.7 1497.3,113.3M1515.9,112.9 1517.6,113.7M1493.2,187.8 1498.1,197.4M1528.4,225.1 1530.4,223.9 1532.9,226.4 1530.8,227.6 1528.4,225.1M1362.2,225.0 1361.8,231.6 1363.7,237.0 1361.4,244.0 1359.6,251.5 1358.5,259.8 1358.9,268.1 1359.6,276.3 1359.1,284.6 1357.9,293.7 1354.8,301.2 1351.5,308.6 1348.6,316.1 1346.9,324.4 1344.8,332.7 1342.4,340.1 1340.3,345.0M1366.0,225.0 1365.4,230.0 1364.7,236.6 1365.1,243.2 1367.2,248.2 1367.9,256.5 1367.4,266.4 1367.6,276.3 1367.9,284.6 1366.4,290.4 1367.4,297.9 1368.0,306.2 1367.9,314.4 1367.6,320.2 1365.5,325.2 1366.0,330.2 1367.2,336.0 1367.6,333.5 1369.7,326.9 1372.2,325.2 1374.8,331.0 1374.7,322.7 1372.6,316.9 1370.5,309.5 1368.9,304.5 1369.7,299.5 1370.7,292.9 1371.8,286.3 1373.4,282.6 1376.7,282.1 1379.6,286.3 1378.6,278.0 1377.1,268.1 1375.7,258.1 1374.2,248.2 1372.6,239.1 1373.4,231.6 1373.0,225.0M1441.3,225.0 1442.6,233.3 1443.6,241.6 1444.1,249.8 1444.6,256.9 1448.0,252.3 1450.8,245.7 1453.3,238.3 1455.0,230.0 1455.8,225.0M1436.4,268.1 1439.3,264.8 1441.7,259.8 1441.7,263.9 1440.1,268.9 1436.8,271.4 1436.4,268.1M1418.6,321.5 1421.0,316.1M1407.0,340.1 1409.0,334.3 1412.3,330.6 1410.3,336.0 1407.0,340.1M1401.6,345.0 1403.2,342.6M1344.0,340.0 1341.1,345.8 1337.8,352.4 1334.5,359.0 1332.8,364.0 1332.0,369.8 1329.9,375.6 1327.0,378.9 1324.1,383.1 1321.2,386.8 1319.6,387.6 1316.7,384.7 1315.8,379.8 1315.4,378.3 1312.9,378.5 1311.7,383.1 1309.6,388.9 1307.6,389.7 1307.1,393.0 1303.8,396.3 1302.2,400.5 1301.3,406.3 1301.8,412.0 1301.8,417.0 1298.9,421.2 1296.0,426.1 1292.2,430.7 1289.8,432.3 1290.2,436.1 1289.6,441.9 1291.4,445.2 1293.9,450.1 1295.5,455.9 1296.4,460.0M1250.0,428.6 1252.5,426.1 1255.0,419.5 1257.5,415.4 1260.8,416.6 1262.4,422.8 1260.8,428.6 1258.3,434.4 1257.5,438.6 1259.1,443.5 1257.0,449.3 1259.9,446.8 1262.4,441.9 1264.1,438.6 1267.8,435.2 1271.9,432.6 1275.7,435.2 1279.4,439.4 1278.2,447.7 1276.5,455.9 1275.7,460.0M1366.4,343.3 1364.7,347.5 1365.5,354.1 1365.1,361.5 1363.9,369.0 1363.0,375.6 1362.2,378.9 1359.3,379.3 1358.5,383.1 1356.8,387.2 1355.2,391.3 1356.0,398.0 1356.4,406.3 1357.7,405.4 1362.2,400.9 1360.1,397.1 1358.1,393.0 1359.3,390.5 1361.4,393.0 1363.5,390.5 1366.4,389.3 1369.3,393.0 1373.4,398.4 1374.2,393.0 1375.9,388.0 1378.8,383.1 1381.7,383.1 1384.2,379.8 1387.5,376.4 1385.0,375.6 1384.6,371.5 1383.3,368.6 1384.2,364.0 1381.7,367.3 1378.0,365.7 1374.2,361.5 1370.9,354.9 1368.4,348.3 1366.4,343.3M1352.7,460.0 1354.3,451.0 1356.0,443.5 1356.8,435.2 1356.8,427.0 1356.8,419.5 1357.7,413.7 1358.5,411.6 1360.1,414.9 1362.6,414.9 1363.9,412.9 1363.5,408.7 1361.0,406.3 1359.7,408.7 1358.5,411.6M1363.9,412.9 1365.1,419.5 1366.4,427.0 1366.9,435.2 1366.4,443.5 1365.1,451.0 1364.7,455.9 1362.6,457.6 1361.8,460.0M1393.3,359.5 1396.6,352.4 1399.9,346.6 1401.6,345.8 1399.1,350.8 1395.8,356.6 1393.3,359.5M1385.8,369.0 1389.1,361.9M1403.2,343.3 1404.9,341.7M1276.5,455.0 1275.3,460.0 1277.7,464.5 1282.3,465.8 1284.8,469.9 1286.0,475.7 1283.5,479.4 1284.4,485.6 1285.6,491.4 1286.4,496.4 1284.8,503.0 1284.4,509.7 1284.8,516.3 1285.6,520.0 1288.9,514.6 1293.1,511.3 1296.8,509.2 1299.3,504.7 1300.5,496.4 1300.7,488.1 1300.5,479.8 1299.7,471.6 1298.0,463.3 1295.1,455.0M1250.0,469.9 1253.3,466.6 1255.0,466.2 1256.6,469.9 1260.8,471.1 1264.5,472.8 1263.3,477.4 1262.4,479.8 1261.2,478.2 1258.3,481.5 1255.4,484.0 1254.1,489.8 1251.7,493.9 1250.0,496.4M1250.0,519.6 1251.7,521.3 1252.9,529.5 1254.1,537.8 1255.4,546.1 1257.9,550.2 1259.9,556.0 1260.4,561.8 1257.5,562.7 1259.1,566.8 1260.8,572.6 1258.7,575.9 1255.8,579.2 1253.3,583.8 1254.1,585.8 1257.5,585.0 1260.8,588.4M1353.5,455.0 1352.7,460.0 1350.2,464.1 1349.0,469.9 1346.9,474.0 1343.6,477.4 1340.7,480.7 1341.1,475.7 1341.5,469.9 1339.4,473.2 1338.6,479.8 1337.0,485.6 1335.3,491.4 1334.9,497.2 1334.1,501.4 1332.0,498.1 1324.5,500.1 1318.3,501.8 1315.4,508.0 1312.1,513.8 1308.4,519.6 1308.4,525.4 1311.7,525.4 1314.2,526.2 1315.4,521.7 1319.6,519.2 1323.7,516.3 1327.8,512.1 1332.4,513.8 1331.2,519.6 1330.7,527.0 1332.0,532.8 1334.1,534.5 1336.1,527.0 1339.0,520.4 1337.8,514.6 1339.4,509.7 1340.7,512.1 1342.8,516.3 1346.9,516.3 1349.4,509.7 1350.6,516.3 1351.0,507.2 1353.5,505.5 1355.2,503.9 1356.0,510.1 1358.1,507.2 1358.9,502.2 1360.1,496.4 1359.7,489.8 1360.1,481.5 1361.4,473.2 1361.8,464.9 1362.2,458.3 1364.3,456.7 1364.7,455.0M1324.9,520.4 1327.4,522.9 1327.4,527.9 1325.8,532.8 1324.9,537.0 1322.9,533.7 1320.4,537.0 1318.7,545.3 1316.3,542.8 1315.4,536.2 1317.1,529.5 1318.7,525.4 1321.2,526.2 1322.5,522.1 1324.9,520.4M1308.0,527.0 1304.7,529.5 1302.2,534.5 1300.7,537.8 1302.2,544.9 1304.2,545.3 1303.8,540.3 1305.5,541.1 1306.3,546.1 1306.3,551.9 1304.7,554.4 1304.7,561.8 1304.7,569.3 1307.6,571.8 1310.5,567.6 1311.3,561.0 1312.5,552.7 1313.8,544.4 1312.9,537.8 1311.7,531.2 1309.6,530.4 1308.0,527.0M1662.9,112.9 1663.7,116.6 1665.4,120.8 1664.1,124.9 1664.9,129.0 1666.6,132.4 1669.1,129.9 1676.1,129.9 1678.2,134.0 1679.9,137.7 1681.9,132.8 1687.7,132.8 1688.1,137.3 1687.3,143.1 1686.9,150.6 1683.6,156.4 1679.9,162.2 1674.5,167.6 1672.8,172.1 1671.6,175.8 1667.8,176.7 1663.7,178.7 1661.2,182.0 1659.6,187.0 1655.4,189.9 1651.7,193.2 1648.8,197.8 1648.4,200.3 1649.2,202.8 1651.7,200.3 1655.4,196.1 1658.7,192.8 1662.9,189.9 1666.2,185.4 1671.2,182.9 1676.1,179.6 1681.1,176.3 1681.5,173.8 1682.3,170.0 1686.5,166.3 1691.9,161.3 1693.9,154.7 1697.7,149.8 1701.8,144.8 1705.5,140.2 1707.6,134.8 1709.7,130.3 1707.2,127.0 1705.5,125.7 1706.4,122.4 1709.3,119.1 1711.7,117.0 1713.8,112.9M1637.2,112.9 1638.9,114.6 1641.3,115.4 1643.8,113.7 1645.1,112.9M1652.1,112.9 1653.4,116.6 1655.4,118.3 1658.7,117.9 1660.4,115.0 1661.2,112.9M1718.0,112.9 1717.5,117.5 1719.6,120.4 1717.5,125.7 1722.5,124.9 1725.8,120.8 1729.1,115.8 1730.8,112.9 1734.9,113.7M1713.8,137.7 1716.3,141.1 1714.2,143.5 1711.7,145.6 1714.6,147.7 1715.9,152.2 1711.7,154.7 1709.3,160.5 1705.5,164.2 1701.8,156.4 1705.9,149.8 1710.1,143.1 1713.8,137.7M1636.4,207.7 1640.5,207.7 1640.5,212.7 1637.2,216.0 1634.3,218.1 1636.4,212.7 1636.4,207.7M1628.9,216.0 1632.2,215.2 1630.6,221.0 1628.1,225.1 1625.6,227.6 1627.3,221.8 1628.9,216.0M1595.4,238.4 1598.3,236.7 1599.5,233.4M1577.2,240.4 1579.4,243.1 1578.3,246.4M1583.8,244.2 1585.8,240.6 1588.2,243.7 1583.8,244.2M1759.0,112.9 1769.0,112.9 1772.3,115.8 1775.6,117.5 1778.9,117.9 1781.4,114.1 1782.4,116.6 1782.7,120.8 1787.2,125.7 1791.3,131.5 1795.5,137.3 1799.2,142.3 1800.5,148.1 1803.8,154.7 1805.4,161.3 1806.7,168.0 1807.9,173.8 1808.6,168.0 1808.1,159.7 1807.5,149.8 1806.3,144.8 1803.8,141.1 1806.3,140.2 1806.9,134.0 1808.1,137.3 1808.6,145.6 1809.4,153.1 1810.2,159.7 1812.9,151.4 1814.9,155.5 1817.4,161.8 1813.7,159.7 1811.2,163.0 1810.4,168.0 1811.2,171.7 1813.7,171.3 1813.9,176.3 1814.9,181.2 1817.0,186.2 1819.5,191.2 1821.6,197.4 1822.4,192.8 1822.0,187.0 1820.7,181.2 1818.7,176.3 1817.4,172.5 1820.3,174.6 1822.8,174.6 1822.8,181.2 1824.5,186.2 1826.5,191.2 1829.0,195.3 1832.8,193.6 1831.9,197.8 1831.1,201.9 1832.6,205.2 1829.4,209.0 1830.7,213.5 1831.9,217.7 1834.4,221.8 1836.5,225.9 1837.7,230.1 1840.6,233.4 1842.3,237.5 1843.5,242.5 1844.3,245.0M1816.6,205.2 1820.3,206.2 1824.5,206.5 1823.2,213.5 1823.6,219.3 1824.6,224.3 1823.5,228.4 1825.3,231.7 1827.8,239.6 1824.5,235.1 1822.4,230.9 1821.2,225.1 1819.9,219.3 1817.0,215.2 1816.6,205.2M1842.3,240.0 1844.6,246.6 1845.6,253.1 1849.3,257.8 1854.0,261.1 1857.8,265.3 1861.5,271.9 1865.2,278.4 1869.5,275.6 1869.5,283.1 1872.3,288.7 1873.7,296.2 1874.6,303.7 1873.2,311.2 1870.9,310.7 1872.7,307.4 1870.9,301.8 1867.1,300.0 1862.4,298.5 1861.3,296.7 1861.0,300.9 1862.4,307.4 1863.8,314.9 1864.8,322.4 1865.4,329.9 1869.5,332.3 1866.0,332.7 1866.0,338.4 1866.2,344.9 1865.2,352.4 1865.1,360.8 1864.8,367.4 1863.8,374.0 1862.9,381.5 1862.4,388.0 1863.4,394.6 1864.8,401.1 1865.4,407.7 1864.8,414.2 1863.8,420.0M1844.6,258.3 1842.3,260.6 1843.7,266.2 1847.4,270.9 1851.2,275.1 1852.1,280.3 1855.9,285.0 1859.6,287.8 1860.6,292.5 1864.3,296.2 1867.1,297.1 1868.5,294.3 1867.1,288.7 1864.3,282.2 1861.5,275.6 1858.7,269.0 1857.3,267.2 1853.1,264.4 1848.4,261.5 1844.6,258.3M1864.8,415.0 1863.4,420.6 1863.2,425.3 1864.8,430.0 1866.2,435.6 1866.4,442.2 1866.7,446.9 1868.1,451.5 1870.1,456.2 1870.7,461.8 1872.3,462.8 1874.1,460.0 1874.6,462.8 1873.2,466.5 1875.1,469.3 1873.2,471.2 1874.4,476.8 1876.5,477.8 1876.5,486.2 1875.6,488.1 1877.9,491.8 1880.2,498.4 1882.6,504.9 1883.5,508.7 1883.2,516.2 1886.3,518.0" fill="none" stroke="#000" stroke-width="1.15" stroke-linejoin="round"/>
</g>
<rect x="1250.7" y="112.5" width="635.6" height="475.9" fill="none" stroke="#000" stroke-width="1"/>
<path d="M1250.7,112.5v-16.5M1250.7,588.4v16.5" stroke="#000" stroke-width="1.1"/>
<path d="M1303.7,112.5v-8M1303.7,588.4v8" stroke="#000" stroke-width="1.1"/>
<path d="M1356.6,112.5v-8M1356.6,588.4v8" stroke="#000" stroke-width="1.1"/>
<path d="M1409.6,112.5v-16.5M1409.6,588.4v16.5" stroke="#000" stroke-width="1.1"/>
<path d="M1462.6,112.5v-8M1462.6,588.4v8" stroke="#000" stroke-width="1.1"/>
<path d="M1515.5,112.5v-8M1515.5,588.4v8" stroke="#000" stroke-width="1.1"/>
<path d="M1568.5,112.5v-16.5M1568.5,588.4v16.5" stroke="#000" stroke-width="1.1"/>
<path d="M1621.5,112.5v-8M1621.5,588.4v8" stroke="#000" stroke-width="1.1"/>
<path d="M1674.4,112.5v-8M1674.4,588.4v8" stroke="#000" stroke-width="1.1"/>
<path d="M1727.4,112.5v-16.5M1727.4,588.4v16.5" stroke="#000" stroke-width="1.1"/>
<path d="M1780.4,112.5v-8M1780.4,588.4v8" stroke="#000" stroke-width="1.1"/>
<path d="M1833.3,112.5v-8M1833.3,588.4v8" stroke="#000" stroke-width="1.1"/>
<path d="M1886.3,112.5v-16.5M1886.3,588.4v16.5" stroke="#000" stroke-width="1.1"/>
<path d="M1250.7,112.5h-16.5M1886.3,112.5h16.5" stroke="#000" stroke-width="1.1"/>
<path d="M1250.7,144.2h-8M1886.3,144.2h8" stroke="#000" stroke-width="1.1"/>
<path d="M1250.7,176h-8M1886.3,176h8" stroke="#000" stroke-width="1.1"/>
<path d="M1250.7,207.7h-8M1886.3,207.7h8" stroke="#000" stroke-width="1.1"/>
<path d="M1250.7,239.4h-8M1886.3,239.4h8" stroke="#000" stroke-width="1.1"/>
<path d="M1250.7,271.1h-16.5M1886.3,271.1h16.5" stroke="#000" stroke-width="1.1"/>
<path d="M1250.7,302.9h-8M1886.3,302.9h8" stroke="#000" stroke-width="1.1"/>
<path d="M1250.7,334.6h-8M1886.3,334.6h8" stroke="#000" stroke-width="1.1"/>
<path d="M1250.7,366.3h-8M1886.3,366.3h8" stroke="#000" stroke-width="1.1"/>
<path d="M1250.7,398h-8M1886.3,398h8" stroke="#000" stroke-width="1.1"/>
<path d="M1250.7,429.8h-16.5M1886.3,429.8h16.5" stroke="#000" stroke-width="1.1"/>
<path d="M1250.7,461.5h-8M1886.3,461.5h8" stroke="#000" stroke-width="1.1"/>
<path d="M1250.7,493.2h-8M1886.3,493.2h8" stroke="#000" stroke-width="1.1"/>
<path d="M1250.7,524.9h-8M1886.3,524.9h8" stroke="#000" stroke-width="1.1"/>
<path d="M1250.7,556.7h-8M1886.3,556.7h8" stroke="#000" stroke-width="1.1"/>
<path d="M1250.7,588.4h-16.5M1886.3,588.4h16.5" stroke="#000" stroke-width="1.1"/>
<text x="1227.6" y="122" font-size="26.3" text-anchor="end" fill="#000">60N</text>
<text x="1227.6" y="280.6" font-size="26.3" text-anchor="end" fill="#000">50N</text>
<text x="1227.6" y="439.3" font-size="26.3" text-anchor="end" fill="#000">40N</text>
<text x="1227.6" y="597.9" font-size="26.3" text-anchor="end" fill="#000">30N</text>
<text x="1253.2" y="634" font-size="25.7" text-anchor="middle" fill="#000">120E</text>
<text x="1406.4" y="634" font-size="25.7" text-anchor="middle" fill="#000">150E</text>
<text x="1567.8" y="634" font-size="25.7" text-anchor="middle" fill="#000">180</text>
<text x="1728.8" y="634" font-size="25.7" text-anchor="middle" fill="#000">150W</text>
<text x="1887.1" y="634" font-size="25.7" text-anchor="middle" fill="#000">120W</text>
<rect x="1919.3" y="162.2" width="33.5" height="31.2" fill="#7b2b25" stroke="#000" stroke-width="1"/>
<rect x="1919.3" y="193.4" width="33.5" height="31.2" fill="#a14030" stroke="#000" stroke-width="1"/>
<rect x="1919.3" y="224.5" width="33.5" height="31.2" fill="#c5562c" stroke="#000" stroke-width="1"/>
<rect x="1919.3" y="255.7" width="33.5" height="31.2" fill="#d66c2c" stroke="#000" stroke-width="1"/>
<rect x="1919.3" y="286.9" width="33.5" height="31.2" fill="#e08c3a" stroke="#000" stroke-width="1"/>
<rect x="1919.3" y="318" width="33.5" height="31.2" fill="#e4b050" stroke="#000" stroke-width="1"/>
<rect x="1919.3" y="349.2" width="33.5" height="31.2" fill="#eec96a" stroke="#000" stroke-width="1"/>
<rect x="1919.3" y="380.4" width="33.5" height="31.2" fill="#f5dc84" stroke="#000" stroke-width="1"/>
<rect x="1919.3" y="411.5" width="33.5" height="31.2" fill="#f6ecaa" stroke="#000" stroke-width="1"/>
<rect x="1919.3" y="442.7" width="33.5" height="31.2" fill="#bde4ec" stroke="#000" stroke-width="1"/>
<rect x="1919.3" y="473.9" width="33.5" height="31.2" fill="#9fd3df" stroke="#000" stroke-width="1"/>
<rect x="1919.3" y="505" width="33.5" height="31.2" fill="#82bdd3" stroke="#000" stroke-width="1"/>
<text x="1981.4" y="193.4" font-size="26.3" text-anchor="middle" transform="rotate(-90 1981.4 193.4)" fill="#000">1.6</text>
<text x="1981.4" y="255.7" font-size="26.3" text-anchor="middle" transform="rotate(-90 1981.4 255.7)" fill="#000">1.2</text>
<text x="1981.4" y="318" font-size="26.3" text-anchor="middle" transform="rotate(-90 1981.4 318)" fill="#000">0.8</text>
<text x="1981.4" y="380.4" font-size="26.3" text-anchor="middle" transform="rotate(-90 1981.4 380.4)" fill="#000">0.4</text>
<text x="1981.4" y="442.7" font-size="26.3" text-anchor="middle" transform="rotate(-90 1981.4 442.7)" fill="#000">0</text>
<text x="1981.4" y="505" font-size="26.3" text-anchor="middle" transform="rotate(-90 1981.4 505)" fill="#000">-0.4</text>
<text x="1350.8" y="43" font-size="32.5" textLength="439" lengthAdjust="spacingAndGlyphs" fill="#231f20">Difference in zonal wind (m/s)</text>
<text x="1295.7" y="82.8" font-size="32.5" textLength="542.5" lengthAdjust="spacingAndGlyphs" fill="#231f20">Pmin (127 ka BP) - Pmax (97 ka BP)</text>
<text x="1236" y="43.5" font-size="50" font-weight="bold" fill="#231f20">e</text>
<g clip-path="url(#clipf)" shape-rendering="geometricPrecision">
<rect x="1247.5" y="799.3" width="655.1" height="490.8" fill="#bde4ec"/>
<path d="M1237.3,829.7L1237.3,807.7L1249.1,829.7L1237.3,902.9ZM1884.1,1101.4L1912.8,1076.5L1912.8,1101.4L1912.8,1192L1912.8,1282.6L1912.8,1373.2L1882.1,1373.2L1851.4,1373.2L1820.7,1373.2L1790,1373.2L1759.3,1373.2L1728.6,1373.2L1697.9,1373.2L1667.2,1373.2L1636.5,1373.2L1605.8,1373.2L1575,1373.2L1544.3,1373.2L1524.1,1373.2L1513.6,1290L1511.7,1282.6L1482.9,1232.6L1452.2,1210.7L1424.9,1192L1452.2,1162.9L1482.9,1154.2L1513.6,1159.1L1544.3,1165.8L1575,1172.8L1605.8,1177L1636.5,1177.5L1667.2,1173.2L1697.9,1165.3L1728.6,1162.5L1759.3,1166.1L1790,1172.5L1820.7,1166.4L1851.4,1142.9L1882.1,1104.8ZM1251.2,1282.6L1268,1271L1298.7,1252.2L1329.4,1241.9L1341.1,1282.6L1351.2,1373.2L1329.4,1373.2L1298.7,1373.2L1268,1373.2L1237.3,1373.2L1237.3,1293.7Z" fill="#f6ecaa" fill-rule="evenodd"/>
<path d="M1905.3,1101.4L1912.8,1094.9L1912.8,1101.4L1912.8,1192L1912.8,1282.6L1912.8,1349.6L1882.1,1340.1L1852.6,1282.6L1851.4,1277L1833.3,1192L1851.4,1178.6L1882.1,1141.7ZM1720,1192L1728.6,1190.6L1739.4,1192L1759.3,1202.3L1790,1249.3L1798.9,1282.6L1820.7,1371.4L1821.7,1373.2L1820.7,1373.2L1790,1373.2L1759.3,1373.2L1728.6,1373.2L1697.9,1373.2L1667.2,1373.2L1636.5,1373.2L1605.8,1373.2L1575,1373.2L1551.2,1373.2L1564.5,1282.6L1575.1,1255.9L1605.8,1237.8L1636.5,1232.3L1667.2,1224.2L1697.9,1204.4ZM1262.6,1373.2L1268,1368.7L1298.7,1369.7L1300.5,1373.2L1298.7,1373.2L1268,1373.2Z" fill="#f3dc84" fill-rule="evenodd"/>
<path d="M1870.8,1192L1882.1,1178.5L1912.8,1136.6L1912.8,1192L1912.8,1273.4L1882.1,1235.4ZM1583.4,1373.2L1605.8,1329.6L1636.5,1311.7L1667.2,1306.4L1697.9,1304.2L1728.6,1306.3L1759.3,1325.2L1778.3,1373.2L1759.3,1373.2L1728.6,1373.2L1697.9,1373.2L1667.2,1373.2L1636.5,1373.2L1605.8,1373.2Z" fill="#ecc965" fill-rule="evenodd"/>
<path d="M1237.3,739.1L1268,739.1L1298.7,739.1L1329.4,739.1L1360.1,739.1L1390.8,739.1L1421.5,739.1L1452.2,739.1L1482.9,739.1L1513.6,739.1L1544.3,739.1L1575,739.1L1605.8,739.1L1636.5,739.1L1667.2,739.1L1697.9,739.1L1728.6,739.1L1759.3,739.1L1786.1,739.1L1790,741.4L1820.7,750.2L1851.4,744.5L1857,739.1L1882.1,739.1L1912.8,739.1L1912.8,829.7L1912.8,920.2L1912.8,1010.8L1912.8,1058.1L1882.1,1082.7L1856,1101.4L1851.4,1107.2L1820.7,1131.8L1790,1141.1L1759.3,1137.6L1728.6,1134.3L1697.9,1134.7L1667.2,1140.7L1636.5,1143.8L1605.8,1141.2L1575,1133.1L1544.3,1119.1L1517.4,1101.4L1513.6,1100.1L1482.9,1090.6L1452.2,1086.6L1421.5,1091.8L1404.5,1101.4L1390.8,1126.4L1360.1,1145.8L1329.4,1158.5L1298.7,1171.6L1268,1184.3L1237.3,1162.2L1237.3,1101.4L1237.3,1010.8L1237.3,1005.8L1268,950.6L1291.9,920.2L1290.5,829.7L1268,784.8L1237.3,743ZM1416.6,1282.6L1421.5,1279.1L1435.8,1282.6L1452.2,1290.5L1482.9,1344.6L1491.1,1373.2L1482.9,1373.2L1452.2,1373.2L1421.5,1373.2L1411.6,1373.2Z" fill="#9fd3df" fill-rule="evenodd"/>
<path d="M1340.9,829.7L1360.1,793.7L1390.8,762.3L1421.5,763.4L1452.2,756.2L1469.3,739.1L1482.9,739.1L1513.6,739.1L1544.3,739.1L1575,739.1L1605.8,739.1L1636.5,739.1L1667.2,739.1L1697.9,739.1L1728.6,739.1L1734.4,739.1L1759.3,756L1790,773.1L1820.7,780.8L1851.4,774.2L1882.1,745L1887.3,739.1L1912.8,739.1L1912.8,829.7L1912.8,920.2L1912.8,1010.8L1912.8,1039.6L1882.1,1062.1L1851.4,1081.4L1820.7,1098.1L1810.9,1101.4L1790,1109.6L1759.3,1109.2L1728.6,1106.1L1697.9,1104.2L1667.2,1108.2L1636.5,1110L1605.8,1105.4L1594.8,1101.4L1575.1,1095.4L1544.3,1084.3L1513.6,1073.8L1482.9,1064L1452.2,1055.6L1421.5,1052.9L1390.8,1058.4L1360.1,1074.5L1334,1101.4L1329.4,1104L1298.7,1113.3L1268,1106.4L1264.5,1101.4L1268,1086.6L1290.2,1010.8L1298.7,1000L1329.4,954L1337,920.2Z" fill="#82bdd3" fill-rule="evenodd"/>
<path d="M1401.5,829.7L1421.5,816L1452.2,795.7L1482.9,772.1L1513.6,770.8L1544.3,758.9L1575,742.5L1587.5,739.1L1605.8,739.1L1625.2,739.1L1636.5,741.5L1647.8,739.1L1667.2,739.1L1676,739.1L1697.9,749.4L1728.6,770.4L1759.3,788.9L1790,804.8L1820.7,811.4L1851.4,803.9L1882.1,775.4L1912.8,740.6L1912.8,829.7L1912.8,920.2L1912.8,1010.8L1912.8,1021.2L1882.1,1041.4L1851.4,1057.5L1820.7,1071.3L1790,1081.4L1759.3,1082.1L1728.6,1078.5L1697.9,1074.9L1667.2,1076.1L1636.5,1076.6L1605.8,1072.4L1575,1065.1L1544.3,1056.8L1513.6,1047.6L1482.9,1037.5L1452.2,1024.5L1421.5,1014L1408.7,1010.8L1390.8,979.7L1380.8,920.2L1390.8,865.2Z" fill="#62a7cb" fill-rule="evenodd"/>
<path d="M1467.4,829.7L1482.9,822.4L1513.6,812.9L1544.3,802.3L1575,789.8L1605.8,781L1636.5,781.6L1667.2,777.9L1697.9,789L1728.6,805.9L1759.3,821.8L1775.4,829.7L1790,837.6L1820.7,844.5L1851.4,835L1855.8,829.7L1882.1,805.8L1912.8,770.1L1912.8,829.7L1912.8,920.2L1912.8,997.9L1898.3,1010.8L1882.1,1020.8L1851.4,1033.7L1820.7,1044.5L1790,1054.4L1759.3,1055.5L1728.6,1051L1697.9,1045.8L1667.2,1044L1636.5,1043.2L1605.8,1039.8L1575,1034.9L1544.3,1029.2L1513.6,1021.4L1482.9,1010.9L1482.8,1010.8L1452.2,975.1L1421.5,925.7L1419.4,920.2L1421.5,913.5L1452.2,842.4Z" fill="#4f94c1" fill-rule="evenodd"/>
<path d="M1599.5,829.7L1605.8,827.8L1636.5,821.7L1667.2,821.2L1697.9,828.6L1700.2,829.7L1728.6,845.4L1759.3,860.5L1790,874.5L1820.7,881.4L1851.4,875.3L1882.1,841.8L1887.4,829.7L1912.8,799.5L1912.8,829.7L1912.8,920.2L1912.8,968.2L1882.1,986.4L1851.4,1007.4L1846.9,1010.8L1820.7,1017.6L1790,1027.3L1759.3,1028.9L1728.6,1023.5L1697.9,1016.7L1667.2,1011.9L1651.5,1010.8L1636.5,1008.6L1605.8,1002.9L1575,996.9L1544.3,989.9L1513.6,975.9L1482.9,949.4L1459.2,920.2L1482.9,888L1513.6,864.8L1544.3,852.2L1575,840.8Z" fill="#3f7cb1" fill-rule="evenodd"/>
<path d="M1912.2,829.7L1912.8,828.9L1912.8,829.7L1912.8,920.2L1912.8,938.5L1882.1,939.1L1851.4,929.1L1820.7,926.4L1790,954.8L1759.3,974.4L1728.6,966.7L1697.9,953.5L1667.2,944L1636.5,936.2L1605.8,930.7L1575,928.4L1544.3,927L1523.5,920.2L1544.3,913.7L1575,911.8L1605.8,908.4L1636.5,900.7L1667.2,893.2L1697.9,891.1L1728.6,893.1L1759.3,901L1790,911.4L1820.7,918.2L1851.4,915.7L1882.1,897.9Z" fill="#2a5f9e" fill-rule="evenodd"/>
<path d="M1436.3,799.7 1434.6,805.3 1433.7,807.8 1438.0,810.4 1439.3,812.5 1437.1,813.8 1430.7,812.9 1426.9,815.1 1422.6,818.1 1418.8,818.9 1417.1,815.5 1420.1,811.2 1418.4,807.0 1414.5,807.4 1411.1,805.3 1407.7,803.4 1405.3,805.3 1404.7,811.7 1401.3,810.4 1397.5,811.9 1394.0,810.4 1391.9,809.4 1388.9,812.9 1387.6,810.4 1378.7,810.4 1373.6,811.1 1370.1,812.5 1367.6,815.5 1365.4,820.6 1362.5,824.5 1360.3,830.0 1358.2,835.6 1354.8,840.3 1350.9,846.3 1348.4,852.2 1345.4,859.9 1341.5,866.8 1337.3,873.6 1333.0,880.0 1330.0,883.0 1330.4,886.4 1332.6,888.5 1334.7,889.4 1337.3,888.1 1338.4,901.3 1339.8,895.8 1343.7,894.1 1342.0,906.0 1346.7,903.5 1348.4,898.4 1350.1,895.4 1353.1,894.9 1356.5,897.5 1358.2,901.8 1360.8,906.0 1363.7,910.3 1362.9,916.3 1362.0,920.5M1343.3,878.3 1346.2,881.7 1343.7,887.7 1341.5,883.8 1343.3,878.3M1365.4,920.5 1365.9,916.3 1365.4,908.6 1368.0,905.2 1370.1,899.2 1368.9,893.7 1370.1,892.4 1371.4,892.8 1372.7,903.5 1374.0,916.3 1374.4,920.5M1473.5,799.7 1469.7,806.1 1466.3,812.1 1463.7,818.9 1460.3,825.8 1456.4,831.7 1452.6,835.6 1448.3,836.7 1449.2,841.1 1447.9,848.0 1444.5,851.0 1443.0,855.7 1442.2,862.5 1441.3,869.3 1441.1,877.9 1441.7,886.4 1442.8,894.9 1443.6,903.5 1444.2,912.0 1444.9,920.5M1493.1,799.7 1491.0,801.8 1488.4,800.0 1485.0,801.0 1483.3,804.4 1482.5,810.4 1480.8,816.4 1478.2,822.3 1476.3,829.2 1476.9,836.0 1479.9,833.9 1482.0,836.9 1483.3,838.1 1481.6,842.8 1480.3,848.8 1481.2,853.1 1483.3,856.5 1483.5,861.6 1481.2,865.0 1479.5,860.8 1476.9,862.9 1474.8,867.6 1474.1,873.6 1475.0,880.4 1476.9,885.1 1475.2,889.4 1471.8,888.5 1468.0,891.1 1465.8,894.9 1464.7,901.8 1465.2,910.3 1461.6,911.6 1458.6,915.4 1457.3,920.5M1483.7,824.1 1485.9,818.1 1488.4,813.4 1490.2,816.4 1487.6,820.6 1483.7,824.1M1499.5,803.6 1500.4,800.6 1501.7,800.1M1520.9,799.7 1522.6,800.6M1497.4,877.0 1502.5,886.8M1533.7,915.4 1535.8,914.2 1538.4,916.7 1536.2,918.0 1533.7,915.4M1362.5,915.3 1362.0,922.2 1364.0,927.7 1361.6,935.0 1359.7,942.7 1358.6,951.2 1359.0,959.7 1359.7,968.3 1359.2,976.8 1358.0,986.2 1354.8,993.9 1351.4,1001.6 1348.4,1009.3 1346.7,1017.8 1344.5,1026.4 1342.0,1034.0 1339.8,1039.1M1366.3,915.3 1365.7,920.4 1365.0,927.3 1365.4,934.1 1367.6,939.2 1368.3,947.8 1367.8,958.0 1368.0,968.3 1368.3,976.8 1366.7,982.8 1367.8,990.5 1368.4,999.0 1368.3,1007.6 1368.0,1013.5 1365.9,1018.7 1366.3,1023.8 1367.6,1029.8 1368.0,1027.2 1370.1,1020.4 1372.7,1018.7 1375.4,1024.6 1375.3,1016.1 1373.1,1010.1 1371.0,1002.4 1369.3,997.3 1370.1,992.2 1371.2,985.4 1372.3,978.5 1374.0,974.7 1377.4,974.3 1380.4,978.5 1379.4,970.0 1377.8,959.7 1376.3,949.5 1374.8,939.2 1373.1,929.8 1374.0,922.2 1373.6,915.3M1444.0,915.3 1445.3,923.9 1446.3,932.4 1446.8,940.9 1447.4,948.2 1450.8,943.5 1453.8,936.7 1456.4,929.0 1458.1,920.4 1458.9,915.3M1438.9,959.7 1441.8,956.3 1444.4,951.2 1444.4,955.5 1442.7,960.6 1439.3,963.2 1438.9,959.7M1420.5,1014.8 1423.1,1009.3M1408.6,1034.0 1410.7,1028.1 1414.1,1024.2 1412.0,1029.8 1408.6,1034.0M1403.0,1039.1 1404.7,1036.6M1343.7,1033.9 1340.7,1039.9 1337.3,1046.7 1333.8,1053.6 1332.1,1058.7 1331.3,1064.7 1329.1,1070.6 1326.2,1074.1 1323.2,1078.3 1320.2,1082.2 1318.5,1083.0 1315.5,1080.0 1314.6,1074.9 1314.2,1073.4 1311.6,1073.6 1310.4,1078.3 1308.2,1084.3 1306.1,1085.2 1305.7,1088.6 1302.3,1092.0 1300.6,1096.3 1299.7,1102.2 1300.1,1108.2 1300.1,1113.4 1297.1,1117.6 1294.2,1122.7 1290.3,1127.4 1287.7,1129.2 1288.2,1133.0 1287.6,1139.0 1289.5,1142.4 1292.0,1147.5 1293.7,1153.5 1294.6,1157.7M1246.8,1125.3 1249.3,1122.7 1251.9,1115.9 1254.5,1111.6 1257.9,1112.9 1259.6,1119.3 1257.9,1125.3 1255.3,1131.3 1254.5,1135.6 1256.2,1140.7 1254.0,1146.7 1257.0,1144.1 1259.6,1139.0 1261.3,1135.6 1265.1,1132.1 1269.4,1129.4 1273.2,1132.1 1277.1,1136.4 1275.8,1145.0 1274.1,1153.5 1273.2,1157.7M1366.7,1037.3 1365.0,1041.6 1365.9,1048.4 1365.4,1056.1 1364.1,1063.8 1363.3,1070.6 1362.4,1074.1 1359.4,1074.5 1358.6,1078.3 1356.9,1082.6 1355.2,1086.9 1356.0,1093.7 1356.5,1102.2 1357.7,1101.4 1362.4,1096.7 1360.3,1092.9 1358.2,1088.6 1359.4,1086.0 1361.6,1088.6 1363.7,1086.0 1366.7,1084.7 1369.7,1088.6 1374.0,1094.1 1374.8,1088.6 1376.5,1083.5 1379.5,1078.3 1382.5,1078.3 1385.1,1074.9 1388.5,1071.5 1385.9,1070.6 1385.5,1066.4 1384.2,1063.4 1385.1,1058.7 1382.5,1062.1 1378.7,1060.4 1374.8,1056.1 1371.4,1049.3 1368.8,1042.5 1366.7,1037.3M1352.6,1157.7 1354.3,1148.4 1356.0,1140.7 1356.9,1132.1 1356.9,1123.6 1356.9,1115.9 1357.7,1109.9 1358.6,1107.8 1360.3,1111.2 1362.9,1111.2 1364.1,1109.1 1363.7,1104.8 1361.2,1102.2 1359.9,1104.8 1358.6,1107.8M1364.1,1109.1 1365.4,1115.9 1366.7,1123.6 1367.3,1132.1 1366.7,1140.7 1365.4,1148.4 1365.0,1153.5 1362.9,1155.2 1362.0,1157.7M1394.4,1054.0 1397.9,1046.7 1401.3,1040.8 1403.0,1039.9 1400.4,1045.0 1397.0,1051.0 1394.4,1054.0M1386.8,1063.8 1390.2,1056.6M1404.7,1037.3 1406.4,1035.6M1274.1,1152.5 1272.8,1157.6 1275.4,1162.3 1280.1,1163.6 1282.6,1167.9 1283.9,1173.9 1281.3,1177.7 1282.2,1184.1 1283.5,1190.1 1284.3,1195.2 1282.6,1202.1 1282.2,1208.9 1282.6,1215.7 1283.5,1219.6 1286.9,1214.0 1291.2,1210.6 1295.0,1208.5 1297.6,1203.8 1298.8,1195.2 1299.0,1186.7 1298.8,1178.1 1298.0,1169.6 1296.3,1161.1 1293.3,1152.5M1246.8,1167.9 1250.2,1164.5 1251.9,1164.1 1253.6,1167.9 1257.9,1169.2 1261.7,1170.9 1260.4,1175.6 1259.6,1178.1 1258.3,1176.4 1255.3,1179.9 1252.3,1182.4 1251.0,1188.4 1248.5,1192.7 1246.8,1195.2M1246.8,1219.1 1248.5,1220.9 1249.8,1229.4 1251.0,1237.9 1252.3,1246.5 1254.9,1250.7 1257.0,1256.7 1257.4,1262.7 1254.5,1263.6 1256.2,1267.8 1257.9,1273.8 1255.7,1277.2 1252.8,1280.6 1250.2,1285.3 1251.0,1287.5 1254.5,1286.6 1257.9,1290.1M1353.5,1152.5 1352.6,1157.6 1350.1,1161.9 1348.8,1167.9 1346.6,1172.2 1343.2,1175.6 1340.2,1179.0 1340.7,1173.9 1341.1,1167.9 1339.0,1171.3 1338.1,1178.1 1336.4,1184.1 1334.7,1190.1 1334.3,1196.1 1333.4,1200.4 1331.3,1196.9 1323.6,1199.1 1317.2,1200.8 1314.2,1207.2 1310.8,1213.2 1307.0,1219.1 1307.0,1225.1 1310.4,1225.1 1312.9,1226.0 1314.2,1221.3 1318.5,1218.7 1322.7,1215.7 1327.0,1211.5 1331.7,1213.2 1330.4,1219.1 1330.0,1226.8 1331.3,1232.8 1333.4,1234.5 1335.5,1226.8 1338.5,1220.0 1337.3,1214.0 1339.0,1208.9 1340.2,1211.5 1342.4,1215.7 1346.6,1215.7 1349.2,1208.9 1350.5,1215.7 1350.9,1206.3 1353.5,1204.6 1355.2,1202.9 1356.0,1209.3 1358.2,1206.3 1359.0,1201.2 1360.3,1195.2 1359.9,1188.4 1360.3,1179.9 1361.6,1171.3 1362.0,1162.8 1362.4,1155.9 1364.6,1154.2 1365.0,1152.5M1324.0,1220.0 1326.6,1222.6 1326.6,1227.7 1324.9,1232.8 1324.0,1237.1 1321.9,1233.7 1319.3,1237.1 1317.6,1245.6 1315.1,1243.1 1314.2,1236.2 1315.9,1229.4 1317.6,1225.1 1320.2,1226.0 1321.5,1221.7 1324.0,1220.0M1306.5,1226.8 1303.1,1229.4 1300.6,1234.5 1299.0,1237.9 1300.6,1245.2 1302.7,1245.6 1302.3,1240.5 1304.0,1241.3 1304.8,1246.5 1304.8,1252.5 1303.1,1255.0 1303.1,1262.7 1303.1,1270.4 1306.1,1272.9 1309.1,1268.7 1309.9,1261.8 1311.2,1253.3 1312.5,1244.8 1311.6,1237.9 1310.4,1231.1 1308.2,1230.2 1306.5,1226.8M1672.3,799.7 1673.2,803.6 1674.9,807.8 1673.6,812.1 1674.5,816.4 1676.2,819.8 1678.7,817.2 1686.0,817.2 1688.1,821.5 1689.8,825.3 1692.0,820.2 1697.9,820.2 1698.4,824.9 1697.5,830.9 1697.1,838.6 1693.7,844.6 1689.8,850.5 1684.3,856.1 1682.6,860.8 1681.3,864.6 1677.4,865.5 1673.2,867.6 1670.6,871.0 1668.9,876.2 1664.6,879.1 1660.8,882.6 1657.8,887.3 1657.4,889.8 1658.2,892.4 1660.8,889.8 1664.6,885.5 1668.1,882.1 1672.3,879.1 1675.7,874.4 1680.9,871.9 1686.0,868.5 1691.1,865.0 1691.5,862.5 1692.4,858.6 1696.6,854.8 1702.2,849.7 1704.3,842.8 1708.2,837.7 1712.4,832.6 1716.3,827.9 1718.4,822.3 1720.5,817.6 1718.0,814.2 1716.3,812.9 1717.1,809.5 1720.1,806.1 1722.7,804.0 1724.8,799.7M1645.9,799.7 1647.6,801.4 1650.1,802.3 1652.7,800.6 1654.0,799.7M1661.2,799.7 1662.5,803.6 1664.6,805.3 1668.1,804.8 1669.8,801.8 1670.6,799.7M1729.1,799.7 1728.7,804.4 1730.8,807.4 1728.7,812.9 1733.8,812.1 1737.2,807.8 1740.6,802.7 1742.3,799.7 1746.6,800.6M1724.8,825.3 1727.4,828.7 1725.2,831.3 1722.7,833.4 1725.7,835.6 1727.0,840.3 1722.7,842.8 1720.1,848.8 1716.3,852.7 1712.4,844.6 1716.7,837.7 1721.0,830.9 1724.8,825.3M1645.0,897.5 1649.3,897.5 1649.3,902.6 1645.9,906.0 1642.9,908.2 1645.0,902.6 1645.0,897.5M1637.3,906.0 1640.7,905.2 1639.0,911.2 1636.5,915.4 1633.9,918.0 1635.6,912.0 1637.3,906.0M1602.8,929.1 1605.7,927.4 1607.0,924.0M1584.0,931.2 1586.3,934.0 1585.2,937.4M1590.8,935.2 1592.9,931.4 1595.3,934.6 1590.8,935.2M1771.4,799.7 1781.7,799.7 1785.1,802.7 1788.5,804.4 1791.9,804.8 1794.5,801.0 1795.5,803.6 1795.8,807.8 1800.5,812.9 1804.7,818.9 1809.0,824.9 1812.8,830.0 1814.1,836.0 1817.5,842.8 1819.2,849.7 1820.5,856.5 1821.8,862.5 1822.5,856.5 1822.0,848.0 1821.4,837.7 1820.1,832.6 1817.5,828.7 1820.1,827.9 1820.8,821.5 1822.0,824.9 1822.5,833.4 1823.3,841.1 1824.2,848.0 1826.9,839.4 1829.1,843.7 1831.6,850.1 1827.8,848.0 1825.2,851.4 1824.4,856.5 1825.2,860.4 1827.8,859.9 1827.9,865.0 1829.1,870.2 1831.2,875.3 1833.8,880.4 1835.9,886.8 1836.7,882.1 1836.3,876.2 1835.0,870.2 1832.9,865.0 1831.6,861.2 1834.6,863.3 1837.2,863.3 1837.2,870.2 1838.9,875.3 1841.0,880.4 1843.6,884.7 1847.4,883.0 1846.6,887.3 1845.7,891.5 1847.2,894.9 1844.0,898.8 1845.3,903.5 1846.6,907.8 1849.1,912.0 1851.3,916.3 1852.5,920.6 1855.5,924.0 1857.2,928.3 1858.5,933.4 1859.4,935.9M1830.8,894.9 1834.6,896.0 1838.9,896.2 1837.6,903.5 1838.0,909.5 1839.0,914.6 1837.9,918.9 1839.7,922.3 1842.3,930.4 1838.9,925.7 1836.7,921.4 1835.5,915.4 1834.2,909.5 1831.2,905.2 1830.8,894.9M1857.2,930.8 1859.7,937.6 1860.6,944.3 1864.5,949.1 1869.3,952.5 1873.2,956.9 1877.0,963.6 1880.9,970.4 1885.2,967.5 1885.2,975.2 1888.1,981.0 1889.6,988.8 1890.6,996.5 1889.1,1004.2 1886.7,1003.7 1888.6,1000.4 1886.7,994.6 1882.8,992.6 1878.0,991.2 1876.8,989.2 1876.6,993.6 1878.0,1000.4 1879.5,1008.1 1880.4,1015.8 1881.1,1023.5 1885.2,1026.0 1881.7,1026.4 1881.7,1032.2 1881.9,1039.0 1880.9,1046.7 1880.7,1055.4 1880.4,1062.2 1879.5,1068.9 1878.5,1076.7 1878.0,1083.4 1879.0,1090.2 1880.4,1097.0 1881.1,1103.7 1880.4,1110.5 1879.5,1116.5M1859.7,949.6 1857.2,952.0 1858.7,957.8 1862.6,962.7 1866.4,967.0 1867.4,972.3 1871.2,977.2 1875.1,980.1 1876.1,984.9 1879.9,988.8 1882.8,989.7 1884.3,986.8 1882.8,981.0 1879.9,974.3 1877.0,967.5 1874.1,960.7 1872.7,958.8 1868.3,955.9 1863.5,953.0 1859.7,949.6M1880.4,1111.3 1879.0,1117.1 1878.8,1121.9 1880.4,1126.7 1881.9,1132.5 1882.1,1139.3 1882.3,1144.1 1883.8,1148.9 1885.9,1153.8 1886.5,1159.6 1888.1,1160.5 1890.1,1157.6 1890.6,1160.5 1889.1,1164.4 1891.0,1167.3 1889.1,1169.2 1890.4,1175.0 1892.5,1176.0 1892.5,1184.7 1891.5,1186.6 1893.9,1190.5 1896.3,1197.3 1898.8,1204.0 1899.7,1207.9 1899.4,1215.6 1902.6,1217.5" fill="none" stroke="#000" stroke-width="1.15" stroke-linejoin="round"/>
</g>
<rect x="1247.5" y="799.3" width="655.1" height="490.8" fill="none" stroke="#000" stroke-width="1"/>
<path d="M1247.5,799.3v-16.5M1247.5,1290.1v16.5" stroke="#000" stroke-width="1.1"/>
<path d="M1302.1,799.3v-8M1302.1,1290.1v8" stroke="#000" stroke-width="1.1"/>
<path d="M1356.7,799.3v-8M1356.7,1290.1v8" stroke="#000" stroke-width="1.1"/>
<path d="M1411.3,799.3v-16.5M1411.3,1290.1v16.5" stroke="#000" stroke-width="1.1"/>
<path d="M1465.9,799.3v-8M1465.9,1290.1v8" stroke="#000" stroke-width="1.1"/>
<path d="M1520.5,799.3v-8M1520.5,1290.1v8" stroke="#000" stroke-width="1.1"/>
<path d="M1575,799.3v-16.5M1575,1290.1v16.5" stroke="#000" stroke-width="1.1"/>
<path d="M1629.6,799.3v-8M1629.6,1290.1v8" stroke="#000" stroke-width="1.1"/>
<path d="M1684.2,799.3v-8M1684.2,1290.1v8" stroke="#000" stroke-width="1.1"/>
<path d="M1738.8,799.3v-16.5M1738.8,1290.1v16.5" stroke="#000" stroke-width="1.1"/>
<path d="M1793.4,799.3v-8M1793.4,1290.1v8" stroke="#000" stroke-width="1.1"/>
<path d="M1848,799.3v-8M1848,1290.1v8" stroke="#000" stroke-width="1.1"/>
<path d="M1902.6,799.3v-16.5M1902.6,1290.1v16.5" stroke="#000" stroke-width="1.1"/>
<path d="M1247.5,799.3h-16.5M1902.6,799.3h16.5" stroke="#000" stroke-width="1.1"/>
<path d="M1247.5,832h-8M1902.6,832h8" stroke="#000" stroke-width="1.1"/>
<path d="M1247.5,864.7h-8M1902.6,864.7h8" stroke="#000" stroke-width="1.1"/>
<path d="M1247.5,897.5h-8M1902.6,897.5h8" stroke="#000" stroke-width="1.1"/>
<path d="M1247.5,930.2h-8M1902.6,930.2h8" stroke="#000" stroke-width="1.1"/>
<path d="M1247.5,962.9h-16.5M1902.6,962.9h16.5" stroke="#000" stroke-width="1.1"/>
<path d="M1247.5,995.6h-8M1902.6,995.6h8" stroke="#000" stroke-width="1.1"/>
<path d="M1247.5,1028.3h-8M1902.6,1028.3h8" stroke="#000" stroke-width="1.1"/>
<path d="M1247.5,1061.1h-8M1902.6,1061.1h8" stroke="#000" stroke-width="1.1"/>
<path d="M1247.5,1093.8h-8M1902.6,1093.8h8" stroke="#000" stroke-width="1.1"/>
<path d="M1247.5,1126.5h-16.5M1902.6,1126.5h16.5" stroke="#000" stroke-width="1.1"/>
<path d="M1247.5,1159.2h-8M1902.6,1159.2h8" stroke="#000" stroke-width="1.1"/>
<path d="M1247.5,1191.9h-8M1902.6,1191.9h8" stroke="#000" stroke-width="1.1"/>
<path d="M1247.5,1224.7h-8M1902.6,1224.7h8" stroke="#000" stroke-width="1.1"/>
<path d="M1247.5,1257.4h-8M1902.6,1257.4h8" stroke="#000" stroke-width="1.1"/>
<path d="M1247.5,1290.1h-16.5M1902.6,1290.1h16.5" stroke="#000" stroke-width="1.1"/>
<text x="1225" y="808.8" font-size="26.3" text-anchor="end" fill="#000">60N</text>
<text x="1225" y="972.4" font-size="26.3" text-anchor="end" fill="#000">50N</text>
<text x="1225" y="1136" font-size="26.3" text-anchor="end" fill="#000">40N</text>
<text x="1225" y="1299.6" font-size="26.3" text-anchor="end" fill="#000">30N</text>
<text x="1254" y="1337" font-size="25.7" text-anchor="middle" fill="#000">120E</text>
<text x="1407.3" y="1337" font-size="25.7" text-anchor="middle" fill="#000">150E</text>
<text x="1568.7" y="1337" font-size="25.7" text-anchor="middle" fill="#000">180</text>
<text x="1729.5" y="1337" font-size="25.7" text-anchor="middle" fill="#000">150W</text>
<text x="1887.8" y="1337" font-size="25.7" text-anchor="middle" fill="#000">120W</text>
<rect x="1937.4" y="850.4" width="35.1" height="32.1" fill="#ecc965" stroke="#000" stroke-width="1"/>
<rect x="1937.4" y="882.5" width="35.1" height="32.1" fill="#f3dc84" stroke="#000" stroke-width="1"/>
<rect x="1937.4" y="914.6" width="35.1" height="32.1" fill="#f6ecaa" stroke="#000" stroke-width="1"/>
<rect x="1937.4" y="946.7" width="35.1" height="32.1" fill="#bde4ec" stroke="#000" stroke-width="1"/>
<rect x="1937.4" y="978.8" width="35.1" height="32.1" fill="#9fd3df" stroke="#000" stroke-width="1"/>
<rect x="1937.4" y="1010.9" width="35.1" height="32.1" fill="#82bdd3" stroke="#000" stroke-width="1"/>
<rect x="1937.4" y="1043" width="35.1" height="32.1" fill="#62a7cb" stroke="#000" stroke-width="1"/>
<rect x="1937.4" y="1075.2" width="35.1" height="32.1" fill="#4f94c1" stroke="#000" stroke-width="1"/>
<rect x="1937.4" y="1107.3" width="35.1" height="32.1" fill="#3f7cb1" stroke="#000" stroke-width="1"/>
<rect x="1937.4" y="1139.4" width="35.1" height="32.1" fill="#2a5f9e" stroke="#000" stroke-width="1"/>
<rect x="1937.4" y="1171.5" width="35.1" height="32.1" fill="#264682" stroke="#000" stroke-width="1"/>
<rect x="1937.4" y="1203.6" width="35.1" height="32.1" fill="#262a52" stroke="#000" stroke-width="1"/>
<text x="2002" y="882.5" font-size="26.3" text-anchor="middle" transform="rotate(-90 2002 882.5)" fill="#000">1</text>
<text x="2002" y="946.7" font-size="26.3" text-anchor="middle" transform="rotate(-90 2002 946.7)" fill="#000">0</text>
<text x="2002" y="1010.9" font-size="26.3" text-anchor="middle" transform="rotate(-90 2002 1010.9)" fill="#000">-1</text>
<text x="2002" y="1075.2" font-size="26.3" text-anchor="middle" transform="rotate(-90 2002 1075.2)" fill="#000">-2</text>
<text x="2002" y="1139.4" font-size="26.3" text-anchor="middle" transform="rotate(-90 2002 1139.4)" fill="#000">-3</text>
<text x="2002" y="1203.6" font-size="26.3" text-anchor="middle" transform="rotate(-90 2002 1203.6)" fill="#000">-4</text>
<text x="1368.3" y="725.8" font-size="32.5" textLength="439" lengthAdjust="spacingAndGlyphs" fill="#231f20">Difference in zonal wind (m/s)</text>
<text x="1367.8" y="766" font-size="32.5" textLength="460.4" lengthAdjust="spacingAndGlyphs" fill="#231f20">Impact of ice sheet at 91 ka BP</text>
<text x="1238.6" y="725.8" font-size="50" font-weight="bold" fill="#231f20">f</text>
<line x1="1268.2" y1="1424.3" x2="1268.2" y2="1874.5" stroke="#58595b" stroke-width="2"/>
<line x1="1251.2" y1="1424.3" x2="1918.6" y2="1424.3" stroke="#58595b" stroke-width="1.2"/>
<line x1="1918.6" y1="1424.3" x2="1918.6" y2="1890.5" stroke="#58595b" stroke-width="1.2"/>
<line x1="1251.2" y1="1874.5" x2="1918.6" y2="1874.5" stroke="#58595b" stroke-width="1.4"/>
<line x1="1251.2" y1="1424.3" x2="1268.2" y2="1424.3" stroke="#58595b" stroke-width="1.2"/>
<line x1="1258.7" y1="1443" x2="1268.2" y2="1443" stroke="#58595b" stroke-width="1.2"/>
<line x1="1258.7" y1="1461.8" x2="1268.2" y2="1461.8" stroke="#58595b" stroke-width="1.2"/>
<line x1="1258.7" y1="1480.5" x2="1268.2" y2="1480.5" stroke="#58595b" stroke-width="1.2"/>
<line x1="1251.2" y1="1499.3" x2="1268.2" y2="1499.3" stroke="#58595b" stroke-width="1.2"/>
<line x1="1258.7" y1="1518" x2="1268.2" y2="1518" stroke="#58595b" stroke-width="1.2"/>
<line x1="1258.7" y1="1536.8" x2="1268.2" y2="1536.8" stroke="#58595b" stroke-width="1.2"/>
<line x1="1258.7" y1="1555.5" x2="1268.2" y2="1555.5" stroke="#58595b" stroke-width="1.2"/>
<line x1="1251.2" y1="1574.3" x2="1268.2" y2="1574.3" stroke="#58595b" stroke-width="1.2"/>
<line x1="1258.7" y1="1593" x2="1268.2" y2="1593" stroke="#58595b" stroke-width="1.2"/>
<line x1="1258.7" y1="1611.8" x2="1268.2" y2="1611.8" stroke="#58595b" stroke-width="1.2"/>
<line x1="1258.7" y1="1630.5" x2="1268.2" y2="1630.5" stroke="#58595b" stroke-width="1.2"/>
<line x1="1251.2" y1="1649.3" x2="1268.2" y2="1649.3" stroke="#58595b" stroke-width="1.2"/>
<line x1="1258.7" y1="1668" x2="1268.2" y2="1668" stroke="#58595b" stroke-width="1.2"/>
<line x1="1258.7" y1="1686.8" x2="1268.2" y2="1686.8" stroke="#58595b" stroke-width="1.2"/>
<line x1="1258.7" y1="1705.5" x2="1268.2" y2="1705.5" stroke="#58595b" stroke-width="1.2"/>
<line x1="1251.2" y1="1724.3" x2="1268.2" y2="1724.3" stroke="#58595b" stroke-width="1.2"/>
<line x1="1258.7" y1="1743" x2="1268.2" y2="1743" stroke="#58595b" stroke-width="1.2"/>
<line x1="1258.7" y1="1761.8" x2="1268.2" y2="1761.8" stroke="#58595b" stroke-width="1.2"/>
<line x1="1258.7" y1="1780.5" x2="1268.2" y2="1780.5" stroke="#58595b" stroke-width="1.2"/>
<line x1="1251.2" y1="1799.3" x2="1268.2" y2="1799.3" stroke="#58595b" stroke-width="1.2"/>
<line x1="1258.7" y1="1818" x2="1268.2" y2="1818" stroke="#58595b" stroke-width="1.2"/>
<line x1="1258.7" y1="1836.8" x2="1268.2" y2="1836.8" stroke="#58595b" stroke-width="1.2"/>
<line x1="1258.7" y1="1855.5" x2="1268.2" y2="1855.5" stroke="#58595b" stroke-width="1.2"/>
<line x1="1251.2" y1="1874.3" x2="1268.2" y2="1874.3" stroke="#58595b" stroke-width="1.2"/>
<text x="1242" y="1435.9" font-size="29.3" text-anchor="end" fill="#000">14</text>
<text x="1242" y="1510.9" font-size="29.3" text-anchor="end" fill="#000">12</text>
<text x="1242" y="1585.9" font-size="29.3" text-anchor="end" fill="#000">10</text>
<text x="1242" y="1660.9" font-size="29.3" text-anchor="end" fill="#000">8</text>
<text x="1242" y="1735.9" font-size="29.3" text-anchor="end" fill="#000">6</text>
<text x="1242" y="1810.9" font-size="29.3" text-anchor="end" fill="#000">4</text>
<text x="1242" y="1885.9" font-size="29.3" text-anchor="end" fill="#000">2</text>
<line x1="1286.7" y1="1874.5" x2="1286.7" y2="1883.5" stroke="#58595b" stroke-width="1.2"/>
<line x1="1323.8" y1="1874.5" x2="1323.8" y2="1883.5" stroke="#58595b" stroke-width="1.2"/>
<line x1="1361" y1="1874.5" x2="1361" y2="1890.5" stroke="#58595b" stroke-width="1.2"/>
<text x="1361" y="1925.3" font-size="29.3" text-anchor="middle" fill="#000">60°N</text>
<line x1="1398.2" y1="1874.5" x2="1398.2" y2="1883.5" stroke="#58595b" stroke-width="1.2"/>
<line x1="1435.3" y1="1874.5" x2="1435.3" y2="1883.5" stroke="#58595b" stroke-width="1.2"/>
<line x1="1472.5" y1="1874.5" x2="1472.5" y2="1883.5" stroke="#58595b" stroke-width="1.2"/>
<line x1="1509.6" y1="1874.5" x2="1509.6" y2="1883.5" stroke="#58595b" stroke-width="1.2"/>
<line x1="1546.8" y1="1874.5" x2="1546.8" y2="1890.5" stroke="#58595b" stroke-width="1.2"/>
<text x="1546.8" y="1925.3" font-size="29.3" text-anchor="middle" fill="#000">50°N</text>
<line x1="1584" y1="1874.5" x2="1584" y2="1883.5" stroke="#58595b" stroke-width="1.2"/>
<line x1="1621.1" y1="1874.5" x2="1621.1" y2="1883.5" stroke="#58595b" stroke-width="1.2"/>
<line x1="1658.3" y1="1874.5" x2="1658.3" y2="1883.5" stroke="#58595b" stroke-width="1.2"/>
<line x1="1695.4" y1="1874.5" x2="1695.4" y2="1883.5" stroke="#58595b" stroke-width="1.2"/>
<line x1="1732.6" y1="1874.5" x2="1732.6" y2="1890.5" stroke="#58595b" stroke-width="1.2"/>
<text x="1732.6" y="1925.3" font-size="29.3" text-anchor="middle" fill="#000">40°N</text>
<line x1="1769.8" y1="1874.5" x2="1769.8" y2="1883.5" stroke="#58595b" stroke-width="1.2"/>
<line x1="1806.9" y1="1874.5" x2="1806.9" y2="1883.5" stroke="#58595b" stroke-width="1.2"/>
<line x1="1844.1" y1="1874.5" x2="1844.1" y2="1883.5" stroke="#58595b" stroke-width="1.2"/>
<line x1="1881.2" y1="1874.5" x2="1881.2" y2="1883.5" stroke="#58595b" stroke-width="1.2"/>
<line x1="1918.4" y1="1874.5" x2="1918.4" y2="1890.5" stroke="#58595b" stroke-width="1.2"/>
<text x="1918.4" y="1925.3" font-size="29.3" text-anchor="middle" fill="#000">30°N</text>
<path d="M1292.6,1740.1 1395.4,1704.5 1498,1562.5 1601.1,1447 1704.2,1491.6 1806.9,1662.4 1909.6,1834" fill="none" stroke="#e0a23a" stroke-width="1.9" stroke-linejoin="round"/>
<path d="M1292.6,1729.2 1395.4,1707.8 1498,1584.1 1601.1,1455.9 1704.2,1476.8 1806.9,1646.6 1909.6,1821" fill="none" stroke="#ea3338" stroke-width="1.9" stroke-linejoin="round"/>
<path d="M1292.6,1752.1 1395.4,1712.1 1498,1563.7 1601.1,1431.4 1704.2,1462.8 1806.9,1639.4 1909.6,1827.3" fill="none" stroke="#a561b3" stroke-width="1.9" stroke-linejoin="round"/>
<path d="M1292.6,1776.1 1395.4,1774.8 1498,1656.8 1601.1,1525.2 1704.2,1521.7 1806.9,1659.8 1909.6,1821.7" fill="none" stroke="#2b59a9" stroke-width="1.9" stroke-linejoin="round"/>
<line x1="1601.1" y1="1448" x2="1601.1" y2="1874.5" stroke="#2b59a9" stroke-width="1.5" stroke-dasharray="7.5 8.3"/>
<line x1="1704.2" y1="1522.7" x2="1704.2" y2="1874.5" stroke="#2b59a9" stroke-width="1.5" stroke-dasharray="7.5 8.3"/>
<line x1="1272.2" y1="1441.1" x2="1305.4" y2="1441.1" stroke="#a561b3" stroke-width="1.6"/>
<text x="1308.4" y="1447.5" font-size="20.7" fill="#000">127 ka BP_Orb</text>
<line x1="1272.2" y1="1466.1" x2="1305.4" y2="1466.1" stroke="#ea3338" stroke-width="1.6"/>
<text x="1308.4" y="1472.5" font-size="20.7" fill="#000">97 ka BP_Orb</text>
<line x1="1272.2" y1="1492.9" x2="1305.4" y2="1492.9" stroke="#e0a23a" stroke-width="1.6"/>
<text x="1308.4" y="1499.3" font-size="20.7" fill="#000">91 ka BP_OrbGHG</text>
<line x1="1272.2" y1="1517.8" x2="1305.4" y2="1517.8" stroke="#2b59a9" stroke-width="1.6"/>
<text x="1308.4" y="1524.2" font-size="20.7" fill="#000">91 ka BP_OrbGHGICE</text>
<text x="1419.3" y="1790.4" font-size="20.7" fill="#000">91 ka BP_OrbGHG</text>
<text x="1677.6" y="1856.7" font-size="20.7" fill="#000">91 ka BP_OrbGHGICE</text>
<text x="1192.6" y="1651" font-size="33" text-anchor="middle" transform="rotate(-90 1192.6 1651)" fill="#000">Zonal wind (m/s)</text>
<text x="1223.2" y="1393.8" font-size="50" font-weight="bold" textLength="32.6" lengthAdjust="spacingAndGlyphs" fill="#231f20">g</text>
</svg>
</body></html>
